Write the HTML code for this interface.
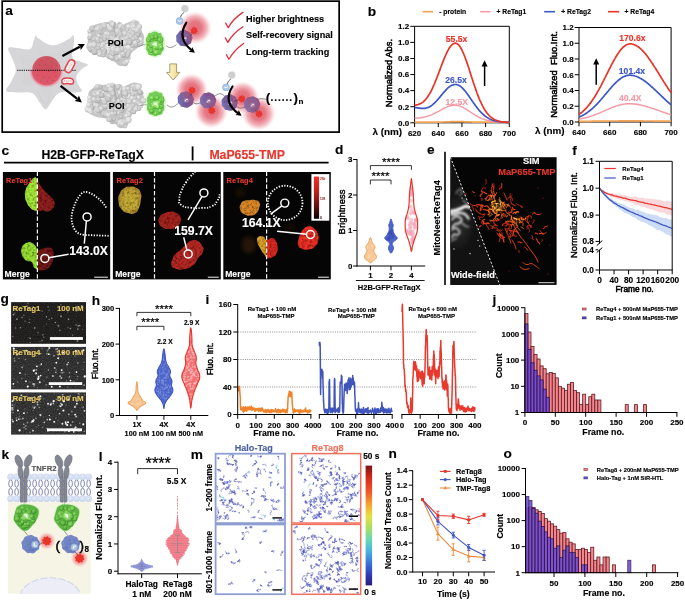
<!DOCTYPE html>
<html lang="en">
<head>
<meta charset="utf-8">
<title>Figure</title>
<style>
html,body{margin:0;padding:0;background:#fff;}
body{width:685px;height:600px;overflow:hidden;}
svg{display:block;font-family:"Liberation Sans", Arial, sans-serif;filter:blur(0.35px);}
text{font-family:"Liberation Sans", Arial, sans-serif;}
</style>
</head>
<body>
<svg width="685" height="600" viewBox="0 0 685 600">
<defs>
<radialGradient id="rglow"><stop offset="0" stop-color="#e0606e" stop-opacity="0.92"/><stop offset="0.4" stop-color="#e26876" stop-opacity="0.85"/><stop offset="0.7" stop-color="#e98490" stop-opacity="0.55"/><stop offset="0.88" stop-color="#f0a0a8" stop-opacity="0.22"/><stop offset="1" stop-color="#f4a8b0" stop-opacity="0"/></radialGradient>
<filter id="soft" x="-10%" y="-10%" width="120%" height="120%"><feGaussianBlur stdDeviation="0.35"/></filter>
<radialGradient id="gp0" cx="0.4" cy="0.35"><stop offset="0" stop-color="#e6e6e6"/><stop offset="0.7" stop-color="#d6d6d6"/><stop offset="1" stop-color="#c0c0c0"/></radialGradient>
<radialGradient id="gp1" cx="0.4" cy="0.35"><stop offset="0" stop-color="#dcdcdc"/><stop offset="0.7" stop-color="#cecece"/><stop offset="1" stop-color="#b8b8b8"/></radialGradient>
<radialGradient id="gp2" cx="0.4" cy="0.35"><stop offset="0" stop-color="#ededed"/><stop offset="0.7" stop-color="#dedede"/><stop offset="1" stop-color="#c8c8c8"/></radialGradient>
<radialGradient id="gp3" cx="0.4" cy="0.35"><stop offset="0" stop-color="#d4d4d4"/><stop offset="0.7" stop-color="#c6c6c6"/><stop offset="1" stop-color="#aeaeae"/></radialGradient>
<radialGradient id="gg0" cx="0.4" cy="0.35"><stop offset="0" stop-color="#9be872"/><stop offset="0.7" stop-color="#78d054"/><stop offset="1" stop-color="#58b23c"/></radialGradient>
<radialGradient id="gg1" cx="0.4" cy="0.35"><stop offset="0" stop-color="#8cdc62"/><stop offset="0.7" stop-color="#6ec64a"/><stop offset="1" stop-color="#52a838"/></radialGradient>
<radialGradient id="gg2" cx="0.4" cy="0.35"><stop offset="0" stop-color="#a8f082"/><stop offset="0.7" stop-color="#84d860"/><stop offset="1" stop-color="#60b844"/></radialGradient>
<radialGradient id="ggc"><stop offset="0" stop-color="#d8ffc0" stop-opacity="0.95"/><stop offset="1" stop-color="#a0ee78" stop-opacity="0"/></radialGradient>
<linearGradient id="gtbase" x1="0" y1="0.7" x2="1" y2="0.3"><stop offset="0" stop-color="#6a78bc"/><stop offset="0.4" stop-color="#785a98"/><stop offset="1" stop-color="#88487c"/></linearGradient>
<radialGradient id="gt0" cx="0.4" cy="0.35"><stop offset="0" stop-color="#8c7cb6"/><stop offset="1" stop-color="#66508c" stop-opacity="0.5"/></radialGradient>
<radialGradient id="gt1" cx="0.4" cy="0.35"><stop offset="0" stop-color="#7c6aa6"/><stop offset="1" stop-color="#58427c" stop-opacity="0.5"/></radialGradient>
<radialGradient id="gball"><stop offset="0" stop-color="#d2d2d2"/><stop offset="0.75" stop-color="#cccccc"/><stop offset="1" stop-color="#d8d8d8" stop-opacity="0.4"/></radialGradient>
<radialGradient id="nuc" cx="0.5" cy="0.45"><stop offset="0" stop-color="#c9505e"/><stop offset="0.8" stop-color="#cf5563"/><stop offset="1" stop-color="#d6606c"/></radialGradient>
<radialGradient id="nucglow"><stop offset="0" stop-color="#ea4c62" stop-opacity="1"/><stop offset="0.8" stop-color="#ee5a70" stop-opacity="0.95"/><stop offset="1" stop-color="#f08090" stop-opacity="0"/></radialGradient>
<linearGradient id="yarrow" x1="0" y1="0" x2="1" y2="0"><stop offset="0" stop-color="#fdf7d6"/><stop offset="0.5" stop-color="#f7e9ae"/><stop offset="1" stop-color="#ead27e"/></linearGradient>
<clipPath id="nlow"><rect x="25" y="70.3" width="45" height="25"/></clipPath>

<filter id="nblur" x="-20%" y="-20%" width="140%" height="140%"><feTurbulence type="fractalNoise" baseFrequency="0.4" numOctaves="2" seed="4" result="n"/><feColorMatrix in="n" type="matrix" values="0 0 0 0 0 0 0 0 0 0 0 0 0 0 0 1.5 0 0 0 -0.6" result="a"/><feGaussianBlur in="SourceGraphic" stdDeviation="0.75" result="b"/><feComposite in="a" in2="b" operator="in" result="d"/><feMerge><feMergeNode in="b"/><feMergeNode in="d"/></feMerge></filter>
<filter id="nblur2" x="-30%" y="-30%" width="160%" height="160%"><feGaussianBlur stdDeviation="2.2"/></filter>
<clipPath id="c1l"><rect x="2.8" y="171.8" width="34.6" height="107.3"/></clipPath>
<clipPath id="c1r"><rect x="37.4" y="171.8" width="72.8" height="107.3"/></clipPath>
<clipPath id="c3l"><rect x="223.3" y="171.8" width="43.3" height="107.3"/></clipPath>
<clipPath id="c3r"><rect x="266.6" y="171.8" width="64.2" height="107.3"/></clipPath>
<clipPath id="c2"><rect x="112.9" y="171.8" width="107.9" height="107.3"/></clipPath>
<linearGradient id="cbar" x1="0" y1="0" x2="0" y2="1"><stop offset="0" stop-color="#f03028"/><stop offset="0.35" stop-color="#c0201c"/><stop offset="0.7" stop-color="#601010"/><stop offset="1" stop-color="#080202"/></linearGradient>
<radialGradient id="ngy" cx="0.5" cy="0.5"><stop offset="0" stop-color="#c8b23a"/><stop offset="0.7" stop-color="#c4a838"/><stop offset="1" stop-color="#b08a30"/></radialGradient>

<clipPath id="eclipL"><path d="M450.4 157.2 L450.4 284.9 L499.8 284.9 Z"/></clipPath>
<clipPath id="eclipR"><path d="M450.4 157.2 L556.6 157.2 L556.6 284.9 L499.8 284.9 Z"/></clipPath>
<filter id="eblur" x="-20%" y="-20%" width="140%" height="140%"><feGaussianBlur stdDeviation="0.85"/></filter>
<filter id="eblur2" x="-20%" y="-20%" width="140%" height="140%"><feGaussianBlur stdDeviation="0.35"/></filter>
<radialGradient id="ecore"><stop offset="0" stop-color="#ffb040" stop-opacity="0.55"/><stop offset="1" stop-color="#ff6020" stop-opacity="0"/></radialGradient>
<radialGradient id="ewf"><stop offset="0" stop-color="#3a3a3a"/><stop offset="1" stop-color="#121212"/></radialGradient>
<filter id="gblur" x="-5%" y="-5%" width="110%" height="110%"><feGaussianBlur stdDeviation="0.6"/></filter><filter id="gnoise" x="0" y="0" width="100%" height="100%"><feTurbulence type="fractalNoise" baseFrequency="0.9" numOctaves="2" seed="7"/><feColorMatrix type="matrix" values="0 0 0 0 1 0 0 0 0 1 0 0 0 0 1 0.9 0 0 0 -0.3"/></filter>
<radialGradient id="kglow"><stop offset="0" stop-color="#f06068" stop-opacity="0.9"/><stop offset="0.6" stop-color="#f4868c" stop-opacity="0.7"/><stop offset="1" stop-color="#f8b0b4" stop-opacity="0"/></radialGradient>
<radialGradient id="kt0" cx="0.4" cy="0.35"><stop offset="0" stop-color="#8ea0dc"/><stop offset="1" stop-color="#5f74b8" stop-opacity="0.6"/></radialGradient>
<radialGradient id="kt1" cx="0.4" cy="0.35"><stop offset="0" stop-color="#8092d0"/><stop offset="1" stop-color="#566aae" stop-opacity="0.6"/></radialGradient>
<radialGradient id="kg0" cx="0.4" cy="0.35"><stop offset="0" stop-color="#84d65c"/><stop offset="0.7" stop-color="#66bc46"/><stop offset="1" stop-color="#4a9c32"/></radialGradient>
<radialGradient id="kg1" cx="0.4" cy="0.35"><stop offset="0" stop-color="#78cc52"/><stop offset="0.7" stop-color="#5cb040"/><stop offset="1" stop-color="#44942e"/></radialGradient>
<radialGradient id="kg2" cx="0.4" cy="0.35"><stop offset="0" stop-color="#90de68"/><stop offset="0.7" stop-color="#70c44e"/><stop offset="1" stop-color="#52a438"/></radialGradient>
<radialGradient id="khead" cx="0.45" cy="0.4"><stop offset="0" stop-color="#e4eaf7"/><stop offset="1" stop-color="#ccd7ee"/></radialGradient>
<clipPath id="kclip"><rect x="7.8" y="454" width="83" height="139.7"/></clipPath>

<linearGradient id="jet" x1="0" y1="0" x2="0" y2="1"><stop offset="0" stop-color="#7a1414"/><stop offset="0.1" stop-color="#d42a1c"/><stop offset="0.22" stop-color="#f0582a"/><stop offset="0.33" stop-color="#f4a830"/><stop offset="0.42" stop-color="#e8e040"/><stop offset="0.52" stop-color="#a8e060"/><stop offset="0.62" stop-color="#68d8b8"/><stop offset="0.72" stop-color="#48b0e0"/><stop offset="0.82" stop-color="#3a70d8"/><stop offset="0.92" stop-color="#3038b0"/><stop offset="1" stop-color="#28207a"/></linearGradient>
</defs>
<rect width="685" height="600" fill="#fff"/>
<g id="panel-a">
<rect x="2.2" y="1.15" width="336.95" height="130.95" fill="none" stroke="#000" stroke-width="1.7"/><text x="5.2" y="14.7" font-size="13.7" font-weight="bold" stroke="#000" stroke-width="0.14">a</text><path d="M36 35.2 C36.92 34.74 35.48 36.65 38.5 38.5 C41.52 40.35 47.09 45.12 52.5 45.3 C57.91 45.48 64.22 41.35 68 39.5 C71.78 37.65 72 34.74 73.1 35.2 C74.2 35.66 74.11 37.95 74 42 C73.89 46.05 71.4 53.72 72.5 57.3 C73.6 60.88 77.19 60.12 80 61.5 C82.81 62.88 87.43 63.42 87.8 64.8 C88.17 66.17 84.07 66.95 82 69 C79.93 71.05 77.23 73.25 76.5 76 C75.77 78.75 77.03 81.25 78 84 C78.97 86.75 82.53 89.44 81.8 91 C81.07 92.56 78 92.22 74 92.5 C70 92.78 64.03 90.94 60 92.5 C55.97 94.06 54.6 97.92 52 101 C49.4 104.08 48 108.93 45.8 109.3 C43.6 109.67 42.48 105.93 40 103 C37.52 100.07 36.33 95.22 32.3 93.3 C28.27 91.38 22.77 92.92 18 92.5 C13.23 92.08 7.58 92.92 6.3 91 C5.02 89.08 9.26 85.85 11 82 C12.74 78.15 15.62 74.4 15.8 70 C15.98 65.6 13.38 61.98 12 58 C10.62 54.02 7.38 50.13 8.3 48.3 C9.22 46.47 13.02 47.87 17 48 C20.98 48.13 26.98 50.28 30 49 C33.02 47.72 32.4 43.53 33.5 41 C34.6 38.47 35.08 35.66 36 35.2Z" fill="#d6d6d8"/><path d="M39.99 49.18 C40.82 48.77 38.81 49.56 41.54 51.23 C44.27 52.9 45.34 55.28 50.22 55.45 C55.1 55.61 56.42 53.52 59.83 51.85 C63.24 50.18 62 48.77 62.99 49.18 C63.98 49.6 63.65 49.75 63.55 53.4 C63.45 57.05 61.63 59.66 62.62 62.89 C63.61 66.11 64.74 64.25 67.27 65.49 C69.8 66.73 71.78 66.3 72.11 67.54 C72.44 68.78 70.38 68.29 68.51 70.14 C66.64 71.99 65.76 72 65.1 74.48 C64.44 76.96 65.15 76.96 66.03 79.44 C66.91 81.92 69.05 82.37 68.39 83.78 C67.72 85.19 67.15 84.46 63.55 84.71 C59.95 84.96 58.51 83.3 54.87 84.71 C51.23 86.12 52.26 87.2 49.91 89.98 C47.56 92.76 48.05 94.8 46.07 95.13 C44.08 95.46 44.7 93.87 42.47 91.22 C40.24 88.57 41.33 86.94 37.7 85.21 C34.06 83.47 33.13 85.09 28.83 84.71 C24.53 84.33 22.73 85.52 21.58 83.78 C20.42 82.04 22.92 81.67 24.49 78.2 C26.06 74.73 27.3 74.73 27.47 70.76 C27.63 66.79 26.35 66.91 25.11 63.32 C23.87 59.73 21.99 58.96 22.82 57.31 C23.64 55.65 24.62 57 28.21 57.12 C31.8 57.24 33.54 58.9 36.27 57.74 C39 56.58 37.45 55.06 38.44 52.78 C39.43 50.5 39.16 49.6 39.99 49.18Z" fill="#d0d0d3" opacity="0.3"/><path d="M20 55 Q26 66 24 84" fill="none" stroke="#cacace" stroke-width="0.4"/><path d="M60 48 Q66 52 74 60" fill="none" stroke="#cacace" stroke-width="0.4"/><path d="M38 92 Q40 98 44 104" fill="none" stroke="#c8c8cc" stroke-width="0.4"/><path d="M50 92 Q50 98 47 104" fill="none" stroke="#c8c8cc" stroke-width="0.4"/><g clip-path="url(#nlow)"><circle cx="46.3" cy="70.6" r="17.2" fill="url(#nucglow)"/></g><circle cx="46.5" cy="70.2" r="14.3" fill="url(#nuc)"/><g clip-path="url(#nlow)"><circle cx="46.5" cy="70.2" r="14.6" fill="#e0566a" opacity="0.75"/></g><circle cx="41.5" cy="60.5" r="0.55" fill="#a83c4c" opacity="0.85"/><circle cx="48" cy="59" r="0.55" fill="#a83c4c" opacity="0.85"/><circle cx="52" cy="61.5" r="0.55" fill="#a83c4c" opacity="0.85"/><circle cx="39.5" cy="65" r="0.55" fill="#a83c4c" opacity="0.85"/><circle cx="45.5" cy="64.5" r="0.55" fill="#a83c4c" opacity="0.85"/><circle cx="51.5" cy="67" r="0.55" fill="#a83c4c" opacity="0.85"/><circle cx="56.5" cy="65.5" r="0.55" fill="#a83c4c" opacity="0.85"/><circle cx="37.5" cy="70" r="0.55" fill="#a83c4c" opacity="0.85"/><circle cx="49" cy="71.5" r="0.55" fill="#a83c4c" opacity="0.85"/><circle cx="54.5" cy="72" r="0.55" fill="#a83c4c" opacity="0.85"/><circle cx="37.5" cy="75.5" r="0.55" fill="#a83c4c" opacity="0.85"/><circle cx="43.5" cy="77" r="0.55" fill="#a83c4c" opacity="0.85"/><circle cx="49.5" cy="77.5" r="0.55" fill="#a83c4c" opacity="0.85"/><circle cx="56" cy="76" r="0.55" fill="#a83c4c" opacity="0.85"/><circle cx="41" cy="81" r="0.55" fill="#a83c4c" opacity="0.85"/><circle cx="47.5" cy="81.5" r="0.55" fill="#a83c4c" opacity="0.85"/><circle cx="53" cy="80.5" r="0.55" fill="#a83c4c" opacity="0.85"/><line x1="17.2" y1="70.3" x2="76.6" y2="70.3" stroke="#000" stroke-width="0.9" stroke-dasharray="1.3 0.9"/><g transform="rotate(-62 69.9 66.2)"><rect x="63.2" y="62.9" width="13.4" height="6.6" rx="3.3" fill="#fdf2f2" stroke="#e0444f" stroke-width="1.5"/><path d="M65.5 66.2 h9" stroke="#f0b8b8" stroke-width="1.6" stroke-dasharray="1.1 1"/></g><g transform="rotate(2 67.6 80.9)"><path d="M61.8 81.6 Q61.6 77.8 67.6 77.9 Q73.6 77.8 73.6 81.4 Q73.6 84.2 70.6 83.9 Q67.6 83 64.6 84 Q61.9 84.4 61.8 81.6Z" fill="#fdf2f2" stroke="#e0444f" stroke-width="1.5"/><path d="M64 81 h7.6" stroke="#f0b8b8" stroke-width="1.6" stroke-dasharray="1.1 1"/></g><line x1="62.4" y1="56.1" x2="79.8" y2="46.66" stroke="#000" stroke-width="2.3"/><path d="M84.9 43.9 L80.77 50.12 L80.15 46.47 L77.43 43.97Z" fill="#000"/><line x1="60.6" y1="85.8" x2="77.33" y2="98.83" stroke="#000" stroke-width="2.3"/><path d="M81.9 102.4 L74.54 101.1 L77.64 99.08 L78.85 95.58Z" fill="#000"/><g filter="url(#soft)"><path d="M86.27 47.29 C86.24 46.08 87.22 43.93 87.53 42.44 C87.84 40.96 88.06 39.91 88.11 38.37 C88.16 36.83 87.71 34.72 87.82 33.23 C87.93 31.74 88.05 30.61 88.79 29.45 C89.53 28.28 91 27.1 92.28 26.25 C93.56 25.39 94.92 24.86 96.45 24.31 C97.99 23.76 99.8 23.25 101.5 22.95 C103.19 22.64 105.15 22.66 106.64 22.46 C108.13 22.27 109.37 21.67 110.42 21.78 C111.47 21.9 112.2 22.51 112.94 23.14 C113.69 23.77 114.2 25.57 114.88 25.57 C115.56 25.57 116.27 23.77 117.02 23.14 C117.76 22.51 118.6 21.82 119.34 21.78 C120.09 21.75 120.83 22.41 121.48 22.95 C122.13 23.48 122.51 24.92 123.22 24.98 C123.94 25.05 124.91 23.76 125.75 23.34 C126.59 22.92 127.2 22.9 128.27 22.46 C129.34 22.03 130.95 21.02 132.15 20.72 C133.35 20.41 134.4 20.49 135.45 20.62 C136.5 20.75 137.71 20.93 138.45 21.49 C139.2 22.06 139.59 23.11 139.91 24.01 C140.23 24.92 140.14 26.04 140.39 26.92 C140.65 27.81 141.19 28.51 141.46 29.35 C141.74 30.19 141.69 31.08 142.04 31.97 C142.4 32.86 143.24 33.73 143.59 34.68 C143.95 35.64 144.27 36.64 144.18 37.69 C144.08 38.74 143.53 39.92 143.01 40.99 C142.5 42.06 141.78 43.12 141.07 44.09 C140.36 45.06 139.6 45.97 138.74 46.81 C137.89 47.65 136.8 48.46 135.93 49.14 C135.06 49.82 134.25 50.24 133.51 50.88 C132.76 51.53 132.02 52.08 131.47 53.02 C130.92 53.96 130.63 55.35 130.21 56.51 C129.79 57.67 129.43 58.9 128.95 60 C128.46 61.1 127.95 62.25 127.3 63.11 C126.65 63.96 125.91 64.66 125.07 65.14 C124.23 65.63 123.21 65.92 122.25 66.02 C121.3 66.11 120.19 65.98 119.34 65.72 C118.5 65.47 117.84 65 117.21 64.46 C116.58 63.93 116.24 63.11 115.56 62.52 C114.88 61.94 113.99 61.39 113.14 60.97 C112.28 60.55 111.39 60.49 110.42 60 C109.45 59.52 108.37 58.69 107.32 58.06 C106.27 57.43 105.31 56.61 104.12 56.22 C102.92 55.83 101.42 55.94 100.14 55.73 C98.86 55.52 97.65 55.31 96.45 54.96 C95.26 54.6 94.03 54.13 92.96 53.6 C91.89 53.07 90.92 52.4 90.05 51.76 C89.18 51.11 88.35 50.46 87.72 49.72 C87.09 48.98 86.3 48.51 86.27 47.29Z" fill="#c6c6c6"/><circle cx="112.6" cy="45.9" r="3.1" fill="url(#gp3)"/><circle cx="112.5" cy="58.9" r="1.9" fill="url(#gp3)"/><circle cx="122.6" cy="56.1" r="1.8" fill="url(#gp2)"/><circle cx="95.0" cy="44.9" r="3.0" fill="url(#gp0)"/><circle cx="120.7" cy="38.7" r="2.3" fill="url(#gp1)"/><circle cx="122.3" cy="57.8" r="1.7" fill="url(#gp0)"/><circle cx="97.7" cy="31.9" r="1.6" fill="url(#gp3)"/><circle cx="105.4" cy="47.2" r="1.9" fill="url(#gp1)"/><circle cx="123.2" cy="43.2" r="2.7" fill="url(#gp3)"/><circle cx="124.1" cy="39.1" r="2.5" fill="url(#gp0)"/><circle cx="127.1" cy="35.1" r="2.0" fill="url(#gp2)"/><circle cx="88.6" cy="46.0" r="1.8" fill="url(#gp0)"/><circle cx="134.9" cy="38.2" r="3.1" fill="url(#gp0)"/><circle cx="89.9" cy="37.8" r="2.7" fill="url(#gp3)"/><circle cx="91.1" cy="48.9" r="2.8" fill="url(#gp2)"/><circle cx="106.0" cy="34.9" r="1.6" fill="url(#gp3)"/><circle cx="129.9" cy="26.4" r="2.0" fill="url(#gp0)"/><circle cx="114.5" cy="51.2" r="1.9" fill="url(#gp1)"/><circle cx="110.7" cy="38.1" r="2.2" fill="url(#gp1)"/><circle cx="121.1" cy="46.6" r="1.7" fill="url(#gp1)"/><circle cx="99.0" cy="32.6" r="2.8" fill="url(#gp2)"/><circle cx="134.0" cy="38.2" r="1.7" fill="url(#gp1)"/><circle cx="120.0" cy="31.9" r="2.6" fill="url(#gp2)"/><circle cx="122.2" cy="26.8" r="2.5" fill="url(#gp1)"/><circle cx="136.1" cy="29.3" r="1.8" fill="url(#gp1)"/><circle cx="133.3" cy="32.2" r="1.9" fill="url(#gp1)"/><circle cx="125.9" cy="38.3" r="2.4" fill="url(#gp0)"/><circle cx="110.8" cy="25.8" r="1.7" fill="url(#gp2)"/><circle cx="100.4" cy="52.2" r="2.0" fill="url(#gp3)"/><circle cx="103.6" cy="29.0" r="2.8" fill="url(#gp0)"/><circle cx="94.1" cy="42.3" r="2.6" fill="url(#gp0)"/><circle cx="102.2" cy="40.8" r="1.7" fill="url(#gp1)"/><circle cx="102.9" cy="44.6" r="3.2" fill="url(#gp0)"/><circle cx="126.1" cy="47.0" r="1.8" fill="url(#gp0)"/><circle cx="139.3" cy="42.1" r="2.2" fill="url(#gp2)"/><circle cx="123.0" cy="42.5" r="2.8" fill="url(#gp2)"/><circle cx="112.6" cy="37.4" r="1.7" fill="url(#gp1)"/><circle cx="106.9" cy="51.4" r="3.0" fill="url(#gp3)"/><circle cx="124.5" cy="37.9" r="1.6" fill="url(#gp0)"/><circle cx="91.5" cy="49.4" r="3.2" fill="url(#gp3)"/><circle cx="128.2" cy="38.3" r="2.8" fill="url(#gp3)"/><circle cx="111.9" cy="58.1" r="1.7" fill="url(#gp0)"/><circle cx="104.5" cy="25.1" r="1.6" fill="url(#gp0)"/><circle cx="115.1" cy="48.3" r="3.1" fill="url(#gp2)"/><circle cx="137.8" cy="37.4" r="1.8" fill="url(#gp1)"/><circle cx="116.3" cy="54.4" r="2.1" fill="url(#gp3)"/><circle cx="115.2" cy="31.9" r="2.2" fill="url(#gp2)"/><circle cx="98.2" cy="40.2" r="2.9" fill="url(#gp1)"/><circle cx="136.8" cy="38.2" r="2.5" fill="url(#gp2)"/><circle cx="98.8" cy="27.2" r="2.2" fill="url(#gp0)"/><circle cx="102.6" cy="28.7" r="2.3" fill="url(#gp2)"/><circle cx="108.6" cy="44.1" r="2.7" fill="url(#gp3)"/><circle cx="102.7" cy="48.0" r="2.7" fill="url(#gp2)"/><circle cx="119.3" cy="34.8" r="2.9" fill="url(#gp0)"/><circle cx="123.3" cy="39.1" r="1.9" fill="url(#gp2)"/><circle cx="100.4" cy="27.4" r="1.7" fill="url(#gp0)"/><circle cx="112.2" cy="49.0" r="2.6" fill="url(#gp2)"/><circle cx="98.2" cy="42.1" r="1.9" fill="url(#gp0)"/><circle cx="129.7" cy="44.8" r="1.7" fill="url(#gp1)"/><circle cx="102.4" cy="36.4" r="2.7" fill="url(#gp1)"/><circle cx="109.2" cy="56.1" r="3.0" fill="url(#gp0)"/><circle cx="108.9" cy="41.1" r="1.9" fill="url(#gp0)"/><circle cx="108.3" cy="46.3" r="3.0" fill="url(#gp2)"/><circle cx="113.2" cy="49.9" r="1.9" fill="url(#gp0)"/><circle cx="117.4" cy="56.0" r="2.1" fill="url(#gp0)"/><circle cx="106.7" cy="24.9" r="2.3" fill="url(#gp3)"/><circle cx="130.5" cy="42.7" r="1.6" fill="url(#gp0)"/><circle cx="111.2" cy="22.8" r="2.5" fill="url(#gp1)"/><circle cx="138.0" cy="44.0" r="2.7" fill="url(#gp3)"/><circle cx="140.6" cy="42.9" r="3.1" fill="url(#gp0)"/><circle cx="129.9" cy="40.6" r="2.5" fill="url(#gp1)"/><circle cx="116.6" cy="58.4" r="2.5" fill="url(#gp2)"/><circle cx="125.0" cy="63.2" r="3.0" fill="url(#gp1)"/><circle cx="104.2" cy="27.4" r="2.5" fill="url(#gp2)"/><circle cx="119.4" cy="30.1" r="2.5" fill="url(#gp0)"/><circle cx="109.6" cy="56.5" r="2.5" fill="url(#gp3)"/><circle cx="92.2" cy="28.6" r="3.1" fill="url(#gp3)"/><circle cx="139.3" cy="33.1" r="2.4" fill="url(#gp1)"/><circle cx="116.7" cy="26.0" r="2.3" fill="url(#gp0)"/><circle cx="139.4" cy="26.9" r="2.8" fill="url(#gp0)"/><circle cx="128.0" cy="32.0" r="2.4" fill="url(#gp3)"/><circle cx="128.4" cy="26.6" r="2.4" fill="url(#gp2)"/><circle cx="127.6" cy="52.1" r="3.0" fill="url(#gp0)"/><circle cx="108.2" cy="39.4" r="2.4" fill="url(#gp1)"/><circle cx="117.4" cy="59.2" r="2.5" fill="url(#gp1)"/><circle cx="117.0" cy="58.7" r="2.6" fill="url(#gp1)"/><circle cx="100.1" cy="53.8" r="2.9" fill="url(#gp1)"/><circle cx="104.8" cy="35.1" r="3.1" fill="url(#gp1)"/><circle cx="131.1" cy="29.8" r="1.8" fill="url(#gp1)"/><circle cx="108.9" cy="40.4" r="3.1" fill="url(#gp1)"/><circle cx="98.3" cy="48.9" r="2.9" fill="url(#gp0)"/><circle cx="98.3" cy="51.3" r="3.1" fill="url(#gp2)"/><circle cx="93.5" cy="43.5" r="2.8" fill="url(#gp1)"/><circle cx="132.4" cy="42.4" r="1.6" fill="url(#gp3)"/><circle cx="95.2" cy="29.4" r="1.9" fill="url(#gp1)"/><circle cx="140.9" cy="41.6" r="2.8" fill="url(#gp2)"/><circle cx="109.1" cy="40.0" r="2.2" fill="url(#gp1)"/><circle cx="126.7" cy="58.4" r="1.9" fill="url(#gp3)"/><circle cx="107.3" cy="37.5" r="3.1" fill="url(#gp1)"/><circle cx="105.3" cy="25.0" r="2.9" fill="url(#gp3)"/><circle cx="119.2" cy="29.6" r="2.5" fill="url(#gp2)"/><circle cx="132.6" cy="32.6" r="3.1" fill="url(#gp1)"/><circle cx="133.1" cy="39.1" r="3.0" fill="url(#gp2)"/><circle cx="109.9" cy="53.0" r="1.7" fill="url(#gp2)"/><circle cx="104.0" cy="25.7" r="3.0" fill="url(#gp0)"/><circle cx="124.7" cy="36.1" r="2.7" fill="url(#gp1)"/><circle cx="117.1" cy="38.4" r="3.2" fill="url(#gp1)"/><circle cx="126.7" cy="54.7" r="3.2" fill="url(#gp0)"/><circle cx="100.4" cy="40.8" r="2.4" fill="url(#gp1)"/><circle cx="101.6" cy="33.4" r="2.1" fill="url(#gp3)"/><circle cx="132.8" cy="24.6" r="2.6" fill="url(#gp0)"/><circle cx="135.4" cy="45.1" r="2.6" fill="url(#gp3)"/><circle cx="140.5" cy="39.7" r="2.4" fill="url(#gp2)"/><circle cx="107.6" cy="33.8" r="2.6" fill="url(#gp2)"/><circle cx="124.5" cy="54.1" r="1.6" fill="url(#gp1)"/><circle cx="120.1" cy="49.1" r="2.3" fill="url(#gp3)"/><circle cx="89.9" cy="35.1" r="2.2" fill="url(#gp2)"/><circle cx="111.3" cy="42.3" r="3.2" fill="url(#gp1)"/><circle cx="100.8" cy="52.3" r="1.7" fill="url(#gp3)"/><circle cx="112.8" cy="30.2" r="1.7" fill="url(#gp1)"/><circle cx="94.0" cy="40.7" r="2.7" fill="url(#gp3)"/><circle cx="121.0" cy="49.4" r="2.7" fill="url(#gp2)"/><circle cx="131.0" cy="44.6" r="3.2" fill="url(#gp2)"/><circle cx="128.6" cy="31.7" r="1.8" fill="url(#gp2)"/><circle cx="131.4" cy="48.7" r="2.2" fill="url(#gp2)"/><circle cx="121.5" cy="53.1" r="2.7" fill="url(#gp1)"/><circle cx="122.8" cy="54.4" r="1.9" fill="url(#gp1)"/><circle cx="115.4" cy="50.0" r="1.9" fill="url(#gp0)"/><circle cx="89.1" cy="31.0" r="2.0" fill="url(#gp0)"/><circle cx="138.7" cy="28.3" r="2.0" fill="url(#gp2)"/><circle cx="114.4" cy="36.8" r="2.1" fill="url(#gp3)"/><circle cx="129.2" cy="58.1" r="1.7" fill="url(#gp0)"/><circle cx="112.3" cy="57.4" r="2.9" fill="url(#gp1)"/><circle cx="112.1" cy="54.1" r="2.2" fill="url(#gp1)"/><circle cx="107.8" cy="50.0" r="3.2" fill="url(#gp2)"/><circle cx="103.4" cy="54.6" r="2.9" fill="url(#gp1)"/><circle cx="111.2" cy="37.5" r="1.8" fill="url(#gp2)"/><circle cx="118.9" cy="42.6" r="2.7" fill="url(#gp2)"/><circle cx="133.6" cy="21.6" r="2.1" fill="url(#gp0)"/><circle cx="126.3" cy="43.0" r="2.8" fill="url(#gp2)"/><circle cx="103.0" cy="27.5" r="2.2" fill="url(#gp2)"/><circle cx="107.7" cy="26.4" r="2.7" fill="url(#gp2)"/><circle cx="111.8" cy="56.6" r="2.1" fill="url(#gp2)"/><circle cx="128.3" cy="43.9" r="1.7" fill="url(#gp2)"/><circle cx="120.1" cy="56.3" r="2.8" fill="url(#gp2)"/><circle cx="132.1" cy="45.0" r="2.9" fill="url(#gp1)"/><circle cx="136.9" cy="33.6" r="1.6" fill="url(#gp0)"/><circle cx="117.8" cy="46.2" r="3.1" fill="url(#gp3)"/><circle cx="90.5" cy="45.3" r="2.9" fill="url(#gp0)"/><circle cx="105.9" cy="33.3" r="1.8" fill="url(#gp2)"/><circle cx="91.7" cy="49.1" r="1.8" fill="url(#gp3)"/><circle cx="100.8" cy="30.9" r="2.8" fill="url(#gp2)"/><circle cx="130.3" cy="38.6" r="2.1" fill="url(#gp2)"/><circle cx="125.0" cy="43.0" r="2.5" fill="url(#gp0)"/><circle cx="127.1" cy="61.5" r="2.3" fill="url(#gp2)"/><circle cx="116.6" cy="52.5" r="2.9" fill="url(#gp3)"/><circle cx="100.8" cy="28.4" r="2.6" fill="url(#gp1)"/><circle cx="105.1" cy="38.4" r="2.4" fill="url(#gp2)"/><circle cx="104.4" cy="26.3" r="2.6" fill="url(#gp1)"/><circle cx="132.3" cy="35.0" r="1.9" fill="url(#gp2)"/><circle cx="99.2" cy="31.6" r="2.7" fill="url(#gp1)"/><circle cx="135.3" cy="42.6" r="2.2" fill="url(#gp2)"/><circle cx="124.4" cy="55.2" r="1.7" fill="url(#gp1)"/><circle cx="109.6" cy="30.8" r="1.8" fill="url(#gp3)"/><circle cx="138.3" cy="41.0" r="2.0" fill="url(#gp3)"/><circle cx="121.3" cy="28.2" r="1.9" fill="url(#gp2)"/><circle cx="132.9" cy="27.0" r="2.8" fill="url(#gp2)"/><circle cx="119.3" cy="29.1" r="1.9" fill="url(#gp1)"/><circle cx="133.5" cy="24.9" r="2.0" fill="url(#gp0)"/><circle cx="117.7" cy="43.5" r="1.6" fill="url(#gp1)"/><circle cx="98.7" cy="45.1" r="2.4" fill="url(#gp1)"/><circle cx="104.8" cy="39.1" r="2.5" fill="url(#gp3)"/><circle cx="124.8" cy="51.0" r="2.8" fill="url(#gp0)"/><circle cx="108.3" cy="52.5" r="2.0" fill="url(#gp0)"/><circle cx="98.6" cy="48.3" r="2.1" fill="url(#gp3)"/><circle cx="118.4" cy="25.1" r="1.9" fill="url(#gp3)"/><circle cx="128.4" cy="35.7" r="3.1" fill="url(#gp3)"/><circle cx="128.0" cy="35.8" r="2.9" fill="url(#gp0)"/><circle cx="92.7" cy="48.6" r="1.8" fill="url(#gp1)"/><circle cx="97.1" cy="38.9" r="2.9" fill="url(#gp0)"/><circle cx="130.7" cy="36.3" r="2.9" fill="url(#gp1)"/><circle cx="123.6" cy="55.0" r="2.9" fill="url(#gp3)"/><circle cx="122.2" cy="53.2" r="2.6" fill="url(#gp2)"/><circle cx="124.4" cy="48.0" r="1.6" fill="url(#gp2)"/><circle cx="97.6" cy="34.7" r="2.3" fill="url(#gp3)"/><circle cx="98.5" cy="35.9" r="2.1" fill="url(#gp0)"/><circle cx="121.6" cy="28.2" r="2.8" fill="url(#gp2)"/><circle cx="118.0" cy="36.7" r="2.4" fill="url(#gp1)"/><circle cx="119.5" cy="30.0" r="3.1" fill="url(#gp1)"/><circle cx="124.3" cy="55.4" r="1.8" fill="url(#gp3)"/><circle cx="119.6" cy="51.9" r="2.1" fill="url(#gp2)"/><circle cx="112.6" cy="53.3" r="2.0" fill="url(#gp0)"/><circle cx="118.7" cy="32.9" r="3.1" fill="url(#gp2)"/><circle cx="121.0" cy="26.6" r="2.9" fill="url(#gp2)"/><circle cx="125.8" cy="37.2" r="2.8" fill="url(#gp2)"/><circle cx="134.0" cy="29.4" r="2.5" fill="url(#gp0)"/><circle cx="112.7" cy="39.0" r="2.9" fill="url(#gp1)"/><circle cx="104.4" cy="50.8" r="2.8" fill="url(#gp3)"/><circle cx="121.8" cy="49.4" r="2.8" fill="url(#gp1)"/><circle cx="98.2" cy="41.8" r="1.8" fill="url(#gp3)"/><circle cx="93.6" cy="39.1" r="2.1" fill="url(#gp1)"/><circle cx="101.9" cy="46.2" r="2.1" fill="url(#gp0)"/><circle cx="127.8" cy="55.9" r="2.2" fill="url(#gp3)"/><circle cx="120.9" cy="41.9" r="2.3" fill="url(#gp3)"/><circle cx="129.5" cy="42.6" r="3.2" fill="url(#gp3)"/><circle cx="133.7" cy="26.4" r="1.8" fill="url(#gp2)"/><circle cx="116.7" cy="40.3" r="3.0" fill="url(#gp2)"/><circle cx="138.4" cy="34.3" r="2.6" fill="url(#gp3)"/><circle cx="128.4" cy="47.5" r="2.8" fill="url(#gp2)"/><circle cx="117.8" cy="50.1" r="3.1" fill="url(#gp0)"/><circle cx="136.3" cy="37.5" r="2.5" fill="url(#gp1)"/><circle cx="99.5" cy="54.1" r="2.5" fill="url(#gp0)"/><circle cx="93.9" cy="44.9" r="3.1" fill="url(#gp0)"/><circle cx="103.7" cy="53.3" r="1.6" fill="url(#gp1)"/><circle cx="133.2" cy="38.7" r="2.2" fill="url(#gp1)"/><circle cx="137.9" cy="34.8" r="2.4" fill="url(#gp3)"/><circle cx="136.8" cy="30.2" r="3.0" fill="url(#gp0)"/><circle cx="107.0" cy="42.0" r="1.9" fill="url(#gp1)"/><circle cx="117.1" cy="31.6" r="3.1" fill="url(#gp0)"/><circle cx="123.8" cy="34.7" r="2.9" fill="url(#gp2)"/><circle cx="94.6" cy="51.9" r="3.1" fill="url(#gp3)"/><circle cx="110.5" cy="28.7" r="3.0" fill="url(#gp0)"/><circle cx="127.2" cy="29.9" r="1.9" fill="url(#gp1)"/><circle cx="115.4" cy="34.2" r="2.0" fill="url(#gp0)"/><circle cx="120.4" cy="31.3" r="2.1" fill="url(#gp1)"/><circle cx="124.7" cy="33.4" r="2.6" fill="url(#gp0)"/><circle cx="113.2" cy="24.6" r="3.1" fill="url(#gp0)"/><circle cx="120.9" cy="33.8" r="2.0" fill="url(#gp0)"/><circle cx="97.7" cy="29.1" r="2.8" fill="url(#gp0)"/><circle cx="113.1" cy="54.3" r="2.2" fill="url(#gp3)"/><path d="M114.6 22.9 Q113.2 30.5 116.2 36.5" fill="none" stroke="#9c9c9c" stroke-width="1.6" opacity="0.55" stroke-linecap="round"/><path d="M121.6 25.5 Q119.6 31.5 122.2 35.5" fill="none" stroke="#a4a4a4" stroke-width="1.2" opacity="0.5" stroke-linecap="round"/></g><g filter="url(#soft)"><path d="M86.67 109.39 C86.64 108.18 87.62 106.03 87.93 104.54 C88.24 103.06 88.46 102.01 88.51 100.47 C88.56 98.93 88.11 96.82 88.22 95.33 C88.33 93.84 88.45 92.71 89.19 91.55 C89.93 90.38 91.4 89.2 92.68 88.35 C93.96 87.49 95.32 86.96 96.85 86.41 C98.39 85.86 100.2 85.35 101.9 85.05 C103.59 84.74 105.55 84.76 107.04 84.56 C108.53 84.37 109.77 83.77 110.82 83.88 C111.87 84 112.6 84.61 113.34 85.24 C114.09 85.87 114.6 87.67 115.28 87.67 C115.96 87.67 116.67 85.87 117.42 85.24 C118.16 84.61 119 83.92 119.74 83.88 C120.49 83.85 121.23 84.51 121.88 85.05 C122.53 85.58 122.91 87.02 123.62 87.08 C124.34 87.15 125.31 85.86 126.15 85.44 C126.99 85.02 127.6 85 128.67 84.56 C129.74 84.13 131.35 83.12 132.55 82.82 C133.75 82.51 134.8 82.59 135.85 82.72 C136.9 82.85 138.11 83.03 138.85 83.59 C139.6 84.16 139.99 85.21 140.31 86.11 C140.63 87.02 140.54 88.14 140.79 89.02 C141.05 89.91 141.59 90.61 141.86 91.45 C142.14 92.29 142.09 93.18 142.44 94.07 C142.8 94.96 143.64 95.83 143.99 96.78 C144.35 97.74 144.67 98.74 144.58 99.79 C144.48 100.84 143.93 102.02 143.41 103.09 C142.9 104.16 142.18 105.22 141.47 106.19 C140.76 107.16 140 108.07 139.14 108.91 C138.29 109.75 137.2 110.56 136.33 111.24 C135.46 111.92 134.65 112.34 133.91 112.98 C133.16 113.63 132.42 114.18 131.87 115.12 C131.32 116.06 131.03 117.45 130.61 118.61 C130.19 119.77 129.83 121 129.35 122.1 C128.86 123.2 128.35 124.35 127.7 125.21 C127.05 126.06 126.31 126.76 125.47 127.24 C124.63 127.73 123.61 128.02 122.65 128.12 C121.7 128.21 120.59 128.08 119.74 127.82 C118.9 127.57 118.24 127.1 117.61 126.56 C116.98 126.03 116.64 125.21 115.96 124.62 C115.28 124.04 114.39 123.49 113.54 123.07 C112.68 122.65 111.79 122.59 110.82 122.1 C109.85 121.62 108.77 120.79 107.72 120.16 C106.67 119.53 105.71 118.71 104.52 118.32 C103.32 117.93 101.82 118.04 100.54 117.83 C99.26 117.62 98.05 117.41 96.85 117.06 C95.66 116.7 94.43 116.23 93.36 115.7 C92.29 115.17 91.32 114.5 90.45 113.86 C89.58 113.21 88.75 112.56 88.12 111.82 C87.49 111.08 86.7 110.61 86.67 109.39Z" fill="#c6c6c6"/><circle cx="105.5" cy="104.6" r="1.7" fill="url(#gp2)"/><circle cx="116.0" cy="120.5" r="2.7" fill="url(#gp1)"/><circle cx="121.0" cy="117.3" r="1.8" fill="url(#gp3)"/><circle cx="100.7" cy="102.7" r="2.8" fill="url(#gp1)"/><circle cx="102.0" cy="107.3" r="3.0" fill="url(#gp3)"/><circle cx="102.1" cy="92.2" r="3.2" fill="url(#gp0)"/><circle cx="119.8" cy="121.7" r="1.9" fill="url(#gp1)"/><circle cx="121.8" cy="110.1" r="2.9" fill="url(#gp3)"/><circle cx="128.3" cy="121.0" r="1.6" fill="url(#gp0)"/><circle cx="138.8" cy="108.4" r="2.5" fill="url(#gp1)"/><circle cx="111.4" cy="113.9" r="2.9" fill="url(#gp2)"/><circle cx="130.7" cy="105.3" r="2.6" fill="url(#gp1)"/><circle cx="108.8" cy="94.3" r="2.4" fill="url(#gp3)"/><circle cx="90.8" cy="101.4" r="2.2" fill="url(#gp1)"/><circle cx="121.4" cy="89.3" r="2.8" fill="url(#gp0)"/><circle cx="117.1" cy="87.4" r="2.5" fill="url(#gp3)"/><circle cx="111.4" cy="86.7" r="1.7" fill="url(#gp1)"/><circle cx="104.1" cy="88.6" r="3.0" fill="url(#gp3)"/><circle cx="108.0" cy="98.2" r="3.2" fill="url(#gp1)"/><circle cx="89.6" cy="101.1" r="2.6" fill="url(#gp0)"/><circle cx="129.1" cy="108.3" r="3.1" fill="url(#gp1)"/><circle cx="113.5" cy="100.6" r="2.9" fill="url(#gp3)"/><circle cx="108.8" cy="85.5" r="2.3" fill="url(#gp1)"/><circle cx="97.7" cy="107.5" r="1.9" fill="url(#gp1)"/><circle cx="110.0" cy="109.5" r="2.8" fill="url(#gp3)"/><circle cx="125.8" cy="121.3" r="1.9" fill="url(#gp3)"/><circle cx="111.1" cy="85.4" r="2.0" fill="url(#gp2)"/><circle cx="122.5" cy="106.2" r="2.8" fill="url(#gp3)"/><circle cx="119.5" cy="111.9" r="1.9" fill="url(#gp0)"/><circle cx="107.8" cy="90.1" r="3.1" fill="url(#gp2)"/><circle cx="95.1" cy="93.9" r="2.9" fill="url(#gp0)"/><circle cx="109.1" cy="87.0" r="3.0" fill="url(#gp2)"/><circle cx="125.3" cy="96.6" r="2.6" fill="url(#gp3)"/><circle cx="105.0" cy="102.0" r="2.5" fill="url(#gp1)"/><circle cx="116.6" cy="107.5" r="2.1" fill="url(#gp3)"/><circle cx="125.1" cy="89.8" r="1.9" fill="url(#gp2)"/><circle cx="117.7" cy="103.1" r="1.8" fill="url(#gp2)"/><circle cx="100.1" cy="96.2" r="2.2" fill="url(#gp1)"/><circle cx="129.7" cy="104.6" r="1.6" fill="url(#gp2)"/><circle cx="135.7" cy="107.9" r="2.2" fill="url(#gp0)"/><circle cx="100.6" cy="111.2" r="1.7" fill="url(#gp3)"/><circle cx="94.1" cy="105.0" r="2.4" fill="url(#gp2)"/><circle cx="103.5" cy="114.3" r="2.0" fill="url(#gp3)"/><circle cx="107.2" cy="114.7" r="2.4" fill="url(#gp2)"/><circle cx="114.4" cy="94.6" r="3.0" fill="url(#gp2)"/><circle cx="109.5" cy="99.4" r="1.7" fill="url(#gp3)"/><circle cx="102.7" cy="99.9" r="3.0" fill="url(#gp2)"/><circle cx="113.9" cy="97.7" r="2.0" fill="url(#gp0)"/><circle cx="89.3" cy="97.6" r="2.2" fill="url(#gp2)"/><circle cx="102.2" cy="112.7" r="1.9" fill="url(#gp3)"/><circle cx="109.1" cy="98.4" r="3.0" fill="url(#gp0)"/><circle cx="120.0" cy="124.8" r="2.8" fill="url(#gp0)"/><circle cx="122.5" cy="101.4" r="2.3" fill="url(#gp2)"/><circle cx="91.2" cy="103.8" r="2.3" fill="url(#gp3)"/><circle cx="116.1" cy="96.9" r="2.2" fill="url(#gp0)"/><circle cx="95.8" cy="91.8" r="2.0" fill="url(#gp1)"/><circle cx="118.2" cy="100.7" r="2.0" fill="url(#gp3)"/><circle cx="132.5" cy="95.0" r="1.8" fill="url(#gp0)"/><circle cx="105.1" cy="114.8" r="2.7" fill="url(#gp1)"/><circle cx="96.4" cy="110.7" r="2.4" fill="url(#gp2)"/><circle cx="108.3" cy="95.9" r="2.8" fill="url(#gp3)"/><circle cx="100.8" cy="94.3" r="2.1" fill="url(#gp1)"/><circle cx="116.4" cy="113.2" r="1.7" fill="url(#gp3)"/><circle cx="136.6" cy="85.7" r="2.0" fill="url(#gp3)"/><circle cx="101.7" cy="111.3" r="2.2" fill="url(#gp2)"/><circle cx="98.9" cy="108.1" r="1.8" fill="url(#gp3)"/><circle cx="123.7" cy="88.9" r="2.8" fill="url(#gp2)"/><circle cx="132.8" cy="88.8" r="2.2" fill="url(#gp2)"/><circle cx="100.4" cy="91.5" r="1.6" fill="url(#gp1)"/><circle cx="102.5" cy="95.3" r="2.0" fill="url(#gp3)"/><circle cx="109.2" cy="113.2" r="1.8" fill="url(#gp1)"/><circle cx="127.8" cy="88.5" r="1.7" fill="url(#gp2)"/><circle cx="107.5" cy="107.0" r="2.9" fill="url(#gp3)"/><circle cx="118.1" cy="104.6" r="2.2" fill="url(#gp2)"/><circle cx="112.2" cy="121.6" r="2.6" fill="url(#gp1)"/><circle cx="109.5" cy="110.5" r="2.8" fill="url(#gp3)"/><circle cx="125.6" cy="92.9" r="2.1" fill="url(#gp1)"/><circle cx="112.4" cy="120.0" r="2.5" fill="url(#gp2)"/><circle cx="137.3" cy="102.4" r="1.8" fill="url(#gp0)"/><circle cx="102.6" cy="108.4" r="2.0" fill="url(#gp3)"/><circle cx="102.9" cy="93.4" r="2.4" fill="url(#gp2)"/><circle cx="118.6" cy="107.9" r="1.8" fill="url(#gp0)"/><circle cx="137.9" cy="96.9" r="1.7" fill="url(#gp1)"/><circle cx="106.4" cy="89.5" r="2.9" fill="url(#gp3)"/><circle cx="114.8" cy="101.6" r="2.9" fill="url(#gp3)"/><circle cx="118.9" cy="92.8" r="2.6" fill="url(#gp2)"/><circle cx="112.4" cy="120.0" r="2.8" fill="url(#gp1)"/><circle cx="117.9" cy="113.0" r="2.0" fill="url(#gp0)"/><circle cx="130.1" cy="97.0" r="2.4" fill="url(#gp0)"/><circle cx="137.6" cy="86.1" r="2.2" fill="url(#gp2)"/><circle cx="129.0" cy="100.9" r="2.9" fill="url(#gp0)"/><circle cx="140.4" cy="104.5" r="2.9" fill="url(#gp3)"/><circle cx="88.6" cy="108.7" r="2.0" fill="url(#gp3)"/><circle cx="128.4" cy="105.6" r="2.0" fill="url(#gp2)"/><circle cx="122.9" cy="103.1" r="2.1" fill="url(#gp0)"/><circle cx="138.6" cy="97.5" r="1.8" fill="url(#gp2)"/><circle cx="99.4" cy="91.3" r="1.7" fill="url(#gp1)"/><circle cx="118.3" cy="113.3" r="1.9" fill="url(#gp0)"/><circle cx="96.1" cy="99.7" r="1.9" fill="url(#gp0)"/><circle cx="110.2" cy="97.5" r="2.5" fill="url(#gp1)"/><circle cx="91.1" cy="109.3" r="2.5" fill="url(#gp2)"/><circle cx="99.8" cy="101.3" r="2.7" fill="url(#gp1)"/><circle cx="133.4" cy="86.4" r="2.2" fill="url(#gp2)"/><circle cx="128.7" cy="112.5" r="3.1" fill="url(#gp0)"/><circle cx="99.4" cy="110.5" r="3.0" fill="url(#gp3)"/><circle cx="115.9" cy="108.3" r="1.8" fill="url(#gp3)"/><circle cx="112.1" cy="103.9" r="2.9" fill="url(#gp1)"/><circle cx="108.6" cy="107.1" r="1.7" fill="url(#gp0)"/><circle cx="117.3" cy="103.2" r="2.1" fill="url(#gp0)"/><circle cx="121.0" cy="124.3" r="1.8" fill="url(#gp3)"/><circle cx="105.9" cy="94.6" r="2.6" fill="url(#gp1)"/><circle cx="115.2" cy="93.6" r="2.9" fill="url(#gp1)"/><circle cx="127.7" cy="94.4" r="2.9" fill="url(#gp3)"/><circle cx="111.5" cy="104.9" r="3.1" fill="url(#gp1)"/><circle cx="91.5" cy="107.8" r="2.9" fill="url(#gp3)"/><circle cx="137.0" cy="86.5" r="2.4" fill="url(#gp0)"/><circle cx="131.0" cy="107.5" r="3.0" fill="url(#gp1)"/><circle cx="133.3" cy="91.2" r="2.1" fill="url(#gp2)"/><circle cx="141.5" cy="93.0" r="2.1" fill="url(#gp3)"/><circle cx="97.6" cy="100.4" r="3.0" fill="url(#gp3)"/><circle cx="138.5" cy="86.5" r="3.2" fill="url(#gp1)"/><circle cx="117.5" cy="97.3" r="3.1" fill="url(#gp1)"/><circle cx="108.8" cy="119.3" r="2.7" fill="url(#gp2)"/><circle cx="124.6" cy="92.5" r="1.9" fill="url(#gp1)"/><circle cx="97.0" cy="108.9" r="1.7" fill="url(#gp2)"/><circle cx="121.9" cy="99.1" r="1.9" fill="url(#gp0)"/><circle cx="126.5" cy="115.7" r="2.2" fill="url(#gp2)"/><circle cx="131.0" cy="92.1" r="1.7" fill="url(#gp2)"/><circle cx="111.4" cy="119.4" r="2.3" fill="url(#gp3)"/><circle cx="94.9" cy="88.8" r="1.8" fill="url(#gp3)"/><circle cx="100.6" cy="108.8" r="2.1" fill="url(#gp2)"/><circle cx="124.1" cy="93.3" r="2.4" fill="url(#gp1)"/><circle cx="129.5" cy="109.8" r="2.3" fill="url(#gp0)"/><circle cx="108.1" cy="98.0" r="2.5" fill="url(#gp2)"/><circle cx="103.9" cy="113.9" r="2.7" fill="url(#gp1)"/><circle cx="121.0" cy="121.4" r="2.2" fill="url(#gp2)"/><circle cx="135.5" cy="109.3" r="2.5" fill="url(#gp0)"/><circle cx="113.0" cy="92.5" r="2.9" fill="url(#gp0)"/><circle cx="108.6" cy="115.1" r="2.7" fill="url(#gp2)"/><circle cx="97.0" cy="105.6" r="2.4" fill="url(#gp0)"/><circle cx="143.6" cy="100.7" r="2.9" fill="url(#gp0)"/><circle cx="113.5" cy="101.0" r="2.6" fill="url(#gp1)"/><circle cx="116.7" cy="109.0" r="2.4" fill="url(#gp1)"/><circle cx="116.6" cy="87.6" r="2.9" fill="url(#gp0)"/><circle cx="96.8" cy="111.9" r="2.6" fill="url(#gp2)"/><circle cx="124.9" cy="126.0" r="2.4" fill="url(#gp0)"/><circle cx="111.9" cy="90.2" r="2.2" fill="url(#gp2)"/><circle cx="117.7" cy="106.8" r="1.8" fill="url(#gp0)"/><circle cx="104.4" cy="105.7" r="1.8" fill="url(#gp1)"/><circle cx="116.4" cy="96.3" r="2.8" fill="url(#gp1)"/><circle cx="120.8" cy="103.9" r="3.2" fill="url(#gp3)"/><circle cx="97.0" cy="87.9" r="1.8" fill="url(#gp0)"/><circle cx="133.2" cy="105.5" r="1.8" fill="url(#gp1)"/><circle cx="110.4" cy="110.3" r="3.0" fill="url(#gp0)"/><circle cx="129.0" cy="114.7" r="1.9" fill="url(#gp0)"/><circle cx="110.3" cy="105.0" r="3.1" fill="url(#gp0)"/><circle cx="109.4" cy="96.5" r="1.9" fill="url(#gp0)"/><circle cx="124.6" cy="101.8" r="3.0" fill="url(#gp1)"/><circle cx="124.4" cy="122.3" r="3.1" fill="url(#gp0)"/><circle cx="109.7" cy="96.5" r="2.8" fill="url(#gp2)"/><circle cx="99.8" cy="87.1" r="2.9" fill="url(#gp3)"/><circle cx="107.6" cy="102.3" r="2.3" fill="url(#gp0)"/><circle cx="105.0" cy="106.7" r="1.9" fill="url(#gp3)"/><circle cx="118.4" cy="100.9" r="2.0" fill="url(#gp0)"/><circle cx="116.8" cy="106.5" r="2.8" fill="url(#gp2)"/><circle cx="87.7" cy="109.4" r="3.1" fill="url(#gp2)"/><circle cx="135.0" cy="92.6" r="2.8" fill="url(#gp0)"/><circle cx="105.2" cy="105.2" r="2.4" fill="url(#gp2)"/><circle cx="101.6" cy="95.2" r="2.9" fill="url(#gp3)"/><circle cx="124.0" cy="99.8" r="1.7" fill="url(#gp0)"/><circle cx="134.5" cy="97.8" r="2.1" fill="url(#gp1)"/><circle cx="132.0" cy="111.6" r="1.7" fill="url(#gp3)"/><circle cx="90.0" cy="110.8" r="2.5" fill="url(#gp2)"/><circle cx="129.1" cy="101.7" r="2.7" fill="url(#gp0)"/><circle cx="97.1" cy="87.0" r="2.7" fill="url(#gp1)"/><circle cx="108.7" cy="103.0" r="2.3" fill="url(#gp0)"/><circle cx="128.6" cy="120.1" r="3.1" fill="url(#gp2)"/><circle cx="125.1" cy="107.5" r="1.8" fill="url(#gp0)"/><circle cx="109.8" cy="113.7" r="2.6" fill="url(#gp0)"/><circle cx="139.6" cy="92.6" r="2.3" fill="url(#gp1)"/><circle cx="134.9" cy="88.8" r="3.0" fill="url(#gp3)"/><circle cx="140.1" cy="92.2" r="2.7" fill="url(#gp3)"/><circle cx="115.3" cy="113.7" r="2.2" fill="url(#gp3)"/><circle cx="96.8" cy="109.1" r="1.9" fill="url(#gp2)"/><circle cx="134.0" cy="112.0" r="2.2" fill="url(#gp3)"/><circle cx="113.0" cy="109.2" r="2.3" fill="url(#gp1)"/><circle cx="105.9" cy="114.0" r="2.0" fill="url(#gp2)"/><circle cx="107.2" cy="101.4" r="1.7" fill="url(#gp0)"/><circle cx="132.8" cy="94.5" r="2.0" fill="url(#gp1)"/><circle cx="111.9" cy="110.5" r="2.5" fill="url(#gp3)"/><circle cx="138.9" cy="103.4" r="2.4" fill="url(#gp1)"/><circle cx="97.9" cy="110.6" r="2.7" fill="url(#gp1)"/><circle cx="119.5" cy="107.6" r="2.1" fill="url(#gp1)"/><circle cx="107.5" cy="96.6" r="2.0" fill="url(#gp1)"/><circle cx="99.7" cy="92.1" r="2.5" fill="url(#gp2)"/><circle cx="120.3" cy="122.9" r="3.1" fill="url(#gp2)"/><circle cx="128.1" cy="96.1" r="3.0" fill="url(#gp2)"/><circle cx="93.6" cy="99.1" r="1.9" fill="url(#gp2)"/><circle cx="125.2" cy="95.9" r="2.5" fill="url(#gp2)"/><circle cx="114.8" cy="95.3" r="2.1" fill="url(#gp2)"/><circle cx="109.4" cy="119.5" r="2.5" fill="url(#gp1)"/><circle cx="121.9" cy="107.3" r="2.8" fill="url(#gp2)"/><circle cx="104.7" cy="102.1" r="2.8" fill="url(#gp1)"/><circle cx="114.6" cy="113.5" r="2.2" fill="url(#gp1)"/><circle cx="140.8" cy="105.6" r="2.5" fill="url(#gp2)"/><circle cx="137.5" cy="86.7" r="2.5" fill="url(#gp0)"/><circle cx="98.4" cy="99.5" r="2.2" fill="url(#gp1)"/><circle cx="90.8" cy="112.7" r="1.7" fill="url(#gp0)"/><circle cx="110.8" cy="89.6" r="3.0" fill="url(#gp0)"/><circle cx="112.1" cy="113.2" r="1.7" fill="url(#gp2)"/><circle cx="122.1" cy="124.0" r="3.0" fill="url(#gp0)"/><circle cx="111.0" cy="104.7" r="1.7" fill="url(#gp3)"/><circle cx="138.3" cy="87.3" r="3.0" fill="url(#gp2)"/><circle cx="106.3" cy="114.2" r="3.1" fill="url(#gp1)"/><circle cx="88.5" cy="104.9" r="2.5" fill="url(#gp2)"/><circle cx="116.8" cy="108.9" r="2.8" fill="url(#gp0)"/><circle cx="134.6" cy="101.3" r="2.1" fill="url(#gp2)"/><circle cx="108.3" cy="115.1" r="2.4" fill="url(#gp2)"/><circle cx="113.1" cy="93.7" r="3.0" fill="url(#gp1)"/><circle cx="98.7" cy="92.6" r="2.3" fill="url(#gp1)"/><circle cx="131.8" cy="98.0" r="2.0" fill="url(#gp2)"/><circle cx="121.1" cy="108.6" r="2.5" fill="url(#gp0)"/><circle cx="97.8" cy="93.6" r="2.1" fill="url(#gp2)"/><circle cx="129.2" cy="92.3" r="1.7" fill="url(#gp1)"/><circle cx="117.9" cy="86.8" r="2.8" fill="url(#gp1)"/><circle cx="112.4" cy="85.3" r="2.5" fill="url(#gp1)"/><circle cx="108.3" cy="99.0" r="3.1" fill="url(#gp3)"/><circle cx="125.3" cy="93.6" r="3.2" fill="url(#gp1)"/><circle cx="108.8" cy="96.0" r="2.5" fill="url(#gp0)"/><circle cx="114.3" cy="119.3" r="1.6" fill="url(#gp3)"/><path d="M115 85 Q113.6 92.6 116.6 98.6" fill="none" stroke="#9c9c9c" stroke-width="1.6" opacity="0.55" stroke-linecap="round"/><path d="M122 87.6 Q120 93.6 122.6 97.6" fill="none" stroke="#a4a4a4" stroke-width="1.2" opacity="0.5" stroke-linecap="round"/></g><text x="115.6" y="46.2" font-size="9.1" text-anchor="middle" font-weight="bold" stroke="#000" stroke-width="0.14">POI</text><text x="116.7" y="108.8" font-size="9.1" text-anchor="middle" font-weight="bold" stroke="#000" stroke-width="0.14">POI</text><path d="M138.5 47 Q142 44.5 146.5 44.2" fill="none" stroke="#666" stroke-width="0.6"/><path d="M139.5 105.8 Q143 104.6 147.5 104.6" fill="none" stroke="#666" stroke-width="0.6"/><path d="M166.2 45.6 Q170 50 176.5 44.6" fill="none" stroke="#555" stroke-width="0.6"/><path d="M167 104.8 Q171 110 178 103.5" fill="none" stroke="#555" stroke-width="0.6"/><g filter="url(#soft)"><ellipse cx="154.8" cy="43.9" rx="10.6" ry="13.6" fill="#b6ef9a" opacity="0.45"/><path d="M163.06 43.9 C163.06 45.71 163.64 48.02 163.45 49.33 C163.26 50.64 162.34 50.89 161.93 51.76 C161.51 52.63 161.56 54.03 160.98 54.56 C160.4 55.08 159.46 54.62 158.43 54.91 C157.4 55.19 156.01 56.26 154.8 56.26 C153.59 56.26 152.2 55.19 151.17 54.91 C150.14 54.62 149.2 55.08 148.62 54.56 C148.04 54.03 148.09 52.63 147.67 51.76 C147.26 50.89 146.34 50.64 146.15 49.33 C145.96 48.02 146.54 45.71 146.54 43.9 C146.54 42.09 145.96 39.78 146.15 38.47 C146.34 37.16 147.26 36.91 147.67 36.04 C148.09 35.17 148.04 33.77 148.62 33.24 C149.2 32.72 150.14 33.18 151.17 32.89 C152.2 32.61 153.59 31.54 154.8 31.54 C156.01 31.54 157.4 32.61 158.43 32.89 C159.46 33.18 160.4 32.72 160.98 33.24 C161.56 33.77 161.51 35.17 161.93 36.04 C162.34 36.91 163.26 37.16 163.45 38.47 C163.64 39.78 163.06 42.09 163.06 43.9Z" fill="#74cc56"/><circle cx="153.8" cy="36.8" r="1.6" fill="url(#gg0)"/><circle cx="160.8" cy="40.6" r="2.5" fill="url(#gg0)"/><circle cx="159.0" cy="40.2" r="1.5" fill="url(#gg0)"/><circle cx="149.8" cy="47.6" r="2.5" fill="url(#gg2)"/><circle cx="160.1" cy="47.4" r="1.9" fill="url(#gg2)"/><circle cx="149.5" cy="39.2" r="2.5" fill="url(#gg0)"/><circle cx="161.5" cy="48.6" r="2.2" fill="url(#gg0)"/><circle cx="152.1" cy="37.3" r="1.6" fill="url(#gg2)"/><circle cx="155.1" cy="50.5" r="2.0" fill="url(#gg2)"/><circle cx="151.5" cy="35.4" r="2.2" fill="url(#gg0)"/><circle cx="148.9" cy="39.9" r="2.3" fill="url(#gg2)"/><circle cx="154.9" cy="36.8" r="1.9" fill="url(#gg2)"/><circle cx="149.3" cy="43.6" r="2.5" fill="url(#gg2)"/><circle cx="154.2" cy="46.0" r="2.4" fill="url(#gg1)"/><circle cx="154.4" cy="47.6" r="2.0" fill="url(#gg2)"/><circle cx="153.4" cy="34.6" r="1.7" fill="url(#gg0)"/><circle cx="153.4" cy="50.6" r="2.6" fill="url(#gg0)"/><circle cx="150.9" cy="50.1" r="2.0" fill="url(#gg2)"/><circle cx="152.6" cy="37.0" r="2.6" fill="url(#gg1)"/><circle cx="151.5" cy="46.4" r="1.9" fill="url(#gg1)"/><circle cx="151.3" cy="48.9" r="1.7" fill="url(#gg0)"/><circle cx="160.1" cy="45.6" r="2.0" fill="url(#gg2)"/><circle cx="156.0" cy="38.8" r="2.5" fill="url(#gg1)"/><circle cx="151.1" cy="53.0" r="2.4" fill="url(#gg2)"/><circle cx="150.1" cy="44.1" r="2.6" fill="url(#gg1)"/><circle cx="158.5" cy="52.9" r="1.8" fill="url(#gg2)"/><circle cx="156.0" cy="36.8" r="2.5" fill="url(#gg1)"/><circle cx="156.7" cy="46.7" r="1.5" fill="url(#gg1)"/><circle cx="155.6" cy="43.8" r="2.5" fill="url(#gg2)"/><circle cx="156.9" cy="47.8" r="2.2" fill="url(#gg1)"/><circle cx="151.6" cy="45.4" r="2.2" fill="url(#gg1)"/><circle cx="148.7" cy="40.2" r="2.2" fill="url(#gg0)"/><circle cx="151.8" cy="42.7" r="1.6" fill="url(#gg0)"/><circle cx="151.1" cy="50.7" r="2.4" fill="url(#gg1)"/><circle cx="150.6" cy="46.7" r="1.6" fill="url(#gg1)"/><circle cx="155.6" cy="53.2" r="2.0" fill="url(#gg1)"/><circle cx="150.0" cy="40.1" r="2.2" fill="url(#gg2)"/><circle cx="152.6" cy="37.6" r="1.7" fill="url(#gg1)"/><circle cx="160.6" cy="47.7" r="2.4" fill="url(#gg2)"/><circle cx="151.7" cy="39.7" r="2.5" fill="url(#gg0)"/><circle cx="159.2" cy="39.8" r="1.8" fill="url(#gg0)"/><circle cx="161.1" cy="47.2" r="2.0" fill="url(#gg2)"/><circle cx="156.3" cy="52.4" r="2.5" fill="url(#gg2)"/><circle cx="150.1" cy="38.9" r="1.8" fill="url(#gg1)"/><circle cx="152.2" cy="37.4" r="2.3" fill="url(#gg1)"/><ellipse cx="154.6" cy="44.1" rx="5.2" ry="4.4" fill="url(#ggc)"/><path d="M151.8 44.3 L156.4 41.9 L157.1 46.3Z" fill="#e9ffd9" opacity="0.9"/></g><g filter="url(#soft)"><ellipse cx="155.6" cy="103.7" rx="10.6" ry="13.6" fill="#b6ef9a" opacity="0.45"/><path d="M163.86 103.7 C163.86 105.51 164.44 107.82 164.25 109.13 C164.06 110.44 163.14 110.69 162.73 111.56 C162.31 112.43 162.36 113.83 161.78 114.36 C161.2 114.88 160.26 114.42 159.23 114.71 C158.2 114.99 156.81 116.06 155.6 116.06 C154.39 116.06 153 114.99 151.97 114.71 C150.94 114.42 150 114.88 149.42 114.36 C148.84 113.83 148.89 112.43 148.47 111.56 C148.06 110.69 147.14 110.44 146.95 109.13 C146.76 107.82 147.34 105.51 147.34 103.7 C147.34 101.89 146.76 99.58 146.95 98.27 C147.14 96.96 148.06 96.71 148.47 95.84 C148.89 94.97 148.84 93.57 149.42 93.04 C150 92.52 150.94 92.98 151.97 92.69 C153 92.41 154.39 91.34 155.6 91.34 C156.81 91.34 158.2 92.41 159.23 92.69 C160.26 92.98 161.2 92.52 161.78 93.04 C162.36 93.57 162.31 94.97 162.73 95.84 C163.14 96.71 164.06 96.96 164.25 98.27 C164.44 99.58 163.86 101.89 163.86 103.7Z" fill="#74cc56"/><circle cx="162.3" cy="106.3" r="1.6" fill="url(#gg2)"/><circle cx="157.9" cy="102.4" r="1.9" fill="url(#gg1)"/><circle cx="159.6" cy="111.5" r="2.1" fill="url(#gg1)"/><circle cx="157.5" cy="103.5" r="1.9" fill="url(#gg1)"/><circle cx="155.6" cy="113.7" r="1.8" fill="url(#gg2)"/><circle cx="159.4" cy="107.7" r="2.1" fill="url(#gg1)"/><circle cx="155.1" cy="107.7" r="1.5" fill="url(#gg1)"/><circle cx="158.2" cy="112.9" r="1.9" fill="url(#gg0)"/><circle cx="161.3" cy="99.4" r="2.5" fill="url(#gg2)"/><circle cx="152.9" cy="103.0" r="1.6" fill="url(#gg0)"/><circle cx="152.5" cy="104.2" r="2.0" fill="url(#gg0)"/><circle cx="150.0" cy="108.0" r="1.6" fill="url(#gg2)"/><circle cx="156.0" cy="99.3" r="2.5" fill="url(#gg1)"/><circle cx="152.0" cy="100.1" r="1.6" fill="url(#gg0)"/><circle cx="161.9" cy="99.5" r="2.4" fill="url(#gg2)"/><circle cx="156.0" cy="97.8" r="2.5" fill="url(#gg1)"/><circle cx="154.6" cy="103.2" r="2.0" fill="url(#gg2)"/><circle cx="156.4" cy="106.6" r="2.5" fill="url(#gg1)"/><circle cx="156.8" cy="102.0" r="1.5" fill="url(#gg0)"/><circle cx="151.3" cy="109.2" r="1.6" fill="url(#gg0)"/><circle cx="159.6" cy="105.5" r="2.5" fill="url(#gg1)"/><circle cx="159.3" cy="106.8" r="2.3" fill="url(#gg1)"/><circle cx="152.2" cy="112.1" r="2.1" fill="url(#gg0)"/><circle cx="152.4" cy="107.7" r="2.0" fill="url(#gg0)"/><circle cx="159.5" cy="98.4" r="2.4" fill="url(#gg0)"/><circle cx="158.1" cy="106.1" r="1.6" fill="url(#gg2)"/><circle cx="156.5" cy="98.4" r="2.1" fill="url(#gg1)"/><circle cx="154.1" cy="103.0" r="1.6" fill="url(#gg0)"/><circle cx="160.5" cy="103.4" r="2.1" fill="url(#gg1)"/><circle cx="161.5" cy="106.6" r="1.9" fill="url(#gg0)"/><circle cx="151.7" cy="111.3" r="2.1" fill="url(#gg1)"/><circle cx="158.9" cy="111.4" r="1.7" fill="url(#gg0)"/><circle cx="159.6" cy="108.0" r="2.0" fill="url(#gg1)"/><circle cx="157.9" cy="97.6" r="2.0" fill="url(#gg0)"/><circle cx="157.3" cy="101.9" r="1.8" fill="url(#gg0)"/><circle cx="155.0" cy="103.2" r="2.5" fill="url(#gg1)"/><circle cx="157.8" cy="107.4" r="2.1" fill="url(#gg1)"/><circle cx="151.8" cy="98.1" r="2.2" fill="url(#gg2)"/><circle cx="157.8" cy="107.2" r="2.0" fill="url(#gg2)"/><circle cx="152.8" cy="105.8" r="1.6" fill="url(#gg2)"/><circle cx="162.2" cy="100.4" r="2.3" fill="url(#gg0)"/><circle cx="160.3" cy="100.5" r="2.0" fill="url(#gg0)"/><circle cx="157.2" cy="97.9" r="1.9" fill="url(#gg0)"/><circle cx="159.0" cy="102.3" r="2.0" fill="url(#gg0)"/><circle cx="160.0" cy="110.7" r="1.9" fill="url(#gg2)"/><ellipse cx="155.4" cy="103.9" rx="5.2" ry="4.4" fill="url(#ggc)"/><path d="M152.6 104.1 L157.2 101.7 L157.9 106.1Z" fill="#e9ffd9" opacity="0.9"/></g><path d="M169.8 63.9 H176.6 V72.4 H179.8 L173.2 80 L166.6 72.4 H169.8Z" fill="url(#yarrow)" stroke="#6e6436" stroke-width="0.6"/><circle cx="195.2" cy="27.8" r="16.4" fill="url(#rglow)"/><path d="M184.3 12.2 Q180.8 14.5 180.3 17.6" fill="none" stroke="#222" stroke-width="0.7"/><circle cx="184.9" cy="8.6" r="4" fill="url(#gball)"/><circle cx="179.6" cy="21" r="3.7" fill="#8fb4dc"/><circle cx="179.6" cy="21" r="3" fill="#a9c8e8"/><path d="M177.9 20.7 Q179.6 22.8 181.4 20.5" fill="none" stroke="#fff" stroke-width="0.9" stroke-linecap="round"/><g filter="url(#soft)"><path d="M191.72 40.53 C191.44 41.44 191.41 42.54 190.86 43.26 C190.32 43.97 189.27 44.3 188.47 44.82 C187.66 45.33 186.93 46.16 186.05 46.36 C185.18 46.55 184.16 46.13 183.21 46.01 C182.27 45.89 181.18 46.05 180.38 45.64 C179.58 45.23 179.07 44.25 178.43 43.55 C177.78 42.85 176.84 42.27 176.49 41.44 C176.14 40.62 176.38 39.54 176.34 38.59 C176.29 37.63 175.94 36.59 176.21 35.73 C176.47 34.87 177.35 34.2 177.93 33.44 C178.51 32.68 178.91 31.66 179.67 31.17 C180.42 30.68 181.52 30.74 182.45 30.52 C183.38 30.31 184.36 29.79 185.25 29.9 C186.14 30.01 186.95 30.76 187.8 31.2 C188.65 31.63 189.73 31.86 190.34 32.52 C190.95 33.17 191.09 34.27 191.46 35.15 C191.83 36.03 192.51 36.89 192.55 37.79 C192.6 38.69 192 39.62 191.72 40.53Z" fill="url(#gtbase)"/><g opacity="0.45"><circle cx="182.4" cy="36.5" r="1.9" fill="url(#gt1)"/><circle cx="186.7" cy="38.9" r="2.0" fill="url(#gt0)"/><circle cx="180.1" cy="41.5" r="1.8" fill="url(#gt0)"/><circle cx="181.7" cy="38.9" r="2.0" fill="url(#gt1)"/><circle cx="182.3" cy="43.2" r="2.2" fill="url(#gt1)"/><circle cx="186.3" cy="35.7" r="2.2" fill="url(#gt1)"/><circle cx="186.4" cy="33.4" r="1.5" fill="url(#gt1)"/><circle cx="184.7" cy="44.0" r="2.0" fill="url(#gt1)"/><circle cx="182.6" cy="41.2" r="1.6" fill="url(#gt1)"/><circle cx="184.9" cy="34.2" r="1.8" fill="url(#gt0)"/><circle cx="182.9" cy="35.5" r="1.8" fill="url(#gt0)"/><circle cx="184.8" cy="36.9" r="1.9" fill="url(#gt1)"/><circle cx="185.8" cy="42.1" r="2.1" fill="url(#gt0)"/><circle cx="187.1" cy="35.4" r="1.9" fill="url(#gt0)"/><circle cx="186.3" cy="35.7" r="1.8" fill="url(#gt1)"/><circle cx="186.7" cy="36.2" r="2.3" fill="url(#gt0)"/><circle cx="188.4" cy="40.5" r="1.5" fill="url(#gt1)"/><circle cx="185.6" cy="43.9" r="1.7" fill="url(#gt0)"/></g><circle cx="184.8" cy="38.8" r="2.4" fill="#b8aecb" opacity="0.45"/><path d="M183.6 39.6 Q183.9 37.6 185.9 37.9" fill="none" stroke="#fff" stroke-width="1" stroke-linecap="round"/></g><circle cx="195.2" cy="27.8" r="15.6" fill="url(#rglow)" opacity="0.28"/><line x1="190.3" y1="36.3" x2="192.3" y2="33.2" stroke="#333" stroke-width="0.6"/><path d="M198.02 31.49 L196.49 32.31 L196.31 34.03 L194.65 33.53 L193.31 34.62 L192.49 33.09 L190.77 32.91 L191.27 31.25 L190.18 29.91 L191.71 29.09 L191.89 27.37 L193.55 27.87 L194.89 26.78 L195.71 28.31 L197.43 28.49 L196.93 30.15Z" fill="#e8362c"/><path d="M186.4 22.6 Q176.2 38.5 192.2 50.6" fill="none" stroke="#000" stroke-width="2.1" stroke-linecap="round"/><path d="M194.91 52.65 L188.64 51.67 L191.4 50 L192.25 46.88Z" fill="#000"/><path d="M225.7 23.1 L228.2 27.7 Q233.2 18.7 243 12.4" fill="none" stroke="#e0283c" stroke-width="1.25" stroke-linecap="round" stroke-linejoin="round"/><path d="M225.3 37.8 L227.8 42.4 Q232.8 33.4 243 26.8" fill="none" stroke="#e0283c" stroke-width="1.25" stroke-linecap="round" stroke-linejoin="round"/><path d="M226.4 54.7 L228.9 59.3 Q233.9 50.3 243.6 43.4" fill="none" stroke="#e0283c" stroke-width="1.25" stroke-linecap="round" stroke-linejoin="round"/><text x="246.1" y="22" font-size="9.13" font-weight="bold" stroke="#000" stroke-width="0.14">Higher brightness</text><text x="246.1" y="38.4" font-size="9.13" font-weight="bold" stroke="#000" stroke-width="0.14">Self-recovery signal</text><text x="246.1" y="55" font-size="9.13" font-weight="bold" stroke="#000" stroke-width="0.14">Long-term tracking</text><circle cx="191.6" cy="89.6" r="16.2" fill="url(#rglow)"/><circle cx="211.2" cy="111.6" r="16.6" fill="url(#rglow)"/><circle cx="243" cy="97.5" r="16.2" fill="url(#rglow)"/><circle cx="258.6" cy="113.6" r="17" fill="url(#rglow)"/><path d="M193 102.5 Q197 105.5 201 102" fill="none" stroke="#444" stroke-width="0.6"/><path d="M214.5 96.5 Q220 91 224.5 96" fill="none" stroke="#444" stroke-width="0.6"/><path d="M236 106 Q240 110 246 106.5" fill="none" stroke="#444" stroke-width="0.6"/><path d="M257.5 99.2 Q261 98 266.5 99.3" fill="none" stroke="#444" stroke-width="0.6"/><path d="M231.2 78.6 Q227.8 81 227.2 84" fill="none" stroke="#222" stroke-width="0.7"/><circle cx="231.8" cy="75.1" r="4" fill="url(#gball)"/><circle cx="226" cy="87.4" r="3.7" fill="#8fb4dc"/><circle cx="226" cy="87.4" r="3" fill="#a9c8e8"/><path d="M224.3 87.1 Q226 89.2 227.8 86.9" fill="none" stroke="#fff" stroke-width="0.9" stroke-linecap="round"/><g filter="url(#soft)"><path d="M193.22 101.93 C192.94 102.84 192.91 103.94 192.36 104.66 C191.82 105.37 190.77 105.7 189.97 106.22 C189.16 106.73 188.43 107.56 187.55 107.76 C186.68 107.95 185.66 107.53 184.71 107.41 C183.77 107.29 182.68 107.45 181.88 107.04 C181.08 106.63 180.57 105.65 179.93 104.95 C179.28 104.25 178.34 103.67 177.99 102.84 C177.64 102.02 177.88 100.94 177.84 99.99 C177.79 99.03 177.44 97.99 177.71 97.13 C177.97 96.27 178.85 95.6 179.43 94.84 C180.01 94.08 180.41 93.06 181.17 92.57 C181.92 92.08 183.02 92.14 183.95 91.92 C184.88 91.71 185.86 91.19 186.75 91.3 C187.64 91.41 188.45 92.16 189.3 92.6 C190.15 93.03 191.23 93.26 191.84 93.92 C192.45 94.57 192.59 95.67 192.96 96.55 C193.33 97.43 194.01 98.29 194.05 99.19 C194.1 100.09 193.5 101.02 193.22 101.93Z" fill="url(#gtbase)"/><g opacity="0.45"><circle cx="187.0" cy="97.4" r="2.1" fill="url(#gt1)"/><circle cx="182.0" cy="95.8" r="2.0" fill="url(#gt0)"/><circle cx="185.5" cy="100.8" r="1.8" fill="url(#gt1)"/><circle cx="190.2" cy="96.3" r="1.8" fill="url(#gt0)"/><circle cx="185.7" cy="101.5" r="2.3" fill="url(#gt0)"/><circle cx="189.0" cy="101.7" r="2.3" fill="url(#gt0)"/><circle cx="187.0" cy="103.8" r="1.6" fill="url(#gt0)"/><circle cx="184.9" cy="104.4" r="2.1" fill="url(#gt1)"/><circle cx="189.1" cy="96.2" r="1.5" fill="url(#gt0)"/><circle cx="184.2" cy="96.6" r="1.8" fill="url(#gt1)"/><circle cx="180.1" cy="97.9" r="1.9" fill="url(#gt0)"/><circle cx="183.1" cy="95.0" r="2.3" fill="url(#gt1)"/><circle cx="187.9" cy="95.9" r="2.0" fill="url(#gt1)"/><circle cx="188.1" cy="99.6" r="1.9" fill="url(#gt1)"/><circle cx="184.2" cy="96.8" r="1.9" fill="url(#gt0)"/><circle cx="183.3" cy="97.1" r="1.9" fill="url(#gt0)"/><circle cx="187.2" cy="97.0" r="1.7" fill="url(#gt1)"/><circle cx="188.1" cy="102.4" r="1.9" fill="url(#gt1)"/></g><circle cx="186.3" cy="100.2" r="2.4" fill="#b8aecb" opacity="0.45"/><path d="M185.1 101 Q185.4 99 187.4 99.3" fill="none" stroke="#fff" stroke-width="1" stroke-linecap="round"/></g><g filter="url(#soft)"><path d="M215.52 102.93 C215.24 103.84 215.21 104.94 214.66 105.66 C214.12 106.37 213.07 106.7 212.27 107.22 C211.46 107.73 210.73 108.56 209.85 108.76 C208.98 108.95 207.96 108.53 207.01 108.41 C206.07 108.29 204.98 108.45 204.18 108.04 C203.38 107.63 202.87 106.65 202.23 105.95 C201.58 105.25 200.64 104.67 200.29 103.84 C199.94 103.02 200.18 101.94 200.14 100.99 C200.09 100.03 199.74 98.99 200.01 98.13 C200.27 97.27 201.15 96.6 201.73 95.84 C202.31 95.08 202.71 94.06 203.47 93.57 C204.22 93.08 205.32 93.14 206.25 92.92 C207.18 92.71 208.16 92.19 209.05 92.3 C209.94 92.41 210.75 93.16 211.6 93.6 C212.45 94.03 213.53 94.26 214.14 94.92 C214.75 95.57 214.89 96.67 215.26 97.55 C215.63 98.43 216.31 99.29 216.35 100.19 C216.4 101.09 215.8 102.02 215.52 102.93Z" fill="url(#gtbase)"/><g opacity="0.45"><circle cx="208.1" cy="97.3" r="2.0" fill="url(#gt0)"/><circle cx="213.7" cy="101.1" r="2.0" fill="url(#gt1)"/><circle cx="206.4" cy="105.9" r="2.0" fill="url(#gt0)"/><circle cx="206.8" cy="102.2" r="1.6" fill="url(#gt1)"/><circle cx="209.2" cy="101.1" r="1.6" fill="url(#gt0)"/><circle cx="203.1" cy="103.4" r="1.7" fill="url(#gt1)"/><circle cx="204.8" cy="99.9" r="2.0" fill="url(#gt1)"/><circle cx="209.4" cy="97.5" r="1.8" fill="url(#gt0)"/><circle cx="213.5" cy="101.2" r="1.6" fill="url(#gt0)"/><circle cx="205.3" cy="104.3" r="2.2" fill="url(#gt0)"/><circle cx="211.6" cy="96.3" r="1.7" fill="url(#gt0)"/><circle cx="211.0" cy="105.1" r="2.1" fill="url(#gt1)"/><circle cx="211.0" cy="98.4" r="1.6" fill="url(#gt0)"/><circle cx="208.9" cy="99.2" r="2.2" fill="url(#gt1)"/><circle cx="206.8" cy="102.3" r="1.9" fill="url(#gt0)"/><circle cx="205.1" cy="97.9" r="2.3" fill="url(#gt0)"/><circle cx="205.0" cy="98.1" r="2.3" fill="url(#gt0)"/><circle cx="209.6" cy="99.2" r="2.1" fill="url(#gt1)"/></g><circle cx="208.6" cy="101.2" r="2.4" fill="#b8aecb" opacity="0.45"/><path d="M207.4 102 Q207.7 100 209.7 100.3" fill="none" stroke="#fff" stroke-width="1" stroke-linecap="round"/></g><g filter="url(#soft)"><path d="M237.12 104.93 C236.84 105.84 236.81 106.94 236.26 107.66 C235.72 108.37 234.67 108.7 233.87 109.22 C233.06 109.73 232.33 110.56 231.45 110.76 C230.58 110.95 229.56 110.53 228.61 110.41 C227.67 110.29 226.58 110.45 225.78 110.04 C224.98 109.63 224.47 108.65 223.83 107.95 C223.18 107.25 222.24 106.67 221.89 105.84 C221.54 105.02 221.78 103.94 221.74 102.99 C221.69 102.03 221.34 100.99 221.61 100.13 C221.87 99.27 222.75 98.6 223.33 97.84 C223.91 97.08 224.31 96.06 225.07 95.57 C225.82 95.08 226.92 95.14 227.85 94.92 C228.78 94.71 229.76 94.19 230.65 94.3 C231.54 94.41 232.35 95.16 233.2 95.6 C234.05 96.03 235.13 96.26 235.74 96.92 C236.35 97.57 236.49 98.67 236.86 99.55 C237.23 100.43 237.91 101.29 237.95 102.19 C238 103.09 237.4 104.02 237.12 104.93Z" fill="url(#gtbase)"/><g opacity="0.45"><circle cx="223.9" cy="101.5" r="2.0" fill="url(#gt0)"/><circle cx="230.1" cy="97.2" r="1.5" fill="url(#gt1)"/><circle cx="230.4" cy="101.2" r="2.3" fill="url(#gt0)"/><circle cx="231.6" cy="104.3" r="2.1" fill="url(#gt1)"/><circle cx="226.1" cy="105.2" r="1.6" fill="url(#gt0)"/><circle cx="225.4" cy="101.2" r="1.7" fill="url(#gt1)"/><circle cx="231.1" cy="105.5" r="2.2" fill="url(#gt0)"/><circle cx="228.0" cy="97.4" r="1.7" fill="url(#gt0)"/><circle cx="234.4" cy="99.5" r="2.1" fill="url(#gt0)"/><circle cx="233.8" cy="103.8" r="2.3" fill="url(#gt0)"/><circle cx="230.8" cy="99.3" r="1.7" fill="url(#gt1)"/><circle cx="231.4" cy="98.6" r="1.7" fill="url(#gt1)"/><circle cx="228.7" cy="101.1" r="2.2" fill="url(#gt0)"/><circle cx="228.4" cy="102.2" r="1.5" fill="url(#gt0)"/><circle cx="226.1" cy="100.6" r="1.5" fill="url(#gt1)"/><circle cx="227.3" cy="100.0" r="2.1" fill="url(#gt0)"/><circle cx="228.4" cy="105.0" r="1.8" fill="url(#gt0)"/><circle cx="227.2" cy="100.1" r="2.2" fill="url(#gt0)"/></g><circle cx="230.2" cy="103.2" r="2.4" fill="#b8aecb" opacity="0.45"/><path d="M229 104 Q229.3 102 231.3 102.3" fill="none" stroke="#fff" stroke-width="1" stroke-linecap="round"/></g><g filter="url(#soft)"><path d="M259.52 106.93 C259.24 107.84 259.21 108.94 258.66 109.66 C258.12 110.37 257.07 110.7 256.27 111.22 C255.46 111.73 254.73 112.56 253.85 112.76 C252.98 112.95 251.96 112.53 251.01 112.41 C250.07 112.29 248.98 112.45 248.18 112.04 C247.38 111.63 246.87 110.65 246.23 109.95 C245.58 109.25 244.64 108.67 244.29 107.84 C243.94 107.02 244.18 105.94 244.14 104.99 C244.09 104.03 243.74 102.99 244.01 102.13 C244.27 101.27 245.15 100.6 245.73 99.84 C246.31 99.08 246.71 98.06 247.47 97.57 C248.22 97.08 249.32 97.14 250.25 96.92 C251.18 96.71 252.16 96.19 253.05 96.3 C253.94 96.41 254.75 97.16 255.6 97.6 C256.45 98.03 257.53 98.26 258.14 98.92 C258.75 99.57 258.89 100.67 259.26 101.55 C259.63 102.43 260.31 103.29 260.35 104.19 C260.4 105.09 259.8 106.02 259.52 106.93Z" fill="url(#gtbase)"/><g opacity="0.45"><circle cx="254.5" cy="109.6" r="1.7" fill="url(#gt1)"/><circle cx="256.4" cy="102.7" r="1.7" fill="url(#gt0)"/><circle cx="255.0" cy="108.9" r="1.8" fill="url(#gt1)"/><circle cx="254.0" cy="110.0" r="1.6" fill="url(#gt1)"/><circle cx="252.1" cy="99.7" r="2.2" fill="url(#gt0)"/><circle cx="251.4" cy="105.5" r="1.7" fill="url(#gt1)"/><circle cx="248.5" cy="103.9" r="2.3" fill="url(#gt0)"/><circle cx="249.3" cy="103.0" r="2.1" fill="url(#gt0)"/><circle cx="252.6" cy="101.7" r="1.8" fill="url(#gt1)"/><circle cx="254.9" cy="100.0" r="2.1" fill="url(#gt1)"/><circle cx="253.8" cy="104.2" r="2.0" fill="url(#gt0)"/><circle cx="247.0" cy="107.1" r="1.7" fill="url(#gt1)"/><circle cx="248.3" cy="104.1" r="1.9" fill="url(#gt1)"/><circle cx="249.4" cy="105.3" r="1.7" fill="url(#gt1)"/><circle cx="252.6" cy="106.0" r="2.3" fill="url(#gt0)"/><circle cx="247.7" cy="105.7" r="2.1" fill="url(#gt1)"/><circle cx="251.1" cy="100.8" r="2.2" fill="url(#gt1)"/><circle cx="251.7" cy="108.4" r="2.1" fill="url(#gt1)"/></g><circle cx="252.6" cy="105.2" r="2.4" fill="#b8aecb" opacity="0.45"/><path d="M251.4 106 Q251.7 104 253.7 104.3" fill="none" stroke="#fff" stroke-width="1" stroke-linecap="round"/></g><circle cx="191.6" cy="89.6" r="15.4" fill="url(#rglow)" opacity="0.28"/><circle cx="211.2" cy="111.6" r="15.8" fill="url(#rglow)" opacity="0.28"/><circle cx="243" cy="97.5" r="15.4" fill="url(#rglow)" opacity="0.28"/><circle cx="258.6" cy="113.6" r="16.2" fill="url(#rglow)" opacity="0.28"/><line x1="190.6" y1="95.8" x2="191.4" y2="93.4" stroke="#333" stroke-width="0.6"/><line x1="209.8" y1="106.6" x2="211" y2="108.2" stroke="#333" stroke-width="0.6"/><line x1="234.6" y1="101.2" x2="238.8" y2="99.6" stroke="#333" stroke-width="0.6"/><line x1="255.4" y1="110.2" x2="257.4" y2="111.6" stroke="#333" stroke-width="0.6"/><path d="M195.92 91.19 L194.39 92.01 L194.21 93.73 L192.55 93.23 L191.21 94.32 L190.39 92.79 L188.67 92.61 L189.17 90.95 L188.08 89.61 L189.61 88.79 L189.79 87.07 L191.45 87.57 L192.79 86.48 L193.61 88.01 L195.33 88.19 L194.83 89.85Z" fill="#e8362c"/><path d="M215.72 111.49 L214.19 112.31 L214.01 114.03 L212.35 113.53 L211.01 114.62 L210.19 113.09 L208.47 112.91 L208.97 111.25 L207.88 109.91 L209.41 109.09 L209.59 107.37 L211.25 107.87 L212.59 106.78 L213.41 108.31 L215.13 108.49 L214.63 110.15Z" fill="#e8362c"/><path d="M245.72 99.69 L244.19 100.51 L244.01 102.23 L242.35 101.73 L241.01 102.82 L240.19 101.29 L238.47 101.11 L238.97 99.45 L237.88 98.11 L239.41 97.29 L239.59 95.57 L241.25 96.07 L242.59 94.98 L243.41 96.51 L245.13 96.69 L244.63 98.35Z" fill="#e8362c"/><path d="M262.92 114.69 L261.39 115.51 L261.21 117.23 L259.55 116.73 L258.21 117.82 L257.39 116.29 L255.67 116.11 L256.17 114.45 L255.08 113.11 L256.61 112.29 L256.79 110.57 L258.45 111.07 L259.79 109.98 L260.61 111.51 L262.33 111.69 L261.83 113.35Z" fill="#e8362c"/><path d="M232.6 86.3 Q222.2 102.5 238.8 113.8" fill="none" stroke="#000" stroke-width="2.1" stroke-linecap="round"/><path d="M241.61 115.71 L235.29 115.04 L237.97 113.24 L238.67 110.08Z" fill="#000"/><text x="265.8" y="101.6" font-size="13.4" font-weight="bold" stroke="#000" stroke-width="0.14">(</text><text x="293.6" y="101.6" font-size="13.4" font-weight="bold" stroke="#000" stroke-width="0.14">)</text><text x="270.6" y="100.5" font-size="10.2" font-weight="bold" stroke="#000" stroke-width="0.14" letter-spacing="0.9">......</text><text x="298.4" y="103.7" font-size="8.1" font-weight="bold" stroke="#000" stroke-width="0.14">n</text>
</g>
<g id="panel-b">
<text x="367.8" y="16" font-size="13.7" font-weight="bold" stroke="#000" stroke-width="0.14">b</text><line x1="422.6" y1="11.7" x2="433.2" y2="11.7" stroke="#f2a354" stroke-width="1.6"/><text x="439.2" y="14.1" font-size="6.75" font-weight="bold" stroke="#000" stroke-width="0.14">- protein</text><line x1="480.2" y1="11.7" x2="490.6" y2="11.7" stroke="#f59aa6" stroke-width="1.6"/><text x="496.5" y="14.1" font-size="6.75" font-weight="bold" stroke="#000" stroke-width="0.14">+ ReTag1</text><line x1="544.2" y1="11.7" x2="555" y2="11.7" stroke="#3d56c6" stroke-width="1.6"/><text x="561.3" y="14.1" font-size="6.75" font-weight="bold" stroke="#000" stroke-width="0.14">+ ReTag2</text><line x1="608" y1="11.7" x2="619.2" y2="11.7" stroke="#e9342a" stroke-width="1.6"/><text x="624.5" y="14.1" font-size="6.75" font-weight="bold" stroke="#000" stroke-width="0.14">+ ReTag4</text><path d="M414.6 26.3 H509.3 V122.8 H414.6 Z" fill="none" stroke="#000" stroke-width="1"/><line x1="410.3" y1="122.8" x2="414.6" y2="122.8" stroke="#000" stroke-width="1"/><text x="409.2" y="125.65" font-size="8" text-anchor="end" font-weight="bold" stroke="#000" stroke-width="0.14">0.0</text><line x1="410.3" y1="106.72" x2="414.6" y2="106.72" stroke="#000" stroke-width="1"/><text x="409.2" y="109.57" font-size="8" text-anchor="end" font-weight="bold" stroke="#000" stroke-width="0.14">0.2</text><line x1="410.3" y1="90.63" x2="414.6" y2="90.63" stroke="#000" stroke-width="1"/><text x="409.2" y="93.48" font-size="8" text-anchor="end" font-weight="bold" stroke="#000" stroke-width="0.14">0.4</text><line x1="410.3" y1="74.55" x2="414.6" y2="74.55" stroke="#000" stroke-width="1"/><text x="409.2" y="77.4" font-size="8" text-anchor="end" font-weight="bold" stroke="#000" stroke-width="0.14">0.6</text><line x1="410.3" y1="58.47" x2="414.6" y2="58.47" stroke="#000" stroke-width="1"/><text x="409.2" y="61.32" font-size="8" text-anchor="end" font-weight="bold" stroke="#000" stroke-width="0.14">0.8</text><line x1="410.3" y1="42.38" x2="414.6" y2="42.38" stroke="#000" stroke-width="1"/><text x="409.2" y="45.23" font-size="8" text-anchor="end" font-weight="bold" stroke="#000" stroke-width="0.14">1.0</text><line x1="410.3" y1="26.3" x2="414.6" y2="26.3" stroke="#000" stroke-width="1"/><text x="409.2" y="29.15" font-size="8" text-anchor="end" font-weight="bold" stroke="#000" stroke-width="0.14">1.2</text><line x1="414.6" y1="122.8" x2="414.6" y2="127.1" stroke="#000" stroke-width="1"/><text x="414.6" y="135.9" font-size="8" text-anchor="middle" font-weight="bold" stroke="#000" stroke-width="0.14">620</text><line x1="438.28" y1="122.8" x2="438.28" y2="127.1" stroke="#000" stroke-width="1"/><text x="438.28" y="135.9" font-size="8" text-anchor="middle" font-weight="bold" stroke="#000" stroke-width="0.14">640</text><line x1="461.95" y1="122.8" x2="461.95" y2="127.1" stroke="#000" stroke-width="1"/><text x="461.95" y="135.9" font-size="8" text-anchor="middle" font-weight="bold" stroke="#000" stroke-width="0.14">660</text><line x1="485.62" y1="122.8" x2="485.62" y2="127.1" stroke="#000" stroke-width="1"/><text x="485.62" y="135.9" font-size="8" text-anchor="middle" font-weight="bold" stroke="#000" stroke-width="0.14">680</text><line x1="509.3" y1="122.8" x2="509.3" y2="127.1" stroke="#000" stroke-width="1"/><text x="509.3" y="135.9" font-size="8" text-anchor="middle" font-weight="bold" stroke="#000" stroke-width="0.14">700</text><path d="M414.6 122.2 415.2 122.2 415.8 122.2 416.4 122.2 417.0 122.2 417.6 122.2 418.2 122.2 418.7 122.2 419.3 122.2 419.9 122.2 420.5 122.2 421.1 122.2 421.7 122.2 422.3 122.2 422.9 122.2 423.5 122.2 424.1 122.2 424.7 122.2 425.3 122.2 425.8 122.2 426.4 122.2 427.0 122.2 427.6 122.2 428.2 122.2 428.8 122.2 429.4 122.2 430.0 122.2 430.6 122.2 431.2 122.2 431.8 122.2 432.4 122.2 432.9 122.2 433.5 122.2 434.1 122.2 434.7 122.2 435.3 122.2 435.9 122.2 436.5 122.2 437.1 122.2 437.7 122.2 438.3 122.2 438.9 122.1 439.5 122.1 440.1 122.1 440.6 122.1 441.2 122.1 441.8 122.1 442.4 122.0 443.0 122.0 443.6 122.0 444.2 122.0 444.8 122.0 445.4 121.9 446.0 121.9 446.6 121.9 447.2 121.9 447.7 121.8 448.3 121.8 448.9 121.8 449.5 121.8 450.1 121.8 450.7 121.7 451.3 121.7 451.9 121.7 452.5 121.7 453.1 121.7 453.7 121.6 454.3 121.6 454.8 121.6 455.4 121.6 456.0 121.6 456.6 121.6 457.2 121.6 457.8 121.6 458.4 121.6 459.0 121.6 459.6 121.6 460.2 121.6 460.8 121.6 461.4 121.7 462.0 121.7 462.5 121.7 463.1 121.7 463.7 121.7 464.3 121.8 464.9 121.8 465.5 121.8 466.1 121.8 466.7 121.8 467.3 121.9 467.9 121.9 468.5 121.9 469.1 121.9 469.6 122.0 470.2 122.0 470.8 122.0 471.4 122.0 472.0 122.0 472.6 122.1 473.2 122.1 473.8 122.1 474.4 122.1 475.0 122.1 475.6 122.1 476.2 122.2 476.7 122.2 477.3 122.2 477.9 122.2 478.5 122.2 479.1 122.2 479.7 122.2 480.3 122.2 480.9 122.2 481.5 122.2 482.1 122.2 482.7 122.2 483.3 122.2 483.8 122.2 484.4 122.2 485.0 122.2 485.6 122.2 486.2 122.2 486.8 122.2 487.4 122.2 488.0 122.2 488.6 122.2 489.2 122.2 489.8 122.2 490.4 122.2 491.0 122.2 491.5 122.2 492.1 122.2 492.7 122.2 493.3 122.2 493.9 122.2 494.5 122.2 495.1 122.2 495.7 122.2 496.3 122.2 496.9 122.2 497.5 122.2 498.1 122.2 498.6 122.2 499.2 122.2 499.8 122.2 500.4 122.2 501.0 122.2 501.6 122.2 502.2 122.2 502.8 122.2 503.4 122.2 504.0 122.2 504.6 122.2 505.2 122.2 505.7 122.2 506.3 122.2 506.9 122.2 507.5 122.2 508.1 122.2 508.7 122.2 509.3 122.2" fill="none" stroke="#f2a354" stroke-width="1.7" stroke-linejoin="round"/><path d="M414.6 118.2 415.2 118.2 415.8 118.1 416.4 118.1 417.0 118.1 417.6 118.1 418.2 118.0 418.7 118.0 419.3 117.9 419.9 117.9 420.5 117.8 421.1 117.7 421.7 117.6 422.3 117.5 422.9 117.4 423.5 117.3 424.1 117.2 424.7 117.1 425.3 116.9 425.8 116.8 426.4 116.6 427.0 116.4 427.6 116.2 428.2 116.1 428.8 115.9 429.4 115.6 430.0 115.4 430.6 115.2 431.2 114.9 431.8 114.7 432.4 114.4 432.9 114.2 433.5 113.9 434.1 113.6 434.7 113.3 435.3 113.0 435.9 112.7 436.5 112.4 437.1 112.1 437.7 111.7 438.3 111.4 438.9 111.1 439.5 110.8 440.1 110.4 440.6 110.1 441.2 109.8 441.8 109.5 442.4 109.1 443.0 108.8 443.6 108.5 444.2 108.2 444.8 107.9 445.4 107.6 446.0 107.4 446.6 107.1 447.2 106.9 447.7 106.6 448.3 106.4 448.9 106.2 449.5 106.0 450.1 105.8 450.7 105.7 451.3 105.6 451.9 105.4 452.5 105.3 453.1 105.3 453.7 105.2 454.3 105.2 454.8 105.2 455.4 105.2 456.0 105.2 456.6 105.3 457.2 105.4 457.8 105.5 458.4 105.6 459.0 105.8 459.6 105.9 460.2 106.1 460.8 106.4 461.4 106.6 462.0 106.9 462.5 107.1 463.1 107.4 463.7 107.8 464.3 108.1 464.9 108.4 465.5 108.8 466.1 109.2 466.7 109.5 467.3 109.9 467.9 110.3 468.5 110.7 469.1 111.1 469.6 111.5 470.2 111.9 470.8 112.3 471.4 112.7 472.0 113.1 472.6 113.5 473.2 113.9 473.8 114.3 474.4 114.6 475.0 115.0 475.6 115.4 476.2 115.7 476.7 116.1 477.3 116.4 477.9 116.7 478.5 117.0 479.1 117.3 479.7 117.6 480.3 117.9 480.9 118.2 481.5 118.4 482.1 118.7 482.7 118.9 483.3 119.1 483.8 119.3 484.4 119.5 485.0 119.7 485.6 119.9 486.2 120.1 486.8 120.2 487.4 120.4 488.0 120.5 488.6 120.7 489.2 120.8 489.8 120.9 490.4 121.0 491.0 121.1 491.5 121.2 492.1 121.3 492.7 121.4 493.3 121.4 493.9 121.5 494.5 121.6 495.1 121.6 495.7 121.7 496.3 121.7 496.9 121.8 497.5 121.8 498.1 121.9 498.6 121.9 499.2 121.9 499.8 122.0 500.4 122.0 501.0 122.0 501.6 122.0 502.2 122.1 502.8 122.1 503.4 122.1 504.0 122.1 504.6 122.1 505.2 122.1 505.7 122.2 506.3 122.2 506.9 122.2 507.5 122.2 508.1 122.2 508.7 122.2 509.3 122.2" fill="none" stroke="#f59aa6" stroke-width="1.5" stroke-linejoin="round"/><path d="M414.6 107.5 415.2 107.5 415.8 107.6 416.4 107.7 417.0 107.8 417.6 107.9 418.2 108.0 418.7 108.1 419.3 108.1 419.9 108.2 420.5 108.3 421.1 108.3 421.7 108.4 422.3 108.4 422.9 108.4 423.5 108.4 424.1 108.4 424.7 108.3 425.3 108.3 425.8 108.1 426.4 108.0 427.0 107.8 427.6 107.6 428.2 107.4 428.8 107.2 429.4 106.9 430.0 106.5 430.6 106.2 431.2 105.8 431.8 105.4 432.4 104.9 432.9 104.4 433.5 103.9 434.1 103.4 434.7 102.8 435.3 102.2 435.9 101.6 436.5 101.0 437.1 100.3 437.7 99.7 438.3 99.0 438.9 98.3 439.5 97.6 440.1 96.9 440.6 96.1 441.2 95.4 441.8 94.7 442.4 94.0 443.0 93.3 443.6 92.6 444.2 91.9 444.8 91.2 445.4 90.6 446.0 89.9 446.6 89.3 447.2 88.7 447.7 88.2 448.3 87.7 448.9 87.2 449.5 86.7 450.1 86.3 450.7 85.9 451.3 85.6 451.9 85.3 452.5 85.1 453.1 84.8 453.7 84.7 454.3 84.6 454.8 84.5 455.4 84.5 456.0 84.5 456.6 84.6 457.2 84.7 457.8 84.9 458.4 85.2 459.0 85.5 459.6 85.8 460.2 86.2 460.8 86.6 461.4 87.1 462.0 87.6 462.5 88.2 463.1 88.8 463.7 89.4 464.3 90.1 464.9 90.8 465.5 91.5 466.1 92.3 466.7 93.1 467.3 93.9 467.9 94.7 468.5 95.5 469.1 96.4 469.6 97.2 470.2 98.1 470.8 98.9 471.4 99.8 472.0 100.7 472.6 101.5 473.2 102.4 473.8 103.2 474.4 104.1 475.0 104.9 475.6 105.7 476.2 106.5 476.7 107.3 477.3 108.1 477.9 108.8 478.5 109.5 479.1 110.2 479.7 110.9 480.3 111.6 480.9 112.2 481.5 112.8 482.1 113.4 482.7 114.0 483.3 114.5 483.8 115.0 484.4 115.5 485.0 116.0 485.6 116.4 486.2 116.9 486.8 117.3 487.4 117.6 488.0 118.0 488.6 118.3 489.2 118.7 489.8 119.0 490.4 119.2 491.0 119.5 491.5 119.7 492.1 120.0 492.7 120.2 493.3 120.4 493.9 120.6 494.5 120.7 495.1 120.9 495.7 121.0 496.3 121.2 496.9 121.3 497.5 121.4 498.1 121.5 498.6 121.6 499.2 121.7 499.8 121.8 500.4 121.8 501.0 121.9 501.6 122.0 502.2 122.0 502.8 122.1 503.4 122.1 504.0 122.2 504.6 122.2 505.2 122.2 505.7 122.2 506.3 122.3 506.9 122.3 507.5 122.3 508.1 122.3 508.7 122.4 509.3 122.4" fill="none" stroke="#3d56c6" stroke-width="1.7" stroke-linejoin="round"/><path d="M414.6 105.2 415.2 105.1 415.8 105.0 416.4 104.9 417.0 104.8 417.6 104.7 418.2 104.5 418.7 104.3 419.3 104.1 419.9 103.9 420.5 103.6 421.1 103.3 421.7 102.9 422.3 102.5 422.9 102.1 423.5 101.6 424.1 101.0 424.7 100.5 425.3 99.9 425.8 99.2 426.4 98.5 427.0 97.7 427.6 96.9 428.2 96.0 428.8 95.0 429.4 94.1 430.0 93.0 430.6 92.0 431.2 90.8 431.8 89.6 432.4 88.4 432.9 87.1 433.5 85.8 434.1 84.5 434.7 83.1 435.3 81.6 435.9 80.2 436.5 78.7 437.1 77.2 437.7 75.6 438.3 74.1 438.9 72.5 439.5 70.9 440.1 69.4 440.6 67.8 441.2 66.2 441.8 64.7 442.4 63.1 443.0 61.6 443.6 60.1 444.2 58.7 444.8 57.2 445.4 55.9 446.0 54.5 446.6 53.2 447.2 52.0 447.7 50.9 448.3 49.8 448.9 48.7 449.5 47.8 450.1 46.9 450.7 46.2 451.3 45.5 451.9 44.8 452.5 44.3 453.1 43.9 453.7 43.6 454.3 43.4 454.8 43.2 455.4 43.2 456.0 43.3 456.6 43.5 457.2 43.8 457.8 44.2 458.4 44.7 459.0 45.3 459.6 46.1 460.2 46.9 460.8 47.9 461.4 49.0 462.0 50.1 462.5 51.3 463.1 52.6 463.7 54.0 464.3 55.5 464.9 57.0 465.5 58.6 466.1 60.2 466.7 61.9 467.3 63.6 467.9 65.4 468.5 67.2 469.1 69.0 469.6 70.8 470.2 72.7 470.8 74.5 471.4 76.4 472.0 78.2 472.6 80.1 473.2 81.9 473.8 83.7 474.4 85.5 475.0 87.2 475.6 88.9 476.2 90.6 476.7 92.2 477.3 93.8 477.9 95.4 478.5 96.9 479.1 98.4 479.7 99.8 480.3 101.1 480.9 102.4 481.5 103.7 482.1 104.9 482.7 106.1 483.3 107.2 483.8 108.2 484.4 109.2 485.0 110.2 485.6 111.1 486.2 111.9 486.8 112.7 487.4 113.5 488.0 114.2 488.6 114.8 489.2 115.5 489.8 116.1 490.4 116.6 491.0 117.1 491.5 117.6 492.1 118.0 492.7 118.4 493.3 118.8 493.9 119.2 494.5 119.5 495.1 119.8 495.7 120.0 496.3 120.3 496.9 120.5 497.5 120.7 498.1 120.9 498.6 121.1 499.2 121.3 499.8 121.4 500.4 121.5 501.0 121.7 501.6 121.8 502.2 121.9 502.8 121.9 503.4 122.0 504.0 122.1 504.6 122.2 505.2 122.2 505.7 122.3 506.3 122.3 506.9 122.3 507.5 122.4 508.1 122.4 508.7 122.4 509.3 122.5" fill="none" stroke="#e9342a" stroke-width="1.7" stroke-linejoin="round"/><text x="456.6" y="41.9" font-size="8.6" text-anchor="middle" font-weight="bold" fill="#e9342a" stroke="#e9342a" stroke-width="0.14">55.5x</text><text x="456" y="82.6" font-size="8.6" text-anchor="middle" font-weight="bold" fill="#3d56c6" stroke="#3d56c6" stroke-width="0.14">26.5x</text><text x="456.8" y="104.9" font-size="8.6" text-anchor="middle" font-weight="bold" fill="#f59aa6" stroke="#f59aa6" stroke-width="0.14">12.5X</text><line x1="484.6" y1="86" x2="484.6" y2="65" stroke="#000" stroke-width="1.5"/><path d="M484.6 60.2 L487.6 66.6 L481.6 66.6Z" fill="#000"/><text x="392" y="73" font-size="9.4" text-anchor="middle" transform="rotate(-90 392 73)" stroke="#000" stroke-width="0.5">Normalized Abs.</text><text x="372.4" y="135" font-size="9.9" font-weight="bold" stroke="#000" stroke-width="0.14">λ (nm)</text><path d="M579 27.5 H671.1 V122 H579 Z" fill="none" stroke="#000" stroke-width="1"/><line x1="574.7" y1="122" x2="579" y2="122" stroke="#000" stroke-width="1"/><text x="573.6" y="124.85" font-size="8" text-anchor="end" font-weight="bold" stroke="#000" stroke-width="0.14">0.0</text><line x1="574.7" y1="106.25" x2="579" y2="106.25" stroke="#000" stroke-width="1"/><text x="573.6" y="109.1" font-size="8" text-anchor="end" font-weight="bold" stroke="#000" stroke-width="0.14">0.2</text><line x1="574.7" y1="90.5" x2="579" y2="90.5" stroke="#000" stroke-width="1"/><text x="573.6" y="93.35" font-size="8" text-anchor="end" font-weight="bold" stroke="#000" stroke-width="0.14">0.4</text><line x1="574.7" y1="74.75" x2="579" y2="74.75" stroke="#000" stroke-width="1"/><text x="573.6" y="77.6" font-size="8" text-anchor="end" font-weight="bold" stroke="#000" stroke-width="0.14">0.6</text><line x1="574.7" y1="59" x2="579" y2="59" stroke="#000" stroke-width="1"/><text x="573.6" y="61.85" font-size="8" text-anchor="end" font-weight="bold" stroke="#000" stroke-width="0.14">0.8</text><line x1="574.7" y1="43.25" x2="579" y2="43.25" stroke="#000" stroke-width="1"/><text x="573.6" y="46.1" font-size="8" text-anchor="end" font-weight="bold" stroke="#000" stroke-width="0.14">1.0</text><line x1="574.7" y1="27.5" x2="579" y2="27.5" stroke="#000" stroke-width="1"/><text x="573.6" y="30.35" font-size="8" text-anchor="end" font-weight="bold" stroke="#000" stroke-width="0.14">1.2</text><line x1="579" y1="122" x2="579" y2="126.3" stroke="#000" stroke-width="1"/><text x="579" y="135.1" font-size="8" text-anchor="middle" font-weight="bold" stroke="#000" stroke-width="0.14">640</text><line x1="609.7" y1="122" x2="609.7" y2="126.3" stroke="#000" stroke-width="1"/><text x="609.7" y="135.1" font-size="8" text-anchor="middle" font-weight="bold" stroke="#000" stroke-width="0.14">660</text><line x1="640.4" y1="122" x2="640.4" y2="126.3" stroke="#000" stroke-width="1"/><text x="640.4" y="135.1" font-size="8" text-anchor="middle" font-weight="bold" stroke="#000" stroke-width="0.14">680</text><line x1="671.1" y1="122" x2="671.1" y2="126.3" stroke="#000" stroke-width="1"/><text x="671.1" y="135.1" font-size="8" text-anchor="middle" font-weight="bold" stroke="#000" stroke-width="0.14">700</text><path d="M579.0 121.3 579.8 121.3 580.5 121.3 581.3 121.3 582.1 121.3 582.8 121.3 583.6 121.3 584.4 121.3 585.1 121.3 585.9 121.3 586.7 121.3 587.4 121.3 588.2 121.3 589.0 121.3 589.7 121.3 590.5 121.3 591.3 121.3 592.0 121.2 592.8 121.2 593.6 121.2 594.4 121.2 595.1 121.2 595.9 121.2 596.7 121.2 597.4 121.2 598.2 121.2 599.0 121.2 599.7 121.2 600.5 121.2 601.3 121.1 602.0 121.1 602.8 121.1 603.6 121.1 604.3 121.1 605.1 121.1 605.9 121.1 606.6 121.1 607.4 121.1 608.2 121.1 608.9 121.1 609.7 121.0 610.5 121.0 611.2 121.0 612.0 121.0 612.8 121.0 613.5 121.0 614.3 121.0 615.1 121.0 615.8 121.0 616.6 121.0 617.4 121.0 618.1 121.0 618.9 120.9 619.7 120.9 620.4 120.9 621.2 120.9 622.0 120.9 622.7 120.9 623.5 120.9 624.3 120.9 625.1 120.9 625.8 120.9 626.6 120.9 627.4 120.9 628.1 120.9 628.9 120.9 629.7 120.9 630.4 120.9 631.2 120.9 632.0 120.9 632.7 120.9 633.5 120.9 634.3 120.9 635.0 120.9 635.8 120.9 636.6 120.9 637.3 120.9 638.1 120.9 638.9 120.9 639.6 120.9 640.4 120.9 641.2 120.9 641.9 120.9 642.7 120.9 643.5 121.0 644.2 121.0 645.0 121.0 645.8 121.0 646.5 121.0 647.3 121.0 648.1 121.0 648.8 121.0 649.6 121.0 650.4 121.0 651.1 121.0 651.9 121.0 652.7 121.0 653.4 121.0 654.2 121.1 655.0 121.1 655.8 121.1 656.5 121.1 657.3 121.1 658.1 121.1 658.8 121.1 659.6 121.1 660.4 121.1 661.1 121.1 661.9 121.1 662.7 121.1 663.4 121.1 664.2 121.2 665.0 121.2 665.7 121.2 666.5 121.2 667.3 121.2 668.0 121.2 668.8 121.2 669.6 121.2 670.3 121.2 671.1 121.2" fill="none" stroke="#f2a354" stroke-width="1.7" stroke-linejoin="round"/><path d="M579.0 119.2 579.8 119.1 580.5 118.9 581.3 118.8 582.1 118.6 582.8 118.5 583.6 118.3 584.4 118.1 585.1 117.9 585.9 117.7 586.7 117.5 587.4 117.3 588.2 117.1 589.0 116.9 589.7 116.6 590.5 116.4 591.3 116.1 592.0 115.9 592.8 115.6 593.6 115.3 594.4 115.0 595.1 114.7 595.9 114.4 596.7 114.1 597.4 113.8 598.2 113.5 599.0 113.2 599.7 112.9 600.5 112.6 601.3 112.2 602.0 111.9 602.8 111.6 603.6 111.2 604.3 110.9 605.1 110.5 605.9 110.2 606.6 109.9 607.4 109.5 608.2 109.2 608.9 108.9 609.7 108.5 610.5 108.2 611.2 107.9 612.0 107.6 612.8 107.3 613.5 107.0 614.3 106.7 615.1 106.4 615.8 106.1 616.6 105.9 617.4 105.6 618.1 105.4 618.9 105.2 619.7 105.0 620.4 104.8 621.2 104.6 622.0 104.4 622.7 104.3 623.5 104.2 624.3 104.1 625.1 104.0 625.8 103.9 626.6 103.8 627.4 103.8 628.1 103.7 628.9 103.7 629.7 103.7 630.4 103.8 631.2 103.8 632.0 103.8 632.7 103.9 633.5 103.9 634.3 104.0 635.0 104.1 635.8 104.2 636.6 104.3 637.3 104.4 638.1 104.5 638.9 104.7 639.6 104.8 640.4 105.0 641.2 105.1 641.9 105.3 642.7 105.5 643.5 105.7 644.2 105.9 645.0 106.1 645.8 106.3 646.5 106.5 647.3 106.7 648.1 107.0 648.8 107.2 649.6 107.5 650.4 107.7 651.1 108.0 651.9 108.2 652.7 108.5 653.4 108.7 654.2 109.0 655.0 109.3 655.8 109.5 656.5 109.8 657.3 110.1 658.1 110.3 658.8 110.6 659.6 110.9 660.4 111.2 661.1 111.4 661.9 111.7 662.7 112.0 663.4 112.2 664.2 112.5 665.0 112.8 665.7 113.0 666.5 113.3 667.3 113.5 668.0 113.8 668.8 114.0 669.6 114.3 670.3 114.5 671.1 114.7" fill="none" stroke="#f59aa6" stroke-width="1.5" stroke-linejoin="round"/><path d="M579.0 117.1 579.8 116.8 580.5 116.5 581.3 116.1 582.1 115.7 582.8 115.3 583.6 114.9 584.4 114.4 585.1 114.0 585.9 113.5 586.7 113.0 587.4 112.4 588.2 111.9 589.0 111.3 589.7 110.7 590.5 110.1 591.3 109.5 592.0 108.8 592.8 108.1 593.6 107.4 594.4 106.7 595.1 105.9 595.9 105.2 596.7 104.4 597.4 103.6 598.2 102.7 599.0 101.9 599.7 101.1 600.5 100.2 601.3 99.3 602.0 98.4 602.8 97.5 603.6 96.6 604.3 95.7 605.1 94.8 605.9 93.9 606.6 93.0 607.4 92.0 608.2 91.1 608.9 90.2 609.7 89.3 610.5 88.4 611.2 87.5 612.0 86.7 612.8 85.8 613.5 85.0 614.3 84.2 615.1 83.4 615.8 82.6 616.6 81.9 617.4 81.2 618.1 80.5 618.9 79.8 619.7 79.2 620.4 78.7 621.2 78.1 622.0 77.6 622.7 77.2 623.5 76.8 624.3 76.4 625.1 76.1 625.8 75.8 626.6 75.6 627.4 75.4 628.1 75.3 628.9 75.2 629.7 75.2 630.4 75.2 631.2 75.3 632.0 75.4 632.7 75.5 633.5 75.6 634.3 75.8 635.0 76.0 635.8 76.2 636.6 76.5 637.3 76.8 638.1 77.1 638.9 77.5 639.6 77.9 640.4 78.3 641.2 78.7 641.9 79.2 642.7 79.6 643.5 80.2 644.2 80.7 645.0 81.2 645.8 81.8 646.5 82.4 647.3 83.0 648.1 83.6 648.8 84.3 649.6 84.9 650.4 85.6 651.1 86.3 651.9 87.0 652.7 87.7 653.4 88.4 654.2 89.1 655.0 89.8 655.8 90.5 656.5 91.3 657.3 92.0 658.1 92.8 658.8 93.5 659.6 94.2 660.4 95.0 661.1 95.7 661.9 96.5 662.7 97.2 663.4 97.9 664.2 98.6 665.0 99.4 665.7 100.1 666.5 100.8 667.3 101.5 668.0 102.1 668.8 102.8 669.6 103.5 670.3 104.1 671.1 104.8" fill="none" stroke="#3d56c6" stroke-width="1.7" stroke-linejoin="round"/><path d="M579.0 114.4 579.8 113.9 580.5 113.3 581.3 112.7 582.1 112.1 582.8 111.4 583.6 110.7 584.4 110.0 585.1 109.2 585.9 108.5 586.7 107.6 587.4 106.8 588.2 105.8 589.0 104.9 589.7 103.9 590.5 102.9 591.3 101.9 592.0 100.8 592.8 99.6 593.6 98.5 594.4 97.3 595.1 96.1 595.9 94.8 596.7 93.5 597.4 92.2 598.2 90.8 599.0 89.4 599.7 88.0 600.5 86.6 601.3 85.1 602.0 83.6 602.8 82.1 603.6 80.6 604.3 79.1 605.1 77.6 605.9 76.0 606.6 74.5 607.4 73.0 608.2 71.4 608.9 69.9 609.7 68.4 610.5 66.9 611.2 65.4 612.0 63.9 612.8 62.5 613.5 61.0 614.3 59.7 615.1 58.3 615.8 57.0 616.6 55.7 617.4 54.5 618.1 53.4 618.9 52.3 619.7 51.2 620.4 50.2 621.2 49.3 622.0 48.4 622.7 47.6 623.5 46.9 624.3 46.2 625.1 45.7 625.8 45.2 626.6 44.8 627.4 44.4 628.1 44.2 628.9 44.0 629.7 43.9 630.4 43.9 631.2 43.9 632.0 44.0 632.7 44.2 633.5 44.4 634.3 44.7 635.0 45.0 635.8 45.3 636.6 45.8 637.3 46.2 638.1 46.7 638.9 47.3 639.6 47.9 640.4 48.6 641.2 49.3 641.9 50.0 642.7 50.8 643.5 51.6 644.2 52.5 645.0 53.4 645.8 54.3 646.5 55.3 647.3 56.3 648.1 57.3 648.8 58.4 649.6 59.5 650.4 60.6 651.1 61.7 651.9 62.8 652.7 64.0 653.4 65.2 654.2 66.4 655.0 67.6 655.8 68.8 656.5 70.0 657.3 71.3 658.1 72.5 658.8 73.7 659.6 75.0 660.4 76.2 661.1 77.5 661.9 78.7 662.7 79.9 663.4 81.2 664.2 82.4 665.0 83.6 665.7 84.8 666.5 85.9 667.3 87.1 668.0 88.3 668.8 89.4 669.6 90.5 670.3 91.6 671.1 92.7" fill="none" stroke="#e9342a" stroke-width="1.7" stroke-linejoin="round"/><text x="632.4" y="41.4" font-size="8.6" text-anchor="middle" font-weight="bold" fill="#e9342a" stroke="#e9342a" stroke-width="0.14">170.6x</text><text x="632" y="73.7" font-size="8.6" text-anchor="middle" font-weight="bold" fill="#3d56c6" stroke="#3d56c6" stroke-width="0.14">101.4x</text><text x="630.2" y="101.2" font-size="8.6" text-anchor="middle" font-weight="bold" fill="#f59aa6" stroke="#f59aa6" stroke-width="0.14">40.4X</text><line x1="596.2" y1="84.7" x2="596.2" y2="63" stroke="#000" stroke-width="1.5"/><path d="M596.2 58.2 L599.2 64.6 L593.2 64.6Z" fill="#000"/><text x="557.4" y="74.4" font-size="9.4" text-anchor="middle" transform="rotate(-90 557.4 74.4)" stroke="#000" stroke-width="0.5">Normalized  Fluo.Int.</text><text x="535" y="133.8" font-size="9.9" font-weight="bold" stroke="#000" stroke-width="0.14">λ (nm)</text>
</g>
<g id="panel-c">
<text x="1.4" y="155.4" font-size="13.7" font-weight="bold" stroke="#000" stroke-width="0.14">c</text><text x="41.4" y="158.7" font-size="12.25" font-weight="bold" stroke="#000" stroke-width="0.14">H2B-GFP-ReTagX</text><line x1="192.6" y1="146.4" x2="192.6" y2="160.4" stroke="#000" stroke-width="1.8"/><text x="209.4" y="158.7" font-size="12.25" font-weight="bold" fill="#e8362c" stroke="#e8362c" stroke-width="0.14">MaP655-TMP</text><line x1="4" y1="162.6" x2="328.6" y2="162.6" stroke="#000" stroke-width="1.7"/><rect x="2.9" y="172" width="107.3" height="107.4" fill="#050505"/><rect x="112.9" y="172" width="107.9" height="107.4" fill="#050505"/><rect x="223.3" y="172" width="107.5" height="107.4" fill="#050505"/><g clip-path="url(#c1l)"><g filter="url(#nblur)"><path d="M34.6 177.6 C33.1 178.2 33.26 178.16 31.4 180.2 C29.54 182.24 30.08 181.58 28.4 184.4 C26.72 187.22 26.82 186.12 25.8 189.6 C24.78 193.08 24.76 192.28 25 196 C25.24 199.72 25.22 198.7 26.6 202 C27.98 205.3 27.5 204.6 29.6 207 C31.7 209.4 31.2 208.86 33.6 210 C36 211.14 35.53 210.53 37.6 210.8 C39.67 211.07 38.88 211.08 40.5 210.9 C42.12 210.72 41.35 210.05 43 210.2 C44.65 210.35 44.08 211.16 46 211.4 C47.92 211.64 47.42 211.84 49.4 211 C51.38 210.16 51.1 210.4 52.6 208.6 C54.1 206.8 53.92 207.19 54.4 205 C54.88 202.81 55.04 203.58 54.2 201.3 C53.36 199.02 53.46 199.5 51.6 197.4 C49.74 195.3 50.34 196.58 48 194.3 C45.66 192.02 46.14 192.5 43.8 189.8 C41.46 187.1 41.94 187.94 40.2 185.3 C38.46 182.66 39.14 183.13 38 181 C36.86 178.87 37.42 179.22 36.4 178.2 C35.38 177.18 36.1 177 34.6 177.6Z" fill="#a4e838"/><circle cx="43.31" cy="202.67" r="0.63" fill="#5a7a10" opacity="0.4"/><circle cx="44.08" cy="208.05" r="0.39" fill="#5a7a10" opacity="0.4"/><circle cx="38.79" cy="185.93" r="0.54" fill="#5a7a10" opacity="0.4"/><circle cx="31.37" cy="187.05" r="0.67" fill="#5a7a10" opacity="0.4"/><circle cx="40.85" cy="200.51" r="0.42" fill="#5a7a10" opacity="0.4"/><circle cx="33.78" cy="189.81" r="0.41" fill="#5a7a10" opacity="0.4"/><circle cx="33.86" cy="197.99" r="0.35" fill="#5a7a10" opacity="0.4"/><circle cx="34.11" cy="205.27" r="0.52" fill="#5a7a10" opacity="0.4"/></g></g><g clip-path="url(#c1r)"><g filter="url(#nblur)"><path d="M34.6 177.6 C33.1 178.2 33.26 178.16 31.4 180.2 C29.54 182.24 30.08 181.58 28.4 184.4 C26.72 187.22 26.82 186.12 25.8 189.6 C24.78 193.08 24.76 192.28 25 196 C25.24 199.72 25.22 198.7 26.6 202 C27.98 205.3 27.5 204.6 29.6 207 C31.7 209.4 31.2 208.86 33.6 210 C36 211.14 35.53 210.53 37.6 210.8 C39.67 211.07 38.88 211.08 40.5 210.9 C42.12 210.72 41.35 210.05 43 210.2 C44.65 210.35 44.08 211.16 46 211.4 C47.92 211.64 47.42 211.84 49.4 211 C51.38 210.16 51.1 210.4 52.6 208.6 C54.1 206.8 53.92 207.19 54.4 205 C54.88 202.81 55.04 203.58 54.2 201.3 C53.36 199.02 53.46 199.5 51.6 197.4 C49.74 195.3 50.34 196.58 48 194.3 C45.66 192.02 46.14 192.5 43.8 189.8 C41.46 187.1 41.94 187.94 40.2 185.3 C38.46 182.66 39.14 183.13 38 181 C36.86 178.87 37.42 179.22 36.4 178.2 C35.38 177.18 36.1 177 34.6 177.6Z" fill="#8e2420"/><circle cx="34.28" cy="193.87" r="0.6" fill="#3a0808" opacity="0.5"/><circle cx="35.43" cy="195.33" r="0.62" fill="#3a0808" opacity="0.5"/><circle cx="48.44" cy="206.66" r="0.36" fill="#3a0808" opacity="0.5"/><circle cx="35.02" cy="198.25" r="0.67" fill="#3a0808" opacity="0.5"/><circle cx="34.31" cy="183.6" r="0.38" fill="#3a0808" opacity="0.5"/><circle cx="29.38" cy="200.89" r="0.7" fill="#3a0808" opacity="0.5"/><circle cx="36.93" cy="185.62" r="0.56" fill="#3a0808" opacity="0.5"/><circle cx="39.51" cy="205.94" r="0.4" fill="#3a0808" opacity="0.5"/><circle cx="43.53" cy="204.23" r="0.39" fill="#3a0808" opacity="0.5"/><circle cx="38.33" cy="194.1" r="0.61" fill="#3a0808" opacity="0.5"/></g></g><g clip-path="url(#c1l)"><g filter="url(#nblur)"><path d="M28 242.4 C25.6 242.88 25.92 242.74 24 244.6 C22.08 246.46 22.32 245.9 21.6 248.6 C20.88 251.3 21 250.78 21.6 253.6 C22.2 256.42 21.98 255.84 23.6 258 C25.22 260.16 24.78 259.72 27 260.8 C29.22 261.88 29.32 260.76 31 261.6 C32.68 262.44 31.88 262.16 32.6 263.6 C33.32 265.04 32.5 264.9 33.4 266.4 C34.3 267.9 34.04 267.46 35.6 268.6 C37.16 269.74 36.38 269.69 38.6 270.2 C40.82 270.71 40.3 270.72 43 270.3 C45.7 269.88 45.14 270.51 47.6 268.8 C50.06 267.09 49.52 267.66 51.2 264.6 C52.88 261.54 52.48 262.2 53.2 258.6 C53.92 255 54.08 255.6 53.6 252.6 C53.12 249.6 53.4 250.1 51.6 248.6 C49.8 247.1 50.3 247.6 47.6 247.6 C44.9 247.6 45.48 247.88 42.6 248.6 C39.72 249.32 40.16 250.78 38 250 C35.84 249.22 37.2 248.1 35.4 246 C33.6 243.9 34.22 244.08 32 243 C29.78 241.92 30.4 241.92 28 242.4Z" fill="#98e036"/><circle cx="36.93" cy="250.52" r="0.49" fill="#4a7010" opacity="0.4"/><circle cx="26.29" cy="252.92" r="0.7" fill="#4a7010" opacity="0.4"/><circle cx="37.58" cy="251.84" r="0.38" fill="#4a7010" opacity="0.4"/><circle cx="49.36" cy="252.48" r="0.63" fill="#4a7010" opacity="0.4"/><circle cx="46.4" cy="261.78" r="0.58" fill="#4a7010" opacity="0.4"/><circle cx="45.91" cy="252.54" r="0.6" fill="#4a7010" opacity="0.4"/><circle cx="30.59" cy="255.95" r="0.62" fill="#4a7010" opacity="0.4"/><circle cx="43.71" cy="250.6" r="0.68" fill="#4a7010" opacity="0.4"/></g></g><g clip-path="url(#c1r)"><g filter="url(#nblur)"><path d="M28 242.4 C25.6 242.88 25.92 242.74 24 244.6 C22.08 246.46 22.32 245.9 21.6 248.6 C20.88 251.3 21 250.78 21.6 253.6 C22.2 256.42 21.98 255.84 23.6 258 C25.22 260.16 24.78 259.72 27 260.8 C29.22 261.88 29.32 260.76 31 261.6 C32.68 262.44 31.88 262.16 32.6 263.6 C33.32 265.04 32.5 264.9 33.4 266.4 C34.3 267.9 34.04 267.46 35.6 268.6 C37.16 269.74 36.38 269.69 38.6 270.2 C40.82 270.71 40.3 270.72 43 270.3 C45.7 269.88 45.14 270.51 47.6 268.8 C50.06 267.09 49.52 267.66 51.2 264.6 C52.88 261.54 52.48 262.2 53.2 258.6 C53.92 255 54.08 255.6 53.6 252.6 C53.12 249.6 53.4 250.1 51.6 248.6 C49.8 247.1 50.3 247.6 47.6 247.6 C44.9 247.6 45.48 247.88 42.6 248.6 C39.72 249.32 40.16 250.78 38 250 C35.84 249.22 37.2 248.1 35.4 246 C33.6 243.9 34.22 244.08 32 243 C29.78 241.92 30.4 241.92 28 242.4Z" fill="#701c1a"/><circle cx="42.39" cy="258.6" r="0.35" fill="#2a0606" opacity="0.5"/><circle cx="43.09" cy="255.32" r="0.64" fill="#2a0606" opacity="0.5"/><circle cx="42.32" cy="264.65" r="0.47" fill="#2a0606" opacity="0.5"/><circle cx="42.21" cy="262.99" r="0.64" fill="#2a0606" opacity="0.5"/><circle cx="38.18" cy="257.17" r="0.41" fill="#2a0606" opacity="0.5"/><circle cx="36.87" cy="261.69" r="0.6" fill="#2a0606" opacity="0.5"/><circle cx="46.57" cy="258.61" r="0.58" fill="#2a0606" opacity="0.5"/><circle cx="35.07" cy="259.8" r="0.62" fill="#2a0606" opacity="0.5"/></g></g><line x1="37.4" y1="171.8" x2="37.4" y2="279.1" stroke="#fff" stroke-width="1.2" stroke-dasharray="4.2 2.2" stroke-opacity="1"/><path d="M106.2 207.6 Q100 197.5 88.6 192.4 Q83.6 190.6 80.4 194.6 Q74.2 202.6 71.8 214.5 Q70.6 222 74.6 229.6 Q77.8 234.6 85 235 L108.6 235.8" fill="none" stroke="#fff" stroke-width="1.8" stroke-dasharray="1.3 1.45"/><circle cx="87.1" cy="216.9" r="4" fill="none" stroke="#fff" stroke-width="1.45"/><line x1="86.4" y1="220.9" x2="84.3" y2="243.6" stroke="#fff" stroke-width="1.45"/><circle cx="44.9" cy="258.4" r="4" fill="none" stroke="#fff" stroke-width="1.45"/><line x1="48.8" y1="257.7" x2="68.6" y2="254.2" stroke="#fff" stroke-width="1.45"/><text x="69.3" y="255" font-size="12.2" font-weight="bold" fill="#fff" stroke="#fff" stroke-width="0.14">143.0X</text><text x="6.1" y="182.8" font-size="7.4" font-weight="bold" fill="#e23a2e" stroke="#e23a2e" stroke-width="0.14">ReTag1</text><text x="4.5" y="276.6" font-size="8.6" font-weight="bold" fill="#fff" stroke="#fff" stroke-width="0.14">Merge</text><line x1="94.2" y1="277.2" x2="107.9" y2="277.2" stroke="#ddd" stroke-width="1.1"/><g filter="url(#nblur)"><path d="M124.4 188.1 C121.52 190.23 121.34 189.88 119.6 193.9 C117.86 197.92 118.03 196.91 118.6 201.5 C119.17 206.09 118.62 205.75 121.5 209.2 C124.38 212.65 124.18 211.86 128.2 213 C132.22 214.14 131.72 214.41 134.9 213 C138.08 211.59 137.06 212.02 138.8 208.3 C140.54 204.58 140.13 205.22 140.7 200.6 C141.27 195.98 142.14 196.77 140.7 192.9 C139.26 189.03 139.35 189.53 135.9 187.7 C132.45 185.87 132.65 186.68 129.2 186.8 C125.75 186.92 127.28 185.97 124.4 188.1Z" fill="url(#ngy)"/><circle cx="132.67" cy="205.67" r="0.36" fill="#5a4a10" opacity="0.5"/><circle cx="122.14" cy="198.36" r="0.58" fill="#5a4a10" opacity="0.5"/><circle cx="123.44" cy="204.77" r="0.57" fill="#5a4a10" opacity="0.5"/><circle cx="127" cy="202.83" r="0.56" fill="#5a4a10" opacity="0.5"/><circle cx="124.76" cy="197.54" r="0.39" fill="#5a4a10" opacity="0.5"/><circle cx="136.97" cy="196.6" r="0.36" fill="#5a4a10" opacity="0.5"/><circle cx="130.65" cy="195.69" r="0.55" fill="#5a4a10" opacity="0.5"/><circle cx="127.86" cy="208.1" r="0.57" fill="#5a4a10" opacity="0.5"/><circle cx="126.76" cy="190.52" r="0.56" fill="#5a4a10" opacity="0.5"/><circle cx="131.1" cy="202.92" r="0.4" fill="#5a4a10" opacity="0.5"/><circle cx="132.51" cy="210.15" r="0.48" fill="#5a4a10" opacity="0.5"/><circle cx="128.14" cy="192.73" r="0.45" fill="#5a4a10" opacity="0.5"/><circle cx="131.77" cy="193.61" r="0.69" fill="#5a4a10" opacity="0.5"/><circle cx="129.57" cy="197.69" r="0.46" fill="#5a4a10" opacity="0.5"/><circle cx="124.93" cy="199.3" r="0.39" fill="#5a4a10" opacity="0.5"/><circle cx="132.34" cy="198.42" r="0.45" fill="#5a4a10" opacity="0.5"/></g><g filter="url(#nblur)"><path d="M159.8 216.9 C158.36 219.6 158.03 219.45 158.9 222.6 C159.77 225.75 159.55 225.48 162.7 227.4 C165.85 229.32 165.38 229 169.4 229 C173.42 229 172.92 229.32 176.1 227.4 C179.28 225.48 178.68 225.75 180 222.6 C181.32 219.45 181.67 219.78 180.5 216.9 C179.33 214.02 179.13 214.56 176.1 213 C173.07 211.44 174.12 211.52 170.4 211.7 C166.68 211.88 166.88 212.04 163.7 213.6 C160.52 215.16 161.24 214.2 159.8 216.9Z" fill="#a62824"/><circle cx="175.79" cy="215.95" r="0.44" fill="#400a0a" opacity="0.5"/><circle cx="165.23" cy="222.22" r="0.52" fill="#400a0a" opacity="0.5"/><circle cx="172.83" cy="222.15" r="0.61" fill="#400a0a" opacity="0.5"/><circle cx="165.39" cy="220.93" r="0.47" fill="#400a0a" opacity="0.5"/><circle cx="165.31" cy="220.87" r="0.51" fill="#400a0a" opacity="0.5"/><circle cx="166.7" cy="224.59" r="0.56" fill="#400a0a" opacity="0.5"/><circle cx="168.14" cy="221.66" r="0.6" fill="#400a0a" opacity="0.5"/><circle cx="172.56" cy="220.04" r="0.67" fill="#400a0a" opacity="0.5"/><circle cx="167.23" cy="218.48" r="0.65" fill="#400a0a" opacity="0.5"/><circle cx="163.14" cy="216.83" r="0.64" fill="#400a0a" opacity="0.5"/><circle cx="173.9" cy="219.19" r="0.45" fill="#400a0a" opacity="0.5"/><circle cx="161.98" cy="219.98" r="0.54" fill="#400a0a" opacity="0.5"/></g><g filter="url(#nblur)"><path d="M172.3 260 C171.13 263.15 170.43 262.22 171.3 264.8 C172.17 267.38 171.75 267.28 175.2 268.6 C178.65 269.92 177.64 270.04 182.8 269.2 C187.96 268.36 187.78 269.13 192.4 265.8 C197.02 262.47 195.02 262.42 198.2 258.1 C201.38 253.78 201.86 255.15 203 251.4 C204.14 247.65 203.74 248.78 202 245.6 C200.26 242.42 200.35 242.33 197.2 240.8 C194.05 239.27 194.65 239.63 191.5 240.5 C188.35 241.37 189.88 241 186.7 243.7 C183.52 246.4 184.35 246.32 180.9 249.5 C177.45 252.68 177.78 251.15 175.2 254.3 C172.62 257.45 173.47 256.85 172.3 260Z" fill="#b42c26"/><circle cx="187.08" cy="249.99" r="0.4" fill="#400a0a" opacity="0.55"/><circle cx="189.87" cy="263.8" r="0.37" fill="#400a0a" opacity="0.55"/><circle cx="178.59" cy="264.02" r="0.63" fill="#400a0a" opacity="0.55"/><circle cx="178.25" cy="259.03" r="0.68" fill="#400a0a" opacity="0.55"/><circle cx="193.88" cy="244.36" r="0.45" fill="#400a0a" opacity="0.55"/><circle cx="190.66" cy="252.38" r="0.41" fill="#400a0a" opacity="0.55"/><circle cx="189.54" cy="261.81" r="0.66" fill="#400a0a" opacity="0.55"/><circle cx="181.27" cy="257.73" r="0.52" fill="#400a0a" opacity="0.55"/><circle cx="176.09" cy="258.62" r="0.53" fill="#400a0a" opacity="0.55"/><circle cx="190.98" cy="248.06" r="0.54" fill="#400a0a" opacity="0.55"/><circle cx="179.36" cy="262.04" r="0.53" fill="#400a0a" opacity="0.55"/><circle cx="183.07" cy="261.64" r="0.41" fill="#400a0a" opacity="0.55"/><circle cx="193.91" cy="259.3" r="0.38" fill="#400a0a" opacity="0.55"/><circle cx="178.86" cy="265.67" r="0.52" fill="#400a0a" opacity="0.55"/><circle cx="181.55" cy="263.36" r="0.36" fill="#400a0a" opacity="0.55"/><circle cx="192.89" cy="246.9" r="0.39" fill="#400a0a" opacity="0.55"/><circle cx="191.11" cy="250.67" r="0.43" fill="#400a0a" opacity="0.55"/><circle cx="181.86" cy="258.11" r="0.47" fill="#400a0a" opacity="0.55"/></g><line x1="154.5" y1="171.8" x2="154.5" y2="279.1" stroke="#fff" stroke-width="1.2" stroke-dasharray="4.2 2.2" stroke-opacity="1"/><g clip-path="url(#c2)"><path d="M195.4 171.4 C193.77 173.13 193.63 172.93 190.5 176.6 C187.37 180.27 188.97 177.73 186 182.4 C183.03 187.07 183.8 185 181.6 190.6 C179.4 196.2 179.4 194.33 179.4 199.2 C179.4 204.07 177.9 202.37 181.6 205.2 C185.3 208.03 183.7 206.8 190.5 207.7 C197.3 208.6 194.97 208.37 202 207.9 C209.03 207.43 206.5 208.67 211.6 206.3 C216.7 203.93 214.57 204.77 217.3 200.8 C220.03 196.83 218.97 196.53 219.8 194.4" fill="none" stroke="#fff" stroke-width="1.8" stroke-dasharray="1.3 1.45"/></g><circle cx="203.9" cy="192.9" r="4" fill="none" stroke="#fff" stroke-width="1.45"/><line x1="201.9" y1="196.6" x2="188" y2="219.9" stroke="#fff" stroke-width="1.45"/><line x1="183.7" y1="237.2" x2="186.9" y2="250" stroke="#fff" stroke-width="1.45"/><circle cx="188.2" cy="253.9" r="4" fill="none" stroke="#fff" stroke-width="1.45"/><text x="174.3" y="234.7" font-size="12.2" font-weight="bold" fill="#fff" stroke="#fff" stroke-width="0.14">159.7X</text><text x="116.6" y="182.9" font-size="7.4" font-weight="bold" fill="#e23a2e" stroke="#e23a2e" stroke-width="0.14">ReTag2</text><text x="115.2" y="276.6" font-size="8.6" font-weight="bold" fill="#fff" stroke="#fff" stroke-width="0.14">Merge</text><line x1="207.8" y1="277.2" x2="218.7" y2="277.2" stroke="#ddd" stroke-width="1.1"/><ellipse cx="248.8" cy="245" rx="7" ry="8.5" fill="#3a2408" filter="url(#nblur2)" opacity="0.6"/><ellipse cx="240.5" cy="192.5" rx="5" ry="5" fill="#2a1806" filter="url(#nblur2)" opacity="0.5"/><ellipse cx="290" cy="228" rx="6" ry="5" fill="#200a06" filter="url(#nblur2)" opacity="0.5"/><g filter="url(#nblur)"><path d="M241.1 203.5 C239.93 205.96 239.23 206.05 240.1 209.2 C240.97 212.35 240.82 212.11 244 214 C247.18 215.89 246.98 215.8 250.7 215.5 C254.42 215.2 253.82 215.46 256.4 213 C258.98 210.54 258.43 210.45 259.3 207.3 C260.17 204.15 260.44 204.63 259.3 202.5 C258.16 200.37 258.65 200.89 255.5 200.2 C252.35 199.51 252.25 199.96 248.8 200.2 C245.35 200.44 246.31 200.01 244 201 C241.69 201.99 242.27 201.04 241.1 203.5Z" fill="#dc8a2c"/><circle cx="247.51" cy="202.29" r="0.64" fill="#5a2a08" opacity="0.55"/><circle cx="252.54" cy="212.51" r="0.5" fill="#5a2a08" opacity="0.55"/><circle cx="256.45" cy="208.12" r="0.56" fill="#5a2a08" opacity="0.55"/><circle cx="251.11" cy="211.52" r="0.49" fill="#5a2a08" opacity="0.55"/><circle cx="257.17" cy="207.56" r="0.62" fill="#5a2a08" opacity="0.55"/><circle cx="248.33" cy="207.32" r="0.38" fill="#5a2a08" opacity="0.55"/><circle cx="247.29" cy="206.1" r="0.66" fill="#5a2a08" opacity="0.55"/><circle cx="243.02" cy="204.09" r="0.45" fill="#5a2a08" opacity="0.55"/><circle cx="243.2" cy="204.59" r="0.43" fill="#5a2a08" opacity="0.55"/><circle cx="253.04" cy="207.42" r="0.68" fill="#5a2a08" opacity="0.55"/><circle cx="245.69" cy="210.52" r="0.61" fill="#5a2a08" opacity="0.55"/><circle cx="246.09" cy="207.36" r="0.45" fill="#5a2a08" opacity="0.55"/><circle cx="254.16" cy="211.18" r="0.41" fill="#5a2a08" opacity="0.55"/><circle cx="244.72" cy="210.48" r="0.68" fill="#5a2a08" opacity="0.55"/><circle cx="252.5" cy="206.79" r="0.69" fill="#5a2a08" opacity="0.55"/><circle cx="255.06" cy="206.48" r="0.37" fill="#5a2a08" opacity="0.55"/></g><g clip-path="url(#c3l)"><g filter="url(#nblur)"><path d="M258.3 237 C256.59 238.56 256.8 238.35 257.4 241.8 C258 245.25 258.29 244.75 260.3 248.5 C262.31 252.25 261.82 251.42 264.1 254.3 C266.38 257.18 265.32 257.26 267.9 258.1 C270.48 258.94 270.12 258.54 272.7 257.1 C275.28 255.66 275.06 256.45 276.5 253.3 C277.94 250.15 277.77 250.35 277.5 246.6 C277.23 242.85 277.31 243.38 275.6 240.8 C273.89 238.22 274.5 238.27 271.8 238 C269.1 237.73 269.21 240.32 266.6 239.9 C263.99 239.48 265.59 237.47 263.1 236.6 C260.61 235.73 260.01 235.44 258.3 237Z" fill="#d8a02c"/><circle cx="267.83" cy="244.13" r="0.38" fill="#5a3008" opacity="0.5"/><circle cx="265.59" cy="243.18" r="0.37" fill="#5a3008" opacity="0.5"/><circle cx="265.49" cy="248.02" r="0.38" fill="#5a3008" opacity="0.5"/><circle cx="263.71" cy="238.92" r="0.54" fill="#5a3008" opacity="0.5"/><circle cx="267.18" cy="248.89" r="0.48" fill="#5a3008" opacity="0.5"/><circle cx="269.96" cy="252.2" r="0.67" fill="#5a3008" opacity="0.5"/></g></g><g clip-path="url(#c3r)"><g filter="url(#nblur)"><path d="M258.3 237 C256.59 238.56 256.8 238.35 257.4 241.8 C258 245.25 258.29 244.75 260.3 248.5 C262.31 252.25 261.82 251.42 264.1 254.3 C266.38 257.18 265.32 257.26 267.9 258.1 C270.48 258.94 270.12 258.54 272.7 257.1 C275.28 255.66 275.06 256.45 276.5 253.3 C277.94 250.15 277.77 250.35 277.5 246.6 C277.23 242.85 277.31 243.38 275.6 240.8 C273.89 238.22 274.5 238.27 271.8 238 C269.1 237.73 269.21 240.32 266.6 239.9 C263.99 239.48 265.59 237.47 263.1 236.6 C260.61 235.73 260.01 235.44 258.3 237Z" fill="#dc2c22"/><circle cx="263.58" cy="246.25" r="0.64" fill="#500808" opacity="0.55"/><circle cx="261.9" cy="239.09" r="0.46" fill="#500808" opacity="0.55"/><circle cx="273.87" cy="243.33" r="0.4" fill="#500808" opacity="0.55"/><circle cx="269" cy="241.88" r="0.37" fill="#500808" opacity="0.55"/><circle cx="261.42" cy="242.75" r="0.48" fill="#500808" opacity="0.55"/><circle cx="270.55" cy="252.93" r="0.55" fill="#500808" opacity="0.55"/><circle cx="272.03" cy="251.68" r="0.44" fill="#500808" opacity="0.55"/><circle cx="273.72" cy="244.82" r="0.4" fill="#500808" opacity="0.55"/><circle cx="272.75" cy="248.58" r="0.36" fill="#500808" opacity="0.55"/><circle cx="262.05" cy="245.82" r="0.48" fill="#500808" opacity="0.55"/></g></g><g filter="url(#nblur)"><path d="M298.6 238.9 C297.91 242.08 297.33 241.82 298.2 244.7 C299.07 247.58 298.5 247.06 301.5 248.5 C304.5 249.94 304.18 250.07 308.2 249.5 C312.22 248.93 311.93 249.21 314.9 246.6 C317.87 243.99 317.23 244.55 318.1 240.8 C318.97 237.05 319.06 237.82 317.8 234.1 C316.54 230.38 316.78 230.68 313.9 228.4 C311.02 226.12 311.35 226.23 308.2 226.5 C305.05 226.77 305.71 227.02 303.4 229.3 C301.09 231.58 301.94 231.22 300.5 234.1 C299.06 236.98 299.29 235.72 298.6 238.9Z" fill="#ea3026"/><circle cx="309.83" cy="245.52" r="0.6" fill="#500808" opacity="0.6"/><circle cx="301.61" cy="242.82" r="0.51" fill="#500808" opacity="0.6"/><circle cx="306.84" cy="236.65" r="0.62" fill="#500808" opacity="0.6"/><circle cx="309.68" cy="237.59" r="0.66" fill="#500808" opacity="0.6"/><circle cx="306.02" cy="231.46" r="0.45" fill="#500808" opacity="0.6"/><circle cx="302.2" cy="239.44" r="0.47" fill="#500808" opacity="0.6"/><circle cx="313.15" cy="232.06" r="0.47" fill="#500808" opacity="0.6"/><circle cx="310.5" cy="235.72" r="0.4" fill="#500808" opacity="0.6"/><circle cx="314.75" cy="237.77" r="0.36" fill="#500808" opacity="0.6"/><circle cx="302.17" cy="244.83" r="0.46" fill="#500808" opacity="0.6"/><circle cx="310.6" cy="244.91" r="0.48" fill="#500808" opacity="0.6"/><circle cx="309.87" cy="230.75" r="0.49" fill="#500808" opacity="0.6"/><circle cx="304.41" cy="235.31" r="0.52" fill="#500808" opacity="0.6"/><circle cx="312.2" cy="235.68" r="0.69" fill="#500808" opacity="0.6"/><circle cx="311.99" cy="241.91" r="0.54" fill="#500808" opacity="0.6"/><circle cx="314.09" cy="234.84" r="0.56" fill="#500808" opacity="0.6"/></g><line x1="266.6" y1="171.8" x2="266.6" y2="279.1" stroke="#fff" stroke-width="1.2" stroke-dasharray="4.2 2.2" stroke-opacity="1"/><ellipse cx="285.2" cy="202.9" rx="17.3" ry="17.2" fill="none" stroke="#fff" stroke-width="1.8" stroke-dasharray="1.3 1.45"/><circle cx="284.8" cy="203.1" r="4" fill="none" stroke="#fff" stroke-width="1.45"/><line x1="281.8" y1="205.9" x2="270.6" y2="214.2" stroke="#fff" stroke-width="1.45"/><line x1="277.1" y1="231.3" x2="306.6" y2="234.3" stroke="#fff" stroke-width="1.45"/><circle cx="310.5" cy="234.5" r="4" fill="none" stroke="#fff" stroke-width="1.45"/><text x="242" y="227" font-size="12.2" font-weight="bold" fill="#fff" stroke="#fff" stroke-width="0.14">164.1X</text><rect x="311.4" y="174.1" width="17.9" height="46.6" fill="#fff"/><rect x="313.9" y="176.6" width="5.2" height="42.2" fill="url(#cbar)"/><text x="320" y="179.9" font-size="3.2" fill="#b02020" stroke="#b02020" stroke-width="0.14">255</text><text x="320" y="199.6" font-size="3.2" fill="#802020" stroke="#802020" stroke-width="0.14">128</text><text x="320" y="219.4" font-size="3.2" fill="#301010" stroke="#301010" stroke-width="0.14">0</text><text x="226.6" y="182.9" font-size="7.4" font-weight="bold" fill="#e23a2e" stroke="#e23a2e" stroke-width="0.14">ReTag4</text><text x="225.2" y="276.6" font-size="8.6" font-weight="bold" fill="#fff" stroke="#fff" stroke-width="0.14">Merge</text><line x1="318.1" y1="277.2" x2="328.9" y2="277.2" stroke="#ddd" stroke-width="1.1"/>
</g>
<g id="panel-d">
<text x="335" y="154.2" font-size="13.7" font-weight="bold" stroke="#000" stroke-width="0.14">d</text><path d="M370.4 262.98 C371.42 262.98 370.84 262.44 372.2 261.38 C373.56 260.33 374.01 260.56 375.2 259.25 C376.39 257.95 376.34 258.18 376.4 256.77 C376.46 255.36 376.05 255.69 375.4 254.28 C374.75 252.88 374.5 253.11 374.1 251.8 C373.7 250.49 373.75 250.98 374 249.67 C374.25 248.36 375.06 248.59 375 247.19 C374.94 245.78 374.68 246.21 373.8 244.7 C372.92 243.19 372.86 243.87 371.9 241.86 C370.94 239.85 371.25 237.6 370.4 237.6 C369.55 237.6 369.86 239.85 368.9 241.86 C367.94 243.87 367.88 243.19 367 244.7 C366.12 246.21 365.86 245.78 365.8 247.19 C365.74 248.59 366.54 248.36 366.8 249.67 C367.05 250.98 367.1 250.49 366.7 251.8 C366.3 253.11 366.05 252.88 365.4 254.28 C364.75 255.69 364.34 255.36 364.4 256.77 C364.46 258.18 364.41 257.95 365.6 259.25 C366.79 260.56 367.24 260.33 368.6 261.38 C369.96 262.44 369.38 262.98 370.4 262.98Z" fill="#f7c896"/><circle cx="369.04" cy="256.94" r="1.4" fill="#fbdcb8" opacity="0.6"/><circle cx="367.17" cy="247.65" r="1.4" fill="#fbdcb8" opacity="0.6"/><circle cx="375.51" cy="256.4" r="1.4" fill="#fbdcb8" opacity="0.6"/><circle cx="373.45" cy="259.16" r="1.4" fill="#fbdcb8" opacity="0.6"/><circle cx="372.1" cy="245.94" r="1.4" fill="#fbdcb8" opacity="0.6"/><circle cx="367.04" cy="247.98" r="1.4" fill="#fbdcb8" opacity="0.6"/><circle cx="370.12" cy="240.67" r="1.4" fill="#fbdcb8" opacity="0.6"/><circle cx="369.32" cy="255.34" r="1.4" fill="#fbdcb8" opacity="0.6"/><path d="M370.4 262.98 C371.42 262.98 370.84 262.44 372.2 261.38 C373.56 260.33 374.01 260.56 375.2 259.25 C376.39 257.95 376.34 258.18 376.4 256.77 C376.46 255.36 376.05 255.69 375.4 254.28 C374.75 252.88 374.5 253.11 374.1 251.8 C373.7 250.49 373.75 250.98 374 249.67 C374.25 248.36 375.06 248.59 375 247.19 C374.94 245.78 374.68 246.21 373.8 244.7 C372.92 243.19 372.86 243.87 371.9 241.86 C370.94 239.85 371.25 237.6 370.4 237.6 C369.55 237.6 369.86 239.85 368.9 241.86 C367.94 243.87 367.88 243.19 367 244.7 C366.12 246.21 365.86 245.78 365.8 247.19 C365.74 248.59 366.54 248.36 366.8 249.67 C367.05 250.98 367.1 250.49 366.7 251.8 C366.3 253.11 366.05 252.88 365.4 254.28 C364.75 255.69 364.34 255.36 364.4 256.77 C364.46 258.18 364.41 257.95 365.6 259.25 C366.79 260.56 367.24 260.33 368.6 261.38 C369.96 262.44 369.38 262.98 370.4 262.98Z" fill="none" stroke="#f0a35a" stroke-width="1" stroke-linejoin="round"/><path d="M391 253.04 C391.85 253.04 391.79 252.45 392.5 251.09 C393.21 249.73 393.39 249.76 393.5 248.25 C393.61 246.74 393.27 246.97 392.9 245.76 C392.53 244.56 392.06 245.1 392.2 243.99 C392.34 242.88 392.32 243.07 393.4 241.86 C394.48 240.65 394.92 240.84 396 239.73 C397.08 238.62 397.31 239.06 397.2 237.95 C397.09 236.85 396.51 237.13 395.6 235.82 C394.69 234.52 394.74 234.85 394 233.34 C393.26 231.83 393.34 232.11 393 230.5 C392.66 228.89 392.74 229.17 392.8 227.66 C392.86 226.15 393.34 226.58 393.2 225.18 C393.06 223.77 392.92 224.4 392.3 222.69 C391.68 220.98 391.74 219.14 391 219.14 C390.26 219.14 390.32 220.98 389.7 222.69 C389.08 224.4 388.94 223.77 388.8 225.18 C388.66 226.58 389.14 226.15 389.2 227.66 C389.26 229.17 389.34 228.89 389 230.5 C388.66 232.11 388.74 231.83 388 233.34 C387.26 234.85 387.31 234.52 386.4 235.82 C385.49 237.13 384.91 236.85 384.8 237.95 C384.69 239.06 384.92 238.62 386 239.73 C387.08 240.84 387.52 240.65 388.6 241.86 C389.68 243.07 389.66 242.88 389.8 243.99 C389.94 245.1 389.47 244.56 389.1 245.76 C388.73 246.97 388.39 246.74 388.5 248.25 C388.61 249.76 388.79 249.73 389.5 251.09 C390.21 252.45 390.15 253.04 391 253.04Z" fill="#4e66ca"/><circle cx="391.85" cy="230.28" r="1.6" fill="#3a50b8" opacity="0.7"/><circle cx="388.93" cy="233.6" r="1.6" fill="#3a50b8" opacity="0.7"/><circle cx="389.1" cy="239.13" r="1.6" fill="#3a50b8" opacity="0.7"/><circle cx="387.87" cy="239.21" r="1.6" fill="#3a50b8" opacity="0.7"/><circle cx="392.44" cy="237.43" r="1.6" fill="#3a50b8" opacity="0.7"/><circle cx="392.68" cy="235.85" r="1.6" fill="#3a50b8" opacity="0.7"/><circle cx="390.51" cy="234.45" r="1.6" fill="#3a50b8" opacity="0.7"/><circle cx="391.52" cy="233.38" r="1.6" fill="#3a50b8" opacity="0.7"/><circle cx="391.41" cy="231.61" r="1.6" fill="#3a50b8" opacity="0.7"/><circle cx="389.57" cy="237.24" r="1.6" fill="#3a50b8" opacity="0.7"/><circle cx="390.44" cy="232.95" r="1.6" fill="#3a50b8" opacity="0.7"/><circle cx="390.5" cy="232.85" r="1.6" fill="#3a50b8" opacity="0.7"/><path d="M391 253.04 C391.85 253.04 391.79 252.45 392.5 251.09 C393.21 249.73 393.39 249.76 393.5 248.25 C393.61 246.74 393.27 246.97 392.9 245.76 C392.53 244.56 392.06 245.1 392.2 243.99 C392.34 242.88 392.32 243.07 393.4 241.86 C394.48 240.65 394.92 240.84 396 239.73 C397.08 238.62 397.31 239.06 397.2 237.95 C397.09 236.85 396.51 237.13 395.6 235.82 C394.69 234.52 394.74 234.85 394 233.34 C393.26 231.83 393.34 232.11 393 230.5 C392.66 228.89 392.74 229.17 392.8 227.66 C392.86 226.15 393.34 226.58 393.2 225.18 C393.06 223.77 392.92 224.4 392.3 222.69 C391.68 220.98 391.74 219.14 391 219.14 C390.26 219.14 390.32 220.98 389.7 222.69 C389.08 224.4 388.94 223.77 388.8 225.18 C388.66 226.58 389.14 226.15 389.2 227.66 C389.26 229.17 389.34 228.89 389 230.5 C388.66 232.11 388.74 231.83 388 233.34 C387.26 234.85 387.31 234.52 386.4 235.82 C385.49 237.13 384.91 236.85 384.8 237.95 C384.69 239.06 384.92 238.62 386 239.73 C387.08 240.84 387.52 240.65 388.6 241.86 C389.68 243.07 389.66 242.88 389.8 243.99 C389.94 245.1 389.47 244.56 389.1 245.76 C388.73 246.97 388.39 246.74 388.5 248.25 C388.61 249.76 388.79 249.73 389.5 251.09 C390.21 252.45 390.15 253.04 391 253.04Z" fill="none" stroke="#3f57c4" stroke-width="1" stroke-linejoin="round"/><path d="M411.4 251.44 C411.97 251.44 411.69 249.39 412.4 246.47 C413.11 243.56 412.94 244.17 413.9 241.15 C414.86 238.13 414.84 238.84 415.8 235.82 C416.76 232.81 416.79 233.52 417.3 230.5 C417.81 227.48 417.57 228.19 417.6 225.18 C417.63 222.16 417.77 222.57 417.4 219.85 C417.03 217.13 417.01 218.1 416.3 215.59 C415.59 213.08 415.58 213.79 414.9 210.97 C414.22 208.16 414.3 209.17 413.9 205.65 C413.5 202.13 413.7 202.07 413.5 198.55 C413.3 195.03 413.45 196.24 413.2 193.23 C412.94 190.21 412.94 190.72 412.6 187.9 C412.26 185.08 412.34 186 412 183.28 C411.66 180.57 411.74 178.31 411.4 178.31 C411.06 178.31 411.14 180.57 410.8 183.28 C410.46 186 410.54 185.08 410.2 187.9 C409.86 190.72 409.85 190.21 409.6 193.23 C409.34 196.24 409.5 195.03 409.3 198.55 C409.1 202.07 409.3 202.13 408.9 205.65 C408.5 209.17 408.58 208.16 407.9 210.97 C407.22 213.79 407.21 213.08 406.5 215.59 C405.79 218.1 405.77 217.13 405.4 219.85 C405.03 222.57 405.17 222.16 405.2 225.18 C405.23 228.19 404.99 227.48 405.5 230.5 C406.01 233.52 406.04 232.81 407 235.82 C407.96 238.84 407.94 238.13 408.9 241.15 C409.86 244.17 409.69 243.56 410.4 246.47 C411.11 249.39 410.83 251.44 411.4 251.44Z" fill="#fff"/><circle cx="411.53" cy="194.97" r="1.9" fill="#f4a0b4" opacity="0.6"/><circle cx="410.89" cy="233.99" r="1.9" fill="#f4a0b4" opacity="0.6"/><circle cx="410.95" cy="200.4" r="1.9" fill="#f4a0b4" opacity="0.6"/><circle cx="410.77" cy="227.04" r="1.9" fill="#f4a0b4" opacity="0.6"/><circle cx="415.37" cy="226.82" r="1.9" fill="#f4a0b4" opacity="0.6"/><circle cx="407.84" cy="218.46" r="1.9" fill="#f4a0b4" opacity="0.6"/><circle cx="413.29" cy="212.71" r="1.9" fill="#f4a0b4" opacity="0.6"/><circle cx="412.76" cy="231.07" r="1.9" fill="#f4a0b4" opacity="0.6"/><circle cx="412.18" cy="241.96" r="1.9" fill="#f4a0b4" opacity="0.6"/><circle cx="410.63" cy="231.61" r="1.9" fill="#f4a0b4" opacity="0.6"/><circle cx="415.68" cy="220.75" r="1.9" fill="#f4a0b4" opacity="0.6"/><circle cx="413.13" cy="240.04" r="1.9" fill="#f4a0b4" opacity="0.6"/><circle cx="415.68" cy="219.68" r="1.9" fill="#f4a0b4" opacity="0.6"/><circle cx="410.35" cy="213.49" r="1.9" fill="#f4a0b4" opacity="0.6"/><circle cx="412.06" cy="234.81" r="1.9" fill="#f4a0b4" opacity="0.6"/><circle cx="406.89" cy="230.46" r="1.9" fill="#f4a0b4" opacity="0.6"/><circle cx="412.17" cy="238.88" r="1.9" fill="#f4a0b4" opacity="0.6"/><circle cx="414.19" cy="213.05" r="1.9" fill="#f4a0b4" opacity="0.6"/><circle cx="410.54" cy="206.68" r="1.9" fill="#f4a0b4" opacity="0.6"/><circle cx="413.32" cy="237.01" r="1.9" fill="#f4a0b4" opacity="0.6"/><circle cx="411.56" cy="191.22" r="1.9" fill="#f4a0b4" opacity="0.6"/><circle cx="411.26" cy="188.37" r="1.9" fill="#f4a0b4" opacity="0.6"/><circle cx="410.69" cy="231.8" r="1.9" fill="#f4a0b4" opacity="0.6"/><circle cx="407.14" cy="216.86" r="1.9" fill="#f4a0b4" opacity="0.6"/><circle cx="412.56" cy="242.33" r="1.9" fill="#f4a0b4" opacity="0.6"/><circle cx="411.4" cy="188.96" r="1.9" fill="#f4a0b4" opacity="0.6"/><circle cx="409.89" cy="228.34" r="1.9" fill="#f4a0b4" opacity="0.6"/><circle cx="409.6" cy="225.06" r="1.9" fill="#f4a0b4" opacity="0.6"/><circle cx="414.35" cy="224.15" r="1.9" fill="#f4a0b4" opacity="0.6"/><circle cx="412.68" cy="223.64" r="1.9" fill="#f4a0b4" opacity="0.6"/><circle cx="411.36" cy="219.88" r="1.9" fill="#f4a0b4" opacity="0.6"/><circle cx="413" cy="233.52" r="1.9" fill="#f4a0b4" opacity="0.6"/><circle cx="415.82" cy="220.3" r="1.9" fill="#f4a0b4" opacity="0.6"/><circle cx="414.43" cy="224.08" r="1.9" fill="#f4a0b4" opacity="0.6"/><circle cx="408.05" cy="232.27" r="1.9" fill="#f4a0b4" opacity="0.6"/><circle cx="411.82" cy="210.21" r="1.9" fill="#f4a0b4" opacity="0.6"/><circle cx="410.63" cy="194.82" r="1.9" fill="#f4a0b4" opacity="0.6"/><circle cx="413.14" cy="238.34" r="1.9" fill="#f4a0b4" opacity="0.6"/><circle cx="411.84" cy="193.03" r="1.9" fill="#f4a0b4" opacity="0.6"/><circle cx="414.75" cy="227.73" r="1.9" fill="#f4a0b4" opacity="0.6"/><circle cx="409.38" cy="233.74" r="1.9" fill="#f4a0b4" opacity="0.6"/><circle cx="410.33" cy="222.65" r="1.9" fill="#f4a0b4" opacity="0.6"/><path d="M411.4 251.44 C411.97 251.44 411.69 249.39 412.4 246.47 C413.11 243.56 412.94 244.17 413.9 241.15 C414.86 238.13 414.84 238.84 415.8 235.82 C416.76 232.81 416.79 233.52 417.3 230.5 C417.81 227.48 417.57 228.19 417.6 225.18 C417.63 222.16 417.77 222.57 417.4 219.85 C417.03 217.13 417.01 218.1 416.3 215.59 C415.59 213.08 415.58 213.79 414.9 210.97 C414.22 208.16 414.3 209.17 413.9 205.65 C413.5 202.13 413.7 202.07 413.5 198.55 C413.3 195.03 413.45 196.24 413.2 193.23 C412.94 190.21 412.94 190.72 412.6 187.9 C412.26 185.08 412.34 186 412 183.28 C411.66 180.57 411.74 178.31 411.4 178.31 C411.06 178.31 411.14 180.57 410.8 183.28 C410.46 186 410.54 185.08 410.2 187.9 C409.86 190.72 409.85 190.21 409.6 193.23 C409.34 196.24 409.5 195.03 409.3 198.55 C409.1 202.07 409.3 202.13 408.9 205.65 C408.5 209.17 408.58 208.16 407.9 210.97 C407.22 213.79 407.21 213.08 406.5 215.59 C405.79 218.1 405.77 217.13 405.4 219.85 C405.03 222.57 405.17 222.16 405.2 225.18 C405.23 228.19 404.99 227.48 405.5 230.5 C406.01 233.52 406.04 232.81 407 235.82 C407.96 238.84 407.94 238.13 408.9 241.15 C409.86 244.17 409.69 243.56 410.4 246.47 C411.11 249.39 410.83 251.44 411.4 251.44Z" fill="none" stroke="#e9342a" stroke-width="1.2" stroke-linejoin="round"/><line x1="357" y1="159" x2="357" y2="266.5" stroke="#000" stroke-width="1"/><line x1="356.5" y1="266" x2="425.2" y2="266" stroke="#000" stroke-width="1"/><line x1="353.1" y1="266" x2="357" y2="266" stroke="#000" stroke-width="1"/><text x="352.3" y="268.8" font-size="7.9" text-anchor="end" font-weight="bold" stroke="#000" stroke-width="0.14">0</text><line x1="353.1" y1="230.5" x2="357" y2="230.5" stroke="#000" stroke-width="1"/><text x="352.3" y="233.3" font-size="7.9" text-anchor="end" font-weight="bold" stroke="#000" stroke-width="0.14">1</text><line x1="353.1" y1="195" x2="357" y2="195" stroke="#000" stroke-width="1"/><text x="352.3" y="197.8" font-size="7.9" text-anchor="end" font-weight="bold" stroke="#000" stroke-width="0.14">2</text><line x1="353.1" y1="159.5" x2="357" y2="159.5" stroke="#000" stroke-width="1"/><text x="352.3" y="162.3" font-size="7.9" text-anchor="end" font-weight="bold" stroke="#000" stroke-width="0.14">3</text><line x1="370.4" y1="266" x2="370.4" y2="270.3" stroke="#000" stroke-width="1"/><text x="370.4" y="277.5" font-size="7.9" text-anchor="middle" font-weight="bold" stroke="#000" stroke-width="0.14">1</text><line x1="391" y1="266" x2="391" y2="270.3" stroke="#000" stroke-width="1"/><text x="391" y="277.5" font-size="7.9" text-anchor="middle" font-weight="bold" stroke="#000" stroke-width="0.14">2</text><line x1="411.4" y1="266" x2="411.4" y2="270.3" stroke="#000" stroke-width="1"/><text x="411.4" y="277.5" font-size="7.9" text-anchor="middle" font-weight="bold" stroke="#000" stroke-width="0.14">4</text><line x1="355.8" y1="280.5" x2="424.6" y2="280.5" stroke="#000" stroke-width="0.9"/><text x="389.2" y="289.9" font-size="7.5" text-anchor="middle" font-weight="bold" stroke="#000" stroke-width="0.14">H2B-GFP-ReTagX</text><text x="344.6" y="212" font-size="9.5" text-anchor="middle" transform="rotate(-90 344.6 212)" stroke="#000" stroke-width="0.4">Brightness</text><path d="M370.4 169.8 V165.6 H411.4 V169.8" fill="none" stroke="#000" stroke-width="0.8"/><path d="M370.4 184.4 V180 H391 V184.4" fill="none" stroke="#000" stroke-width="0.8"/><text x="391" y="165.7" font-size="11.5" text-anchor="middle" stroke="#000" stroke-width="0.2">****</text><text x="380.5" y="180.2" font-size="11.5" text-anchor="middle" stroke="#000" stroke-width="0.2">****</text>
</g>
<g id="panel-e">
<text x="427" y="154.4" font-size="13.7" font-weight="bold" stroke="#000" stroke-width="0.14">e</text><line x1="445" y1="151.8" x2="445" y2="284.9" stroke="#000" stroke-width="1.6"/><text x="439.8" y="217.8" font-size="9.3" text-anchor="middle" font-weight="bold" transform="rotate(-90 439.8 217.8)" stroke="#000" stroke-width="0.14">MitoNeet-ReTag4</text><rect x="450.4" y="157.2" width="106.2" height="127.7" fill="#050505"/><g clip-path="url(#eclipL)"><rect x="450.4" y="157.2" width="50" height="127.7" fill="#121212"/><ellipse cx="458" cy="222" rx="17" ry="30" fill="url(#ewf)" opacity="0.8"/><g filter="url(#eblur)" fill="none" stroke-linecap="round"><path d="M450.5 211.5 C451.67 211.27 451.5 211.43 454 210.8 C456.5 210.17 455.33 210.53 458 209.6 C460.67 208.67 459.5 209.07 462 208 C464.5 206.93 463 206.6 465.5 206.4 C468 206.2 468.17 207.07 469.5 207.4" fill="none" stroke="#ffffff" stroke-width="3"/><path d="M451 214.6 C452.33 214.4 452.33 214.53 455 214 C457.67 213.47 456.33 213.2 459 213 C461.67 212.8 460.67 212.67 463 213.4 C465.33 214.13 464.13 213.47 466 215.2 C467.87 216.93 467.73 217.47 468.6 218.6" fill="none" stroke="#e8e8e8" stroke-width="2.3"/><path d="M452 219.6 C453.17 218.6 452.97 217.4 455.5 216.6 C458.03 215.8 457.6 216 459.6 217.2 C461.6 218.4 461.7 218.2 461.5 220.2 C461.3 222.2 461.17 221.87 459 223.2 C456.83 224.53 457.13 222.87 455 224.2 C452.87 225.53 453.4 226.2 452.6 227.2" fill="none" stroke="#dcdcdc" stroke-width="1.9"/><path d="M452 230 C453 229.33 453 228.13 455 228 C457 227.87 456.47 228.07 458 229.6 C459.53 231.13 459.93 230.8 459.6 232.6 C459.27 234.4 458.87 234.4 457 235 C455.13 235.6 455.67 233.53 454 234.4 C452.33 235.27 452.67 236.53 452 237.6" fill="none" stroke="#c8c8c8" stroke-width="1.8"/><path d="M451 241 C452 240.53 452.13 240.6 454 239.6 C455.87 238.6 455.73 238.53 456.6 238" fill="none" stroke="#9c9c9c" stroke-width="1.2"/><path d="M456 193.6 C456.67 192.6 456.47 192.07 458 190.6 C459.53 189.13 459.27 188.67 460.6 189.2 C461.93 189.73 462.2 190.2 462 192.2 C461.8 194.2 460.67 194.2 460 195.2" fill="none" stroke="#909090" stroke-width="1.3"/><path d="M462 223 C463 223.87 462.8 224.27 465 225.6 C467.2 226.93 467.4 226.53 468.6 227" fill="none" stroke="#b0b0b0" stroke-width="1.3"/><path d="M463 200 C463.87 200.87 463.93 201.07 465.6 202.6 C467.27 204.13 467.2 203.93 468 204.6" fill="none" stroke="#a0a0a0" stroke-width="1.2"/></g><circle cx="478" cy="240.5" r="0.8" fill="#aaa" filter="url(#eblur2)"/><circle cx="479.6" cy="246" r="0.8" fill="#aaa" filter="url(#eblur2)"/><circle cx="470" cy="253.6" r="0.8" fill="#aaa" filter="url(#eblur2)"/><circle cx="454" cy="249" r="0.8" fill="#aaa" filter="url(#eblur2)"/><circle cx="462" cy="198" r="0.8" fill="#aaa" filter="url(#eblur2)"/><circle cx="481" cy="235" r="0.8" fill="#aaa" filter="url(#eblur2)"/></g><g clip-path="url(#eclipR)"><ellipse cx="497" cy="207" rx="10" ry="8" fill="url(#ecore)" opacity="0.7"/><ellipse cx="517" cy="220" rx="8" ry="7" fill="url(#ecore)" opacity="0.4"/><g filter="url(#eblur2)" fill="none" stroke-linecap="round" stroke-linejoin="round"><path d="M507.26 232.19 C507.33 231.76 507.35 231.76 507.46 230.9 C507.58 230.03 507.21 230.29 507.61 229.6 C508.01 228.91 508.16 229.5 508.67 228.84 C509.19 228.18 508.81 228.42 509.15 227.62 C509.49 226.82 509.51 226.83 509.69 226.43" fill="none" stroke="#e43c18" stroke-width="0.8"/><path d="M519.2 219.01 C519.34 219.44 519.29 219.46 519.61 220.3 C519.94 221.14 520.19 220.72 520.17 221.53 C520.15 222.35 519.77 222.34 519.56 222.74" fill="none" stroke="#ff7a24" stroke-width="1.02"/><path d="M514.58 223.47 C514.29 223.19 514.4 222.88 513.73 222.64 C513.05 222.4 512.94 222.71 512.54 222.74" fill="none" stroke="#ff8026" stroke-width="0.84"/><path d="M519.79 218.82 C519.46 218.93 519.47 219.03 518.8 219.13 C518.12 219.24 518.45 219.12 517.76 219.14 C517.06 219.16 517.36 219.35 516.72 219.2 C516.07 219.05 516.11 218.85 515.81 218.68" fill="none" stroke="#ff8026" stroke-width="1.07"/><path d="M499.29 241.68 C499.35 241.22 499.3 241.21 499.47 240.3 C499.64 239.39 499.54 239.84 499.8 238.95 C500.07 238.06 500.05 238.53 500.28 237.64 C500.5 236.74 500.48 237.18 500.48 236.26 C500.48 235.34 500.67 235.67 500.28 234.88 C499.89 234.09 499.63 234.22 499.31 233.89" fill="none" stroke="#e8441a" stroke-width="0.9"/><path d="M521.08 221.38 C521.22 221.69 521.05 221.86 521.51 222.32 C521.96 222.77 521.9 222.35 522.45 222.73 C523.01 223.12 522.97 222.89 523.17 223.48 C523.36 224.07 523.12 223.82 523.04 224.5 C522.96 225.18 522.96 225.18 522.92 225.53" fill="none" stroke="#ff7a24" stroke-width="0.82"/><path d="M492.55 199.09 C492.25 198.86 492.33 198.66 491.66 198.39 C490.99 198.12 491.24 198.14 490.53 198.28 C489.82 198.42 490.14 198.38 489.54 198.82 C488.93 199.27 488.99 199.35 488.72 199.61" fill="none" stroke="#ec4a1a" stroke-width="0.92"/><path d="M495.5 203.52 C495.95 203.55 495.95 203.61 496.85 203.61 C497.75 203.6 497.75 203.55 498.2 203.52" fill="none" stroke="#ffb840" stroke-width="1.04"/><path d="M499.28 189.13 C499.57 188.79 499.46 188.63 500.16 188.1 C500.85 187.57 500.86 188.16 501.38 187.53 C501.91 186.91 501.62 187.11 501.73 186.23 C501.84 185.34 501.72 185.78 501.72 184.88 C501.71 183.98 501.71 183.98 501.71 183.53" fill="none" stroke="#d83016" stroke-width="1.13"/><path d="M496.68 225.19 C496.29 225.36 496.32 225.61 495.52 225.7 C494.72 225.78 495.03 225.29 494.28 225.45 C493.52 225.61 493.8 225.57 493.24 226.18 C492.69 226.79 492.88 226.49 492.61 227.27 C492.34 228.06 492.49 228.11 492.43 228.52" fill="none" stroke="#e8441a" stroke-width="0.89"/><path d="M473.43 210.19 C473.34 209.74 473.35 209.73 473.14 208.83 C472.92 207.93 473.21 208.29 472.79 207.49 C472.38 206.68 472.2 206.78 471.9 206.42" fill="none" stroke="#e8441a" stroke-width="0.81"/><path d="M499.66 233.79 C499.72 233.41 499.67 233.39 499.84 232.64 C500.01 231.89 499.76 232.13 500.18 231.53 C500.6 230.93 500.58 231.39 501.11 230.83 C501.63 230.28 501.53 230.19 501.74 229.86" fill="none" stroke="#cc2812" stroke-width="0.85"/><path d="M505.53 204.2 C505.81 204.35 505.78 204.48 506.38 204.64 C506.98 204.8 507.02 204.66 507.34 204.67" fill="none" stroke="#ff7a24" stroke-width="0.89"/><path d="M465.34 207.11 C465.55 206.9 465.69 206.98 465.97 206.49 C466.25 205.99 465.97 206.17 466.17 205.62 C466.37 205.07 466.44 205.1 466.58 204.84" fill="none" stroke="#d83016" stroke-width="0.83"/><path d="M508.66 224.06 C508.36 224.23 508.39 224.3 507.77 224.58 C507.14 224.87 507.33 224.53 506.78 224.91 C506.23 225.28 506.68 225.36 506.12 225.71 C505.57 226.06 505.45 225.88 505.12 225.96" fill="none" stroke="#d83016" stroke-width="1.05"/><path d="M499.29 210.56 C498.9 210.38 498.91 210.35 498.13 210.02 C497.35 209.68 497.34 209.71 496.95 209.55" fill="none" stroke="#ffd060" stroke-width="0.94"/><path d="M481.41 191.06 C481.68 191.25 481.64 191.31 482.2 191.65 C482.76 191.99 482.47 191.9 483.1 192.07 C483.72 192.24 483.53 191.89 484.08 192.17 C484.63 192.44 484.23 192.51 484.75 192.89 C485.28 193.27 485.05 193.03 485.64 193.32 C486.24 193.61 486.24 193.61 486.53 193.76" fill="none" stroke="#e8441a" stroke-width="1.13"/><path d="M514.75 230.62 C514.31 230.75 514.32 230.92 513.42 231.02 C512.52 231.12 512.96 231.01 512.05 230.92 C511.13 230.84 511.58 230.92 510.68 230.76 C509.77 230.61 509.78 230.56 509.33 230.45" fill="none" stroke="#e43c18" stroke-width="1.02"/><path d="M495.41 216.29 C495.68 216.19 495.83 216.35 496.22 215.99 C496.62 215.63 496.23 215.62 496.6 215.21 C496.97 214.8 496.8 214.93 497.34 214.75 C497.87 214.58 497.63 214.76 498.2 214.68 C498.77 214.6 498.76 214.58 499.05 214.52" fill="none" stroke="#ff8026" stroke-width="1.04"/><path d="M504.27 202 C504.07 202.2 504.12 202.27 503.67 202.59 C503.22 202.92 503.25 202.58 502.93 202.98 C502.6 203.39 502.74 203.25 502.71 203.8 C502.67 204.35 502.79 204.07 502.82 204.63 C502.86 205.19 502.81 205.19 502.81 205.47" fill="none" stroke="#ff7a24" stroke-width="1.05"/><path d="M491.75 209.33 C491.44 209.33 491.42 209.41 490.81 209.31 C490.2 209.21 490.49 208.97 489.92 209.03 C489.35 209.09 489.52 209.06 489.11 209.5 C488.7 209.94 488.91 209.76 488.7 210.34 C488.49 210.93 488.56 210.95 488.49 211.26" fill="none" stroke="#ffb840" stroke-width="1.07"/><path d="M492.4 193.16 C492.32 192.76 492.49 192.69 492.17 191.96 C491.85 191.24 491.64 191.72 491.44 190.99 C491.24 190.26 491.57 190.58 491.57 189.77 C491.57 188.97 491.45 189.37 491.45 188.56 C491.45 187.75 491.28 188.07 491.58 187.35 C491.88 186.63 492.1 186.72 492.36 186.41" fill="none" stroke="#e43c18" stroke-width="0.86"/><path d="M501.41 236 C501.09 235.78 501.15 235.66 500.47 235.35 C499.8 235.05 499.74 235.17 499.38 235.08" fill="none" stroke="#e8441a" stroke-width="1.06"/><path d="M495.7 210.76 C495.96 210.59 495.92 210.52 496.47 210.26 C497.02 210 496.75 210.06 497.35 209.97 C497.95 209.88 497.69 210.1 498.27 209.98 C498.86 209.86 498.55 209.61 499.12 209.6 C499.68 209.59 499.69 209.84 499.97 209.95" fill="none" stroke="#ff9a30" stroke-width="0.98"/><path d="M543.15 228.64 C543.43 228.51 543.5 228.6 543.98 228.24 C544.46 227.87 544.24 228.04 544.58 227.54 C544.93 227.04 544.58 227.09 545.02 226.74 C545.47 226.38 545.33 226.67 545.91 226.48 C546.49 226.3 546.21 226.41 546.78 226.18 C547.34 225.94 547.33 225.91 547.6 225.78" fill="none" stroke="#cc2812" stroke-width="1.03"/><path d="M499.48 197.51 C499.58 197.76 499.79 197.76 499.79 198.27 C499.79 198.78 499.77 198.58 499.48 199.03 C499.19 199.48 499.1 199.42 498.91 199.62" fill="none" stroke="#ff8026" stroke-width="0.83"/><path d="M492.84 201.93 C492.75 202.23 492.77 202.24 492.55 202.82 C492.33 203.41 492.2 203.11 492.19 203.7 C492.17 204.28 492.2 204.05 492.5 204.59 C492.8 205.13 492.67 204.85 493.09 205.32 C493.5 205.8 493.52 205.78 493.74 206.01" fill="none" stroke="#ffd060" stroke-width="0.93"/><path d="M512.85 235.82 C512.9 235.39 512.97 235.39 513 234.52 C513.03 233.66 512.7 234 512.95 233.22 C513.19 232.44 513.39 232.96 513.74 232.18 C514.08 231.41 513.76 231.74 513.98 230.9 C514.2 230.06 513.92 230.35 514.4 229.66 C514.88 228.98 515.08 229.13 515.42 228.86" fill="none" stroke="#e8441a" stroke-width="1.11"/><path d="M521.15 227.06 C521.42 227.21 521.42 227.19 521.94 227.49 C522.45 227.79 522.2 227.63 522.7 227.96 C523.19 228.28 523.18 228.3 523.43 228.47" fill="none" stroke="#ff7a24" stroke-width="0.96"/><path d="M511.63 209.21 C511.51 209.51 511.24 209.53 511.27 210.11 C511.31 210.7 511.6 210.36 511.75 210.97 C511.89 211.57 511.83 211.31 511.7 211.94 C511.58 212.57 511.48 212.55 511.37 212.85" fill="none" stroke="#d83016" stroke-width="0.98"/><path d="M502 206.5 C501.92 206.78 501.8 206.78 501.76 207.36 C501.71 207.94 501.83 207.95 501.87 208.25" fill="none" stroke="#ff7a24" stroke-width="0.86"/><path d="M521.99 242.45 C521.7 242.55 521.68 242.79 521.12 242.73 C520.56 242.68 520.87 242.55 520.31 242.29 C519.76 242.03 520.05 242.08 519.46 241.95 C518.86 241.83 519.12 241.79 518.54 241.9 C517.96 242.02 517.99 242.17 517.71 242.3" fill="none" stroke="#e43c18" stroke-width="1.05"/><path d="M491.66 196.55 C491.41 196.23 491.54 196.02 490.89 195.6 C490.24 195.17 490.1 195.37 489.71 195.26" fill="none" stroke="#ff7a24" stroke-width="1.08"/><path d="M525.53 218.21 C525.34 218.53 525.52 218.78 524.96 219.17 C524.41 219.57 524.57 219.17 523.86 219.39 C523.15 219.6 523.52 219.82 522.83 219.82 C522.14 219.81 522.28 219.87 521.8 219.38 C521.32 218.88 521.47 219.05 521.38 218.34 C521.3 217.62 521.49 217.6 521.55 217.23" fill="none" stroke="#ff8026" stroke-width="1.12"/><path d="M504.56 223.18 C504.91 223 504.89 222.7 505.62 222.66 C506.36 222.61 506.01 222.76 506.75 223.03 C507.49 223.31 507.3 222.99 507.85 223.48 C508.41 223.98 507.89 223.97 508.42 224.53 C508.94 225.08 509.09 224.94 509.43 225.15" fill="none" stroke="#cc2812" stroke-width="1.07"/><path d="M512.07 195.3 C511.83 195.5 511.76 195.44 511.34 195.9 C510.91 196.35 510.97 196.41 510.79 196.67" fill="none" stroke="#cc2812" stroke-width="1"/><path d="M535.17 233.15 C535.63 233.22 535.7 233.03 536.54 233.35 C537.39 233.67 537.32 233.86 537.71 234.12" fill="none" stroke="#d83016" stroke-width="1.12"/><path d="M474.33 192.47 C474.05 192.36 474.02 192.42 473.5 192.14 C472.97 191.87 473 191.81 472.75 191.65" fill="none" stroke="#e8441a" stroke-width="1.07"/><path d="M510.87 201.81 C511.07 202.2 511.05 202.2 511.47 202.96 C511.88 203.72 511.48 203.62 512.11 204.08 C512.75 204.55 512.68 203.94 513.38 204.37 C514.08 204.79 513.53 204.88 514.22 205.36 C514.91 205.83 515.03 205.64 515.44 205.79" fill="none" stroke="#cc2812" stroke-width="1.01"/><path d="M518.85 205.69 C518.74 205.37 518.96 205.16 518.53 204.71 C518.11 204.27 518.16 204.68 517.57 204.35 C516.98 204.01 517.03 203.93 516.76 203.72" fill="none" stroke="#cc2812" stroke-width="1"/><path d="M512.6 219.88 C512.67 220.31 512.39 220.49 512.82 221.15 C513.25 221.81 513.13 221.48 513.89 221.87 C514.64 222.27 514.44 221.83 515.09 222.33 C515.74 222.83 515.34 222.68 515.84 223.38 C516.34 224.08 516.07 223.74 516.59 224.42 C517.11 225.1 517.13 225.09 517.41 225.42" fill="none" stroke="#ff7a24" stroke-width="1"/><path d="M478.55 204.75 C478.95 204.84 478.96 205.03 479.77 205.03 C480.58 205.02 480.18 204.72 480.99 204.74 C481.79 204.76 481.5 204.67 482.19 205.08 C482.88 205.5 482.77 205.68 483.06 205.98" fill="none" stroke="#d83016" stroke-width="1.01"/><path d="M480.09 219.54 C479.85 219.23 479.63 219.31 479.36 218.61 C479.09 217.91 479.5 218.17 479.28 217.43 C479.07 216.69 478.92 216.74 478.73 216.39" fill="none" stroke="#cc2812" stroke-width="1.03"/><path d="M495.55 208.79 C495.69 208.51 495.78 208.54 495.97 207.96 C496.16 207.38 495.94 207.63 496.13 207.04 C496.31 206.46 496.33 206.78 496.52 206.2 C496.72 205.62 496.76 205.88 496.71 205.29 C496.67 204.69 496.5 204.71 496.39 204.41" fill="none" stroke="#ffb840" stroke-width="0.9"/><path d="M491.04 228.47 C491.39 228.28 491.34 228.13 492.09 227.92 C492.84 227.7 492.49 227.82 493.28 227.82 C494.07 227.83 493.68 227.9 494.47 227.93 C495.26 227.97 494.87 227.93 495.66 227.92 C496.46 227.92 496.19 227.63 496.85 227.91 C497.52 228.2 497.39 228.5 497.66 228.79" fill="none" stroke="#cc2812" stroke-width="0.95"/><path d="M536.36 238.71 C536.54 239.09 536.51 239.11 536.89 239.85 C537.26 240.6 537.1 240.21 537.5 240.95 C537.89 241.68 537.54 241.45 538.08 242.06 C538.62 242.66 538.59 242.15 539.12 242.75 C539.65 243.36 539.49 243.5 539.68 243.88" fill="none" stroke="#e43c18" stroke-width="1.1"/><path d="M531.34 218.09 C531.29 217.68 531.52 217.57 531.19 216.85 C530.85 216.13 531.04 216.22 530.34 215.93 C529.64 215.65 529.88 215.79 529.09 216 C528.3 216.21 528.76 216.32 527.98 216.56 C527.19 216.79 527.52 216.46 526.73 216.7 C525.95 216.94 525.99 217.09 525.62 217.28" fill="none" stroke="#e43c18" stroke-width="0.96"/><path d="M502.89 215.55 C503.19 215.64 503.19 215.63 503.78 215.82 C504.37 216.02 504.07 216.14 504.66 216.15 C505.24 216.16 505.24 215.95 505.54 215.84" fill="none" stroke="#ff7a24" stroke-width="0.84"/><path d="M513.15 233.21 C513.34 233.42 513.38 233.39 513.72 233.84 C514.05 234.3 514.01 234.33 514.16 234.57" fill="none" stroke="#e43c18" stroke-width="0.89"/><path d="M476 205.76 C476.32 205.89 476.44 205.74 476.97 206.14 C477.5 206.55 477.38 206.7 477.59 206.98" fill="none" stroke="#cc2812" stroke-width="1.11"/><path d="M483.12 209.22 C483.5 209.4 483.47 209.64 484.27 209.76 C485.07 209.88 484.76 209.39 485.52 209.58 C486.28 209.77 485.78 210.13 486.54 210.33 C487.3 210.52 487.05 209.95 487.79 210.17 C488.53 210.39 488.43 210.72 488.75 210.99" fill="none" stroke="#e8441a" stroke-width="1.05"/><path d="M495.14 207.74 C494.99 208.11 495.16 208.24 494.7 208.85 C494.24 209.46 494.12 208.94 493.76 209.58 C493.4 210.22 493.56 209.99 493.63 210.76 C493.69 211.54 493.51 211.32 493.95 211.91 C494.39 212.51 494.62 212.34 494.96 212.55" fill="none" stroke="#ff9a30" stroke-width="1.09"/><path d="M511.45 233.65 C511.27 233.88 511.25 233.86 510.91 234.32 C510.57 234.79 510.62 234.52 510.43 235.05 C510.25 235.58 510.34 235.34 510.35 235.92 C510.37 236.49 510.58 236.24 510.47 236.78 C510.36 237.31 510.18 237.28 510.04 237.53" fill="none" stroke="#e8441a" stroke-width="0.98"/><path d="M524.52 247 C524.87 247.21 524.92 247.14 525.57 247.65 C526.21 248.15 525.92 247.89 526.44 248.52 C526.97 249.15 526.64 248.89 527.14 249.54 C527.64 250.19 527.67 250.16 527.94 250.47" fill="none" stroke="#e43c18" stroke-width="0.95"/><path d="M502.85 216.75 C502.77 217.01 502.91 217.1 502.63 217.53 C502.35 217.96 502.48 217.91 502 218.04 C501.52 218.16 501.73 217.87 501.2 217.9 C500.68 217.94 500.69 218.06 500.43 218.14" fill="none" stroke="#ec4a1a" stroke-width="0.98"/><path d="M491.68 213.67 C491.34 213.46 491.39 213.34 490.65 213.03 C489.92 212.72 490.1 213.16 489.48 212.73 C488.85 212.3 489.01 212.07 488.77 211.74" fill="none" stroke="#f4601e" stroke-width="0.9"/><path d="M511.19 200.91 C510.96 200.53 510.58 200.57 510.49 199.78 C510.41 198.98 510.79 198.94 510.94 198.53" fill="none" stroke="#cc2812" stroke-width="1"/><path d="M522.24 207.44 C522.02 207.11 522.13 207 521.58 206.46 C521.04 205.92 520.92 206.04 520.59 205.83" fill="none" stroke="#d83016" stroke-width="1.08"/><path d="M532.26 214.32 C532.53 214.07 532.52 214.06 533.07 213.57 C533.61 213.08 533.25 213.04 533.89 212.84 C534.53 212.65 534.62 212.93 534.98 212.98" fill="none" stroke="#e8441a" stroke-width="0.93"/><path d="M529.21 221.61 C529 221.81 528.81 221.73 528.58 222.22 C528.35 222.72 528.54 222.81 528.52 223.1" fill="none" stroke="#e8441a" stroke-width="0.84"/><path d="M497.06 211.06 C497.01 211.43 496.98 211.42 496.93 212.16 C496.87 212.89 497.05 212.56 496.9 213.26 C496.75 213.97 496.61 213.94 496.46 214.28" fill="none" stroke="#ff8026" stroke-width="1.07"/><path d="M522.5 221.64 C522.21 221.93 522.33 222.25 521.64 222.5 C520.94 222.76 520.83 222.44 520.42 222.41" fill="none" stroke="#ec4a1a" stroke-width="0.96"/><path d="M533.89 219.94 C533.94 220.23 534.16 220.27 534.05 220.8 C533.94 221.34 533.82 221.01 533.55 221.53 C533.29 222.05 533.52 221.84 533.26 222.36 C533.01 222.89 532.94 222.86 532.79 223.1" fill="none" stroke="#e43c18" stroke-width="0.9"/><path d="M503.7 213.45 C503.36 213.71 503.36 213.71 502.69 214.23 C502.01 214.74 502.05 214.32 501.67 214.99 C501.29 215.67 501.59 215.84 501.54 216.26" fill="none" stroke="#ff8026" stroke-width="0.86"/><path d="M489.57 198.95 C489.58 198.56 489.4 198.52 489.6 197.78 C489.8 197.05 490.06 197.48 490.16 196.75 C490.26 196.03 489.79 196.32 489.9 195.61 C490.02 194.89 490.31 194.94 490.51 194.61" fill="none" stroke="#ec4a1a" stroke-width="0.94"/><path d="M484.7 219.43 C484.31 219.56 484.21 219.39 483.52 219.81 C482.83 220.24 483.11 220.03 482.63 220.69 C482.14 221.35 482.3 221.02 482.06 221.8 C481.82 222.58 481.96 222.63 481.91 223.04" fill="none" stroke="#e8441a" stroke-width="1.07"/><path d="M504.1 242.06 C503.94 241.74 503.76 241.78 503.6 241.11 C503.45 240.43 503.81 240.7 503.64 240.03 C503.46 239.36 503.39 239.75 503.09 239.1 C502.79 238.46 502.67 238.73 502.74 238.08 C502.81 237.44 503.11 237.47 503.3 237.16" fill="none" stroke="#e8441a" stroke-width="1.12"/><path d="M518.41 233.11 C518.07 232.85 518.01 232.91 517.39 232.33 C516.76 231.74 517.26 231.66 516.55 231.35 C515.84 231.03 515.69 231.37 515.26 231.38" fill="none" stroke="#e43c18" stroke-width="1.15"/><path d="M481.26 197.93 C481.54 198.27 481.88 198.18 482.09 198.96 C482.31 199.73 481.97 199.83 481.9 200.26" fill="none" stroke="#e43c18" stroke-width="1"/><path d="M484.66 214.72 C484.48 215.03 484.51 215.06 484.12 215.67 C483.73 216.28 483.97 216.03 483.48 216.55 C482.98 217.08 483.28 217.08 482.64 217.25 C482 217.43 482.28 217.06 481.56 217.08 C480.84 217.09 480.84 217.22 480.49 217.29" fill="none" stroke="#d83016" stroke-width="0.86"/><path d="M489.96 211.28 C489.79 211.58 489.72 211.54 489.45 212.18 C489.19 212.81 489.36 212.51 489.17 213.17 C488.97 213.84 489.27 213.66 488.87 214.16 C488.47 214.67 488.27 214.52 487.98 214.69" fill="none" stroke="#f4601e" stroke-width="1.11"/><path d="M485.71 206.51 C485.32 206.49 485.26 206.67 484.52 206.45 C483.78 206.22 484.09 206.35 483.49 205.84 C482.9 205.33 482.98 205.23 482.73 204.92" fill="none" stroke="#ec4a1a" stroke-width="0.91"/><path d="M492.24 200.04 C491.86 199.94 491.87 199.77 491.11 199.73 C490.34 199.68 490.72 199.91 489.94 199.91 C489.16 199.91 489.16 199.79 488.78 199.73" fill="none" stroke="#f4601e" stroke-width="0.83"/><path d="M505.23 206.26 C505.08 205.91 505.07 205.91 504.77 205.2 C504.46 204.49 504.81 204.65 504.31 204.14 C503.8 203.62 503.92 204.04 503.25 203.66 C502.58 203.29 502.77 203.58 502.3 203 C501.83 202.43 502 202.29 501.84 201.94" fill="none" stroke="#ff8026" stroke-width="1.1"/><path d="M498.96 209.84 C499.36 209.83 499.36 209.79 500.17 209.81 C500.99 209.83 500.74 209.55 501.39 209.9 C502.04 210.26 501.88 210.55 502.12 210.87" fill="none" stroke="#ffb840" stroke-width="1.02"/><path d="M515.69 212.22 C515.34 212.27 515.3 212.15 514.64 212.37 C513.98 212.58 514.28 212.47 513.71 212.88 C513.14 213.29 513.19 213.35 512.92 213.59" fill="none" stroke="#f4601e" stroke-width="1.11"/><path d="M500.24 204.64 C500.24 204.27 500 204.19 500.22 203.54 C500.44 202.89 500.72 203.34 500.91 202.69 C501.1 202.05 500.95 202.31 500.79 201.6 C500.62 200.9 500.73 201.23 500.4 200.58 C500.07 199.93 500 199.97 499.8 199.67" fill="none" stroke="#ff9a30" stroke-width="0.99"/><path d="M492.11 206.41 C492.54 206.54 492.59 206.43 493.38 206.79 C494.17 207.16 494 206.85 494.48 207.51 C494.97 208.17 494.71 208.36 494.83 208.78" fill="none" stroke="#ffb840" stroke-width="1.07"/><path d="M505.75 229.74 C505.92 229.51 505.82 229.37 506.26 229.06 C506.7 228.74 506.53 228.98 507.07 228.8 C507.61 228.62 507.33 228.53 507.87 228.52 C508.41 228.51 508.16 228.56 508.68 228.78 C509.2 229 508.9 229.08 509.43 229.18 C509.96 229.28 509.99 229.12 510.28 229.09" fill="none" stroke="#e8441a" stroke-width="0.93"/><path d="M485.99 222.94 C486.29 222.96 486.31 222.88 486.9 222.98 C487.49 223.08 487.18 223.1 487.77 223.25 C488.36 223.4 488.37 223.37 488.66 223.43" fill="none" stroke="#e8441a" stroke-width="1.08"/><path d="M495.85 213.49 C495.44 213.35 495.19 213.6 494.63 213.05 C494.07 212.5 494.73 212.4 494.17 211.84 C493.62 211.27 493.52 211.92 492.97 211.36 C492.42 210.79 492.59 210.97 492.52 210.14 C492.45 209.31 492.73 209.72 492.77 208.86 C492.8 208.01 492.68 208 492.63 207.57" fill="none" stroke="#ff7a24" stroke-width="1.08"/><path d="M496.7 210.77 C496.79 210.51 496.64 210.37 496.98 209.98 C497.31 209.59 497.21 209.82 497.71 209.59 C498.22 209.37 498.08 209.63 498.49 209.3 C498.91 208.98 498.64 209.07 498.95 208.61 C499.26 208.15 499.27 208.16 499.43 207.93" fill="none" stroke="#ffd060" stroke-width="0.91"/><path d="M511.5 226.39 C511.55 225.97 511.34 225.89 511.63 225.14 C511.92 224.38 511.94 224.84 512.39 224.13 C512.83 223.43 512.49 223.7 512.97 223.02 C513.45 222.34 513.56 222.82 513.82 222.09 C514.08 221.37 513.77 221.26 513.75 220.84" fill="none" stroke="#ec4a1a" stroke-width="0.88"/><path d="M494.49 224.03 C494.31 223.65 494.1 223.69 493.95 222.88 C493.8 222.08 494.07 222.46 494.04 221.62 C494 220.78 493.91 220.78 493.85 220.36" fill="none" stroke="#cc2812" stroke-width="1.11"/><path d="M528.49 215.06 C528.48 215.48 528.44 215.48 528.48 216.32 C528.51 217.15 528.84 216.84 528.59 217.56 C528.35 218.29 528.03 217.76 527.75 218.49 C527.46 219.22 527.75 219.33 527.74 219.74" fill="none" stroke="#cc2812" stroke-width="0.82"/><path d="M511.34 228.52 C511.44 228.11 511.57 228.12 511.65 227.29 C511.73 226.45 511.82 226.8 511.57 226.01 C511.32 225.23 511.48 225.53 510.9 224.93 C510.32 224.33 510.19 224.46 509.84 224.23" fill="none" stroke="#d83016" stroke-width="0.86"/><path d="M505.12 210.6 C504.75 210.59 504.75 210.6 504 210.56 C503.26 210.53 503.63 210.53 502.89 210.5 C502.14 210.46 502.41 210.72 501.77 210.45 C501.13 210.18 501.36 210.28 500.97 209.67 C500.57 209.06 500.71 208.97 500.58 208.62" fill="none" stroke="#f4601e" stroke-width="0.83"/><path d="M485.87 184.02 C485.97 183.73 486.12 183.74 486.16 183.15 C486.2 182.56 485.94 182.83 486 182.25 C486.07 181.67 486.38 181.96 486.36 181.41 C486.34 180.85 486.15 181.16 485.95 180.59 C485.75 180.02 485.83 179.99 485.77 179.69" fill="none" stroke="#d83016" stroke-width="0.82"/><path d="M491.33 197.45 C491.25 197.17 491.08 197.17 491.1 196.62 C491.12 196.07 491.06 196.24 491.39 195.8 C491.72 195.36 491.57 195.42 492.09 195.28 C492.6 195.14 492.46 195.14 492.95 195.38 C493.44 195.61 493.27 195.51 493.56 195.99 C493.85 196.47 493.74 196.54 493.82 196.81" fill="none" stroke="#ff8026" stroke-width="1.04"/><path d="M511.85 211.89 C511.62 212.16 511.75 212.43 511.18 212.71 C510.6 212.98 510.8 212.86 510.13 212.72 C509.45 212.58 509.84 212.44 509.16 212.29 C508.49 212.14 508.69 212.02 508.11 212.28 C507.53 212.54 507.65 212.81 507.42 213.07" fill="none" stroke="#d83016" stroke-width="0.81"/><path d="M466.44 193.94 C466.03 193.93 466.03 193.99 465.22 193.9 C464.41 193.82 464.81 193.66 464.01 193.69 C463.21 193.71 463.62 193.88 462.82 193.98 C462.01 194.08 462.28 193.69 461.59 193.99 C460.9 194.29 461.03 194.58 460.75 194.88" fill="none" stroke="#cc2812" stroke-width="0.91"/><path d="M504.3 208.66 C504.16 208.3 504.16 208.3 503.89 207.59 C503.62 206.88 503.94 207.09 503.5 206.52 C503.06 205.94 502.88 206.08 502.57 205.86" fill="none" stroke="#f4601e" stroke-width="1.08"/><path d="M514.62 220.02 C514.37 219.68 514.39 219.67 513.87 218.99 C513.36 218.31 513.34 218.32 513.07 217.99" fill="none" stroke="#ec4a1a" stroke-width="0.82"/><path d="M527.85 225.81 C527.83 226.21 527.59 226.27 527.78 227.01 C527.97 227.75 527.98 227.36 528.42 228.03 C528.86 228.7 528.74 228.31 529.1 229.02 C529.46 229.72 529.33 229.37 529.49 230.15 C529.66 230.92 529.83 230.65 529.59 231.34 C529.36 232.04 529.07 231.94 528.8 232.24" fill="none" stroke="#d83016" stroke-width="0.8"/><path d="M541.67 241.27 C541.88 241.06 542.1 241.14 542.28 240.63 C542.47 240.13 542.25 240.04 542.23 239.75" fill="none" stroke="#d83016" stroke-width="0.97"/><path d="M493.13 190.84 C493.39 191.19 493.66 191.11 493.91 191.9 C494.16 192.69 493.63 192.42 493.88 193.21 C494.14 194 494.06 193.64 494.67 194.26 C495.28 194.87 495.37 194.79 495.71 195.06" fill="none" stroke="#e8441a" stroke-width="1.03"/><path d="M495.54 220.28 C495.24 220.33 495.21 220.25 494.65 220.45 C494.08 220.64 494.39 220.61 493.84 220.86 C493.28 221.11 493.56 221.18 492.99 221.2 C492.42 221.23 492.71 220.99 492.12 220.94 C491.53 220.89 491.82 220.99 491.22 221.05 C490.61 221.11 490.61 221.1 490.31 221.12" fill="none" stroke="#e8441a" stroke-width="0.88"/><path d="M495.1 202.85 C494.86 202.98 494.85 202.97 494.38 203.25 C493.91 203.54 494.15 203.4 493.69 203.71 C493.23 204.02 493.43 203.84 493 204.18 C492.57 204.52 492.86 204.52 492.38 204.73 C491.9 204.95 492.04 204.61 491.56 204.82 C491.08 205.04 491.15 205.19 490.94 205.37" fill="none" stroke="#ff8026" stroke-width="0.95"/><path d="M500.4 207.09 C500.58 206.76 500.83 206.79 500.93 206.09 C501.03 205.39 500.82 205.73 500.71 204.99 C500.6 204.25 500.67 204.62 500.6 203.87 C500.53 203.12 500.68 203.47 500.5 202.75 C500.32 202.03 500.39 202.38 500.05 201.72 C499.7 201.05 499.66 201.07 499.47 200.75" fill="none" stroke="#ffd060" stroke-width="0.9"/><path d="M513.34 221.46 C513.1 221.59 513.13 221.7 512.6 221.85 C512.07 222 512.3 221.8 511.76 221.91 C511.22 222.03 511.24 222.11 510.97 222.2" fill="none" stroke="#f4601e" stroke-width="1.14"/><path d="M515.49 213.27 C515.69 212.88 515.46 212.61 516.07 212.12 C516.68 211.63 516.49 211.77 517.32 211.8 C518.14 211.82 518.14 212.06 518.54 212.19" fill="none" stroke="#ff7a24" stroke-width="1.1"/><path d="M509.21 221.34 C508.82 221.52 508.85 221.79 508.05 221.89 C507.24 221.98 507.62 221.84 506.79 221.63 C505.96 221.41 505.97 221.38 505.56 221.25" fill="none" stroke="#ff7a24" stroke-width="0.93"/><path d="M495.94 216.77 C495.77 217.17 495.94 217.31 495.42 217.95 C494.9 218.6 495.01 218.14 494.38 218.72 C493.75 219.3 494.18 219.15 493.53 219.69 C492.88 220.24 493.23 220.13 492.43 220.36 C491.63 220.58 491.99 220.44 491.14 220.37 C490.28 220.29 490.29 220.22 489.86 220.14" fill="none" stroke="#ff8026" stroke-width="0.86"/><path d="M508.91 206.01 C508.51 205.99 508.39 205.68 507.7 205.93 C507.01 206.19 507.25 206.12 506.84 206.78 C506.42 207.45 506.58 207.55 506.45 207.93" fill="none" stroke="#ff7a24" stroke-width="0.83"/><path d="M495.59 201.56 C495.36 201.28 495.2 201.35 494.92 200.73 C494.63 200.1 494.8 200.03 494.73 199.68" fill="none" stroke="#ff8026" stroke-width="0.94"/><path d="M517.82 226.22 C517.52 226.2 517.45 226.38 516.91 226.16 C516.37 225.94 516.43 226.07 516.2 225.57 C515.97 225.07 516.17 225.26 516.21 224.65 C516.25 224.04 516.17 224.33 516.33 223.74 C516.49 223.16 516.53 223.48 516.68 222.89 C516.83 222.3 516.75 222.28 516.78 221.98" fill="none" stroke="#f4601e" stroke-width="0.91"/><path d="M493.78 196.64 C494 196.46 494.05 196.52 494.46 196.12 C494.86 195.72 494.68 195.92 494.99 195.44 C495.3 194.96 495.03 195.12 495.38 194.68 C495.73 194.24 495.7 194.57 496.04 194.13 C496.38 193.68 496.13 193.86 496.4 193.35 C496.67 192.85 496.7 192.86 496.84 192.62" fill="none" stroke="#ff7a24" stroke-width="0.95"/><path d="M507.44 215.53 C507.29 215.78 507.34 215.83 506.98 216.29 C506.63 216.74 506.57 216.7 506.36 216.9" fill="none" stroke="#e8441a" stroke-width="1.1"/><path d="M489.08 223.48 C488.69 223.37 488.66 223.07 487.9 223.14 C487.14 223.2 487.57 223.58 486.8 223.68 C486.03 223.78 486.4 223.46 485.6 223.44 C484.79 223.43 485.19 223.49 484.38 223.62 C483.57 223.76 483.58 223.77 483.17 223.85" fill="none" stroke="#e8441a" stroke-width="1.11"/><path d="M515.41 212.79 C515.74 212.75 515.89 212.99 516.41 212.67 C516.92 212.35 516.45 212.2 516.96 211.83 C517.46 211.45 517.6 211.64 517.92 211.55" fill="none" stroke="#f4601e" stroke-width="1.08"/><path d="M489.31 215.89 C489.59 215.89 489.63 216.04 490.15 215.9 C490.66 215.75 490.39 215.76 490.85 215.45 C491.31 215.13 491.04 215.22 491.52 214.95 C492.01 214.68 492.04 214.74 492.3 214.63" fill="none" stroke="#ff7a24" stroke-width="0.98"/><path d="M495.08 224.24 C495.42 224.55 495.39 224.59 496.09 225.18 C496.8 225.78 496.84 225.73 497.21 226.01" fill="none" stroke="#cc2812" stroke-width="1.08"/><path d="M493.09 187.91 C493.24 187.61 493.25 187.61 493.54 187 C493.83 186.39 493.78 186.72 493.96 186.07 C494.13 185.42 494.03 185.39 494.06 185.06" fill="none" stroke="#e8441a" stroke-width="0.9"/><path d="M510.87 212.76 C511.09 212.49 511.02 212.41 511.53 211.94 C512.04 211.46 511.92 211.83 512.39 211.32 C512.86 210.82 512.76 210.72 512.95 210.42" fill="none" stroke="#cc2812" stroke-width="0.87"/><path d="M494.13 198.6 C494.11 198.32 494.14 198.32 494.07 197.75 C494.01 197.19 493.92 197.47 493.94 196.91 C493.97 196.36 494.08 196.36 494.15 196.09" fill="none" stroke="#ff8026" stroke-width="1.12"/><path d="M530.71 225.29 C530.79 225.6 530.87 225.59 530.93 226.22 C531 226.86 530.91 226.87 530.91 227.19" fill="none" stroke="#e43c18" stroke-width="0.82"/><path d="M499.48 214.73 C499.15 214.92 499.15 214.92 498.5 215.29 C497.84 215.66 497.83 215.66 497.5 215.84" fill="none" stroke="#ff8026" stroke-width="1.09"/><path d="M479.67 226.92 C479.83 226.62 479.67 226.42 480.17 226.04 C480.66 225.65 480.82 225.86 481.15 225.78" fill="none" stroke="#e8441a" stroke-width="1.12"/><path d="M510.97 218.14 C511.22 218.41 511.4 218.32 511.71 218.96 C512.02 219.61 511.59 219.42 511.9 220.06 C512.21 220.7 512.39 220.61 512.64 220.89" fill="none" stroke="#f4601e" stroke-width="0.9"/><path d="M511.27 215.82 C511.39 216.26 511.57 216.26 511.61 217.15 C511.65 218.05 511.59 217.62 511.4 218.52 C511.2 219.41 511.15 219.4 511.02 219.84" fill="none" stroke="#ff7a24" stroke-width="1.12"/><path d="M505.75 209.69 C505.8 210.12 505.7 210.15 505.91 210.98 C506.13 211.81 505.98 211.43 506.39 212.18 C506.81 212.93 506.52 212.69 507.16 213.22 C507.81 213.76 507.55 213.41 508.33 213.78 C509.11 214.16 508.98 213.75 509.5 214.35 C510.01 214.95 509.75 215.17 509.88 215.59" fill="none" stroke="#ff7a24" stroke-width="0.86"/><path d="M484.93 214.06 C484.56 214.06 484.43 213.76 483.81 214.04 C483.2 214.31 483.33 214.6 483.08 214.88" fill="none" stroke="#d83016" stroke-width="0.9"/><path d="M496.69 220.55 C496.41 220.26 496.38 220.28 495.85 219.67 C495.31 219.05 495.68 219.25 495.07 218.72 C494.47 218.19 494.38 218.29 494.04 218.08" fill="none" stroke="#e8441a" stroke-width="1.05"/><path d="M506.39 216.13 C506.17 215.84 506.16 215.86 505.73 215.28 C505.3 214.7 505.66 214.78 505.11 214.39 C504.55 214.01 504.77 214.19 504.06 214.12 C503.36 214.05 503.57 213.88 502.99 214.18 C502.4 214.49 502.54 214.75 502.31 215.03" fill="none" stroke="#e8441a" stroke-width="0.96"/><path d="M497.15 218.49 C497.3 218.71 497.19 218.88 497.6 219.16 C498.01 219.43 498.13 219.27 498.39 219.32" fill="none" stroke="#ff7a24" stroke-width="1.05"/><path d="M482.61 205.55 C482.54 205.97 482.49 205.96 482.39 206.81 C482.3 207.66 482.66 207.37 482.33 208.1 C482 208.82 481.79 208.27 481.41 208.99 C481.02 209.71 481.58 209.55 481.17 210.25 C480.77 210.95 480.53 210.81 480.2 211.09" fill="none" stroke="#e43c18" stroke-width="1"/><path d="M485.6 199.88 C485.96 199.92 486 199.79 486.69 200 C487.37 200.21 486.99 200.47 487.65 200.52 C488.32 200.57 488.34 200.28 488.69 200.15" fill="none" stroke="#ff8026" stroke-width="0.95"/><path d="M507.48 205.05 C507.81 205.04 507.85 204.87 508.47 205.01 C509.1 205.16 508.88 205.04 509.35 205.48 C509.81 205.92 509.69 206.05 509.87 206.33" fill="none" stroke="#f4601e" stroke-width="0.99"/><path d="M481.54 205.33 C481.36 205.56 481.17 205.5 481 206.03 C480.83 206.56 481.01 206.33 481.03 206.92 C481.06 207.52 481.26 207.3 481.08 207.81 C480.89 208.33 480.68 207.96 480.48 208.47 C480.28 208.99 480.54 208.78 480.49 209.37 C480.44 209.95 480.38 209.95 480.33 210.24" fill="none" stroke="#e43c18" stroke-width="1.14"/><path d="M527.04 229.15 C527.23 228.9 527.11 228.71 527.6 228.4 C528.09 228.09 528.21 228.29 528.52 228.23" fill="none" stroke="#cc2812" stroke-width="0.91"/><path d="M508.47 204.13 C508.35 204.37 508.25 204.34 508.1 204.85 C507.96 205.35 508.06 205.38 508.04 205.65" fill="none" stroke="#ff7a24" stroke-width="0.96"/><path d="M498.81 234.09 C499.19 234.04 499.25 233.78 499.96 233.94 C500.66 234.1 500.35 234.07 500.92 234.58 C501.49 235.08 501.09 234.96 501.65 235.47 C502.22 235.98 502.02 235.63 502.61 236.11 C503.21 236.59 502.82 236.47 503.43 236.92 C504.05 237.37 504.11 237.29 504.45 237.47" fill="none" stroke="#e8441a" stroke-width="1.1"/><path d="M527.38 216.82 C527.27 217.18 527.14 217.16 527.06 217.9 C526.97 218.63 527.01 218.28 527.12 219.02 C527.22 219.75 527.21 219.38 527.37 220.11 C527.52 220.84 527.51 220.85 527.58 221.21" fill="none" stroke="#e43c18" stroke-width="0.83"/><path d="M491.59 202.61 C491.82 202.32 491.7 202.16 492.27 201.74 C492.84 201.33 492.6 201.56 493.3 201.37 C494 201.17 493.75 201.48 494.38 201.16 C495 200.84 494.9 200.65 495.17 200.4" fill="none" stroke="#ffb840" stroke-width="1.09"/><path d="M531.64 235.41 C531.81 235.7 531.85 235.68 532.15 236.28 C532.45 236.88 532.49 236.57 532.54 237.21 C532.58 237.84 532.26 237.54 532.28 238.18 C532.31 238.82 532.2 238.67 532.61 239.13 C533.02 239.6 533.21 239.42 533.52 239.57" fill="none" stroke="#e43c18" stroke-width="0.89"/><path d="M483.08 224.03 C483.26 223.74 483.49 223.78 483.61 223.17 C483.73 222.55 483.36 222.81 483.44 222.17 C483.53 221.54 483.72 221.56 483.86 221.26" fill="none" stroke="#e43c18" stroke-width="1.09"/><path d="M510.72 221.38 C510.45 221.3 510.46 221.18 509.91 221.14 C509.36 221.1 509.63 221.28 509.08 221.25 C508.52 221.22 508.81 221.11 508.26 221.06 C507.7 221 507.7 221.07 507.41 221.08" fill="none" stroke="#f4601e" stroke-width="0.96"/><path d="M542.96 234.51 C542.81 234.19 542.99 234 542.52 233.56 C542.04 233.13 542.19 233.22 541.53 233.21 C540.87 233.2 541.22 233.41 540.54 233.53 C539.86 233.65 539.84 233.56 539.49 233.58" fill="none" stroke="#e8441a" stroke-width="1.12"/><path d="M518.75 250.18 C518.85 250.53 518.98 250.52 519.04 251.24 C519.11 251.96 518.98 251.97 518.95 252.33" fill="none" stroke="#d83016" stroke-width="0.87"/><path d="M477.26 211.28 C477.07 211.01 477.13 210.96 476.69 210.46 C476.25 209.97 476.24 210.34 475.96 209.79 C475.67 209.24 475.87 209.13 475.82 208.8" fill="none" stroke="#cc2812" stroke-width="0.81"/><path d="M516.67 227.53 C516.99 227.59 517.09 227.4 517.63 227.7 C518.16 227.99 517.81 227.97 518.27 228.43 C518.74 228.88 518.65 228.55 519.01 229.07 C519.38 229.58 518.98 229.49 519.37 229.97 C519.77 230.45 519.92 230.32 520.19 230.5" fill="none" stroke="#ff7a24" stroke-width="0.86"/><path d="M480.31 196.52 C480.3 196.15 480.05 196.07 480.27 195.41 C480.49 194.76 480.44 195.07 480.97 194.56 C481.5 194.06 481.45 194.48 481.85 193.91 C482.25 193.33 482.07 193.2 482.17 192.85" fill="none" stroke="#e8441a" stroke-width="1.02"/><path d="M460.59 204.53 C460.77 204.28 460.73 204.24 461.14 203.77 C461.54 203.31 461.59 203.35 461.82 203.14" fill="none" stroke="#d83016" stroke-width="1.06"/><path d="M493.21 189.64 C493.43 189.24 493.76 189.28 493.87 188.43 C493.98 187.59 494.01 187.83 493.53 187.1 C493.06 186.37 492.85 186.99 492.45 186.26 C492.04 185.52 492.05 185.68 492.32 184.88 C492.59 184.09 492.95 184.21 493.26 183.88" fill="none" stroke="#d83016" stroke-width="1.14"/><path d="M516.48 219.73 C516.29 219.38 516.48 219.14 515.91 218.69 C515.34 218.24 515.51 218.66 514.77 218.38 C514.04 218.11 514.06 218.04 513.71 217.86" fill="none" stroke="#ffd060" stroke-width="1.11"/><path d="M511.24 208.04 C510.85 207.81 510.62 208.01 510.06 207.36 C509.49 206.71 509.71 206.52 509.54 206.09" fill="none" stroke="#cc2812" stroke-width="0.81"/><path d="M501.29 215.87 C501.51 215.47 501.82 215.52 501.95 214.69 C502.08 213.85 502.1 214.12 501.69 213.36 C501.28 212.6 501.05 212.73 500.73 212.41" fill="none" stroke="#ec4a1a" stroke-width="0.94"/><path d="M512.29 207.39 C512.52 207.75 512.45 207.81 512.97 208.47 C513.5 209.14 513.15 209.02 513.87 209.38 C514.58 209.75 514.71 209.5 515.13 209.56" fill="none" stroke="#e8441a" stroke-width="1.02"/><path d="M510.47 230.62 C510.63 230.94 510.89 230.92 510.96 231.59 C511.03 232.26 511.05 232.06 510.67 232.64 C510.29 233.21 510.35 232.83 509.83 233.32 C509.3 233.81 509.33 233.85 509.09 234.11" fill="none" stroke="#e8441a" stroke-width="0.92"/><path d="M498.83 229.9 C498.51 229.96 498.5 229.93 497.86 230.07 C497.21 230.21 497.22 230.24 496.9 230.32" fill="none" stroke="#e8441a" stroke-width="1.03"/><path d="M498.27 231.38 C498.61 231.27 498.78 231.47 499.28 231.04 C499.78 230.61 499.4 230.7 499.77 230.09 C500.13 229.49 500.17 229.51 500.37 229.22" fill="none" stroke="#e43c18" stroke-width="0.81"/><path d="M501.43 232.78 C501.67 233.04 501.89 232.94 502.15 233.55 C502.42 234.16 502.12 233.91 502.23 234.6 C502.35 235.29 502.42 235.28 502.51 235.62" fill="none" stroke="#d83016" stroke-width="0.99"/><path d="M510.59 225.07 C510.91 225.05 510.94 225.16 511.55 224.99 C512.16 224.82 511.81 224.64 512.41 224.56 C513.01 224.49 512.79 224.5 513.36 224.76 C513.92 225.02 513.86 225.16 514.11 225.35" fill="none" stroke="#f4601e" stroke-width="1.01"/><path d="M516.73 236.02 C516.28 236.07 516.25 236.27 515.38 236.16 C514.52 236.05 514.98 235.93 514.12 235.68 C513.26 235.43 513.62 235.26 512.8 235.41 C511.98 235.57 512.49 235.96 511.66 236.14 C510.84 236.32 511.11 235.72 510.33 235.95 C509.54 236.17 509.64 236.53 509.29 236.82" fill="none" stroke="#d83016" stroke-width="0.99"/><path d="M494.33 227.6 C494.07 227.41 494.06 227.42 493.55 227.03 C493.04 226.64 493.35 226.75 492.8 226.43 C492.26 226.11 492.52 226.27 491.91 226.08 C491.3 225.88 491.59 226.01 490.98 225.84 C490.36 225.67 490.6 225.87 490.06 225.56 C489.52 225.25 489.59 225.12 489.35 224.91" fill="none" stroke="#e43c18" stroke-width="0.88"/><path d="M512.67 200.41 C512.53 199.98 512.55 199.97 512.27 199.11 C511.98 198.24 512.37 198.44 511.81 197.82 C511.24 197.2 511.43 197.36 510.57 197.24 C509.71 197.13 509.67 197.39 509.22 197.47" fill="none" stroke="#e43c18" stroke-width="0.83"/><path d="M507.6 198.91 C507.92 198.64 507.96 198.67 508.57 198.1 C509.19 197.52 508.96 197.86 509.45 197.18 C509.93 196.5 509.81 196.85 510.03 196.05 C510.25 195.26 509.9 195.59 510.1 194.79 C510.31 193.98 510.46 194.02 510.64 193.64" fill="none" stroke="#d83016" stroke-width="0.85"/><path d="M526.64 227.81 C526.75 227.47 526.63 227.4 526.96 226.79 C527.29 226.17 527.07 226.36 527.64 225.97 C528.2 225.57 527.96 225.66 528.65 225.61 C529.33 225.57 529 225.68 529.69 225.83 C530.39 225.97 530.1 226.17 530.74 226.04 C531.38 225.9 531.32 225.62 531.61 225.42" fill="none" stroke="#d83016" stroke-width="0.8"/><path d="M499.92 219.8 C499.61 219.91 499.57 219.84 498.97 220.13 C498.37 220.41 498.73 220.41 498.12 220.66 C497.51 220.9 497.8 220.78 497.14 220.87 C496.48 220.96 496.47 220.9 496.14 220.92" fill="none" stroke="#cc2812" stroke-width="1.08"/><path d="M484.91 198.76 C485.27 198.67 485.39 198.87 485.99 198.51 C486.6 198.15 486.34 198.3 486.73 197.68 C487.12 197.06 486.71 197.2 487.16 196.65 C487.6 196.1 487.55 196.53 488.07 196.02 C488.59 195.51 488.51 195.42 488.72 195.12" fill="none" stroke="#e43c18" stroke-width="1.09"/><path d="M489.71 209.12 C489.46 208.74 489.47 208.73 488.95 207.97 C488.43 207.22 488.76 207.53 488.15 206.85 C487.55 206.16 487.93 206.27 487.13 205.92 C486.33 205.58 486.22 205.84 485.76 205.8" fill="none" stroke="#ec4a1a" stroke-width="1.07"/><path d="M507.57 221.86 C507.28 221.96 507.13 221.78 506.7 222.15 C506.27 222.52 506.65 222.49 506.29 222.98 C505.92 223.46 505.83 223.39 505.6 223.59" fill="none" stroke="#cc2812" stroke-width="1.02"/><path d="M508.4 214.18 C508.75 213.88 508.73 213.86 509.45 213.29 C510.16 212.71 509.99 213.15 510.54 212.45 C511.09 211.76 510.55 211.9 511.09 211.2 C511.63 210.49 511.63 211.04 512.16 210.33 C512.69 209.62 512.5 209.48 512.67 209.06" fill="none" stroke="#e43c18" stroke-width="0.98"/><path d="M504.12 223.82 C503.81 223.89 503.7 223.71 503.2 224.03 C502.69 224.35 502.86 224.22 502.61 224.78 C502.36 225.34 502.51 225.4 502.45 225.71" fill="none" stroke="#d83016" stroke-width="1.06"/><path d="M481.73 190.18 C481.82 189.9 481.78 189.89 482 189.35 C482.22 188.81 482.04 189.02 482.39 188.57 C482.73 188.12 482.54 188.26 483.04 187.99 C483.54 187.73 483.33 187.74 483.88 187.78 C484.44 187.81 484.13 188 484.69 188.1 C485.25 188.2 485.27 188.08 485.56 188.07" fill="none" stroke="#cc2812" stroke-width="0.94"/><path d="M514 226 C515 227.67 515 227.67 517 231 C519 234.33 517.67 232.67 520 236 C522.33 239.33 521.33 237.5 524 241 C526.67 244.5 525.33 242.83 528 246.5 C530.67 250.17 529.5 248.5 532 252 C534.5 255.5 533.5 253.67 535.5 257 C537.5 260.33 537.17 260.33 538 262" fill="none" stroke="#e8441a" stroke-width="1"/><path d="M505 228 C505.67 229.67 505.67 229.67 507 233 C508.33 236.33 507.67 234.67 509 238 C510.33 241.33 510.33 241.33 511 243" fill="none" stroke="#e43c18" stroke-width="1"/><path d="M520 217 C521.5 217.83 521.83 217.5 524.5 219.5 C527.17 221.5 525.83 220.3 528 223 C530.17 225.7 530 226.07 531 227.6" fill="none" stroke="#dc3416" stroke-width="1"/><path d="M523 262.6 C524.33 263.27 524.33 264.27 527 264.6 C529.67 264.93 528.33 263.27 531 263.6 C533.67 263.93 532.33 263.93 535 265.6 C537.67 267.27 537.67 267.6 539 268.6" fill="none" stroke="#e43c18" stroke-width="1"/><path d="M520 266.6 C521.33 267.47 521 268.53 524 269.2 C527 269.87 527.33 268.8 529 268.6" fill="none" stroke="#e8441a" stroke-width="1"/><path d="M497 233 C498 234.33 497.67 235 500 237 C502.33 239 502.67 238.33 504 239" fill="none" stroke="#dc3416" stroke-width="1"/><path d="M491 190.5 C491.47 191.83 491.4 192 492.4 194.5 C493.4 197 493.47 196.83 494 198" fill="none" stroke="#e43c18" stroke-width="1"/><path d="M504 193 C504.53 194.2 504.6 194.27 505.6 196.6 C506.6 198.93 506.53 198.87 507 200" fill="none" stroke="#e8441a" stroke-width="1"/><path d="M540 230.6 C541 231.6 541 232.93 543 233.6 C545 234.27 545 232.93 546 232.6" fill="none" stroke="#dc3416" stroke-width="1"/><path d="M534 212.6 C535.33 213.27 535.67 214.27 538 214.6 C540.33 214.93 540 213.93 541 213.6" fill="none" stroke="#e8441a" stroke-width="1"/><path d="M470 203.6 C471.33 204.27 471.33 205.27 474 205.6 C476.67 205.93 475.33 204.27 478 204.6 C480.67 204.93 480.67 205.93 482 206.6" fill="none" stroke="#e43c18" stroke-width="1"/><path d="M476 210.6 C477.33 211.6 477.33 212.27 480 213.6 C482.67 214.93 482.67 214.27 484 214.6" fill="none" stroke="#e43c18" stroke-width="1"/><path d="M482 220.6 C483.33 221.93 483.67 221.6 486 224.6 C488.33 227.6 488 227.93 489 229.6" fill="none" stroke="#dc3416" stroke-width="1"/><path d="M512 240 C512.87 241.53 513.27 241.6 514.6 244.6 C515.93 247.6 515.53 247.53 516 249" fill="none" stroke="#e8441a" stroke-width="1"/></g><circle cx="538" cy="188" r="0.5" fill="#b02810"/><circle cx="543" cy="198" r="0.5" fill="#b02810"/><circle cx="548" cy="274" r="0.5" fill="#b02810"/><circle cx="475" cy="196" r="0.5" fill="#b02810"/><circle cx="509" cy="271" r="0.5" fill="#b02810"/><circle cx="550" cy="245" r="0.5" fill="#b02810"/></g><line x1="450.4" y1="157.2" x2="499.8" y2="284.9" stroke="#fff" stroke-width="0.9" stroke-dasharray="2.2 1.8"/><text x="523" y="164" font-size="9.3" font-weight="bold" fill="#fff" stroke="#fff" stroke-width="0.14">SIM</text><text x="498.2" y="175.4" font-size="9.3" font-weight="bold" fill="#e23a2e" stroke="#e23a2e" stroke-width="0.14">MaP655-TMP</text><text x="450.9" y="277.8" font-size="9.25" font-weight="bold" fill="#fff" stroke="#fff" stroke-width="0.14">Wide-field</text><line x1="538.4" y1="282.7" x2="554.4" y2="282.7" stroke="#ddd" stroke-width="1"/>
</g>
<g id="panel-f">
<text x="572.2" y="155.3" font-size="13.7" font-weight="bold" stroke="#000" stroke-width="0.14">f</text><path d="M599.5 187.39 L601.32 189.48 L603.13 189.72 L604.95 191.73 L606.77 191.63 L608.59 193 L610.4 193.22 L612.22 192.58 L614.04 193.98 L615.86 193.7 L617.67 194.24 L619.49 194.53 L621.31 194.74 L623.13 195.41 L624.95 194.82 L626.76 196.07 L628.58 196.14 L630.4 196.68 L632.22 196.61 L634.03 196.68 L635.85 196.27 L637.67 197.23 L639.49 197.84 L641.3 197.9 L643.12 197.17 L644.94 198.67 L646.75 198.18 L648.57 198.76 L650.39 198.64 L652.21 199.33 L654.03 199.11 L655.84 199.62 L657.66 199.67 L659.48 199.59 L661.3 200.28 L663.11 201.12 L664.93 201.48 L666.75 200.55 L668.57 201.42 L670.38 202.08 L672.2 201.92 L672.2 215.91 L670.38 214.93 L668.57 214.76 L666.75 214.81 L664.93 213.06 L663.11 212.6 L661.3 212.63 L659.48 212.49 L657.66 211.59 L655.84 210.82 L654.03 210.52 L652.21 209.48 L650.39 209.34 L648.57 208.4 L646.75 208.16 L644.94 206.85 L643.12 207.53 L641.3 205.98 L639.49 205.22 L637.67 205.01 L635.85 205.15 L634.03 203.92 L632.22 203.16 L630.4 202.27 L628.58 201.99 L626.76 201.22 L624.95 201.65 L623.13 200.22 L621.31 200.05 L619.49 199.42 L617.67 198.84 L615.86 198.48 L614.04 197.29 L612.22 197.7 L610.4 196.01 L608.59 195.04 L606.77 195.03 L604.95 193.27 L603.13 193.19 L601.32 190.67 L599.5 189.01Z" fill="#f8d4d8" opacity="0.9"/><path d="M599.5 187.39 L601.32 189.17 L603.13 191.75 L604.95 193.4 L606.77 194.84 L608.59 197.11 L610.4 198.34 L612.22 198.84 L614.04 200.94 L615.86 201.1 L617.67 202.93 L619.49 203 L621.31 203.8 L623.13 204.24 L624.95 205.11 L626.76 206.27 L628.58 207.35 L630.4 208.06 L632.22 208.18 L634.03 208.81 L635.85 210 L637.67 209.46 L639.49 210.57 L641.3 210.88 L643.12 212.08 L644.94 212.6 L646.75 213.46 L648.57 213.56 L650.39 214.2 L652.21 214.52 L654.03 215.12 L655.84 215.03 L657.66 215.48 L659.48 216.97 L661.3 217.2 L663.11 218.04 L664.93 217.89 L666.75 217.99 L668.57 219.55 L670.38 219.32 L672.2 220.2 L672.2 236.87 L670.38 236.33 L668.57 234.68 L666.75 234.82 L664.93 233.5 L663.11 231.93 L661.3 231.34 L659.48 230.14 L657.66 230.2 L655.84 229.22 L654.03 227.7 L652.21 226.85 L650.39 225.73 L648.57 224.92 L646.75 223.55 L644.94 222.94 L643.12 221.98 L641.3 221.69 L639.49 220.49 L637.67 220.07 L635.85 217.99 L634.03 217.61 L632.22 216.65 L630.4 215.13 L628.58 214.18 L626.76 213.54 L624.95 212.92 L623.13 211.96 L621.31 210.48 L619.49 209.27 L617.67 207.23 L615.86 206.82 L614.04 204.59 L612.22 204.11 L610.4 201.83 L608.59 200.04 L606.77 198.99 L604.95 196.76 L603.13 194.33 L601.32 192.36 L599.5 189.01Z" fill="#c8d8f4" opacity="0.9"/><path d="M599.5 188.2 L601.32 190.19 L603.13 191.28 L604.95 192.67 L606.77 193.28 L608.59 194.22 L610.4 194.75 L612.22 194.99 L614.04 195.8 L615.86 196.1 L617.67 196.62 L619.49 197.07 L621.31 197.48 L623.13 198.03 L624.95 198.2 L626.76 198.92 L628.58 199.28 L630.4 199.78 L632.22 200.1 L634.03 200.46 L635.85 200.68 L637.67 201.31 L639.49 201.83 L641.3 202.19 L643.12 202.31 L644.94 203.1 L646.75 203.3 L648.57 203.81 L650.39 204.11 L652.21 204.66 L654.03 204.94 L655.84 205.43 L657.66 205.79 L659.48 206.1 L661.3 206.65 L663.11 207.24 L664.93 207.69 L666.75 207.75 L668.57 208.35 L670.38 208.89 L672.2 209.18" fill="none" stroke="#e9342a" stroke-width="1.3" stroke-linejoin="round"/><path d="M599.5 188.2 L601.32 190.58 L603.13 193.01 L604.95 194.99 L606.77 196.76 L608.59 198.66 L610.4 200.15 L612.22 201.33 L614.04 202.91 L615.86 203.85 L617.67 205.24 L619.49 206.06 L621.31 207.06 L623.13 207.92 L624.95 208.88 L626.76 209.9 L628.58 210.88 L630.4 211.74 L632.22 212.4 L634.03 213.21 L635.85 214.17 L637.67 214.61 L639.49 215.53 L641.3 216.2 L643.12 217.14 L644.94 217.87 L646.75 218.7 L648.57 219.3 L650.39 220.06 L652.21 220.72 L654.03 221.46 L655.84 221.99 L657.66 222.68 L659.48 223.69 L661.3 224.31 L663.11 225.12 L664.93 225.63 L666.75 226.21 L668.57 227.24 L670.38 227.72 L672.2 228.53" fill="none" stroke="#3f57c4" stroke-width="1.3" stroke-linejoin="round"/><path d="M599.5 270 V161.3 H672.2 V270" fill="none" stroke="#000" stroke-width="1"/><line x1="599" y1="270" x2="672.7" y2="270" stroke="#000" stroke-width="1"/><line x1="595.5" y1="161.3" x2="599.5" y2="161.3" stroke="#000" stroke-width="1"/><text x="593.8" y="164.2" font-size="8.2" text-anchor="end" font-weight="bold" stroke="#000" stroke-width="0.14">1.1</text><line x1="595.5" y1="188.2" x2="599.5" y2="188.2" stroke="#000" stroke-width="1"/><text x="593.8" y="191.1" font-size="8.2" text-anchor="end" font-weight="bold" stroke="#000" stroke-width="0.14">1.0</text><line x1="595.5" y1="215.1" x2="599.5" y2="215.1" stroke="#000" stroke-width="1"/><text x="593.8" y="218" font-size="8.2" text-anchor="end" font-weight="bold" stroke="#000" stroke-width="0.14">0.9</text><line x1="595.5" y1="241.4" x2="599.5" y2="241.4" stroke="#000" stroke-width="1"/><text x="593.8" y="244.3" font-size="8.2" text-anchor="end" font-weight="bold" stroke="#000" stroke-width="0.14">0.8</text><line x1="595.5" y1="249.8" x2="599.5" y2="249.8" stroke="#000" stroke-width="1"/><text x="593.8" y="252.7" font-size="8.2" text-anchor="end" font-weight="bold" stroke="#000" stroke-width="0.14">0.4</text><line x1="595.5" y1="270" x2="599.5" y2="270" stroke="#000" stroke-width="1"/><text x="593.8" y="272.9" font-size="8.2" text-anchor="end" font-weight="bold" stroke="#000" stroke-width="0.14">0.0</text><rect x="598" y="243.6" width="3" height="6.2" fill="#fff"/><line x1="596.7" y1="245.6" x2="602.3" y2="240.6" stroke="#000" stroke-width="1"/><line x1="596.7" y1="252.6" x2="602.3" y2="247.6" stroke="#000" stroke-width="1"/><line x1="599.5" y1="270" x2="599.5" y2="274.3" stroke="#000" stroke-width="1"/><text x="599.5" y="283.3" font-size="8.3" text-anchor="middle" font-weight="bold" stroke="#000" stroke-width="0.14">0</text><line x1="614.04" y1="270" x2="614.04" y2="274.3" stroke="#000" stroke-width="1"/><text x="614.04" y="283.3" font-size="8.3" text-anchor="middle" font-weight="bold" stroke="#000" stroke-width="0.14">40</text><line x1="628.58" y1="270" x2="628.58" y2="274.3" stroke="#000" stroke-width="1"/><text x="628.58" y="283.3" font-size="8.3" text-anchor="middle" font-weight="bold" stroke="#000" stroke-width="0.14">80</text><line x1="643.12" y1="270" x2="643.12" y2="274.3" stroke="#000" stroke-width="1"/><text x="643.12" y="283.3" font-size="8.3" text-anchor="middle" font-weight="bold" stroke="#000" stroke-width="0.14">120</text><line x1="657.66" y1="270" x2="657.66" y2="274.3" stroke="#000" stroke-width="1"/><text x="657.66" y="283.3" font-size="8.3" text-anchor="middle" font-weight="bold" stroke="#000" stroke-width="0.14">160</text><line x1="672.2" y1="270" x2="672.2" y2="274.3" stroke="#000" stroke-width="1"/><text x="672.2" y="283.3" font-size="8.3" text-anchor="middle" font-weight="bold" stroke="#000" stroke-width="0.14">200</text><text x="634.6" y="291.6" font-size="8.4" text-anchor="middle" stroke="#000" stroke-width="0.55">Frame no.</text><text x="576.8" y="215" font-size="9.3" text-anchor="middle" transform="rotate(-90 576.8 215)" stroke="#000" stroke-width="0.4">Normalized Fluo. Int.</text><line x1="604.3" y1="168.5" x2="615.8" y2="168.5" stroke="#e9342a" stroke-width="1.2"/><text x="622.3" y="170.7" font-size="6" font-weight="bold" stroke="#000" stroke-width="0.14">ReTag4</text><line x1="604.3" y1="178" x2="615.8" y2="178" stroke="#3f57c4" stroke-width="1.2"/><text x="622.3" y="180.3" font-size="6" font-weight="bold" stroke="#000" stroke-width="0.14">ReTag1</text>
</g>
<g id="panel-g">
<text x="0.6" y="302.8" font-size="13.7" font-weight="bold" stroke="#000" stroke-width="0.14">g</text><rect x="11.1" y="302.1" width="74.9" height="41.7" fill="#1b1a18"/><rect x="11.1" y="302.1" width="74.9" height="41.7" fill="#fff" filter="url(#gnoise)" opacity="0.2"/><g filter="url(#gblur)"><circle cx="29.31" cy="307.2" r="0.62" fill="#6d6d6d"/><circle cx="16.95" cy="319.04" r="0.91" fill="#8f8f8f"/><circle cx="67.88" cy="311.91" r="0.68" fill="#747474"/><circle cx="24.69" cy="307.32" r="0.88" fill="#656565"/><circle cx="72.53" cy="335.12" r="0.68" fill="#868686"/><circle cx="34.69" cy="327.99" r="0.9" fill="#818181"/><circle cx="76.26" cy="306.54" r="0.83" fill="#797979"/><circle cx="48.98" cy="310.16" r="0.61" fill="#717171"/><circle cx="80.23" cy="337.46" r="0.69" fill="#757575"/><circle cx="78.36" cy="325.82" r="0.92" fill="#8c8c8c"/><circle cx="49.16" cy="319.53" r="0.74" fill="#787878"/><circle cx="23.86" cy="315.21" r="0.63" fill="#878787"/><circle cx="15.48" cy="327.97" r="0.75" fill="#686868"/><circle cx="46.45" cy="316.71" r="0.71" fill="#959595"/><circle cx="42.19" cy="311.15" r="0.69" fill="#7a7a7a"/><circle cx="38.04" cy="332.75" r="0.76" fill="#6a6a6a"/><circle cx="78.02" cy="307.11" r="0.63" fill="#626262"/><circle cx="67.88" cy="327.53" r="0.67" fill="#666666"/><circle cx="25.04" cy="321.32" r="0.79" fill="#616161"/><circle cx="77.41" cy="341" r="0.94" fill="#818181"/><circle cx="13.43" cy="314.57" r="0.91" fill="#939393"/><circle cx="42.02" cy="340.55" r="0.88" fill="#797979"/><circle cx="33.49" cy="310.7" r="0.62" fill="#6f6f6f"/><circle cx="39.92" cy="341.28" r="0.57" fill="#6a6a6a"/><circle cx="15.37" cy="309.83" r="0.74" fill="#858585"/><circle cx="33.27" cy="306.95" r="0.79" fill="#949494"/><circle cx="27.26" cy="305.46" r="0.61" fill="#626262"/><circle cx="61.44" cy="309.04" r="0.72" fill="#616161"/><circle cx="30.26" cy="342.71" r="0.74" fill="#636363"/><circle cx="68.51" cy="319.35" r="0.81" fill="#949494"/><circle cx="29.73" cy="319.4" r="0.7" fill="#616161"/><circle cx="30.22" cy="338.41" r="0.79" fill="#888888"/><circle cx="14.41" cy="313.2" r="0.63" fill="#666666"/><circle cx="28.97" cy="337.63" r="0.57" fill="#636363"/><circle cx="79.75" cy="325.54" r="0.78" fill="#959595"/><circle cx="77.78" cy="329.06" r="0.87" fill="#858585"/><circle cx="48.13" cy="306.79" r="0.86" fill="#656565"/><circle cx="77.69" cy="339.81" r="0.8" fill="#6a6a6a"/><circle cx="70.38" cy="328.61" r="0.8" fill="#878787"/><circle cx="59.83" cy="330.33" r="0.88" fill="#676767"/><circle cx="81.81" cy="306.05" r="0.97" fill="#939393"/><circle cx="60.82" cy="304.87" r="0.67" fill="#8d8d8d"/><circle cx="82.71" cy="329.59" r="0.61" fill="#626262"/><circle cx="58.41" cy="325.7" r="0.93" fill="#828282"/><circle cx="28.03" cy="303.23" r="0.63" fill="#8f8f8f"/><circle cx="75.99" cy="307.7" r="0.89" fill="#868686"/><circle cx="76.1" cy="324.96" r="0.69" fill="#8c8c8c"/><circle cx="61.05" cy="316.23" r="0.9" fill="#8d8d8d"/><circle cx="46.47" cy="324" r="0.56" fill="#616161"/><circle cx="55.44" cy="322.51" r="0.83" fill="#8b8b8b"/><circle cx="22.22" cy="317.49" r="0.79" fill="#838383"/><circle cx="12.87" cy="336.36" r="0.65" fill="#888888"/><circle cx="51.71" cy="318.23" r="0.72" fill="#858585"/><circle cx="29.14" cy="322.42" r="0.67" fill="#939393"/><circle cx="20.44" cy="327.75" r="0.8" fill="#8c8c8c"/><circle cx="43.74" cy="337.16" r="0.63" fill="#848484"/><circle cx="76.35" cy="310.88" r="0.86" fill="#696969"/><circle cx="42.9" cy="334.79" r="0.86" fill="#646464"/><circle cx="24.96" cy="309.03" r="0.7" fill="#727272"/><circle cx="51.6" cy="338.99" r="0.6" fill="#7f7f7f"/></g><text x="12.5" y="310.8" font-size="7.9" font-weight="bold" fill="#e6c862" stroke="#e6c862" stroke-width="0.14">ReTag1</text><text x="83.7" y="310.8" font-size="7.9" text-anchor="end" font-weight="bold" fill="#e6c862" stroke="#e6c862" stroke-width="0.14">100 nM</text><rect x="49.9" y="337.1" width="33" height="2.8" fill="#fff"/><rect x="11.1" y="346.9" width="74.9" height="42.5" fill="#282828"/><rect x="11.1" y="346.9" width="74.9" height="42.5" fill="#fff" filter="url(#gnoise)" opacity="0.3"/><g filter="url(#gblur)"><circle cx="34.83" cy="369.97" r="0.9" fill="#989898"/><circle cx="47.4" cy="350.97" r="0.88" fill="#737373"/><circle cx="38.11" cy="378.95" r="1.06" fill="#ffffff"/><circle cx="61.43" cy="372.59" r="0.92" fill="#7c7c7c"/><circle cx="46.15" cy="384.81" r="0.9" fill="#7b7b7b"/><circle cx="69.46" cy="372.73" r="0.68" fill="#909090"/><circle cx="68.31" cy="362.57" r="0.75" fill="#bbbbbb"/><circle cx="18.12" cy="353.73" r="0.83" fill="#dedede"/><circle cx="77.85" cy="362.97" r="0.8" fill="#a9a9a9"/><circle cx="57.36" cy="351.69" r="0.95" fill="#8a8a8a"/><circle cx="25.2" cy="374.4" r="0.71" fill="#7e7e7e"/><circle cx="13.79" cy="348.71" r="1.12" fill="#ffffff"/><circle cx="70.5" cy="380.59" r="0.88" fill="#ffffff"/><circle cx="54.69" cy="367.96" r="1" fill="#a9a9a9"/><circle cx="67.52" cy="387.12" r="0.79" fill="#676767"/><circle cx="61.34" cy="378.08" r="0.98" fill="#b2b2b2"/><circle cx="34.18" cy="385.48" r="0.83" fill="#8a8a8a"/><circle cx="77.48" cy="376.4" r="0.68" fill="#7c7c7c"/><circle cx="35.91" cy="373.29" r="1.16" fill="#ffffff"/><circle cx="41.28" cy="364.13" r="0.87" fill="#e0e0e0"/><circle cx="42.1" cy="348.43" r="0.76" fill="#6d6d6d"/><circle cx="62.64" cy="372.8" r="0.94" fill="#848484"/><circle cx="57.53" cy="354.22" r="0.89" fill="#636363"/><circle cx="84.11" cy="385.16" r="0.79" fill="#afafaf"/><circle cx="18.76" cy="358.35" r="0.9" fill="#717171"/><circle cx="77.17" cy="379.41" r="0.65" fill="#696969"/><circle cx="33.91" cy="386.29" r="0.84" fill="#6b6b6b"/><circle cx="61.72" cy="370.06" r="0.92" fill="#ffffff"/><circle cx="50.33" cy="354.28" r="0.57" fill="#656565"/><circle cx="35.17" cy="352.83" r="0.9" fill="#636363"/><circle cx="33.17" cy="383.95" r="0.98" fill="#c4c4c4"/><circle cx="59.86" cy="386.48" r="1.05" fill="#efefef"/><circle cx="52.92" cy="376" r="0.92" fill="#c9c9c9"/><circle cx="48.74" cy="354.15" r="0.95" fill="#e6e6e6"/><circle cx="17.04" cy="354.71" r="0.88" fill="#eeeeee"/><circle cx="40.63" cy="375.53" r="0.9" fill="#ebebeb"/><circle cx="40.3" cy="365.03" r="0.86" fill="#626262"/><circle cx="13.49" cy="386.78" r="0.62" fill="#6a6a6a"/><circle cx="73.96" cy="381.25" r="0.77" fill="#727272"/><circle cx="46.85" cy="377" r="0.86" fill="#6d6d6d"/><circle cx="84.74" cy="376.51" r="1.14" fill="#fafafa"/><circle cx="39.76" cy="382.22" r="0.98" fill="#e4e4e4"/><circle cx="19.91" cy="372.98" r="0.92" fill="#f8f8f8"/><circle cx="59.26" cy="384.24" r="0.7" fill="#aeaeae"/><circle cx="58.17" cy="358.25" r="1.02" fill="#eaeaea"/><circle cx="34.51" cy="384.17" r="0.81" fill="#b4b4b4"/><circle cx="72.91" cy="384.01" r="1.11" fill="#f3f3f3"/><circle cx="60.09" cy="376.2" r="0.87" fill="#afafaf"/><circle cx="84.08" cy="362.2" r="0.81" fill="#646464"/><circle cx="48.41" cy="370" r="0.77" fill="#aeaeae"/><circle cx="26.74" cy="350.79" r="1.07" fill="#d7d7d7"/><circle cx="62.89" cy="352.63" r="1.13" fill="#ffffff"/><circle cx="49.23" cy="347.94" r="1" fill="#e6e6e6"/><circle cx="57.46" cy="348.64" r="0.74" fill="#cbcbcb"/><circle cx="46.95" cy="353.77" r="0.92" fill="#838383"/><circle cx="66.66" cy="380.94" r="0.73" fill="#7a7a7a"/><circle cx="56.19" cy="349.28" r="0.96" fill="#8b8b8b"/><circle cx="67.07" cy="382.84" r="0.84" fill="#7a7a7a"/><circle cx="69.61" cy="376.43" r="0.69" fill="#909090"/><circle cx="13.41" cy="383.82" r="0.91" fill="#fdfdfd"/><circle cx="67.2" cy="364.39" r="0.99" fill="#b4b4b4"/><circle cx="35.52" cy="373.01" r="0.76" fill="#757575"/><circle cx="14.29" cy="358.57" r="0.91" fill="#797979"/><circle cx="21.75" cy="378.61" r="0.9" fill="#656565"/><circle cx="24.2" cy="351.63" r="0.9" fill="#707070"/><circle cx="60.85" cy="383.97" r="0.69" fill="#9b9b9b"/><circle cx="36.92" cy="366.35" r="0.9" fill="#ffffff"/><circle cx="29.9" cy="382.05" r="0.9" fill="#666666"/><circle cx="33.72" cy="370.87" r="1.02" fill="#bbbbbb"/><circle cx="17.62" cy="382.19" r="0.82" fill="#6c6c6c"/><circle cx="14.08" cy="378.95" r="0.64" fill="#6c6c6c"/><circle cx="14.64" cy="361.04" r="0.94" fill="#7e7e7e"/><circle cx="56.34" cy="362.65" r="0.91" fill="#ffffff"/><circle cx="27.77" cy="386.62" r="1.07" fill="#ffffff"/><circle cx="83.44" cy="350.23" r="1.05" fill="#f6f6f6"/><circle cx="60.8" cy="382.05" r="0.63" fill="#666666"/><circle cx="22.15" cy="367.29" r="0.85" fill="#a3a3a3"/><circle cx="38.5" cy="378.02" r="1.04" fill="#e5e5e5"/><circle cx="14.86" cy="354.09" r="0.66" fill="#707070"/><circle cx="53.93" cy="355.78" r="0.81" fill="#b3b3b3"/><circle cx="38.61" cy="376.58" r="0.89" fill="#ffffff"/><circle cx="37.49" cy="387.65" r="0.58" fill="#707070"/><circle cx="26.03" cy="381.33" r="1.06" fill="#cbcbcb"/><circle cx="48.36" cy="349.57" r="0.85" fill="#7b7b7b"/><circle cx="40.74" cy="353.55" r="0.77" fill="#868686"/><circle cx="38.05" cy="365.98" r="0.57" fill="#686868"/><circle cx="69.23" cy="377.56" r="0.66" fill="#8c8c8c"/><circle cx="33.64" cy="370.51" r="0.97" fill="#f3f3f3"/><circle cx="83.09" cy="369.24" r="0.78" fill="#6c6c6c"/><circle cx="55.85" cy="372.17" r="0.74" fill="#cacaca"/><circle cx="43.95" cy="380.31" r="0.58" fill="#686868"/><circle cx="25.44" cy="359.47" r="0.74" fill="#8f8f8f"/><circle cx="58.35" cy="354.79" r="0.84" fill="#818181"/><circle cx="51.78" cy="386.73" r="0.91" fill="#fefefe"/><circle cx="36.53" cy="369.67" r="0.79" fill="#a3a3a3"/><circle cx="74.99" cy="355.88" r="0.68" fill="#959595"/><circle cx="76.48" cy="372.02" r="0.89" fill="#ffffff"/><circle cx="63.94" cy="372.07" r="0.84" fill="#636363"/><circle cx="75.83" cy="351.16" r="1.1" fill="#ffffff"/><circle cx="56.17" cy="369.92" r="0.61" fill="#767676"/></g><text x="12.5" y="355.4" font-size="7.9" font-weight="bold" fill="#e6c862" stroke="#e6c862" stroke-width="0.14">ReTag4</text><text x="83.7" y="355.4" font-size="7.9" text-anchor="end" font-weight="bold" fill="#e6c862" stroke="#e6c862" stroke-width="0.14">100 nM</text><rect x="48.8" y="382.2" width="33.4" height="2.8" fill="#fff"/><rect x="11.1" y="392.4" width="74.9" height="42.2" fill="#2a2a2a"/><rect x="11.1" y="392.4" width="74.9" height="42.2" fill="#fff" filter="url(#gnoise)" opacity="0.3"/><g filter="url(#gblur)"><circle cx="46.76" cy="428.21" r="0.74" fill="#717171"/><circle cx="32.69" cy="421.18" r="1.17" fill="#ffffff"/><circle cx="33.08" cy="410.16" r="0.74" fill="#616161"/><circle cx="74.32" cy="427.36" r="0.71" fill="#646464"/><circle cx="17.93" cy="410.46" r="0.93" fill="#ffffff"/><circle cx="73.75" cy="431.8" r="0.86" fill="#ededed"/><circle cx="79.04" cy="430.5" r="0.88" fill="#ffffff"/><circle cx="12.36" cy="405.12" r="0.81" fill="#a4a4a4"/><circle cx="18.84" cy="419.15" r="0.94" fill="#c6c6c6"/><circle cx="49.32" cy="415.48" r="0.75" fill="#cbcbcb"/><circle cx="43.9" cy="398.85" r="0.83" fill="#666666"/><circle cx="35.74" cy="407.04" r="0.8" fill="#7a7a7a"/><circle cx="20.72" cy="419.17" r="0.89" fill="#646464"/><circle cx="23.55" cy="424.26" r="0.82" fill="#aaaaaa"/><circle cx="34.28" cy="407.84" r="0.95" fill="#dddddd"/><circle cx="51.2" cy="403.35" r="0.77" fill="#bcbcbc"/><circle cx="47.27" cy="419.59" r="0.88" fill="#aaaaaa"/><circle cx="53.66" cy="401.19" r="1.1" fill="#ffffff"/><circle cx="65" cy="431.79" r="0.76" fill="#979797"/><circle cx="34.26" cy="406.11" r="0.71" fill="#7d7d7d"/><circle cx="27.34" cy="412.86" r="0.73" fill="#7c7c7c"/><circle cx="60.48" cy="406.07" r="1.09" fill="#f9f9f9"/><circle cx="36.05" cy="426.94" r="0.6" fill="#6d6d6d"/><circle cx="84.62" cy="394.72" r="0.85" fill="#616161"/><circle cx="12.29" cy="419.74" r="0.76" fill="#acacac"/><circle cx="30" cy="432.28" r="0.71" fill="#8c8c8c"/><circle cx="44.28" cy="422.83" r="0.63" fill="#7c7c7c"/><circle cx="69.74" cy="397.26" r="0.55" fill="#636363"/><circle cx="84.52" cy="410.85" r="0.95" fill="#d7d7d7"/><circle cx="83.17" cy="407.2" r="0.85" fill="#858585"/><circle cx="12.14" cy="408.02" r="0.96" fill="#dddddd"/><circle cx="47.82" cy="431.06" r="0.89" fill="#939393"/><circle cx="40.71" cy="396.87" r="0.7" fill="#8b8b8b"/><circle cx="14.09" cy="404.9" r="0.72" fill="#686868"/><circle cx="65.88" cy="423.87" r="0.93" fill="#ffffff"/><circle cx="60.91" cy="429.14" r="0.94" fill="#8d8d8d"/><circle cx="19.6" cy="430.42" r="1.16" fill="#fefefe"/><circle cx="72.66" cy="421.97" r="0.89" fill="#949494"/><circle cx="76.15" cy="416.55" r="1.03" fill="#bbbbbb"/><circle cx="32.85" cy="406.88" r="0.86" fill="#626262"/><circle cx="57.99" cy="420.45" r="0.65" fill="#747474"/><circle cx="47" cy="428.66" r="0.76" fill="#868686"/><circle cx="42.56" cy="427.35" r="0.86" fill="#686868"/><circle cx="12.96" cy="421.5" r="0.93" fill="#dedede"/><circle cx="66.18" cy="404.68" r="0.69" fill="#696969"/><circle cx="31.43" cy="422.22" r="0.91" fill="#aeaeae"/><circle cx="83.23" cy="424.48" r="1.12" fill="#e5e5e5"/><circle cx="79.81" cy="423.21" r="0.79" fill="#858585"/><circle cx="67.19" cy="425.03" r="1.09" fill="#ffffff"/><circle cx="60.86" cy="403.62" r="0.77" fill="#bbbbbb"/><circle cx="59.26" cy="400.48" r="0.88" fill="#616161"/><circle cx="75.51" cy="405.65" r="0.84" fill="#626262"/><circle cx="68.33" cy="399.62" r="1.08" fill="#ececec"/><circle cx="53.97" cy="404.41" r="0.58" fill="#636363"/><circle cx="44.25" cy="422.4" r="0.79" fill="#bfbfbf"/><circle cx="70.28" cy="395.94" r="0.76" fill="#b9b9b9"/><circle cx="12.5" cy="401.18" r="0.86" fill="#e7e7e7"/><circle cx="13.12" cy="412.8" r="0.81" fill="#858585"/><circle cx="54.18" cy="421.85" r="0.95" fill="#ffffff"/><circle cx="58.39" cy="398.17" r="0.62" fill="#767676"/><circle cx="74.95" cy="406.97" r="1.05" fill="#d0d0d0"/><circle cx="40.14" cy="401.72" r="0.76" fill="#767676"/><circle cx="40.34" cy="396.22" r="1.03" fill="#f6f6f6"/><circle cx="75.67" cy="427.38" r="1.04" fill="#d4d4d4"/><circle cx="63.41" cy="410.61" r="1.11" fill="#ededed"/><circle cx="19.94" cy="399.2" r="0.73" fill="#6c6c6c"/><circle cx="75.11" cy="414.57" r="0.94" fill="#f7f7f7"/><circle cx="53.33" cy="403.33" r="0.81" fill="#bfbfbf"/><circle cx="12.64" cy="409.41" r="0.99" fill="#aeaeae"/><circle cx="32.98" cy="430.65" r="0.84" fill="#ebebeb"/><circle cx="68.86" cy="431" r="1.1" fill="#ffffff"/><circle cx="40.56" cy="415.26" r="0.93" fill="#c2c2c2"/><circle cx="25.89" cy="428.96" r="0.7" fill="#a9a9a9"/><circle cx="34.42" cy="396.64" r="0.68" fill="#999999"/><circle cx="50.72" cy="404.6" r="1.06" fill="#efefef"/><circle cx="25.78" cy="426.02" r="0.78" fill="#b2b2b2"/><circle cx="78.52" cy="393.65" r="0.84" fill="#8d8d8d"/><circle cx="23.96" cy="413.16" r="0.94" fill="#ffffff"/><circle cx="63.76" cy="401.05" r="1.2" fill="#ffffff"/><circle cx="24.12" cy="424.14" r="0.62" fill="#828282"/><circle cx="27.48" cy="422.7" r="0.83" fill="#9a9a9a"/><circle cx="21.42" cy="400.3" r="0.8" fill="#878787"/><circle cx="71.91" cy="411.46" r="0.93" fill="#818181"/><circle cx="62.43" cy="423.79" r="0.95" fill="#e9e9e9"/><circle cx="31.06" cy="397.9" r="0.98" fill="#c3c3c3"/><circle cx="77.87" cy="430.36" r="0.83" fill="#a1a1a1"/><circle cx="82.44" cy="396.85" r="0.81" fill="#898989"/><circle cx="55.96" cy="417.96" r="0.75" fill="#6b6b6b"/><circle cx="24.92" cy="408.83" r="0.68" fill="#6d6d6d"/><circle cx="57.8" cy="409.43" r="0.73" fill="#6c6c6c"/><circle cx="60.94" cy="405.51" r="0.74" fill="#797979"/><circle cx="62.81" cy="394.86" r="0.74" fill="#c7c7c7"/><circle cx="76.97" cy="401.09" r="0.8" fill="#eeeeee"/><circle cx="48.06" cy="403.73" r="1.04" fill="#e1e1e1"/><circle cx="21.34" cy="395.47" r="0.9" fill="#d5d5d5"/><circle cx="39.27" cy="407.41" r="0.82" fill="#888888"/><circle cx="40.4" cy="398.58" r="1" fill="#9b9b9b"/><circle cx="67.99" cy="422.28" r="1" fill="#ffffff"/><circle cx="38.51" cy="425.27" r="0.83" fill="#666666"/><circle cx="22.9" cy="418.46" r="0.93" fill="#a3a3a3"/><circle cx="16.68" cy="420.4" r="0.81" fill="#efefef"/><circle cx="61.94" cy="404.66" r="1.1" fill="#d9d9d9"/><circle cx="12.3" cy="409.75" r="1" fill="#a0a0a0"/><circle cx="79.47" cy="394.56" r="0.71" fill="#696969"/><circle cx="70.72" cy="425.15" r="1" fill="#acacac"/><circle cx="71.9" cy="428.69" r="0.8" fill="#bebebe"/><circle cx="65.64" cy="422.2" r="0.9" fill="#ffffff"/><circle cx="13.71" cy="407.11" r="0.72" fill="#777777"/><circle cx="16.45" cy="417.94" r="0.73" fill="#929292"/><circle cx="19.5" cy="416.48" r="0.86" fill="#666666"/><circle cx="32.29" cy="429.5" r="0.7" fill="#686868"/><circle cx="68.84" cy="414.37" r="0.95" fill="#969696"/><circle cx="24.06" cy="427.62" r="0.76" fill="#a4a4a4"/><circle cx="37.61" cy="404.59" r="0.86" fill="#bebebe"/><circle cx="49.87" cy="419.5" r="1.05" fill="#f8f8f8"/><circle cx="33.66" cy="420.16" r="1.05" fill="#cccccc"/><circle cx="40.25" cy="414.79" r="0.88" fill="#dcdcdc"/><circle cx="35.88" cy="418.36" r="0.91" fill="#898989"/><circle cx="37.41" cy="402.25" r="0.91" fill="#b8b8b8"/><circle cx="84.3" cy="431.28" r="0.79" fill="#919191"/><circle cx="59.61" cy="413.69" r="0.83" fill="#b3b3b3"/><circle cx="74.79" cy="429.27" r="1.04" fill="#e5e5e5"/><circle cx="76.82" cy="403.68" r="0.92" fill="#ffffff"/><circle cx="19.48" cy="413.3" r="0.66" fill="#6b6b6b"/><circle cx="56.26" cy="399.37" r="0.75" fill="#8d8d8d"/></g><text x="12.5" y="400.6" font-size="7.9" font-weight="bold" fill="#e6c862" stroke="#e6c862" stroke-width="0.14">ReTag4</text><text x="83.7" y="400.6" font-size="7.9" text-anchor="end" font-weight="bold" fill="#e6c862" stroke="#e6c862" stroke-width="0.14">500 nM</text><rect x="47" y="428.4" width="35" height="2.8" fill="#fff"/>
</g>
<g id="panel-h">
<text x="91.8" y="304.8" font-size="13.7" font-weight="bold" stroke="#000" stroke-width="0.14">h</text><path d="M136.9 410.5 C137.58 410.5 136.66 410.13 138.1 408.72 C139.54 407.3 139.85 407.12 142 405.5 C144.15 403.89 145.5 404.42 145.7 403 C145.9 401.59 144.17 402.23 142.7 400.51 C141.23 398.79 141.78 399.16 140.5 396.94 C139.22 394.71 139.02 395.59 138.2 392.65 C137.38 389.72 137.97 389.72 137.6 386.58 C137.23 383.45 137.3 381.58 136.9 381.58 C136.5 381.58 136.57 383.45 136.2 386.58 C135.83 389.72 136.42 389.72 135.6 392.65 C134.78 395.59 134.58 394.71 133.3 396.94 C132.03 399.16 132.57 398.79 131.1 400.51 C129.63 402.23 127.9 401.59 128.1 403 C128.3 404.42 129.65 403.89 131.8 405.5 C133.95 407.12 134.26 407.3 135.7 408.72 C137.15 410.13 136.22 410.5 136.9 410.5Z" fill="#f7c390"/><circle cx="136.99" cy="403.62" r="0.8" fill="#fbdcb8" opacity="0.6"/><circle cx="140.19" cy="402.08" r="0.8" fill="#fbdcb8" opacity="0.6"/><circle cx="135.01" cy="398.31" r="0.8" fill="#fbdcb8" opacity="0.6"/><circle cx="140.79" cy="404.43" r="0.8" fill="#fbdcb8" opacity="0.6"/><circle cx="132.32" cy="399.55" r="0.8" fill="#fbdcb8" opacity="0.6"/><circle cx="135.15" cy="394.89" r="0.8" fill="#fbdcb8" opacity="0.6"/><circle cx="138.03" cy="398.35" r="0.8" fill="#fbdcb8" opacity="0.6"/><circle cx="140.73" cy="406.18" r="0.8" fill="#fbdcb8" opacity="0.6"/><circle cx="130.1" cy="403.65" r="0.8" fill="#fbdcb8" opacity="0.6"/><circle cx="133.47" cy="401" r="0.8" fill="#fbdcb8" opacity="0.6"/><circle cx="133.9" cy="397.66" r="0.8" fill="#fbdcb8" opacity="0.6"/><circle cx="137.14" cy="387.83" r="0.8" fill="#fbdcb8" opacity="0.6"/><circle cx="140.08" cy="398.91" r="0.8" fill="#fbdcb8" opacity="0.6"/><circle cx="144.87" cy="403.02" r="0.8" fill="#fbdcb8" opacity="0.6"/><circle cx="138.29" cy="404.47" r="0.8" fill="#fbdcb8" opacity="0.6"/><circle cx="137.29" cy="406.53" r="0.8" fill="#fbdcb8" opacity="0.6"/><circle cx="136.83" cy="390.38" r="0.8" fill="#fbdcb8" opacity="0.6"/><circle cx="134.36" cy="396.2" r="0.8" fill="#fbdcb8" opacity="0.6"/><circle cx="137.49" cy="395.21" r="0.8" fill="#fbdcb8" opacity="0.6"/><circle cx="132.48" cy="404.07" r="0.8" fill="#fbdcb8" opacity="0.6"/><circle cx="136.73" cy="399.27" r="0.8" fill="#fbdcb8" opacity="0.6"/><circle cx="137.07" cy="392.09" r="0.8" fill="#fbdcb8" opacity="0.6"/><circle cx="140.2" cy="403.82" r="0.8" fill="#fbdcb8" opacity="0.6"/><circle cx="134.22" cy="398.74" r="0.8" fill="#fbdcb8" opacity="0.6"/><circle cx="132.46" cy="403.81" r="0.8" fill="#fbdcb8" opacity="0.6"/><circle cx="131.76" cy="404.11" r="0.8" fill="#fbdcb8" opacity="0.6"/><circle cx="137.16" cy="403.67" r="0.8" fill="#fbdcb8" opacity="0.6"/><circle cx="142" cy="404.8" r="0.8" fill="#fbdcb8" opacity="0.6"/><circle cx="138.6" cy="403.24" r="0.8" fill="#fbdcb8" opacity="0.6"/><circle cx="133.87" cy="404.12" r="0.8" fill="#fbdcb8" opacity="0.6"/><path d="M136.9 410.5 C137.58 410.5 136.66 410.13 138.1 408.72 C139.54 407.3 139.85 407.12 142 405.5 C144.15 403.89 145.5 404.42 145.7 403 C145.9 401.59 144.17 402.23 142.7 400.51 C141.23 398.79 141.78 399.16 140.5 396.94 C139.22 394.71 139.02 395.59 138.2 392.65 C137.38 389.72 137.97 389.72 137.6 386.58 C137.23 383.45 137.3 381.58 136.9 381.58 C136.5 381.58 136.57 383.45 136.2 386.58 C135.83 389.72 136.42 389.72 135.6 392.65 C134.78 395.59 134.58 394.71 133.3 396.94 C132.03 399.16 132.57 398.79 131.1 400.51 C129.63 402.23 127.9 401.59 128.1 403 C128.3 404.42 129.65 403.89 131.8 405.5 C133.95 407.12 134.26 407.3 135.7 408.72 C137.15 410.13 136.22 410.5 136.9 410.5Z" fill="none" stroke="#f0a35a" stroke-width="1.1" stroke-linejoin="round"/><path d="M163.9 408.36 C164.41 408.36 163.89 406.5 164.8 404.08 C165.71 401.65 165.48 402.22 167.1 399.79 C168.72 397.36 168.86 398.14 170.5 395.51 C172.14 392.88 172.62 393.34 172.9 390.51 C173.18 387.68 171.78 388.24 171.5 385.51 C171.22 382.78 172.38 383.6 171.9 380.87 C171.42 378.14 170.2 378.5 169.8 375.87 C169.4 373.24 170.73 373.92 170.5 371.59 C170.27 369.26 170.25 370.39 169 367.66 C167.75 364.93 167.2 365.59 166.1 361.95 C165 358.31 165.72 358.55 165.1 354.81 C164.48 351.07 164.58 348.74 163.9 348.74 C163.22 348.74 163.32 351.07 162.7 354.81 C162.08 358.55 162.81 358.31 161.7 361.95 C160.6 365.59 160.05 364.93 158.8 367.66 C157.55 370.39 157.53 369.26 157.3 371.59 C157.07 373.92 158.4 373.24 158 375.87 C157.6 378.5 156.38 378.14 155.9 380.87 C155.42 383.6 156.58 382.78 156.3 385.51 C156.02 388.24 154.62 387.68 154.9 390.51 C155.18 393.34 155.66 392.88 157.3 395.51 C158.94 398.14 159.09 397.36 160.7 399.79 C162.32 402.22 162.09 401.65 163 404.08 C163.91 406.5 163.39 408.36 163.9 408.36Z" fill="#4e66ca"/><circle cx="172.07" cy="390.47" r="0.8" fill="#8fa2e4" opacity="0.55"/><circle cx="163.78" cy="393.62" r="0.8" fill="#8fa2e4" opacity="0.55"/><circle cx="162.32" cy="387.68" r="0.8" fill="#8fa2e4" opacity="0.55"/><circle cx="163.45" cy="395.9" r="0.8" fill="#8fa2e4" opacity="0.55"/><circle cx="163.16" cy="371.96" r="0.8" fill="#8fa2e4" opacity="0.55"/><circle cx="162.21" cy="397.25" r="0.8" fill="#8fa2e4" opacity="0.55"/><circle cx="165.21" cy="369.09" r="0.8" fill="#8fa2e4" opacity="0.55"/><circle cx="165.6" cy="388.22" r="0.8" fill="#8fa2e4" opacity="0.55"/><circle cx="164.16" cy="364.63" r="0.8" fill="#8fa2e4" opacity="0.55"/><circle cx="164.74" cy="388.37" r="0.8" fill="#8fa2e4" opacity="0.55"/><circle cx="164.13" cy="389.06" r="0.8" fill="#8fa2e4" opacity="0.55"/><circle cx="156.89" cy="391.39" r="0.8" fill="#8fa2e4" opacity="0.55"/><circle cx="166.32" cy="398.62" r="0.8" fill="#8fa2e4" opacity="0.55"/><circle cx="166.36" cy="378.18" r="0.8" fill="#8fa2e4" opacity="0.55"/><circle cx="161.17" cy="386.96" r="0.8" fill="#8fa2e4" opacity="0.55"/><circle cx="165.52" cy="385.4" r="0.8" fill="#8fa2e4" opacity="0.55"/><circle cx="163.14" cy="392.1" r="0.8" fill="#8fa2e4" opacity="0.55"/><circle cx="162.29" cy="367.83" r="0.8" fill="#8fa2e4" opacity="0.55"/><circle cx="169.09" cy="372.54" r="0.8" fill="#8fa2e4" opacity="0.55"/><circle cx="168.71" cy="395.79" r="0.8" fill="#8fa2e4" opacity="0.55"/><circle cx="166.21" cy="395.45" r="0.8" fill="#8fa2e4" opacity="0.55"/><circle cx="165.82" cy="384.6" r="0.8" fill="#8fa2e4" opacity="0.55"/><circle cx="167.79" cy="373.72" r="0.8" fill="#8fa2e4" opacity="0.55"/><circle cx="160.6" cy="391.46" r="0.8" fill="#8fa2e4" opacity="0.55"/><circle cx="164.52" cy="398.04" r="0.8" fill="#8fa2e4" opacity="0.55"/><circle cx="168.07" cy="377.17" r="0.8" fill="#8fa2e4" opacity="0.55"/><circle cx="158.66" cy="391.34" r="0.8" fill="#8fa2e4" opacity="0.55"/><circle cx="165.28" cy="377.33" r="0.8" fill="#8fa2e4" opacity="0.55"/><circle cx="158.97" cy="389.79" r="0.8" fill="#8fa2e4" opacity="0.55"/><circle cx="165.67" cy="394.92" r="0.8" fill="#8fa2e4" opacity="0.55"/><circle cx="168.63" cy="370.29" r="0.8" fill="#8fa2e4" opacity="0.55"/><circle cx="166.6" cy="375.4" r="0.8" fill="#8fa2e4" opacity="0.55"/><circle cx="158.2" cy="395.85" r="0.8" fill="#8fa2e4" opacity="0.55"/><circle cx="167.03" cy="387.01" r="0.8" fill="#8fa2e4" opacity="0.55"/><circle cx="169.87" cy="386.65" r="0.8" fill="#8fa2e4" opacity="0.55"/><circle cx="170.02" cy="387.57" r="0.8" fill="#8fa2e4" opacity="0.55"/><circle cx="160.34" cy="389.7" r="0.8" fill="#8fa2e4" opacity="0.55"/><circle cx="165.98" cy="363.78" r="0.8" fill="#8fa2e4" opacity="0.55"/><circle cx="163.29" cy="395.08" r="0.8" fill="#8fa2e4" opacity="0.55"/><circle cx="162.94" cy="383.13" r="0.8" fill="#8fa2e4" opacity="0.55"/><circle cx="165.19" cy="373.95" r="0.8" fill="#8fa2e4" opacity="0.55"/><circle cx="170.7" cy="385.67" r="0.8" fill="#8fa2e4" opacity="0.55"/><circle cx="163.53" cy="380.17" r="0.8" fill="#8fa2e4" opacity="0.55"/><circle cx="168.46" cy="389.64" r="0.8" fill="#8fa2e4" opacity="0.55"/><circle cx="165.93" cy="380.73" r="0.8" fill="#8fa2e4" opacity="0.55"/><circle cx="162.57" cy="379.93" r="0.8" fill="#8fa2e4" opacity="0.55"/><circle cx="159.76" cy="373.32" r="0.8" fill="#8fa2e4" opacity="0.55"/><circle cx="161.4" cy="373.92" r="0.8" fill="#8fa2e4" opacity="0.55"/><circle cx="167.72" cy="366.5" r="0.8" fill="#8fa2e4" opacity="0.55"/><circle cx="166.91" cy="398.23" r="0.8" fill="#8fa2e4" opacity="0.55"/><circle cx="164.13" cy="377.9" r="0.8" fill="#8fa2e4" opacity="0.55"/><circle cx="165.79" cy="362.29" r="0.8" fill="#8fa2e4" opacity="0.55"/><circle cx="163.7" cy="366.87" r="0.8" fill="#8fa2e4" opacity="0.55"/><circle cx="163.63" cy="360.15" r="0.8" fill="#8fa2e4" opacity="0.55"/><circle cx="163.18" cy="381.44" r="0.8" fill="#8fa2e4" opacity="0.55"/><circle cx="167.06" cy="374.15" r="0.8" fill="#8fa2e4" opacity="0.55"/><circle cx="157.58" cy="379.63" r="0.8" fill="#8fa2e4" opacity="0.55"/><circle cx="161.3" cy="364.61" r="0.8" fill="#8fa2e4" opacity="0.55"/><circle cx="159.91" cy="393.41" r="0.8" fill="#8fa2e4" opacity="0.55"/><circle cx="166.34" cy="376.32" r="0.8" fill="#8fa2e4" opacity="0.55"/><circle cx="166.94" cy="392.3" r="0.8" fill="#8fa2e4" opacity="0.55"/><circle cx="160.69" cy="365.01" r="0.8" fill="#8fa2e4" opacity="0.55"/><circle cx="163.9" cy="372.7" r="0.8" fill="#8fa2e4" opacity="0.55"/><circle cx="168.44" cy="385.22" r="0.8" fill="#8fa2e4" opacity="0.55"/><circle cx="159.69" cy="380.69" r="0.8" fill="#8fa2e4" opacity="0.55"/><circle cx="158.85" cy="393.06" r="0.8" fill="#8fa2e4" opacity="0.55"/><circle cx="168.81" cy="392.44" r="0.8" fill="#8fa2e4" opacity="0.55"/><circle cx="159.86" cy="367.72" r="0.8" fill="#8fa2e4" opacity="0.55"/><circle cx="162.9" cy="373.3" r="0.8" fill="#8fa2e4" opacity="0.55"/><circle cx="158.26" cy="391.6" r="0.8" fill="#8fa2e4" opacity="0.55"/><circle cx="161.99" cy="379.93" r="0.8" fill="#8fa2e4" opacity="0.55"/><circle cx="160.27" cy="398.58" r="0.8" fill="#8fa2e4" opacity="0.55"/><circle cx="157.26" cy="394.34" r="0.8" fill="#8fa2e4" opacity="0.55"/><circle cx="163.62" cy="384.52" r="0.8" fill="#8fa2e4" opacity="0.55"/><circle cx="163.19" cy="369.98" r="0.8" fill="#8fa2e4" opacity="0.55"/><circle cx="168.41" cy="392" r="0.8" fill="#8fa2e4" opacity="0.55"/><circle cx="166.62" cy="375.61" r="0.8" fill="#8fa2e4" opacity="0.55"/><circle cx="164.99" cy="399.8" r="0.8" fill="#8fa2e4" opacity="0.55"/><circle cx="161.66" cy="382.9" r="0.8" fill="#8fa2e4" opacity="0.55"/><circle cx="163.03" cy="389.41" r="0.8" fill="#8fa2e4" opacity="0.55"/><circle cx="170.63" cy="378.89" r="0.8" fill="#8fa2e4" opacity="0.55"/><circle cx="159.51" cy="381.98" r="0.8" fill="#8fa2e4" opacity="0.55"/><circle cx="162.77" cy="381.65" r="0.8" fill="#8fa2e4" opacity="0.55"/><circle cx="159.48" cy="371.22" r="0.8" fill="#8fa2e4" opacity="0.55"/><circle cx="163.21" cy="359.3" r="0.8" fill="#8fa2e4" opacity="0.55"/><circle cx="163.29" cy="358.81" r="0.8" fill="#8fa2e4" opacity="0.55"/><circle cx="159.54" cy="377.72" r="0.8" fill="#8fa2e4" opacity="0.55"/><circle cx="163.47" cy="404.2" r="0.8" fill="#8fa2e4" opacity="0.55"/><circle cx="157.12" cy="381.98" r="0.8" fill="#8fa2e4" opacity="0.55"/><circle cx="160.38" cy="392.6" r="0.8" fill="#8fa2e4" opacity="0.55"/><circle cx="158.71" cy="395.96" r="0.8" fill="#8fa2e4" opacity="0.55"/><circle cx="157.74" cy="384.17" r="0.8" fill="#8fa2e4" opacity="0.55"/><circle cx="157.93" cy="377.56" r="0.8" fill="#8fa2e4" opacity="0.55"/><circle cx="159.25" cy="380.11" r="0.8" fill="#8fa2e4" opacity="0.55"/><circle cx="167.47" cy="387.08" r="0.8" fill="#8fa2e4" opacity="0.55"/><circle cx="167.26" cy="365.7" r="0.8" fill="#8fa2e4" opacity="0.55"/><circle cx="165.94" cy="387.27" r="0.8" fill="#8fa2e4" opacity="0.55"/><circle cx="166.66" cy="387.62" r="0.8" fill="#8fa2e4" opacity="0.55"/><circle cx="171.22" cy="386.39" r="0.8" fill="#8fa2e4" opacity="0.55"/><circle cx="163.36" cy="383.05" r="0.8" fill="#8fa2e4" opacity="0.55"/><circle cx="165.05" cy="378.2" r="0.8" fill="#8fa2e4" opacity="0.55"/><circle cx="159.05" cy="375.85" r="0.8" fill="#8fa2e4" opacity="0.55"/><circle cx="157.56" cy="388.19" r="0.8" fill="#8fa2e4" opacity="0.55"/><circle cx="169.17" cy="371.21" r="0.8" fill="#8fa2e4" opacity="0.55"/><circle cx="161.84" cy="401.07" r="0.8" fill="#8fa2e4" opacity="0.55"/><circle cx="156.33" cy="390.03" r="0.8" fill="#8fa2e4" opacity="0.55"/><circle cx="161.04" cy="394.87" r="0.8" fill="#8fa2e4" opacity="0.55"/><circle cx="163.48" cy="356.81" r="0.8" fill="#8fa2e4" opacity="0.55"/><circle cx="163.99" cy="398.3" r="0.8" fill="#8fa2e4" opacity="0.55"/><circle cx="161.83" cy="380.6" r="0.8" fill="#8fa2e4" opacity="0.55"/><path d="M163.9 408.36 C164.41 408.36 163.89 406.5 164.8 404.08 C165.71 401.65 165.48 402.22 167.1 399.79 C168.72 397.36 168.86 398.14 170.5 395.51 C172.14 392.88 172.62 393.34 172.9 390.51 C173.18 387.68 171.78 388.24 171.5 385.51 C171.22 382.78 172.38 383.6 171.9 380.87 C171.42 378.14 170.2 378.5 169.8 375.87 C169.4 373.24 170.73 373.92 170.5 371.59 C170.27 369.26 170.25 370.39 169 367.66 C167.75 364.93 167.2 365.59 166.1 361.95 C165 358.31 165.72 358.55 165.1 354.81 C164.48 351.07 164.58 348.74 163.9 348.74 C163.22 348.74 163.32 351.07 162.7 354.81 C162.08 358.55 162.81 358.31 161.7 361.95 C160.6 365.59 160.05 364.93 158.8 367.66 C157.55 370.39 157.53 369.26 157.3 371.59 C157.07 373.92 158.4 373.24 158 375.87 C157.6 378.5 156.38 378.14 155.9 380.87 C155.42 383.6 156.58 382.78 156.3 385.51 C156.02 388.24 154.62 387.68 154.9 390.51 C155.18 393.34 155.66 392.88 157.3 395.51 C158.94 398.14 159.09 397.36 160.7 399.79 C162.32 402.22 162.09 401.65 163 404.08 C163.91 406.5 163.39 408.36 163.9 408.36Z" fill="none" stroke="#3f57c4" stroke-width="1.1" stroke-linejoin="round"/><path d="M190.8 408.36 C191.14 408.36 190.97 406.91 191.4 404.08 C191.83 401.24 191.45 402.01 192.3 398.36 C193.15 394.72 192.96 395.37 194.4 391.22 C195.84 387.08 195.87 387.87 197.4 383.73 C198.93 379.58 199.8 380.73 199.8 376.59 C199.8 372.44 198.5 372.83 197.4 369.09 C196.3 365.35 196.21 366.61 195.9 363.38 C195.59 360.14 196.73 361 196.3 357.67 C195.88 354.33 195.53 354.93 194.4 351.6 C193.27 348.26 192.98 349.12 192.3 345.88 C191.62 342.65 192.2 343.71 192 340.17 C191.8 336.63 191.94 336.93 191.6 333.39 C191.26 329.85 191.25 327.68 190.8 327.68 C190.35 327.68 190.34 329.85 190 333.39 C189.66 336.93 189.8 336.63 189.6 340.17 C189.4 343.71 189.98 342.65 189.3 345.88 C188.62 349.12 188.33 348.26 187.2 351.6 C186.07 354.93 185.73 354.33 185.3 357.67 C184.88 361 186.01 360.14 185.7 363.38 C185.39 366.61 185.31 365.35 184.2 369.09 C183.1 372.83 181.8 372.44 181.8 376.59 C181.8 380.73 182.67 379.58 184.2 383.73 C185.73 387.87 185.76 387.08 187.2 391.22 C188.65 395.37 188.45 394.72 189.3 398.36 C190.15 402.01 189.78 401.24 190.2 404.08 C190.63 406.91 190.46 408.36 190.8 408.36Z" fill="#f26e70"/><circle cx="192.73" cy="366.87" r="0.8" fill="#fbd0d2" opacity="0.6"/><circle cx="186.16" cy="367.97" r="0.8" fill="#fbd0d2" opacity="0.6"/><circle cx="188.01" cy="351.27" r="0.8" fill="#fbd0d2" opacity="0.6"/><circle cx="189.97" cy="346.75" r="0.8" fill="#fbd0d2" opacity="0.6"/><circle cx="186.29" cy="366.04" r="0.8" fill="#fbd0d2" opacity="0.6"/><circle cx="185.47" cy="385.5" r="0.8" fill="#fbd0d2" opacity="0.6"/><circle cx="192.16" cy="350.61" r="0.8" fill="#fbd0d2" opacity="0.6"/><circle cx="190.93" cy="337.12" r="0.8" fill="#fbd0d2" opacity="0.6"/><circle cx="191.33" cy="347.46" r="0.8" fill="#fbd0d2" opacity="0.6"/><circle cx="194.05" cy="358.06" r="0.8" fill="#fbd0d2" opacity="0.6"/><circle cx="190.76" cy="339.22" r="0.8" fill="#fbd0d2" opacity="0.6"/><circle cx="190.97" cy="360.88" r="0.8" fill="#fbd0d2" opacity="0.6"/><circle cx="186.44" cy="381.61" r="0.8" fill="#fbd0d2" opacity="0.6"/><circle cx="190.98" cy="371.38" r="0.8" fill="#fbd0d2" opacity="0.6"/><circle cx="192.92" cy="361.35" r="0.8" fill="#fbd0d2" opacity="0.6"/><circle cx="195.2" cy="387.19" r="0.8" fill="#fbd0d2" opacity="0.6"/><circle cx="187.96" cy="359.2" r="0.8" fill="#fbd0d2" opacity="0.6"/><circle cx="195.49" cy="357.89" r="0.8" fill="#fbd0d2" opacity="0.6"/><circle cx="192.01" cy="351.08" r="0.8" fill="#fbd0d2" opacity="0.6"/><circle cx="187.22" cy="368.07" r="0.8" fill="#fbd0d2" opacity="0.6"/><circle cx="194.16" cy="375.22" r="0.8" fill="#fbd0d2" opacity="0.6"/><circle cx="195.74" cy="365.35" r="0.8" fill="#fbd0d2" opacity="0.6"/><circle cx="192.16" cy="394.29" r="0.8" fill="#fbd0d2" opacity="0.6"/><circle cx="186.73" cy="355.81" r="0.8" fill="#fbd0d2" opacity="0.6"/><circle cx="184.27" cy="381.38" r="0.8" fill="#fbd0d2" opacity="0.6"/><circle cx="194.03" cy="388.65" r="0.8" fill="#fbd0d2" opacity="0.6"/><circle cx="193.76" cy="356.1" r="0.8" fill="#fbd0d2" opacity="0.6"/><circle cx="190.83" cy="380.4" r="0.8" fill="#fbd0d2" opacity="0.6"/><circle cx="194.17" cy="353.87" r="0.8" fill="#fbd0d2" opacity="0.6"/><circle cx="189.4" cy="362.03" r="0.8" fill="#fbd0d2" opacity="0.6"/><circle cx="190.37" cy="386.27" r="0.8" fill="#fbd0d2" opacity="0.6"/><circle cx="194.56" cy="366.21" r="0.8" fill="#fbd0d2" opacity="0.6"/><circle cx="194.62" cy="373.18" r="0.8" fill="#fbd0d2" opacity="0.6"/><circle cx="187.72" cy="367.52" r="0.8" fill="#fbd0d2" opacity="0.6"/><circle cx="193.64" cy="354.17" r="0.8" fill="#fbd0d2" opacity="0.6"/><circle cx="192.4" cy="375.6" r="0.8" fill="#fbd0d2" opacity="0.6"/><circle cx="198.35" cy="376.52" r="0.8" fill="#fbd0d2" opacity="0.6"/><circle cx="190.82" cy="395.02" r="0.8" fill="#fbd0d2" opacity="0.6"/><circle cx="189.11" cy="364.31" r="0.8" fill="#fbd0d2" opacity="0.6"/><circle cx="188.79" cy="383.82" r="0.8" fill="#fbd0d2" opacity="0.6"/><circle cx="196.35" cy="371.11" r="0.8" fill="#fbd0d2" opacity="0.6"/><circle cx="183.56" cy="380.18" r="0.8" fill="#fbd0d2" opacity="0.6"/><circle cx="188.39" cy="365.27" r="0.8" fill="#fbd0d2" opacity="0.6"/><circle cx="186.81" cy="371.06" r="0.8" fill="#fbd0d2" opacity="0.6"/><circle cx="185.07" cy="381.19" r="0.8" fill="#fbd0d2" opacity="0.6"/><circle cx="195.15" cy="383.87" r="0.8" fill="#fbd0d2" opacity="0.6"/><circle cx="184.58" cy="382.46" r="0.8" fill="#fbd0d2" opacity="0.6"/><circle cx="191.93" cy="389.09" r="0.8" fill="#fbd0d2" opacity="0.6"/><circle cx="194.49" cy="367.3" r="0.8" fill="#fbd0d2" opacity="0.6"/><circle cx="188.53" cy="376.61" r="0.8" fill="#fbd0d2" opacity="0.6"/><circle cx="190.29" cy="400.15" r="0.8" fill="#fbd0d2" opacity="0.6"/><circle cx="189.53" cy="384.96" r="0.8" fill="#fbd0d2" opacity="0.6"/><circle cx="191.17" cy="335.29" r="0.8" fill="#fbd0d2" opacity="0.6"/><circle cx="190.53" cy="388.98" r="0.8" fill="#fbd0d2" opacity="0.6"/><circle cx="184" cy="372.45" r="0.8" fill="#fbd0d2" opacity="0.6"/><circle cx="187.49" cy="360.39" r="0.8" fill="#fbd0d2" opacity="0.6"/><circle cx="193.29" cy="385.63" r="0.8" fill="#fbd0d2" opacity="0.6"/><circle cx="194.31" cy="375.1" r="0.8" fill="#fbd0d2" opacity="0.6"/><circle cx="183.25" cy="376.48" r="0.8" fill="#fbd0d2" opacity="0.6"/><circle cx="191.28" cy="356.09" r="0.8" fill="#fbd0d2" opacity="0.6"/><circle cx="190.37" cy="388.19" r="0.8" fill="#fbd0d2" opacity="0.6"/><circle cx="190.19" cy="393.95" r="0.8" fill="#fbd0d2" opacity="0.6"/><circle cx="197.64" cy="372.84" r="0.8" fill="#fbd0d2" opacity="0.6"/><circle cx="184.54" cy="376.24" r="0.8" fill="#fbd0d2" opacity="0.6"/><circle cx="184.65" cy="379.33" r="0.8" fill="#fbd0d2" opacity="0.6"/><circle cx="192.07" cy="377.18" r="0.8" fill="#fbd0d2" opacity="0.6"/><circle cx="185.35" cy="372.53" r="0.8" fill="#fbd0d2" opacity="0.6"/><circle cx="190.49" cy="372.32" r="0.8" fill="#fbd0d2" opacity="0.6"/><circle cx="198.54" cy="375.93" r="0.8" fill="#fbd0d2" opacity="0.6"/><circle cx="194.64" cy="375.86" r="0.8" fill="#fbd0d2" opacity="0.6"/><circle cx="194.22" cy="352.38" r="0.8" fill="#fbd0d2" opacity="0.6"/><circle cx="183.13" cy="378.56" r="0.8" fill="#fbd0d2" opacity="0.6"/><circle cx="187.52" cy="377.16" r="0.8" fill="#fbd0d2" opacity="0.6"/><circle cx="193.31" cy="386.93" r="0.8" fill="#fbd0d2" opacity="0.6"/><circle cx="189.25" cy="370.42" r="0.8" fill="#fbd0d2" opacity="0.6"/><circle cx="192.64" cy="352.59" r="0.8" fill="#fbd0d2" opacity="0.6"/><circle cx="190.34" cy="373.39" r="0.8" fill="#fbd0d2" opacity="0.6"/><circle cx="191.37" cy="349.7" r="0.8" fill="#fbd0d2" opacity="0.6"/><circle cx="186.24" cy="386.61" r="0.8" fill="#fbd0d2" opacity="0.6"/><circle cx="185.31" cy="376.87" r="0.8" fill="#fbd0d2" opacity="0.6"/><circle cx="195.34" cy="366.93" r="0.8" fill="#fbd0d2" opacity="0.6"/><circle cx="191.31" cy="375.95" r="0.8" fill="#fbd0d2" opacity="0.6"/><circle cx="192.91" cy="357.81" r="0.8" fill="#fbd0d2" opacity="0.6"/><circle cx="191.41" cy="372.9" r="0.8" fill="#fbd0d2" opacity="0.6"/><circle cx="188.27" cy="363.5" r="0.8" fill="#fbd0d2" opacity="0.6"/><circle cx="188.09" cy="359.13" r="0.8" fill="#fbd0d2" opacity="0.6"/><circle cx="197.81" cy="378.65" r="0.8" fill="#fbd0d2" opacity="0.6"/><circle cx="189.3" cy="366.49" r="0.8" fill="#fbd0d2" opacity="0.6"/><circle cx="184.24" cy="378.28" r="0.8" fill="#fbd0d2" opacity="0.6"/><circle cx="190.95" cy="336.83" r="0.8" fill="#fbd0d2" opacity="0.6"/><circle cx="186.51" cy="386.31" r="0.8" fill="#fbd0d2" opacity="0.6"/><circle cx="189.83" cy="350.78" r="0.8" fill="#fbd0d2" opacity="0.6"/><circle cx="190.79" cy="333.04" r="0.8" fill="#fbd0d2" opacity="0.6"/><circle cx="191.76" cy="378.92" r="0.8" fill="#fbd0d2" opacity="0.6"/><circle cx="194.99" cy="383.05" r="0.8" fill="#fbd0d2" opacity="0.6"/><circle cx="196.31" cy="370.22" r="0.8" fill="#fbd0d2" opacity="0.6"/><circle cx="191.55" cy="344.4" r="0.8" fill="#fbd0d2" opacity="0.6"/><circle cx="190.91" cy="383.41" r="0.8" fill="#fbd0d2" opacity="0.6"/><circle cx="191.04" cy="357.65" r="0.8" fill="#fbd0d2" opacity="0.6"/><circle cx="193.19" cy="354.58" r="0.8" fill="#fbd0d2" opacity="0.6"/><circle cx="187.29" cy="366.89" r="0.8" fill="#fbd0d2" opacity="0.6"/><circle cx="188.94" cy="352.67" r="0.8" fill="#fbd0d2" opacity="0.6"/><circle cx="191.19" cy="334.25" r="0.8" fill="#fbd0d2" opacity="0.6"/><circle cx="187.94" cy="369.08" r="0.8" fill="#fbd0d2" opacity="0.6"/><circle cx="187.64" cy="380.97" r="0.8" fill="#fbd0d2" opacity="0.6"/><circle cx="191.16" cy="397.41" r="0.8" fill="#fbd0d2" opacity="0.6"/><circle cx="192.35" cy="364.67" r="0.8" fill="#fbd0d2" opacity="0.6"/><circle cx="189.86" cy="354.44" r="0.8" fill="#fbd0d2" opacity="0.6"/><circle cx="196.08" cy="381.11" r="0.8" fill="#fbd0d2" opacity="0.6"/><circle cx="187.37" cy="384.78" r="0.8" fill="#fbd0d2" opacity="0.6"/><circle cx="194.44" cy="383.62" r="0.8" fill="#fbd0d2" opacity="0.6"/><circle cx="190.83" cy="346.02" r="0.8" fill="#fbd0d2" opacity="0.6"/><circle cx="188.16" cy="352.32" r="0.8" fill="#fbd0d2" opacity="0.6"/><circle cx="190.5" cy="378.38" r="0.8" fill="#fbd0d2" opacity="0.6"/><circle cx="190.46" cy="357.65" r="0.8" fill="#fbd0d2" opacity="0.6"/><circle cx="196.18" cy="376.5" r="0.8" fill="#fbd0d2" opacity="0.6"/><circle cx="184.14" cy="374.6" r="0.8" fill="#fbd0d2" opacity="0.6"/><circle cx="196.69" cy="382.63" r="0.8" fill="#fbd0d2" opacity="0.6"/><circle cx="191.92" cy="369.85" r="0.8" fill="#fbd0d2" opacity="0.6"/><circle cx="195.16" cy="383.52" r="0.8" fill="#fbd0d2" opacity="0.6"/><circle cx="185.38" cy="374.35" r="0.8" fill="#fbd0d2" opacity="0.6"/><circle cx="190.35" cy="385.21" r="0.8" fill="#fbd0d2" opacity="0.6"/><circle cx="189.61" cy="347.65" r="0.8" fill="#fbd0d2" opacity="0.6"/><circle cx="196.3" cy="381.98" r="0.8" fill="#fbd0d2" opacity="0.6"/><circle cx="188.83" cy="370.56" r="0.8" fill="#fbd0d2" opacity="0.6"/><circle cx="191.27" cy="376.87" r="0.8" fill="#fbd0d2" opacity="0.6"/><circle cx="186.67" cy="358.45" r="0.8" fill="#fbd0d2" opacity="0.6"/><circle cx="193.91" cy="374.43" r="0.8" fill="#fbd0d2" opacity="0.6"/><circle cx="188.24" cy="390.67" r="0.8" fill="#fbd0d2" opacity="0.6"/><circle cx="190.79" cy="368.14" r="0.8" fill="#fbd0d2" opacity="0.6"/><circle cx="195.38" cy="371.88" r="0.8" fill="#fbd0d2" opacity="0.6"/><circle cx="184.89" cy="382.33" r="0.8" fill="#fbd0d2" opacity="0.6"/><circle cx="191.47" cy="348.63" r="0.8" fill="#fbd0d2" opacity="0.6"/><circle cx="193.78" cy="372.31" r="0.8" fill="#fbd0d2" opacity="0.6"/><circle cx="192.85" cy="373.99" r="0.8" fill="#fbd0d2" opacity="0.6"/><circle cx="191.01" cy="369.33" r="0.8" fill="#fbd0d2" opacity="0.6"/><circle cx="186.4" cy="356.34" r="0.8" fill="#fbd0d2" opacity="0.6"/><circle cx="183.75" cy="374.38" r="0.8" fill="#fbd0d2" opacity="0.6"/><circle cx="190.78" cy="333.75" r="0.8" fill="#fbd0d2" opacity="0.6"/><circle cx="198.51" cy="374.66" r="0.8" fill="#fbd0d2" opacity="0.6"/><circle cx="188.03" cy="379.73" r="0.8" fill="#fbd0d2" opacity="0.6"/><circle cx="193.78" cy="382.98" r="0.8" fill="#fbd0d2" opacity="0.6"/><circle cx="185.92" cy="370.96" r="0.8" fill="#fbd0d2" opacity="0.6"/><circle cx="189.61" cy="383.81" r="0.8" fill="#fbd0d2" opacity="0.6"/><circle cx="189.12" cy="369.63" r="0.8" fill="#fbd0d2" opacity="0.6"/><circle cx="192.2" cy="388.3" r="0.8" fill="#fbd0d2" opacity="0.6"/><circle cx="192.22" cy="371.14" r="0.8" fill="#fbd0d2" opacity="0.6"/><circle cx="189.29" cy="379.69" r="0.8" fill="#fbd0d2" opacity="0.6"/><circle cx="192.31" cy="352.7" r="0.8" fill="#fbd0d2" opacity="0.6"/><circle cx="192.8" cy="373.86" r="0.8" fill="#fbd0d2" opacity="0.6"/><path d="M190.8 408.36 C191.14 408.36 190.97 406.91 191.4 404.08 C191.83 401.24 191.45 402.01 192.3 398.36 C193.15 394.72 192.96 395.37 194.4 391.22 C195.84 387.08 195.87 387.87 197.4 383.73 C198.93 379.58 199.8 380.73 199.8 376.59 C199.8 372.44 198.5 372.83 197.4 369.09 C196.3 365.35 196.21 366.61 195.9 363.38 C195.59 360.14 196.73 361 196.3 357.67 C195.88 354.33 195.53 354.93 194.4 351.6 C193.27 348.26 192.98 349.12 192.3 345.88 C191.62 342.65 192.2 343.71 192 340.17 C191.8 336.63 191.94 336.93 191.6 333.39 C191.26 329.85 191.25 327.68 190.8 327.68 C190.35 327.68 190.34 329.85 190 333.39 C189.66 336.93 189.8 336.63 189.6 340.17 C189.4 343.71 189.98 342.65 189.3 345.88 C188.62 349.12 188.33 348.26 187.2 351.6 C186.07 354.93 185.73 354.33 185.3 357.67 C184.88 361 186.01 360.14 185.7 363.38 C185.39 366.61 185.31 365.35 184.2 369.09 C183.1 372.83 181.8 372.44 181.8 376.59 C181.8 380.73 182.67 379.58 184.2 383.73 C185.73 387.87 185.76 387.08 187.2 391.22 C188.65 395.37 188.45 394.72 189.3 398.36 C190.15 402.01 189.78 401.24 190.2 404.08 C190.63 406.91 190.46 408.36 190.8 408.36Z" fill="none" stroke="#e9342a" stroke-width="1.1" stroke-linejoin="round"/><line x1="119.5" y1="307.9" x2="119.5" y2="416" stroke="#000" stroke-width="1"/><line x1="119" y1="415.5" x2="208.3" y2="415.5" stroke="#000" stroke-width="1"/><line x1="115.6" y1="415.5" x2="119.5" y2="415.5" stroke="#000" stroke-width="1"/><text x="114.3" y="418.2" font-size="7.6" text-anchor="end" font-weight="bold" stroke="#000" stroke-width="0.14">0</text><line x1="115.6" y1="379.8" x2="119.5" y2="379.8" stroke="#000" stroke-width="1"/><text x="114.3" y="382.5" font-size="7.6" text-anchor="end" font-weight="bold" stroke="#000" stroke-width="0.14">100</text><line x1="115.6" y1="344.1" x2="119.5" y2="344.1" stroke="#000" stroke-width="1"/><text x="114.3" y="346.8" font-size="7.6" text-anchor="end" font-weight="bold" stroke="#000" stroke-width="0.14">200</text><line x1="115.6" y1="308.4" x2="119.5" y2="308.4" stroke="#000" stroke-width="1"/><text x="114.3" y="311.1" font-size="7.6" text-anchor="end" font-weight="bold" stroke="#000" stroke-width="0.14">300</text><line x1="136.9" y1="415.5" x2="136.9" y2="419.8" stroke="#000" stroke-width="1"/><text x="136.9" y="426.8" font-size="7.25" text-anchor="middle" font-weight="bold" stroke="#000" stroke-width="0.14">1X</text><text x="136.9" y="435.7" font-size="7.25" text-anchor="middle" font-weight="bold" stroke="#000" stroke-width="0.14">100 nM</text><line x1="163.9" y1="415.5" x2="163.9" y2="419.8" stroke="#000" stroke-width="1"/><text x="163.9" y="426.8" font-size="7.25" text-anchor="middle" font-weight="bold" stroke="#000" stroke-width="0.14">4X</text><text x="163.9" y="435.7" font-size="7.25" text-anchor="middle" font-weight="bold" stroke="#000" stroke-width="0.14">100 nM</text><line x1="190.8" y1="415.5" x2="190.8" y2="419.8" stroke="#000" stroke-width="1"/><text x="190.8" y="426.8" font-size="7.25" text-anchor="middle" font-weight="bold" stroke="#000" stroke-width="0.14">4X</text><text x="190.8" y="435.7" font-size="7.25" text-anchor="middle" font-weight="bold" stroke="#000" stroke-width="0.14">500 nM</text><text x="98.2" y="363.6" font-size="8.6" text-anchor="middle" transform="rotate(-90 98.2 363.6)" stroke="#000" stroke-width="0.4">Fluo.Int.</text><path d="M136.9 316.2 V312.4 H190.8 V316.2" fill="none" stroke="#000" stroke-width="0.8"/><path d="M136.9 330.3 V326.3 H163.9 V330.3" fill="none" stroke="#000" stroke-width="0.8"/><text x="164" y="312.6" font-size="11.5" text-anchor="middle" stroke="#000" stroke-width="0.2">****</text><text x="150.3" y="325.9" font-size="11.5" text-anchor="middle" stroke="#000" stroke-width="0.2">****</text><text x="191.6" y="325" font-size="6.6" text-anchor="middle" font-weight="bold" stroke="#000" stroke-width="0.14">2.9 X</text><text x="164.9" y="343.6" font-size="6.6" text-anchor="middle" font-weight="bold" stroke="#000" stroke-width="0.14">2.2 X</text>
</g>
<g id="panel-i">
<text x="205.4" y="304.3" font-size="13.7" font-weight="bold" stroke="#000" stroke-width="0.14">i</text><line x1="238.2" y1="387" x2="477" y2="387" stroke="#8e8e8e" stroke-width="1" stroke-dasharray="1 1.25"/><line x1="238.2" y1="359.5" x2="477" y2="359.5" stroke="#8e8e8e" stroke-width="1" stroke-dasharray="1 1.25"/><line x1="238.2" y1="332" x2="477" y2="332" stroke="#8e8e8e" stroke-width="1" stroke-dasharray="1 1.25"/><path d="M237.7 391.5 237.9 388.7 238.1 386.9 238.2 388.5 238.4 387.9 238.6 390.7 238.8 388.4 239.0 388.6 239.2 386.2 239.3 387.5 239.5 387.8 239.7 389.0 239.9 393.1 240.1 395.5 240.3 397.0 240.4 405.3 240.6 409.8 240.8 406.1 241.0 407.2 241.2 408.3 241.4 408.6 241.5 409.4 241.7 409.3 241.9 410.2 242.1 408.3 242.3 409.1 242.5 411.0 242.6 409.5 242.8 409.5 243.0 409.6 243.2 406.8 243.4 407.7 243.6 412.3 243.7 408.3 243.9 407.7 244.1 407.4 244.3 407.9 244.5 411.0 244.7 407.8 244.8 408.7 245.0 407.2 245.2 408.3 245.4 410.4 245.6 406.7 245.8 410.0 245.9 407.5 246.1 408.3 246.3 409.3 246.5 411.2 246.7 409.6 246.8 409.7 247.0 408.9 247.2 408.9 247.4 406.9 247.6 408.2 247.8 407.4 247.9 409.9 248.1 409.1 248.3 407.6 248.5 407.6 248.7 407.9 248.9 409.1 249.0 409.8 249.2 406.7 249.4 409.4 249.6 409.1 249.8 407.0 250.0 408.6 250.1 409.4 250.3 407.8 250.5 409.0 250.7 407.3 250.9 408.9 251.1 409.7 251.2 406.1 251.4 407.4 251.6 408.6 251.8 408.9 252.0 410.3 252.2 409.5 252.3 410.2 252.5 407.9 252.7 407.5 252.9 409.2 253.1 409.4 253.3 408.5 253.4 408.9 253.6 408.3 253.8 408.4 254.0 408.5 254.2 408.3 254.4 410.0 254.5 408.2 254.7 411.2 254.9 408.9 255.1 409.3 255.3 408.6 255.5 409.2 255.6 408.8 255.8 411.0 256.0 409.6 256.2 409.9 256.4 408.7 256.5 408.9 256.7 409.6 256.9 409.7 257.1 409.9 257.3 409.3 257.5 408.7 257.6 408.4 257.8 409.3 258.0 410.3 258.2 410.1 258.4 408.4 258.6 410.4 258.7 409.6 258.9 411.7 259.1 408.3 259.3 409.2 259.5 410.0 259.7 409.5 259.8 408.6 260.0 409.4 260.2 409.1 260.4 409.3 260.6 410.6 260.8 411.2 260.9 408.3 261.1 410.0 261.3 408.1 261.5 408.2 261.7 410.0 261.9 410.3 262.0 410.2 262.2 408.0 262.4 409.8 262.6 410.2 262.8 409.0 263.0 411.1 263.1 410.8 263.3 410.9 263.5 410.4 263.7 411.8 263.9 411.2 264.1 410.4 264.2 411.8 264.4 411.9 264.6 410.4 264.8 412.0 265.0 411.2 265.1 410.3 265.3 411.0 265.5 409.4 265.7 411.2 265.9 412.5 266.1 410.8 266.2 410.9 266.4 410.4 266.6 412.4 266.8 411.2 267.0 410.1 267.2 410.9 267.3 410.0 267.5 411.7 267.7 410.7 267.9 411.1 268.1 409.6 268.3 412.0 268.4 410.0 268.6 410.9 268.8 411.0 269.0 411.7 269.2 412.1 269.4 412.5 269.5 410.8 269.7 412.0 269.9 410.0 270.1 410.7 270.3 410.6 270.5 410.0 270.6 411.2 270.8 410.2 271.0 412.7 271.2 411.5 271.4 410.2 271.6 411.2 271.7 409.6 271.9 411.0 272.1 411.9 272.3 409.8 272.5 410.9 272.7 411.3 272.8 411.2 273.0 411.8 273.2 411.4 273.4 410.3 273.6 411.7 273.8 411.2 273.9 411.8 274.1 411.0 274.3 410.6 274.5 410.6 274.7 411.4 274.8 411.8 275.0 410.8 275.2 410.3 275.4 410.5 275.6 408.5 275.8 410.9 275.9 411.6 276.1 411.3 276.3 410.1 276.5 411.9 276.7 411.2 276.9 412.6 277.0 411.3 277.2 410.4 277.4 410.1 277.6 410.5 277.8 410.1 278.0 411.7 278.1 409.6 278.3 409.4 278.5 412.6 278.7 412.1 278.9 410.4 279.1 410.4 279.2 409.8 279.4 410.9 279.6 412.0 279.8 411.7 280.0 409.7 280.2 411.1 280.3 412.7 280.5 411.2 280.7 410.4 280.9 411.1 281.1 410.5 281.3 410.6 281.4 411.0 281.6 412.0 281.8 411.0 282.0 410.4 282.2 411.6 282.4 410.1 282.5 409.3 282.7 410.3 282.9 410.7 283.1 411.0 283.3 411.8 283.4 409.6 283.6 411.4 283.8 411.7 284.0 409.4 284.2 410.1 284.4 411.6 284.5 410.8 284.7 410.7 284.9 410.3 285.1 412.8 285.3 411.9 285.5 412.3 285.6 410.9 285.8 411.7 286.0 410.7 286.2 409.3 286.4 410.6 286.6 411.9 286.7 411.1 286.9 410.7 287.1 412.7 287.3 410.0 287.5 410.8 287.7 406.9 287.8 403.1 288.0 400.5 288.2 396.5 288.4 395.4 288.6 395.3 288.8 393.8 288.9 394.0 289.1 392.7 289.3 391.2 289.5 396.3 289.7 394.1 289.9 395.2 290.0 393.8 290.2 392.8 290.4 391.7 290.6 396.8 290.8 394.1 291.0 392.2 291.1 395.6 291.3 393.3 291.5 393.7 291.7 392.2 291.9 393.8 292.1 401.5 292.2 403.1 292.4 404.7 292.6 407.4 292.8 409.6 293.0 409.4 293.1 412.2 293.3 410.9 293.5 410.1 293.7 412.9 293.9 410.9 294.1 411.3 294.2 411.7 294.4 408.9 294.6 411.7 294.8 410.4 295.0 411.9 295.2 412.0 295.3 410.9 295.5 410.0 295.7 411.2 295.9 410.5 296.1 411.2 296.3 410.0 296.4 410.9 296.6 410.8 296.8 410.4 297.0 410.6 297.2 411.0 297.4 411.4 297.5 410.9 297.7 411.4 297.9 409.8 298.1 411.1 298.3 410.2 298.5 411.6 298.6 410.5 298.8 412.6 299.0 411.7 299.2 409.9 299.4 410.8 299.6 413.2 299.7 411.5 299.9 411.3 300.1 411.8 300.3 412.6 300.5 412.4 300.7 409.5 300.8 411.6 301.0 410.3 301.2 410.5 301.4 411.9 301.6 410.9 301.8 411.0 301.9 412.2 302.1 410.9 302.3 411.1 302.5 410.9 302.7 411.5 302.8 411.6 303.0 411.1 303.2 412.0 303.4 410.2 303.6 410.8 303.8 411.1 303.9 411.4 304.1 410.8 304.3 411.1 304.5 411.6 304.7 410.5 304.9 409.4 305.0 409.1 305.2 410.5 305.4 411.4 305.6 407.9 305.8 410.7 306.0 410.8 306.1 411.9 306.3 410.9 306.5 411.6 306.7 411.7 306.9 411.1 307.1 410.9 307.2 411.0 307.4 411.0 307.6 413.0 307.8 410.6 308.0 411.9 308.2 411.3 308.3 412.6 308.5 410.6 308.7 410.8 308.9 411.4 309.1 411.6 309.3 411.7 309.4 409.7 309.6 411.7 309.8 412.3 310.0 411.8 310.2 411.0 310.4 411.4 310.5 411.2 310.7 410.8 310.9 409.8" fill="none" stroke="#f0842c" stroke-width="1.5" stroke-linejoin="round"/><line x1="237.2" y1="414.5" x2="311.4" y2="414.5" stroke="#000" stroke-width="1"/><line x1="237.7" y1="414.5" x2="237.7" y2="418.8" stroke="#000" stroke-width="1"/><text x="237.7" y="427.9" font-size="8" text-anchor="middle" font-weight="bold" stroke="#000" stroke-width="0.14">0</text><line x1="256" y1="414.5" x2="256" y2="418.8" stroke="#000" stroke-width="1"/><text x="256" y="427.9" font-size="8" text-anchor="middle" font-weight="bold" stroke="#000" stroke-width="0.14">100</text><line x1="274.3" y1="414.5" x2="274.3" y2="418.8" stroke="#000" stroke-width="1"/><text x="274.3" y="427.9" font-size="8" text-anchor="middle" font-weight="bold" stroke="#000" stroke-width="0.14">200</text><line x1="292.6" y1="414.5" x2="292.6" y2="418.8" stroke="#000" stroke-width="1"/><text x="292.6" y="427.9" font-size="8" text-anchor="middle" font-weight="bold" stroke="#000" stroke-width="0.14">300</text><line x1="310.9" y1="414.5" x2="310.9" y2="418.8" stroke="#000" stroke-width="1"/><text x="310.9" y="427.9" font-size="8" text-anchor="middle" font-weight="bold" stroke="#000" stroke-width="0.14">400</text><path d="M319.3 341.9 319.5 345.6 319.7 343.6 319.8 342.2 320.0 343.3 320.2 345.9 320.4 369.6 320.6 394.4 320.8 382.4 320.9 374.0 321.1 372.3 321.3 371.9 321.5 374.4 321.7 372.1 321.9 369.3 322.0 373.8 322.2 371.9 322.4 373.4 322.6 378.5 322.8 371.2 322.9 376.8 323.1 387.2 323.3 390.7 323.5 400.4 323.7 403.3 323.9 406.9 324.0 408.6 324.2 410.7 324.4 409.6 324.6 410.3 324.8 412.8 324.9 410.8 325.1 410.4 325.3 410.6 325.5 411.0 325.7 411.2 325.9 408.9 326.0 410.4 326.2 412.3 326.4 409.4 326.6 410.6 326.8 410.8 327.0 411.1 327.1 414.2 327.3 414.2 327.5 411.9 327.7 409.4 327.9 410.3 328.0 413.0 328.2 409.9 328.4 408.9 328.6 412.8 328.8 412.1 329.0 397.7 329.1 381.6 329.3 383.0 329.5 379.4 329.7 392.8 329.9 408.7 330.1 408.0 330.2 407.9 330.4 409.9 330.6 412.4 330.8 409.3 331.0 409.5 331.1 411.1 331.3 408.4 331.5 410.7 331.7 409.2 331.9 409.3 332.1 408.0 332.2 412.8 332.4 412.4 332.6 411.1 332.8 409.1 333.0 408.5 333.2 411.1 333.3 410.9 333.5 408.6 333.7 411.4 333.9 410.8 334.1 409.8 334.2 394.6 334.4 380.5 334.6 378.6 334.8 380.4 335.0 396.8 335.2 412.7 335.3 409.9 335.5 408.0 335.7 410.3 335.9 410.6 336.1 409.7 336.2 411.5 336.4 410.7 336.6 409.9 336.8 410.5 337.0 409.4 337.2 410.4 337.3 411.1 337.5 409.9 337.7 409.6 337.9 408.4 338.1 412.5 338.3 411.7 338.4 407.8 338.6 410.7 338.8 408.6 339.0 410.5 339.2 411.8 339.3 412.2 339.5 411.9 339.7 409.6 339.9 399.6 340.1 384.9 340.3 382.0 340.4 382.2 340.6 383.7 340.8 383.2 341.0 383.5 341.2 382.0 341.4 375.2 341.5 378.6 341.7 378.3 341.9 376.5 342.1 388.6 342.3 404.1 342.4 403.7 342.6 411.8 342.8 409.2 343.0 407.6 343.2 413.2 343.4 408.9 343.5 412.1 343.7 406.1 343.9 398.9 344.1 393.8 344.3 388.3 344.5 388.2 344.6 384.2 344.8 388.1 345.0 390.4 345.2 386.8 345.4 386.8 345.5 390.6 345.7 384.5 345.9 386.0 346.1 382.9 346.3 383.7 346.5 383.5 346.6 385.8 346.8 384.4 347.0 389.2 347.2 393.5 347.4 390.6 347.5 382.9 347.7 387.3 347.9 385.6 348.1 379.9 348.3 385.2 348.5 384.5 348.6 380.3 348.8 379.9 349.0 377.7 349.2 389.8 349.4 387.4 349.6 386.4 349.7 387.8 349.9 379.5 350.1 379.7 350.3 389.3 350.5 380.9 350.6 378.4 350.8 378.2 351.0 380.2 351.2 386.7 351.4 381.4 351.6 385.2 351.7 382.7 351.9 380.1 352.1 379.7 352.3 381.4 352.5 384.6 352.7 375.5 352.8 383.3 353.0 382.1 353.2 378.0 353.4 381.6 353.6 382.1 353.7 381.2 353.9 385.1 354.1 381.8 354.3 381.9 354.5 382.2 354.7 388.9 354.8 395.3 355.0 396.1 355.2 405.5 355.4 409.1 355.6 411.2 355.8 409.8 355.9 411.4 356.1 410.1 356.3 411.0 356.5 409.5 356.7 411.0 356.8 413.6 357.0 413.7 357.2 409.0 357.4 412.6 357.6 408.9 357.8 410.2 357.9 413.2 358.1 409.5 358.3 408.3 358.5 402.7 358.7 406.8 358.8 410.3 359.0 411.1 359.2 411.5 359.4 411.2 359.6 411.2 359.8 409.1 359.9 412.5 360.1 409.5 360.3 411.2 360.5 412.8 360.7 410.1 360.9 410.0 361.0 410.0 361.2 411.6 361.4 409.1 361.6 409.8 361.8 411.7 361.9 410.4 362.1 414.1 362.3 411.3 362.5 411.9 362.7 411.4 362.9 409.6 363.0 411.0 363.2 411.4 363.4 407.5 363.6 408.2 363.8 413.6 364.0 410.1 364.1 411.6 364.3 412.2 364.5 412.4 364.7 412.7 364.9 411.4 365.0 410.9 365.2 410.3 365.4 409.1 365.6 410.3 365.8 409.7 366.0 408.7 366.1 411.8 366.3 412.0 366.5 410.6 366.7 411.4 366.9 410.3 367.0 408.7 367.2 413.1 367.4 408.9 367.6 411.1 367.8 411.1 368.0 407.4 368.1 412.8 368.3 413.1 368.5 410.4 368.7 411.3 368.9 411.6 369.1 411.0 369.2 412.7 369.4 411.1 369.6 411.2 369.8 411.8 370.0 410.6 370.1 410.8 370.3 411.2 370.5 409.9 370.7 410.9 370.9 410.7 371.1 411.9 371.2 412.1 371.4 413.3 371.6 412.2 371.8 411.8 372.0 411.1 372.2 411.8 372.3 411.4 372.5 408.3 372.7 410.8 372.9 410.0 373.1 409.9 373.2 409.8 373.4 410.4 373.6 411.4 373.8 414.0 374.0 411.3 374.2 409.7 374.3 410.2 374.5 411.6 374.7 409.4 374.9 408.0 375.1 412.2 375.3 411.5 375.4 410.3 375.6 414.2 375.8 411.3 376.0 411.0 376.2 410.0 376.3 413.5 376.5 408.9 376.7 411.3 376.9 410.2 377.1 412.5 377.3 410.1 377.4 410.7 377.6 408.7 377.8 410.5 378.0 409.5 378.2 412.8 378.3 408.8 378.5 409.5 378.7 411.3 378.9 412.2 379.1 410.2 379.3 411.6 379.4 411.6 379.6 410.0 379.8 410.8 380.0 412.2 380.2 411.6 380.4 410.2 380.5 409.6 380.7 407.9 380.9 411.9 381.1 411.0 381.3 410.2 381.4 409.7 381.6 408.5 381.8 402.3 382.0 404.2 382.2 408.7 382.4 405.9 382.5 410.1 382.7 411.4 382.9 410.3 383.1 411.3 383.3 411.1 383.5 407.8 383.6 413.0 383.8 408.2 384.0 412.8 384.2 412.0 384.4 409.1 384.5 412.1 384.7 411.7 384.9 409.8 385.1 411.7 385.3 410.2 385.5 412.0 385.6 409.1 385.8 411.5 386.0 410.9 386.2 410.3 386.4 412.9 386.6 409.5 386.7 412.0 386.9 412.4 387.1 409.0 387.3 411.6 387.5 412.8 387.6 412.1 387.8 411.9 388.0 411.1 388.2 410.7 388.4 412.6 388.6 410.4 388.7 409.6 388.9 408.2 389.1 410.0 389.3 411.7 389.5 410.7 389.6 410.6 389.8 412.6 390.0 412.8 390.2 413.2 390.4 410.0 390.6 411.0 390.7 409.8 390.9 411.0 391.1 410.8 391.3 408.2 391.5 410.9 391.7 410.7 391.8 410.6 392.0 411.8 392.2 412.0" fill="none" stroke="#3f55bc" stroke-width="1.5" stroke-linejoin="round"/><line x1="318.8" y1="414.5" x2="392.7" y2="414.5" stroke="#000" stroke-width="1"/><line x1="319.3" y1="414.5" x2="319.3" y2="418.8" stroke="#000" stroke-width="1"/><text x="319.3" y="427.9" font-size="8" text-anchor="middle" font-weight="bold" stroke="#000" stroke-width="0.14">0</text><line x1="337.52" y1="414.5" x2="337.52" y2="418.8" stroke="#000" stroke-width="1"/><text x="337.52" y="427.9" font-size="8" text-anchor="middle" font-weight="bold" stroke="#000" stroke-width="0.14">100</text><line x1="355.75" y1="414.5" x2="355.75" y2="418.8" stroke="#000" stroke-width="1"/><text x="355.75" y="427.9" font-size="8" text-anchor="middle" font-weight="bold" stroke="#000" stroke-width="0.14">200</text><line x1="373.98" y1="414.5" x2="373.98" y2="418.8" stroke="#000" stroke-width="1"/><text x="373.98" y="427.9" font-size="8" text-anchor="middle" font-weight="bold" stroke="#000" stroke-width="0.14">300</text><line x1="392.2" y1="414.5" x2="392.2" y2="418.8" stroke="#000" stroke-width="1"/><text x="392.2" y="427.9" font-size="8" text-anchor="middle" font-weight="bold" stroke="#000" stroke-width="0.14">400</text><path d="M401.9 311.9 402.1 309.4 402.3 305.1 402.4 304.3 402.6 312.9 402.8 323.4 403.0 329.8 403.2 337.9 403.4 351.2 403.5 364.2 403.7 364.0 403.9 368.8 404.1 368.8 404.3 369.5 404.5 375.3 404.6 373.9 404.8 380.1 405.0 387.1 405.2 384.9 405.4 387.4 405.5 388.3 405.7 391.8 405.9 389.8 406.1 391.4 406.3 392.7 406.5 397.6 406.6 401.4 406.8 403.7 407.0 402.4 407.2 403.6 407.4 405.6 407.6 407.4 407.7 406.1 407.9 406.0 408.1 405.2 408.3 408.1 408.5 410.0 408.7 410.7 408.8 412.8 409.0 409.7 409.2 409.8 409.4 413.3 409.6 410.9 409.7 410.7 409.9 410.7 410.1 411.8 410.3 412.5 410.5 408.4 410.7 402.0 410.8 398.1 411.0 404.1 411.2 406.6 411.4 413.2 411.6 410.7 411.8 412.2 411.9 409.1 412.1 411.3 412.3 409.3 412.5 396.9 412.7 391.7 412.8 378.3 413.0 378.1 413.2 374.5 413.4 367.8 413.6 364.9 413.8 361.2 413.9 365.3 414.1 369.7 414.3 363.4 414.5 365.4 414.7 368.6 414.9 367.4 415.0 364.8 415.2 369.2 415.4 361.8 415.6 362.9 415.8 370.4 416.0 367.8 416.1 365.1 416.3 366.6 416.5 366.4 416.7 371.8 416.9 376.7 417.0 368.6 417.2 378.9 417.4 381.6 417.6 371.6 417.8 379.9 418.0 378.1 418.1 381.0 418.3 379.3 418.5 380.8 418.7 378.4 418.9 369.8 419.1 376.2 419.2 372.7 419.4 376.8 419.6 374.2 419.8 374.8 420.0 376.8 420.1 373.0 420.3 376.9 420.5 377.6 420.7 378.7 420.9 377.2 421.1 371.5 421.2 371.6 421.4 378.0 421.6 374.8 421.8 371.4 422.0 380.3 422.2 384.8 422.3 381.8 422.5 371.3 422.7 386.2 422.9 373.4 423.1 378.6 423.3 376.9 423.4 377.6 423.6 383.6 423.8 374.0 424.0 373.3 424.2 383.7 424.3 374.9 424.5 373.8 424.7 377.4 424.9 371.5 425.1 364.8 425.3 354.3 425.4 346.2 425.6 348.9 425.8 335.2 426.0 336.6 426.2 329.4 426.4 336.1 426.5 339.7 426.7 337.2 426.9 336.0 427.1 335.7 427.3 341.6 427.4 346.1 427.6 358.6 427.8 366.2 428.0 375.1 428.2 371.3 428.4 370.2 428.5 372.4 428.7 369.8 428.9 374.9 429.1 372.0 429.3 376.3 429.5 367.1 429.6 369.0 429.8 378.9 430.0 373.4 430.2 370.5 430.4 375.3 430.6 376.2 430.7 379.0 430.9 370.8 431.1 372.8 431.3 374.9 431.5 378.1 431.6 373.9 431.8 380.0 432.0 370.5 432.2 366.6 432.4 372.1 432.6 370.8 432.7 375.0 432.9 371.7 433.1 372.8 433.3 363.3 433.5 355.8 433.7 356.1 433.8 351.0 434.0 360.8 434.2 354.4 434.4 359.4 434.6 366.6 434.8 375.2 434.9 369.5 435.1 375.9 435.3 369.0 435.5 377.4 435.7 383.8 435.8 373.2 436.0 370.8 436.2 370.4 436.4 377.1 436.6 372.8 436.8 373.1 436.9 375.5 437.1 374.9 437.3 370.5 437.5 372.1 437.7 374.7 437.9 369.9 438.0 378.6 438.2 373.0 438.4 369.2 438.6 366.7 438.8 368.0 438.9 370.3 439.1 376.5 439.3 366.9 439.5 367.7 439.7 362.0 439.9 365.1 440.0 351.1 440.2 352.0 440.4 347.7 440.6 346.8 440.8 340.5 441.0 349.0 441.1 350.5 441.3 354.6 441.5 365.5 441.7 366.9 441.9 378.5 442.0 377.2 442.2 383.3 442.4 379.3 442.6 386.9 442.8 381.8 443.0 385.4 443.1 389.1 443.3 386.4 443.5 383.6 443.7 385.5 443.9 385.1 444.1 382.6 444.2 385.9 444.4 381.0 444.6 384.4 444.8 390.1 445.0 388.1 445.2 385.8 445.3 388.4 445.5 381.4 445.7 381.9 445.9 375.0 446.1 375.1 446.2 380.8 446.4 387.3 446.6 380.6 446.8 390.1 447.0 390.1 447.2 383.8 447.3 395.9 447.5 389.1 447.7 384.0 447.9 387.1 448.1 396.8 448.3 399.6 448.4 406.4 448.6 409.4 448.8 410.7 449.0 411.7 449.2 410.5 449.3 411.5 449.5 409.8 449.7 412.6 449.9 412.3 450.1 408.5 450.3 414.2 450.4 409.7 450.6 412.4 450.8 409.9 451.0 412.8 451.2 410.8 451.4 413.0 451.5 412.2 451.7 405.3 451.9 398.4 452.1 392.3 452.3 382.2 452.5 370.6 452.6 371.5 452.8 352.3 453.0 345.5 453.2 348.9 453.4 346.7 453.5 347.9 453.7 346.3 453.9 341.5 454.1 346.2 454.3 354.9 454.5 361.3 454.6 363.5 454.8 367.2 455.0 370.1 455.2 376.0 455.4 375.3 455.6 381.7 455.7 391.0 455.9 397.9 456.1 403.7 456.3 409.3 456.5 405.5 456.6 408.9 456.8 407.5 457.0 410.8 457.2 405.8 457.4 404.5 457.6 408.9 457.7 408.5 457.9 404.7 458.1 402.1 458.3 398.9 458.5 401.0 458.7 402.8 458.8 405.9 459.0 408.0 459.2 405.1 459.4 407.0 459.6 408.2 459.8 408.5 459.9 406.8 460.1 410.3 460.3 406.1 460.5 409.2 460.7 409.0 460.8 406.3 461.0 406.9 461.2 407.6 461.4 408.3 461.6 409.0 461.8 407.0 461.9 405.8 462.1 409.4 462.3 408.3 462.5 409.5 462.7 407.8 462.9 406.1 463.0 408.4 463.2 410.3 463.4 407.7 463.6 410.4 463.8 411.6 463.9 407.9 464.1 410.3 464.3 410.1 464.5 407.4 464.7 408.7 464.9 408.0 465.0 409.7 465.2 412.1 465.4 408.4 465.6 409.3 465.8 409.3 466.0 411.0 466.1 409.0 466.3 410.3 466.5 411.4 466.7 408.7 466.9 408.2 467.1 408.0 467.2 407.5 467.4 407.9 467.6 409.6 467.8 406.8 468.0 406.2 468.1 408.5 468.3 410.6 468.5 409.1 468.7 408.1 468.9 408.6 469.1 409.7 469.2 410.5 469.4 408.9 469.6 408.6 469.8 409.5 470.0 409.4 470.2 410.7 470.3 409.9 470.5 409.9 470.7 409.6 470.9 408.9 471.1 410.0 471.2 409.8 471.4 411.5 471.6 408.2 471.8 410.9 472.0 410.8 472.2 410.8 472.3 410.0 472.5 408.6 472.7 409.2 472.9 406.8 473.1 411.0 473.3 409.9 473.4 407.3 473.6 410.0 473.8 410.6 474.0 411.4 474.2 409.0 474.4 408.0 474.5 409.0 474.7 407.4 474.9 410.6" fill="none" stroke="#e8392c" stroke-width="1.5" stroke-linejoin="round"/><line x1="401.4" y1="414.5" x2="475.4" y2="414.5" stroke="#000" stroke-width="1"/><line x1="401.9" y1="414.5" x2="401.9" y2="418.8" stroke="#000" stroke-width="1"/><text x="401.9" y="427.9" font-size="8" text-anchor="middle" font-weight="bold" stroke="#000" stroke-width="0.14">0</text><line x1="420.15" y1="414.5" x2="420.15" y2="418.8" stroke="#000" stroke-width="1"/><text x="420.15" y="427.9" font-size="8" text-anchor="middle" font-weight="bold" stroke="#000" stroke-width="0.14">100</text><line x1="438.4" y1="414.5" x2="438.4" y2="418.8" stroke="#000" stroke-width="1"/><text x="438.4" y="427.9" font-size="8" text-anchor="middle" font-weight="bold" stroke="#000" stroke-width="0.14">200</text><line x1="456.65" y1="414.5" x2="456.65" y2="418.8" stroke="#000" stroke-width="1"/><text x="456.65" y="427.9" font-size="8" text-anchor="middle" font-weight="bold" stroke="#000" stroke-width="0.14">300</text><line x1="474.9" y1="414.5" x2="474.9" y2="418.8" stroke="#000" stroke-width="1"/><text x="474.9" y="427.9" font-size="8" text-anchor="middle" font-weight="bold" stroke="#000" stroke-width="0.14">400</text><line x1="237.7" y1="304" x2="237.7" y2="415" stroke="#000" stroke-width="1"/><line x1="233.3" y1="414.5" x2="237.7" y2="414.5" stroke="#000" stroke-width="1"/><text x="231.7" y="417.3" font-size="7.9" text-anchor="end" font-weight="bold" stroke="#000" stroke-width="0.14">0</text><line x1="233.3" y1="387" x2="237.7" y2="387" stroke="#000" stroke-width="1"/><text x="231.7" y="389.8" font-size="7.9" text-anchor="end" font-weight="bold" stroke="#000" stroke-width="0.14">40</text><line x1="233.3" y1="359.5" x2="237.7" y2="359.5" stroke="#000" stroke-width="1"/><text x="231.7" y="362.3" font-size="7.9" text-anchor="end" font-weight="bold" stroke="#000" stroke-width="0.14">80</text><line x1="233.3" y1="332" x2="237.7" y2="332" stroke="#000" stroke-width="1"/><text x="231.7" y="334.8" font-size="7.9" text-anchor="end" font-weight="bold" stroke="#000" stroke-width="0.14">120</text><line x1="233.3" y1="304.5" x2="237.7" y2="304.5" stroke="#000" stroke-width="1"/><text x="231.7" y="307.3" font-size="7.9" text-anchor="end" font-weight="bold" stroke="#000" stroke-width="0.14">160</text><text x="213" y="359" font-size="8.4" text-anchor="middle" transform="rotate(-90 213 359)" stroke="#000" stroke-width="0.45">Fluo. Int.</text><text x="274.2" y="436.3" font-size="8.8" text-anchor="middle" font-weight="bold" stroke="#000" stroke-width="0.14">Frame no.</text><text x="357.5" y="436.3" font-size="8.8" text-anchor="middle" font-weight="bold" stroke="#000" stroke-width="0.14">Frame no.</text><text x="438.5" y="436.3" font-size="8.8" text-anchor="middle" font-weight="bold" stroke="#000" stroke-width="0.14">Frame no.</text><text x="272" y="311.3" font-size="6" text-anchor="middle" font-weight="bold" stroke="#000" stroke-width="0.14">ReTag1 + 100 nM</text><text x="275.9" y="317.9" font-size="6" text-anchor="middle" font-weight="bold" stroke="#000" stroke-width="0.14">MaP655-TMP</text><text x="352.3" y="311.6" font-size="6" text-anchor="middle" font-weight="bold" stroke="#000" stroke-width="0.14">ReTag4 + 100 nM</text><text x="356.3" y="317.9" font-size="6" text-anchor="middle" font-weight="bold" stroke="#000" stroke-width="0.14">MaP655-TMP</text><text x="432.7" y="311" font-size="6" text-anchor="middle" font-weight="bold" stroke="#000" stroke-width="0.14">ReTag4 + 500 nM</text><text x="436.4" y="317.5" font-size="6" text-anchor="middle" font-weight="bold" stroke="#000" stroke-width="0.14">MaP655-TMP</text>
</g>
<g id="panel-j">
<text x="492.4" y="304" font-size="13.7" font-weight="bold" stroke="#000" stroke-width="0.14">j</text><g fill="#f4868e" stroke="#5e1a22" stroke-width="0.8"><rect x="524.90" y="313.51" width="3.04" height="98.99"/><rect x="527.94" y="332.02" width="3.04" height="80.48"/><rect x="530.98" y="346.51" width="3.04" height="65.99"/><rect x="534.02" y="354.40" width="3.04" height="58.10"/><rect x="537.06" y="359.02" width="3.04" height="53.48"/><rect x="540.10" y="365.91" width="3.04" height="46.59"/><rect x="543.14" y="368.69" width="3.04" height="43.81"/><rect x="546.18" y="373.80" width="3.04" height="38.70"/><rect x="549.22" y="372.38" width="3.04" height="40.12"/><rect x="552.26" y="373.43" width="3.04" height="39.07"/><rect x="555.30" y="377.86" width="3.04" height="34.64"/><rect x="558.34" y="386.30" width="3.04" height="26.20"/><rect x="561.38" y="388.15" width="3.04" height="24.35"/><rect x="564.42" y="390.36" width="3.04" height="22.14"/><rect x="567.46" y="384.23" width="3.04" height="28.27"/><rect x="570.50" y="382.47" width="3.04" height="30.03"/><rect x="573.54" y="390.36" width="3.04" height="22.14"/><rect x="576.58" y="392.70" width="3.04" height="19.80"/><rect x="579.62" y="404.61" width="3.04" height="7.89"/><rect x="582.66" y="394.19" width="3.04" height="18.31"/><rect x="585.70" y="404.61" width="3.04" height="7.89"/><rect x="588.74" y="396.73" width="3.04" height="15.77"/><rect x="591.78" y="394.19" width="3.04" height="18.31"/><rect x="594.82" y="400.00" width="3.04" height="12.50"/><rect x="597.86" y="400.00" width="3.04" height="12.50"/><rect x="625.22" y="404.61" width="3.04" height="7.89"/><rect x="634.34" y="404.61" width="3.04" height="7.89"/><rect x="643.46" y="404.61" width="3.04" height="7.89"/></g><g opacity="0.9"><g fill="#7346d6" stroke="#1c1048" stroke-width="0.8"><rect x="524.90" y="323.94" width="3.04" height="88.56"/><rect x="527.94" y="349.36" width="3.04" height="63.14"/><rect x="530.98" y="362.78" width="3.04" height="49.72"/><rect x="534.02" y="370.25" width="3.04" height="42.25"/><rect x="537.06" y="375.87" width="3.04" height="36.63"/><rect x="540.10" y="379.93" width="3.04" height="32.57"/><rect x="543.14" y="389.13" width="3.04" height="23.37"/><rect x="546.18" y="397.31" width="3.04" height="15.19"/></g></g><line x1="524.9" y1="307.2" x2="524.9" y2="413" stroke="#000" stroke-width="1"/><line x1="524.4" y1="412.5" x2="677.4" y2="412.5" stroke="#000" stroke-width="1"/><line x1="521" y1="412.5" x2="524.9" y2="412.5" stroke="#000" stroke-width="1"/><text x="519.3" y="415.3" font-size="8" text-anchor="end" font-weight="bold" stroke="#000" stroke-width="0.14">1</text><line x1="521" y1="386.3" x2="524.9" y2="386.3" stroke="#000" stroke-width="1"/><text x="519.3" y="389.1" font-size="8" text-anchor="end" font-weight="bold" stroke="#000" stroke-width="0.14">10</text><line x1="521" y1="360.1" x2="524.9" y2="360.1" stroke="#000" stroke-width="1"/><text x="519.3" y="362.9" font-size="8" text-anchor="end" font-weight="bold" stroke="#000" stroke-width="0.14">100</text><line x1="521" y1="333.9" x2="524.9" y2="333.9" stroke="#000" stroke-width="1"/><text x="519.3" y="336.7" font-size="8" text-anchor="end" font-weight="bold" stroke="#000" stroke-width="0.14">1000</text><line x1="521" y1="307.7" x2="524.9" y2="307.7" stroke="#000" stroke-width="1"/><text x="519.3" y="310.5" font-size="8" text-anchor="end" font-weight="bold" stroke="#000" stroke-width="0.14">10000</text><line x1="524.9" y1="412.5" x2="524.9" y2="416.8" stroke="#000" stroke-width="1"/><text x="524.9" y="425.3" font-size="8" text-anchor="middle" font-weight="bold" stroke="#000" stroke-width="0.14">0</text><line x1="555.3" y1="412.5" x2="555.3" y2="416.8" stroke="#000" stroke-width="1"/><text x="555.3" y="425.3" font-size="8" text-anchor="middle" font-weight="bold" stroke="#000" stroke-width="0.14">50</text><line x1="585.7" y1="412.5" x2="585.7" y2="416.8" stroke="#000" stroke-width="1"/><text x="585.7" y="425.3" font-size="8" text-anchor="middle" font-weight="bold" stroke="#000" stroke-width="0.14">100</text><line x1="616.1" y1="412.5" x2="616.1" y2="416.8" stroke="#000" stroke-width="1"/><text x="616.1" y="425.3" font-size="8" text-anchor="middle" font-weight="bold" stroke="#000" stroke-width="0.14">150</text><line x1="646.5" y1="412.5" x2="646.5" y2="416.8" stroke="#000" stroke-width="1"/><text x="646.5" y="425.3" font-size="8" text-anchor="middle" font-weight="bold" stroke="#000" stroke-width="0.14">200</text><line x1="676.9" y1="412.5" x2="676.9" y2="416.8" stroke="#000" stroke-width="1"/><text x="676.9" y="425.3" font-size="8" text-anchor="middle" font-weight="bold" stroke="#000" stroke-width="0.14">250</text><text x="603.3" y="435" font-size="8.8" text-anchor="middle" font-weight="bold" stroke="#000" stroke-width="0.14">Frame no.</text><text x="502.4" y="365.8" font-size="8.5" text-anchor="middle" font-weight="bold" transform="rotate(-90 502.4 365.8)" stroke="#000" stroke-width="0.14">Count</text><rect x="582.5" y="308" width="3.6" height="2" fill="#f2858e" stroke="#8e2630" stroke-width="0.6"/><rect x="582.5" y="316.9" width="3.6" height="2" fill="#6844cc" stroke="#2c1c78" stroke-width="0.6"/><text x="596" y="311" font-size="5.75" font-weight="bold" stroke="#000" stroke-width="0.14">ReTag4 + 500nM MaP655-TMP</text><text x="596" y="319.9" font-size="5.75" font-weight="bold" stroke="#000" stroke-width="0.14">ReTag1 + 500nM MaP655-TMP</text>
</g>
<g id="panel-k">
<text x="1.5" y="458.9" font-size="13.7" font-weight="bold" stroke="#000" stroke-width="0.14">k</text><rect x="7.8" y="501.2" width="83" height="92.5" fill="#f6f4e4"/><rect x="7.8" y="474" width="83.4" height="27.5" fill="#fff"/><g filter="url(#soft)"><ellipse cx="10.6" cy="483.6" rx="1.85" ry="3.7" fill="none" stroke="#2f3d78" stroke-width="0.6"/><ellipse cx="10.6" cy="491.9" rx="1.85" ry="3.7" fill="none" stroke="#2f3d78" stroke-width="0.6"/><ellipse cx="16.6" cy="483.6" rx="1.85" ry="3.7" fill="none" stroke="#2f3d78" stroke-width="0.6"/><ellipse cx="16.6" cy="491.9" rx="1.85" ry="3.7" fill="none" stroke="#2f3d78" stroke-width="0.6"/><ellipse cx="22.6" cy="483.6" rx="1.85" ry="3.7" fill="none" stroke="#2f3d78" stroke-width="0.6"/><ellipse cx="22.6" cy="491.9" rx="1.85" ry="3.7" fill="none" stroke="#2f3d78" stroke-width="0.6"/><ellipse cx="28.6" cy="483.6" rx="1.85" ry="3.7" fill="none" stroke="#2f3d78" stroke-width="0.6"/><ellipse cx="28.6" cy="491.9" rx="1.85" ry="3.7" fill="none" stroke="#2f3d78" stroke-width="0.6"/><ellipse cx="34.6" cy="483.6" rx="1.85" ry="3.7" fill="none" stroke="#2f3d78" stroke-width="0.6"/><ellipse cx="34.6" cy="491.9" rx="1.85" ry="3.7" fill="none" stroke="#2f3d78" stroke-width="0.6"/><ellipse cx="40.6" cy="483.6" rx="1.85" ry="3.7" fill="none" stroke="#2f3d78" stroke-width="0.6"/><ellipse cx="40.6" cy="491.9" rx="1.85" ry="3.7" fill="none" stroke="#2f3d78" stroke-width="0.6"/><ellipse cx="46.6" cy="483.6" rx="1.85" ry="3.7" fill="none" stroke="#2f3d78" stroke-width="0.6"/><ellipse cx="46.6" cy="491.9" rx="1.85" ry="3.7" fill="none" stroke="#2f3d78" stroke-width="0.6"/><ellipse cx="52.6" cy="483.6" rx="1.85" ry="3.7" fill="none" stroke="#2f3d78" stroke-width="0.6"/><ellipse cx="52.6" cy="491.9" rx="1.85" ry="3.7" fill="none" stroke="#2f3d78" stroke-width="0.6"/><ellipse cx="58.6" cy="483.6" rx="1.85" ry="3.7" fill="none" stroke="#2f3d78" stroke-width="0.6"/><ellipse cx="58.6" cy="491.9" rx="1.85" ry="3.7" fill="none" stroke="#2f3d78" stroke-width="0.6"/><ellipse cx="64.6" cy="483.6" rx="1.85" ry="3.7" fill="none" stroke="#2f3d78" stroke-width="0.6"/><ellipse cx="64.6" cy="491.9" rx="1.85" ry="3.7" fill="none" stroke="#2f3d78" stroke-width="0.6"/><ellipse cx="70.6" cy="483.6" rx="1.85" ry="3.7" fill="none" stroke="#2f3d78" stroke-width="0.6"/><ellipse cx="70.6" cy="491.9" rx="1.85" ry="3.7" fill="none" stroke="#2f3d78" stroke-width="0.6"/><ellipse cx="76.6" cy="483.6" rx="1.85" ry="3.7" fill="none" stroke="#2f3d78" stroke-width="0.6"/><ellipse cx="76.6" cy="491.9" rx="1.85" ry="3.7" fill="none" stroke="#2f3d78" stroke-width="0.6"/><ellipse cx="82.6" cy="483.6" rx="1.85" ry="3.7" fill="none" stroke="#2f3d78" stroke-width="0.6"/><ellipse cx="82.6" cy="491.9" rx="1.85" ry="3.7" fill="none" stroke="#2f3d78" stroke-width="0.6"/><ellipse cx="88.6" cy="483.6" rx="1.85" ry="3.7" fill="none" stroke="#2f3d78" stroke-width="0.6"/><ellipse cx="88.6" cy="491.9" rx="1.85" ry="3.7" fill="none" stroke="#2f3d78" stroke-width="0.6"/><circle cx="10.6" cy="476.8" r="3.4" fill="url(#khead)"/><circle cx="10.6" cy="498.7" r="3.4" fill="url(#khead)"/><circle cx="16.6" cy="476.8" r="3.4" fill="url(#khead)"/><circle cx="16.6" cy="498.7" r="3.4" fill="url(#khead)"/><circle cx="22.6" cy="476.8" r="3.4" fill="url(#khead)"/><circle cx="22.6" cy="498.7" r="3.4" fill="url(#khead)"/><circle cx="28.6" cy="476.8" r="3.4" fill="url(#khead)"/><circle cx="28.6" cy="498.7" r="3.4" fill="url(#khead)"/><circle cx="34.6" cy="476.8" r="3.4" fill="url(#khead)"/><circle cx="34.6" cy="498.7" r="3.4" fill="url(#khead)"/><circle cx="40.6" cy="476.8" r="3.4" fill="url(#khead)"/><circle cx="40.6" cy="498.7" r="3.4" fill="url(#khead)"/><circle cx="46.6" cy="476.8" r="3.4" fill="url(#khead)"/><circle cx="46.6" cy="498.7" r="3.4" fill="url(#khead)"/><circle cx="52.6" cy="476.8" r="3.4" fill="url(#khead)"/><circle cx="52.6" cy="498.7" r="3.4" fill="url(#khead)"/><circle cx="58.6" cy="476.8" r="3.4" fill="url(#khead)"/><circle cx="58.6" cy="498.7" r="3.4" fill="url(#khead)"/><circle cx="64.6" cy="476.8" r="3.4" fill="url(#khead)"/><circle cx="64.6" cy="498.7" r="3.4" fill="url(#khead)"/><circle cx="70.6" cy="476.8" r="3.4" fill="url(#khead)"/><circle cx="70.6" cy="498.7" r="3.4" fill="url(#khead)"/><circle cx="76.6" cy="476.8" r="3.4" fill="url(#khead)"/><circle cx="76.6" cy="498.7" r="3.4" fill="url(#khead)"/><circle cx="82.6" cy="476.8" r="3.4" fill="url(#khead)"/><circle cx="82.6" cy="498.7" r="3.4" fill="url(#khead)"/><circle cx="88.6" cy="476.8" r="3.4" fill="url(#khead)"/><circle cx="88.6" cy="498.7" r="3.4" fill="url(#khead)"/></g><g filter="url(#soft)"><ellipse cx="18.9" cy="461.3" rx="3.3" ry="6.6" transform="rotate(-22 18.9 461.3)" fill="#838792" stroke="#666a76" stroke-width="0.5"/><ellipse cx="28.1" cy="461.0" rx="3.3" ry="6.6" transform="rotate(22 28.1 461.0)" fill="#838792" stroke="#666a76" stroke-width="0.5"/><ellipse cx="20.6" cy="472.6" rx="2.5" ry="6.8" transform="rotate(-6 20.6 472.6)" fill="#838792" stroke="#666a76" stroke-width="0.5"/><ellipse cx="26.4" cy="472.6" rx="2.5" ry="6.8" transform="rotate(6 26.4 472.6)" fill="#838792" stroke="#666a76" stroke-width="0.5"/><rect x="20.2" y="476.5" width="3" height="25.8" fill="#838792" stroke="#666a76" stroke-width="0.5" rx="1.2"/><rect x="23.8" y="476.5" width="3" height="25.8" fill="#838792" stroke="#666a76" stroke-width="0.5" rx="1.2"/><ellipse cx="59" cy="461.3" rx="3.3" ry="6.6" transform="rotate(-22 59 461.3)" fill="#838792" stroke="#666a76" stroke-width="0.5"/><ellipse cx="68.2" cy="461.0" rx="3.3" ry="6.6" transform="rotate(22 68.2 461.0)" fill="#838792" stroke="#666a76" stroke-width="0.5"/><ellipse cx="60.7" cy="472.6" rx="2.5" ry="6.8" transform="rotate(-6 60.7 472.6)" fill="#838792" stroke="#666a76" stroke-width="0.5"/><ellipse cx="66.5" cy="472.6" rx="2.5" ry="6.8" transform="rotate(6 66.5 472.6)" fill="#838792" stroke="#666a76" stroke-width="0.5"/><rect x="60.3" y="476.5" width="3" height="25.8" fill="#838792" stroke="#666a76" stroke-width="0.5" rx="1.2"/><rect x="63.9" y="476.5" width="3" height="25.8" fill="#838792" stroke="#666a76" stroke-width="0.5" rx="1.2"/></g><text x="31.4" y="471.3" font-size="7.7" font-weight="bold" fill="#555" stroke="#555" stroke-width="0.14" letter-spacing="0.1">TNFR2</text><g clip-path="url(#kclip)"><ellipse cx="50.4" cy="598" rx="30.6" ry="20.2" fill="#ecedf6" stroke="#cdd5ec" stroke-width="1.1" stroke-dasharray="7 2.2"/></g><line x1="23.6" y1="502" x2="25.2" y2="505.5" stroke="#9aa0c0" stroke-width="0.7"/><line x1="63.7" y1="502" x2="65.4" y2="505.5" stroke="#9aa0c0" stroke-width="0.7"/><line x1="23.3" y1="530" x2="28.6" y2="536.4" stroke="#555" stroke-width="0.6"/><line x1="63.4" y1="530" x2="68.4" y2="536.4" stroke="#555" stroke-width="0.6"/><g filter="url(#soft)"><path d="M23.12 503.69 C24.76 503.59 27.33 503.59 29.28 503.9 C31.23 504.21 33.18 504.7 34.83 505.56 C36.47 506.43 38.37 507.71 39.14 509.09 C39.91 510.47 39.66 512.27 39.45 513.86 C39.25 515.46 38.65 517.08 37.91 518.64 C37.17 520.19 36.13 521.72 35.03 523.2 C33.94 524.69 32.64 526.25 31.34 527.56 C30.03 528.88 28.67 530.47 27.23 531.09 C25.79 531.72 24.15 531.82 22.71 531.3 C21.27 530.78 19.83 529.22 18.6 527.98 C17.37 526.73 16.27 525.21 15.31 523.83 C14.35 522.44 13.12 521.16 12.85 519.68 C12.57 518.19 13.33 516.46 13.67 514.9 C14.01 513.34 14.46 511.72 14.9 510.33 C15.35 508.95 15.59 507.57 16.34 506.6 C17.09 505.63 18.29 505.01 19.42 504.52 C20.55 504.04 21.47 503.8 23.12 503.69Z" fill="#b6ef9a" opacity="0.5"/><path d="M23.32 504.6 C24.86 504.51 27.26 504.51 29.08 504.8 C30.9 505.09 32.73 505.54 34.26 506.35 C35.8 507.16 37.58 508.35 38.3 509.65 C39.02 510.94 38.78 512.62 38.58 514.11 C38.39 515.6 37.83 517.12 37.14 518.57 C36.46 520.03 35.48 521.45 34.46 522.84 C33.43 524.23 32.22 525.68 31 526.91 C29.78 528.14 28.5 529.63 27.16 530.21 C25.82 530.79 24.28 530.89 22.94 530.4 C21.59 529.92 20.25 528.46 19.1 527.3 C17.94 526.14 16.92 524.71 16.02 523.42 C15.13 522.13 13.98 520.93 13.72 519.54 C13.46 518.15 14.17 516.53 14.49 515.08 C14.81 513.62 15.22 512.1 15.64 510.81 C16.06 509.52 16.28 508.22 16.98 507.32 C17.69 506.41 18.81 505.83 19.86 505.38 C20.92 504.93 21.78 504.7 23.32 504.6Z" fill="#5cb443"/><circle cx="24.0" cy="521.3" r="1.8" fill="url(#kg0)"/><circle cx="26.9" cy="521.9" r="1.8" fill="url(#kg2)"/><circle cx="20.8" cy="522.3" r="2.2" fill="url(#kg0)"/><circle cx="24.2" cy="511.3" r="2.0" fill="url(#kg1)"/><circle cx="28.1" cy="512.3" r="2.5" fill="url(#kg1)"/><circle cx="27.9" cy="518.5" r="2.7" fill="url(#kg0)"/><circle cx="23.3" cy="511.4" r="2.6" fill="url(#kg1)"/><circle cx="33.5" cy="520.6" r="1.9" fill="url(#kg1)"/><circle cx="30.7" cy="511.2" r="2.4" fill="url(#kg0)"/><circle cx="25.8" cy="512.6" r="2.0" fill="url(#kg2)"/><circle cx="24.1" cy="520.6" r="2.6" fill="url(#kg0)"/><circle cx="31.9" cy="513.5" r="1.8" fill="url(#kg2)"/><circle cx="22.1" cy="510.8" r="1.6" fill="url(#kg2)"/><circle cx="23.7" cy="527.0" r="2.4" fill="url(#kg1)"/><circle cx="25.3" cy="523.7" r="2.1" fill="url(#kg0)"/><circle cx="27.4" cy="509.6" r="1.7" fill="url(#kg2)"/><circle cx="18.6" cy="511.2" r="2.0" fill="url(#kg2)"/><circle cx="17.4" cy="519.8" r="2.2" fill="url(#kg1)"/><circle cx="28.0" cy="524.8" r="2.2" fill="url(#kg2)"/><circle cx="28.3" cy="517.5" r="2.6" fill="url(#kg0)"/><circle cx="21.3" cy="523.0" r="2.8" fill="url(#kg1)"/><circle cx="20.9" cy="509.2" r="2.3" fill="url(#kg1)"/><circle cx="17.2" cy="519.9" r="1.8" fill="url(#kg0)"/><circle cx="29.9" cy="518.6" r="2.3" fill="url(#kg2)"/><circle cx="26.6" cy="524.9" r="2.1" fill="url(#kg2)"/><circle cx="20.1" cy="519.9" r="2.0" fill="url(#kg1)"/><circle cx="22.7" cy="514.9" r="2.2" fill="url(#kg1)"/><circle cx="29.9" cy="519.2" r="1.8" fill="url(#kg2)"/><circle cx="18.6" cy="516.0" r="1.8" fill="url(#kg1)"/><circle cx="33.8" cy="511.4" r="2.7" fill="url(#kg1)"/><circle cx="27.0" cy="512.2" r="2.5" fill="url(#kg2)"/><circle cx="25.6" cy="524.3" r="1.9" fill="url(#kg2)"/><circle cx="20.2" cy="524.0" r="2.0" fill="url(#kg1)"/><circle cx="16.9" cy="516.4" r="2.4" fill="url(#kg0)"/><circle cx="20.5" cy="514.3" r="2.4" fill="url(#kg1)"/><circle cx="18.5" cy="511.7" r="2.8" fill="url(#kg2)"/><circle cx="25.2" cy="520.7" r="2.4" fill="url(#kg1)"/><circle cx="16.9" cy="517.2" r="2.0" fill="url(#kg1)"/><circle cx="21.7" cy="512.8" r="1.9" fill="url(#kg0)"/><circle cx="27.7" cy="515.5" r="2.5" fill="url(#kg0)"/><circle cx="21.0" cy="510.1" r="2.4" fill="url(#kg1)"/><circle cx="33.1" cy="521.0" r="2.4" fill="url(#kg0)"/><circle cx="23.6" cy="518.4" r="2.7" fill="url(#kg2)"/><circle cx="25.5" cy="526.6" r="1.9" fill="url(#kg1)"/><circle cx="24.1" cy="511.6" r="2.7" fill="url(#kg1)"/><circle cx="17.2" cy="519.0" r="2.8" fill="url(#kg0)"/><circle cx="29.8" cy="513.9" r="2.8" fill="url(#kg2)"/><circle cx="22.4" cy="508.1" r="2.1" fill="url(#kg2)"/><circle cx="33.4" cy="518.5" r="1.7" fill="url(#kg1)"/><circle cx="32.2" cy="516.3" r="2.2" fill="url(#kg1)"/><circle cx="29.1" cy="512.1" r="2.8" fill="url(#kg1)"/><circle cx="27.5" cy="526.0" r="2.0" fill="url(#kg1)"/><circle cx="20.2" cy="511.7" r="1.7" fill="url(#kg1)"/><circle cx="25.2" cy="515.5" r="2.6" fill="url(#kg2)"/><circle cx="26.5" cy="513.8" r="1.9" fill="url(#kg1)"/><circle cx="31.8" cy="516.6" r="1.8" fill="url(#kg2)"/><circle cx="22.3" cy="521.8" r="1.8" fill="url(#kg2)"/><circle cx="23.8" cy="511.9" r="2.0" fill="url(#kg1)"/><circle cx="28.1" cy="524.1" r="2.1" fill="url(#kg0)"/><circle cx="19.9" cy="511.9" r="1.9" fill="url(#kg0)"/><ellipse cx="26.2" cy="516" rx="6" ry="5" fill="url(#ggc)"/><path d="M23.6 513.4 L27.4 514 L27.8 519.2Z" fill="#eaffdf" opacity="0.9"/></g><g filter="url(#soft)"><path d="M63.62 503.69 C65.26 503.59 67.83 503.59 69.78 503.9 C71.73 504.21 73.68 504.7 75.33 505.56 C76.97 506.43 78.87 507.71 79.64 509.09 C80.41 510.47 80.16 512.27 79.95 513.86 C79.75 515.46 79.15 517.08 78.41 518.64 C77.67 520.19 76.63 521.72 75.53 523.2 C74.44 524.69 73.14 526.25 71.84 527.56 C70.53 528.88 69.17 530.47 67.73 531.09 C66.29 531.72 64.65 531.82 63.21 531.3 C61.77 530.78 60.33 529.22 59.1 527.98 C57.87 526.73 56.77 525.21 55.81 523.83 C54.85 522.44 53.62 521.16 53.35 519.68 C53.07 518.19 53.83 516.46 54.17 514.9 C54.51 513.34 54.96 511.72 55.4 510.33 C55.85 508.95 56.09 507.57 56.84 506.6 C57.59 505.63 58.79 505.01 59.92 504.52 C61.05 504.04 61.97 503.8 63.62 503.69Z" fill="#b6ef9a" opacity="0.5"/><path d="M63.82 504.6 C65.36 504.51 67.76 504.51 69.58 504.8 C71.4 505.09 73.23 505.54 74.76 506.35 C76.3 507.16 78.08 508.35 78.8 509.65 C79.52 510.94 79.28 512.62 79.08 514.11 C78.89 515.6 78.33 517.12 77.64 518.57 C76.96 520.03 75.98 521.45 74.96 522.84 C73.93 524.23 72.72 525.68 71.5 526.91 C70.28 528.14 69 529.63 67.66 530.21 C66.32 530.79 64.78 530.89 63.44 530.4 C62.09 529.92 60.75 528.46 59.6 527.3 C58.44 526.14 57.42 524.71 56.52 523.42 C55.63 522.13 54.48 520.93 54.22 519.54 C53.96 518.15 54.67 516.53 54.99 515.08 C55.31 513.62 55.72 512.1 56.14 510.81 C56.56 509.52 56.78 508.22 57.48 507.32 C58.19 506.41 59.31 505.83 60.36 505.38 C61.42 504.93 62.28 504.7 63.82 504.6Z" fill="#5cb443"/><circle cx="70.8" cy="513.6" r="2.4" fill="url(#kg1)"/><circle cx="65.3" cy="508.8" r="1.7" fill="url(#kg2)"/><circle cx="74.0" cy="517.0" r="1.8" fill="url(#kg1)"/><circle cx="66.3" cy="508.5" r="2.3" fill="url(#kg1)"/><circle cx="73.7" cy="513.6" r="1.7" fill="url(#kg1)"/><circle cx="59.1" cy="521.8" r="2.3" fill="url(#kg2)"/><circle cx="74.3" cy="518.6" r="2.3" fill="url(#kg0)"/><circle cx="62.0" cy="518.4" r="2.5" fill="url(#kg2)"/><circle cx="65.5" cy="513.8" r="2.3" fill="url(#kg2)"/><circle cx="61.9" cy="508.7" r="2.3" fill="url(#kg0)"/><circle cx="70.4" cy="510.2" r="2.8" fill="url(#kg2)"/><circle cx="59.5" cy="516.6" r="1.8" fill="url(#kg1)"/><circle cx="66.9" cy="521.3" r="2.3" fill="url(#kg1)"/><circle cx="66.4" cy="511.3" r="2.2" fill="url(#kg0)"/><circle cx="66.7" cy="520.9" r="1.8" fill="url(#kg0)"/><circle cx="66.3" cy="513.6" r="1.8" fill="url(#kg0)"/><circle cx="71.4" cy="519.4" r="2.0" fill="url(#kg0)"/><circle cx="72.4" cy="508.7" r="2.7" fill="url(#kg2)"/><circle cx="68.6" cy="524.0" r="1.7" fill="url(#kg0)"/><circle cx="63.6" cy="510.9" r="1.7" fill="url(#kg1)"/><circle cx="65.0" cy="517.8" r="2.8" fill="url(#kg1)"/><circle cx="64.8" cy="517.8" r="1.8" fill="url(#kg0)"/><circle cx="63.6" cy="518.4" r="2.1" fill="url(#kg1)"/><circle cx="74.6" cy="513.9" r="1.9" fill="url(#kg2)"/><circle cx="66.1" cy="523.2" r="2.2" fill="url(#kg1)"/><circle cx="60.0" cy="512.6" r="1.6" fill="url(#kg2)"/><circle cx="61.5" cy="511.6" r="1.6" fill="url(#kg2)"/><circle cx="70.5" cy="520.6" r="1.7" fill="url(#kg1)"/><circle cx="69.8" cy="517.3" r="2.0" fill="url(#kg0)"/><circle cx="62.5" cy="521.6" r="2.7" fill="url(#kg1)"/><circle cx="69.6" cy="520.9" r="2.7" fill="url(#kg1)"/><circle cx="63.5" cy="520.5" r="1.8" fill="url(#kg1)"/><circle cx="57.6" cy="516.8" r="2.0" fill="url(#kg2)"/><circle cx="75.6" cy="516.9" r="1.7" fill="url(#kg2)"/><circle cx="66.5" cy="518.0" r="2.3" fill="url(#kg0)"/><circle cx="61.5" cy="521.4" r="2.8" fill="url(#kg1)"/><circle cx="71.7" cy="515.4" r="1.7" fill="url(#kg0)"/><circle cx="59.9" cy="519.6" r="2.1" fill="url(#kg2)"/><circle cx="66.5" cy="512.0" r="2.3" fill="url(#kg2)"/><circle cx="68.7" cy="512.9" r="1.6" fill="url(#kg1)"/><circle cx="70.5" cy="520.1" r="1.7" fill="url(#kg1)"/><circle cx="64.7" cy="516.8" r="2.3" fill="url(#kg1)"/><circle cx="59.0" cy="517.7" r="2.4" fill="url(#kg1)"/><circle cx="60.1" cy="514.2" r="2.7" fill="url(#kg2)"/><circle cx="62.4" cy="512.8" r="1.8" fill="url(#kg0)"/><circle cx="61.8" cy="508.6" r="2.4" fill="url(#kg1)"/><circle cx="57.6" cy="518.5" r="1.9" fill="url(#kg0)"/><circle cx="70.8" cy="522.9" r="2.1" fill="url(#kg0)"/><circle cx="57.6" cy="518.9" r="1.8" fill="url(#kg0)"/><circle cx="65.6" cy="508.9" r="1.7" fill="url(#kg0)"/><circle cx="63.1" cy="523.3" r="2.8" fill="url(#kg1)"/><circle cx="65.3" cy="527.7" r="2.2" fill="url(#kg1)"/><circle cx="61.2" cy="516.9" r="2.4" fill="url(#kg0)"/><circle cx="67.9" cy="520.5" r="1.6" fill="url(#kg0)"/><circle cx="70.6" cy="524.3" r="2.8" fill="url(#kg2)"/><circle cx="67.0" cy="520.1" r="1.8" fill="url(#kg1)"/><circle cx="75.0" cy="519.0" r="2.3" fill="url(#kg0)"/><circle cx="70.5" cy="515.3" r="2.3" fill="url(#kg0)"/><circle cx="71.7" cy="517.1" r="2.2" fill="url(#kg1)"/><circle cx="69.9" cy="519.7" r="2.1" fill="url(#kg1)"/><ellipse cx="66.7" cy="516" rx="6" ry="5" fill="url(#ggc)"/><path d="M64.1 513.4 L67.9 514 L68.3 519.2Z" fill="#eaffdf" opacity="0.9"/></g><circle cx="46.7" cy="540.9" r="9" fill="url(#kglow)"/><path d="M51.6 541.89 L49.85 543.02 L49.46 545.07 L47.43 544.63 L45.71 545.8 L44.58 544.05 L42.53 543.66 L42.97 541.63 L41.8 539.91 L43.55 538.78 L43.94 536.73 L45.97 537.17 L47.69 536 L48.82 537.75 L50.87 538.14 L50.43 540.17Z" fill="#e8362c" filter="url(#soft)"/><circle cx="79.6" cy="558.3" r="9" fill="url(#kglow)"/><path d="M84.5 559.29 L82.75 560.42 L82.36 562.47 L80.33 562.03 L78.61 563.2 L77.48 561.45 L75.43 561.06 L75.87 559.03 L74.7 557.31 L76.45 556.18 L76.84 554.13 L78.87 554.57 L80.59 553.4 L81.72 555.15 L83.77 555.54 L83.33 557.57Z" fill="#e8362c" filter="url(#soft)"/><g filter="url(#soft)"><path d="M39.27 546.04 C39.05 547.1 39.3 548.4 38.78 549.25 C38.26 550.1 36.99 550.46 36.15 551.14 C35.3 551.81 34.66 552.97 33.71 553.28 C32.77 553.6 31.56 553.06 30.48 553.04 C29.4 553.01 28.16 553.48 27.23 553.12 C26.31 552.75 25.72 551.57 24.91 550.85 C24.1 550.13 22.85 549.7 22.38 548.83 C21.9 547.95 22.22 546.67 22.06 545.6 C21.9 544.53 21.21 543.39 21.41 542.42 C21.61 541.44 22.68 540.66 23.24 539.74 C23.81 538.82 24.02 537.51 24.8 536.89 C25.58 536.27 26.9 536.36 27.92 536.01 C28.95 535.67 29.95 534.8 30.94 534.83 C31.94 534.85 32.89 535.77 33.9 536.17 C34.9 536.56 36.23 536.54 36.97 537.2 C37.72 537.86 37.86 539.18 38.38 540.12 C38.89 541.07 39.92 541.91 40.07 542.89 C40.22 543.88 39.48 544.98 39.27 546.04Z" fill="#7588c6"/><g opacity="0.6"><circle cx="25.1" cy="545.0" r="1.9" fill="url(#kt0)"/><circle cx="27.2" cy="544.1" r="2.5" fill="url(#kt0)"/><circle cx="33.2" cy="548.8" r="2.6" fill="url(#kt1)"/><circle cx="33.1" cy="542.7" r="2.0" fill="url(#kt1)"/><circle cx="26.7" cy="541.6" r="1.8" fill="url(#kt1)"/><circle cx="31.8" cy="549.1" r="2.4" fill="url(#kt0)"/><circle cx="36.9" cy="546.3" r="2.6" fill="url(#kt0)"/><circle cx="31.6" cy="547.1" r="2.6" fill="url(#kt0)"/><circle cx="31.0" cy="549.0" r="2.5" fill="url(#kt1)"/><circle cx="32.1" cy="540.7" r="2.1" fill="url(#kt1)"/><circle cx="32.2" cy="548.4" r="2.8" fill="url(#kt1)"/><circle cx="36.7" cy="541.6" r="2.3" fill="url(#kt1)"/><circle cx="36.1" cy="541.7" r="2.1" fill="url(#kt0)"/><circle cx="33.8" cy="542.6" r="2.5" fill="url(#kt0)"/><circle cx="34.2" cy="540.2" r="2.2" fill="url(#kt1)"/><circle cx="29.8" cy="541.6" r="2.5" fill="url(#kt0)"/><circle cx="34.1" cy="540.3" r="1.8" fill="url(#kt0)"/><circle cx="29.1" cy="543.2" r="2.3" fill="url(#kt1)"/><circle cx="33.2" cy="544.6" r="2.5" fill="url(#kt0)"/><circle cx="31.4" cy="540.5" r="2.7" fill="url(#kt1)"/><circle cx="27.7" cy="548.9" r="2.7" fill="url(#kt1)"/><circle cx="31.8" cy="538.5" r="2.1" fill="url(#kt0)"/><circle cx="32.7" cy="542.2" r="1.9" fill="url(#kt1)"/><circle cx="32.7" cy="546.1" r="2.2" fill="url(#kt0)"/><circle cx="29.9" cy="547.3" r="2.3" fill="url(#kt1)"/><circle cx="35.2" cy="546.8" r="2.3" fill="url(#kt1)"/></g><circle cx="35" cy="544.6" r="3.5" fill="#a9c2de" stroke="#86a4cc" stroke-width="0.5"/><path d="M34.2 543.0 V546.0 H36.2" fill="none" stroke="#fff" stroke-width="1" stroke-linecap="round" stroke-linejoin="round"/></g><g filter="url(#soft)"><path d="M79.27 546.04 C79.05 547.1 79.3 548.4 78.78 549.25 C78.26 550.1 76.99 550.46 76.15 551.14 C75.3 551.81 74.66 552.97 73.71 553.28 C72.77 553.6 71.56 553.06 70.48 553.04 C69.4 553.01 68.16 553.48 67.23 553.12 C66.31 552.75 65.72 551.57 64.91 550.85 C64.1 550.13 62.85 549.7 62.38 548.83 C61.9 547.95 62.22 546.67 62.06 545.6 C61.9 544.53 61.21 543.39 61.41 542.42 C61.61 541.44 62.68 540.66 63.24 539.74 C63.81 538.82 64.02 537.51 64.8 536.89 C65.58 536.27 66.9 536.36 67.92 536.01 C68.95 535.67 69.95 534.8 70.94 534.83 C71.94 534.85 72.89 535.77 73.9 536.17 C74.9 536.56 76.23 536.54 76.97 537.2 C77.72 537.86 77.86 539.18 78.38 540.12 C78.89 541.07 79.92 541.91 80.07 542.89 C80.22 543.88 79.48 544.98 79.27 546.04Z" fill="#7588c6"/><g opacity="0.6"><circle cx="66.3" cy="547.3" r="2.3" fill="url(#kt0)"/><circle cx="75.2" cy="546.6" r="2.7" fill="url(#kt0)"/><circle cx="64.4" cy="544.0" r="2.8" fill="url(#kt1)"/><circle cx="67.7" cy="539.1" r="1.8" fill="url(#kt0)"/><circle cx="64.1" cy="543.7" r="2.7" fill="url(#kt0)"/><circle cx="72.9" cy="548.7" r="2.7" fill="url(#kt1)"/><circle cx="69.0" cy="539.2" r="2.0" fill="url(#kt1)"/><circle cx="65.6" cy="544.6" r="2.2" fill="url(#kt0)"/><circle cx="67.2" cy="547.1" r="2.5" fill="url(#kt1)"/><circle cx="74.9" cy="547.0" r="2.3" fill="url(#kt1)"/><circle cx="71.2" cy="537.9" r="2.0" fill="url(#kt0)"/><circle cx="72.1" cy="540.0" r="2.6" fill="url(#kt1)"/><circle cx="74.2" cy="538.7" r="2.5" fill="url(#kt0)"/><circle cx="69.8" cy="549.8" r="2.4" fill="url(#kt1)"/><circle cx="66.2" cy="543.5" r="2.0" fill="url(#kt1)"/><circle cx="72.0" cy="542.2" r="2.6" fill="url(#kt1)"/><circle cx="72.1" cy="539.1" r="1.8" fill="url(#kt0)"/><circle cx="67.5" cy="546.0" r="2.7" fill="url(#kt1)"/><circle cx="73.6" cy="549.7" r="2.2" fill="url(#kt0)"/><circle cx="76.9" cy="542.0" r="2.6" fill="url(#kt1)"/><circle cx="74.1" cy="543.5" r="1.8" fill="url(#kt0)"/><circle cx="69.4" cy="546.7" r="2.5" fill="url(#kt1)"/><circle cx="64.5" cy="546.4" r="2.6" fill="url(#kt0)"/><circle cx="72.7" cy="542.1" r="2.3" fill="url(#kt0)"/><circle cx="77.5" cy="543.0" r="1.9" fill="url(#kt0)"/><circle cx="70.3" cy="549.5" r="2.6" fill="url(#kt0)"/></g><circle cx="74.2" cy="547.2" r="3.5" fill="#a9c2de" stroke="#86a4cc" stroke-width="0.5"/><path d="M73.4 548.6 V546.2 H75.6" fill="none" stroke="#fff" stroke-width="1" stroke-linecap="round" stroke-linejoin="round"/></g><line x1="38.6" y1="545.4" x2="42.6" y2="542.4" stroke="#333" stroke-width="0.6"/><line x1="74.6" y1="551.6" x2="77.6" y2="554.4" stroke="#333" stroke-width="0.6"/><text x="55.4" y="550.4" font-size="13.5" stroke="#000" stroke-width="0.5">(</text><text x="79.4" y="550.4" font-size="13.5" stroke="#000" stroke-width="0.5">)</text><text x="84.4" y="551.8" font-size="8.2" font-weight="bold" stroke="#000" stroke-width="0.14">8</text>
</g>
<g id="panel-l">
<text x="98.8" y="460.6" font-size="13.7" font-weight="bold" stroke="#000" stroke-width="0.14">l</text><path d="M141.4 559.2H142.0M141.2 559.8H142.2M140.9 560.4H142.5M140.7 561.0H142.7M140.4 561.6H143.0M139.9 562.2H143.5M139.3 562.8H144.4M138.3 563.4H144.5M137.9 564.0H145.9M136.4 564.6H147.7M133.4 565.2H149.9M130.8 565.8H152.7M130.7 566.4H153.0M131.3 567.0H153.0M133.3 567.6H151.0M135.3 568.2H148.8M137.2 568.8H146.3M138.2 569.4H144.2M139.9 570.0H144.5M140.1 570.6H143.3M140.8 571.2H142.6" stroke="#858dd4" stroke-width="0.90" fill="none"/><path d="M177.1 496.5H177.9M177.1 498.6H177.9M177.1 499.3H177.9M177.1 500.0H177.9M177.1 500.7H177.9M177.1 502.1H177.9M177.1 503.5H177.9M177.1 504.2H177.9M177.1 505.6H177.9M177.1 506.3H177.9M177.1 508.4H177.9M177.1 509.1H177.9M177.1 512.6H177.9M177.1 513.3H177.9M177.0 515.4H178.0M177.0 516.1H178.0M177.0 516.8H178.0M176.9 517.5H178.1M176.9 518.2H178.1M176.8 518.9H178.2M176.8 519.6H178.2M176.7 520.3H178.3M176.7 521.0H178.3M176.6 521.7H178.4M176.6 522.4H178.4M176.5 523.1H178.5M176.4 523.8H178.6M176.3 524.5H178.7M176.1 525.2H178.9M176.0 525.9H179.0M175.8 526.6H179.2M175.7 527.3H179.3M175.6 528.0H179.4M175.8 528.7H179.4M174.6 529.4H180.6M173.2 530.1H181.2M174.4 530.8H182.0M173.5 531.5H181.7M173.6 532.2H181.7M173.1 532.9H182.6M173.2 533.6H182.6M172.3 534.3H183.7M171.7 535.0H183.7M170.4 535.7H185.1M170.2 536.4H185.5M169.3 537.1H185.9M168.1 537.8H187.8M167.4 538.5H188.4M167.3 539.2H189.1M166.8 539.9H187.9M165.9 540.6H189.3M167.1 541.3H188.3M165.6 542.0H188.6M166.4 542.7H188.2M166.7 543.4H189.4M165.3 544.1H189.8M166.4 544.8H187.7M167.0 545.5H188.8M166.4 546.2H188.3M167.8 546.9H187.7M167.8 547.6H187.5M168.6 548.3H187.6M167.9 549.0H185.8M169.4 549.7H186.7M169.8 550.4H186.4M169.6 551.1H185.7M169.5 551.8H184.6M170.6 552.5H184.4M170.1 553.2H184.9M171.7 553.9H184.7M171.7 554.6H183.0M172.3 555.3H183.7M172.6 556.0H182.5M172.5 556.7H182.5M173.4 557.4H181.0M174.2 558.1H181.4M174.4 558.8H180.3M175.7 559.5H179.3M175.9 560.2H179.1M176.0 560.9H179.0M176.2 561.6H178.8M176.4 562.3H178.6M176.6 563.0H178.4M176.8 563.7H178.2M176.9 564.4H178.1M177.0 565.1H178.0" stroke="#ef7482" stroke-width="1.00" fill="none"/><line x1="177.5" y1="535.3" x2="177.5" y2="552.5" stroke="#8a8a8a" stroke-width="0.7"/><line x1="175" y1="535.3" x2="180" y2="535.3" stroke="#8a8a8a" stroke-width="0.7"/><line x1="175" y1="552.5" x2="180" y2="552.5" stroke="#8a8a8a" stroke-width="0.7"/><line x1="172.2" y1="543.8" x2="182.8" y2="543.8" stroke="#8a8a8a" stroke-width="0.7"/><line x1="141.7" y1="564.2" x2="141.7" y2="568.7" stroke="#7a7aa8" stroke-width="0.6"/><line x1="139.6" y1="564.2" x2="143.8" y2="564.2" stroke="#7a7aa8" stroke-width="0.6"/><line x1="139.6" y1="568.7" x2="143.8" y2="568.7" stroke="#7a7aa8" stroke-width="0.6"/><line x1="137.7" y1="566.3" x2="145.7" y2="566.3" stroke="#7a7aa8" stroke-width="0.6"/><line x1="118" y1="461.7" x2="118" y2="574.3" stroke="#000" stroke-width="1"/><line x1="117.5" y1="573.8" x2="201.8" y2="573.8" stroke="#000" stroke-width="1"/><line x1="114.1" y1="571.2" x2="118" y2="571.2" stroke="#000" stroke-width="1"/><text x="112.1" y="574" font-size="8" text-anchor="end" font-weight="bold" stroke="#000" stroke-width="0.14">0</text><line x1="114.1" y1="543.95" x2="118" y2="543.95" stroke="#000" stroke-width="1"/><text x="112.1" y="546.75" font-size="8" text-anchor="end" font-weight="bold" stroke="#000" stroke-width="0.14">1</text><line x1="114.1" y1="516.7" x2="118" y2="516.7" stroke="#000" stroke-width="1"/><text x="112.1" y="519.5" font-size="8" text-anchor="end" font-weight="bold" stroke="#000" stroke-width="0.14">2</text><line x1="114.1" y1="489.45" x2="118" y2="489.45" stroke="#000" stroke-width="1"/><text x="112.1" y="492.25" font-size="8" text-anchor="end" font-weight="bold" stroke="#000" stroke-width="0.14">3</text><line x1="114.1" y1="462.2" x2="118" y2="462.2" stroke="#000" stroke-width="1"/><text x="112.1" y="465" font-size="8" text-anchor="end" font-weight="bold" stroke="#000" stroke-width="0.14">4</text><line x1="141.7" y1="573.8" x2="141.7" y2="578.1" stroke="#000" stroke-width="1"/><text x="141.7" y="587.3" font-size="8.4" text-anchor="middle" font-weight="bold" stroke="#000" stroke-width="0.14">HaloTag</text><text x="141.7" y="596.6" font-size="8.4" text-anchor="middle" font-weight="bold" stroke="#000" stroke-width="0.14">1 nM</text><line x1="177.5" y1="573.8" x2="177.5" y2="578.1" stroke="#000" stroke-width="1"/><text x="177.5" y="587.3" font-size="8.4" text-anchor="middle" font-weight="bold" stroke="#000" stroke-width="0.14">ReTag8</text><text x="177.5" y="596.6" font-size="8.4" text-anchor="middle" font-weight="bold" stroke="#000" stroke-width="0.14">200 nM</text><text x="101.8" y="517.2" font-size="9.3" text-anchor="middle" font-weight="bold" transform="rotate(-90 101.8 517.2)" stroke="#000" stroke-width="0.14">Nomalized Fluo.Int.</text><path d="M137.7 474.2 V468.6 H177.5 V474.2" fill="none" stroke="#000" stroke-width="0.8"/><text x="158.3" y="468.9" font-size="16.3" text-anchor="middle" stroke="#000" stroke-width="0.2">****</text><text x="176.5" y="484.4" font-size="8.35" text-anchor="middle" font-weight="bold" stroke="#000" stroke-width="0.14">5.5 X</text>
</g>
<g id="panel-m">
<text x="190.7" y="458.7" font-size="13.7" font-weight="bold" stroke="#000" stroke-width="0.14">m</text><text x="253.8" y="451.1" font-size="9.05" text-anchor="middle" font-weight="bold" fill="#4b5fa0" stroke="#4b5fa0" stroke-width="0.14">Halo-Tag</text><text x="327.6" y="451.3" font-size="9.05" text-anchor="middle" font-weight="bold" fill="#f0705e" stroke="#f0705e" stroke-width="0.14">ReTag8</text><text x="212" y="487.6" font-size="8.2" text-anchor="middle" font-weight="bold" transform="rotate(-90 212 487.6)" stroke="#000" stroke-width="0.14">1~200 frame</text><text x="212" y="562" font-size="8.3" text-anchor="middle" font-weight="bold" transform="rotate(-90 212 562)" stroke="#000" stroke-width="0.14">801~1000 frame</text><path d="M270.2 476.8l-.5 .1 .5 .4 .5 .3 .7 .4 -.5-.1 -.8-.3 -.3 .4 -.7-.1 -.5 0 .2-.4 .7 .5M228.1 518.4l-.3 .5 .2 .8 .4-.4 -.7 .5 -.1-.6 .4-.3 .4-.6 .5 .5 -.4-.6 -.5-.4 .2-.5 -.5-.7 .7 .3 -.5-.7 -.3-.4 .1-.8 -.2-.7 -.7 0 .2 .6 .7-.3 .6 .4 .5 .2M265.7 493.9l-.4-.7 .1-.4 .2-.6 -.6-.6 -.2-.4 -.4-.3 -.6-.5 -.8-.1 .3-.6 .4 .7 0-.5 -.5-.5 .6-.3 .4-.3 -.7-.1 -.5-.3 -.5 .5M226.6 458.4l.5-.3 -.1 .8 -.4 .2 -.2-.7 -.4 .4 -.5 .5 .6 .2 .2 .7 .3 .4 .3 .7 .6-.3 .8-.2 -.6-.4 -.7-.3 .7 0 .6 .4 -.6 .5 .4-.4M220.6 491.4l.8-.3 .4 .2 -.6-.4 -.4-.6 .3-.7 .5-.3 .6 .1 -.2-.5 .6-.1 .5-.6 .8-.3 .5-.2 -.5 0 -.6 .5M254.0 465.9l-.7-.2 -.7-.4 .1 .5 -.7-.5 .6 0 .5-.6 .6 .2 .7-.3 .7 .3 .4-.7 .3-.5 -.7 .3 -.3-.4 -.6 .3 .2-.5 .2 .6 -.1 .5 -.6-.2 .6-.5 -.4-.4M235.7 465.9l-.5-.3 .6-.1 .4-.7 .7 .4 0 .8 .2 .5 .5 .4 -.7 .3 .2 .6 .2 .8M282.9 519.3l0 .5 .5 .3 .5-.4 -.8 .2 -.5-.3 .4-.3 -.1-.7 .5 .5 .6-.1 -.5-.2 -.6 .5 -.1 .6 -.7-.4 -.1 .5 -.1 .5 -.3-.6 -.4-.7 .6 .6 .5 .3 .6-.5M224.6 499.5l.3 .8 .8-.1 .6-.2 -.8 0 .6 .5 -.2 .4 -.8-.4 -.8-.2 .5 .6 .3-.6 -.4 .7 -.6 .2 -.6 .6 -.2 .6 -.5 .2 -.3-.5 .1 .8 -.4 .3 .5-.2 -.1-.6 .5 .1 .2 .7 .6-.3 .5 .1 .2-.6 0-.8M219.8 519.2l.6-.4 -.6-.5 .3-.6 -.2-.6 -.3-.8 .8 0 .4-.3 -.5-.1 -.8 .1 .5-.3 -.1 .8 .7 .4 .6-.3 .5 0 0-.7 -.6-.2 -.3 .5 .3 .3 -.7-.4 -.3 .3 -.3 .5 .7 .4 .1 .5 .5 0M225.1 512.5l-.6-.1 -.4 .4 -.1 .6 .6-.4 -.8 .1 .7 .2 .4-.2 .2-.5M272.1 500.7l-.6-.4 .5-.2 .6 .2 .7 0 -.6 .5 .4 .5 .4-.4 .5-.5 .3 .7 -.3 .6 -.1 .7 .1-.6 .3-.3 -.7-.2 -.5 .1 -.3-.4M224.2 484.7l.5-.6 -.3-.7 .3-.3 .5-.1 .7 .3 -.5 .5 -.4 .4 -.7 .1 .1-.8 -.3 .8 -.5-.2 -.1-.4 -.1-.8 .7-.4 -.3 .5 -.6 .1 -.2-.4 .2-.5 .3 .4 .1 .8 .4 .7 -.3 .3 -.5-.1M217.5 486.6l-.8-.2 .1-.4 -.2-.8 -.1 .7 .2 .5 .3 .6 .7 .5 .1-.5 -.5-.4 -.2 .7 -.4 .4 .2 .5 -.1 .8 .1 .5 .4 .3 .4-.4 -.5 .2 .2-.5 .6-.2M248.2 471.2l.1 .5 .1 .8 -.5-.1 -.4 .3 -.5 .2 -.5 .5 0 .5 -.7 .1 .1-.5 -.3 .5 -.3 .8 .5 .2 .7 0 .5 .2 -.4 .7 -.6-.1 .6-.5 0-.5 .2 .7 .5 .7 .5 .5M281.1 489.1l-.7-.3 .4-.4 -.1-.7 -.3-.7 .5 .1 .6 .1 -.3 .4 -.5 .2 .3 .4 .8 0 .8 .2 .6 .2 .6-.5 -.1-.5 -.6 .1 -.4 .4 .5-.5 .1-.7 .4-.4 0-.6 .4 .2 -.6 .3M257.9 517.5l.5 .2 .5 .2 .4 .6 .6-.2 .1-.6 .5 .4 .4 .5 .4 .4 .7-.1 -.5-.3 .6 .5 .6-.4 .6 .3M227.3 504.9l.2-.4 -.6 .5 -.5 .6 .5-.2 .5 .1 .5 .4 .1-.6 .8 .2M254.6 499.1l-.4 .3 -.5 .5 .2 .7 .1 .6 .1 .8 -.4 .6 -.5 .4 -.5-.6 -.7-.5 -.6 .1 0 .5 .6 .3 .1 .8 -.4-.3 -.2 .7 .2 .5 -.2 .5 -.8 .2 .4 .4 .2-.5 .1-.5 .1-.5 .4-.3 .1-.4 -.4 .4 .6 .2M219.0 457.8l-.4 .4 -.7 .3 -.2-.7 .5 .3 -.5 .2 -.2-.4 .6 .5 .6-.1 -.1-.5 0-.5 .5 .5 -.5-.2 -.3 .7 0 .8 .5 .1 -.2-.8 .5-.1 .4 .2M254.3 487.8l.5 .1 .7-.1 .1 .7 .2-.4 .6 .4 .3-.6 -.3 .4 -.2-.6 .1-.7M219.6 518.3l.3 .7 -.6-.4 -.4-.6 -.5-.5 -.4-.2 -.6 .5 -.6 .2 -.2 .7M271.1 486.2l-.7-.2 .6-.4 -.4 .4 -.7-.3 .8-.3 .1-.6 .5 .3 -.6-.2 -.4-.6 0-.8 .6-.3 -.1 .8 -.5 .3 .4-.5 .4-.6 -.2-.5 0-.7 .7-.3 .3 .5 .7 0 -.6-.6 -.4 .7 -.5-.4 -.6 .6 .6 .5 -.4-.7M277.7 501.2l-.7-.1 -.4 .4 -.6-.3 .1 .5 0 .8 -.1-.8 .6 .2 .4 .4 .3 .5 -.7-.4 -.2-.6 .2-.5 .7-.3 .4-.5 .6-.4 .4 .6 .3 .8 -.4 .4 -.1-.6 .2 .6 -.6 .2 .2 .7M272.3 466.0l.1-.7 -.5 .2 -.6 .3 0-.5 .7 .5 .7-.4 -.3-.6 .6 .3 .6-.3 .1-.5 -.5-.1 -.5-.4 .3 .5M233.1 457.1l.2-.4 -.3 .7 -.8 .1 -.4-.5 .7-.1 .6-.2 .2-.6 0-.8 -.6-.2 -.6-.2 .6 0 .6 .4 .2-.5 -.1 .6 -.4-.4 .2 .7 -.5 .1 -.2 .5 .1 .7 .1 .7 .1-.7 -.5-.1 .2 .7 .5 .1 .4 .4 -.1 .6 .5 .1M279.0 460.0l-.4-.6 -.5-.6 .5 0 .3-.5 -.3-.8 -.2-.5 .2-.8 -.3 .6 -.4-.3 -.5 0 .5 .3 0-.6 .3 .7 .5 .1 0-.8 -.4-.4 -.5-.3M223.4 515.4l.4 .6 .7 0 .5-.2 .1 .8 .1 .8 0-.5 .1-.5 .6 .4 -.5 .4 .5 .6 -.6 .2 -.2 .5 .1 .7 .4-.7 -.5 .6 -.6 .1 -.5-.6 -.5-.1 -.8-.3 -.5-.2M238.7 504.1l-.8 0 .1 .4 -.4-.3 .2-.7 -.2-.6 .7-.3 -.5-.1 .7 .3 .3 .4M275.1 508.8l.7-.3 .4 .3 -.4 .5 -.6 0 .5-.7 .5-.6 .5 .2 -.5 .6 .4 .4 -.2 .5 .4-.3 .6 0 .6-.5M229.8 484.2l.4 .3 .4 .5 -.7 .1 -.6-.5 .1 .7 0 .6 0 .5 .1 .6 -.3 .3 -.7-.4 -.5 .4 -.2-.5 .7-.4 .1-.8 .8-.1 -.5-.3 -.5-.4 .4-.7M271.3 515.1l-.2-.6 -.7 .2 -.3-.5 0-.7 .2-.7 .8-.2 -.6-.1 .7-.5 .6-.3 -.3-.5 -.4-.4 -.4-.3 .7 .4 -.3-.3M228.6 509.5l.3 .5 .8 0 .3 .4 .2 .7 -.5 .1 .2-.8 .5-.5 .1 .5 0-.8 .4 .4 .5-.1 .4-.7 .5-.4 0-.6 -.7-.2 -.6-.4 .5 .1 .4 .3 .6-.3 -.3-.4 -.3-.5 .3 .3 -.4 .6 -.5-.5 -.4-.6 -.7-.5 -.5-.1 -.1 .8M278.5 470.2l-.4-.7 -.5 .3 .1 .5 .8 .1 .1-.5 -.6-.3 -.2 .8 -.4 .5 -.4 .1 .5 .5 .2 .6 .5 .6 -.7 .4 .4 .2 .8 .1 -.1-.5 0-.5 0-.5 .6 .2 .5-.2M228.5 457.5l0-.8 .4-.5 0-.7 .7-.3 .6 0 .6 0 .2-.6 .7 .1 .5 .1 .7 .1 -.7 .1 -.3-.4 -.8-.1 -.5 .1 -.5-.1 .5 .3 .4 .3M251.2 517.2l-.3 .4 .4 .6 .5-.2 .3-.4 .2-.5 -.4-.3 .5 .3 .7 .4 .4-.4 -.4-.3 .4 .7 .8 .1 -.7 .3 .6 .5 .5-.4 .2-.7 .5 .1 -.5-.6 .3-.5 -.5-.1 -.5 .1 -.1 .5 -.7 .3 .7 .5 -.3-.4 .3 .4 .5-.5M277.9 501.0l-.3-.8 .6-.2 .6-.2 .6 .1 -.4 .5 .7 .3 .3 .6 .4-.6M218.7 517.3l.6-.6 .4 .5 -.5 .1 .1 .7 -.4 .5 .3 .4 -.5 .7 -.5 .7 -.3-.5 -.8-.2 0 .6 -.6 .1 .3-.4 -.1-.7M221.6 499.1l-.3 .6 .5 .3 -.4 .4 .6 .4 .7-.1 -.5 .4 0-.7 -.3-.6 .7-.1 -.5 .7 -.8 0 -.6 .4 -.5 .1 -.5 .1 0-.8 .8 .3 .4-.2 -.2 .7 .5-.3 .5 .5 .2-.5 -.5-.6 .8-.1 .2-.6 -.6 0 -.6 .3 .4 .7M228.3 481.4l-.3 .4 .5 0 -.5 .2 -.5 .4 .3 .8 -.3-.7 .6 0 -.1-.8 -.6 .2 -.7-.2 -.1 .6 -.5 .3 .6 .6 .5-.1 0 .5 .2-.6 -.1 .5 -.6 0 -.5-.5 .3-.6 .4-.3 .2-.8 .3 .4 .1 .5 .7-.1 -.5 .2 .7-.5M246.6 494.4l.5-.4 .4-.3 .5-.6 -.1 .8 .4 .5 .1-.5 -.4-.4 -.7 .2 -.5 .1 .7 .1 0-.8 .4 .5 .3 .7 .2 .5 .2 .8 -.1-.7 -.7 .1 -.5 .1 -.5-.6 -.2-.7 .1-.6 .7 0 .5 .6 -.4 .6 .2-.6 -.1-.4M258.4 511.7l-.4 .6 .6-.3 -.7-.3 .6 .6 -.5 .4 -.2-.4 .5-.2 .3-.4 -.5-.3 .2-.6 .3-.7 .2 .6 .6 .1 .4-.8 -.5 0M247.6 510.6l0-.5 .6 0 .5-.1 -.2 .7 .5 .3 0 .5 -.1 .8 -.2-.5 -.3 .6M219.8 495.8l.4 .2 -.1 .8 .4 .3 -.5 .2 -.5-.6 .6-.4 .1-.5 -.5-.4 -.5-.2 .6-.4 .6 .1M262.5 464.6l.4-.6 .2 .5 .3 .6 .3-.7 .4-.3 .6 .5 .6-.3 .4 .3 .2 .6 -.3 .5 .3 .3 .6-.2M246.9 478.1l-.7 .1 -.3-.7 -.5 0 -.2-.5 .4-.2 -.5-.6 -.4 .6 .1 .5 .5 .2 .4 .2 -.5 .7 .4-.3 -.6-.5 -.4-.7 -.5-.3 .5-.3 .1-.6 .5-.1 -.5-.2 -.5 .2 -.2-.7 .3 .6 -.5 .1 -.6 .3 -.3 .4 .5 .3 .1-.7 -.8 .3M226.3 507.9l-.4-.2 .6-.2 -.3-.6 .5-.1 .4 .2 .5-.1 -.6 .1 .5 .3 .7-.3 .6 0 -.4 .2M265.1 499.7l.4 .6 .5-.5 .8-.1 -.6-.2 -.5-.1 0-.7 -.7-.1 .4-.1 -.3 .4 -.2 .8 0 .5 -.1 .6 .4-.7 .4-.4 .6-.3 -.6 .1 .6 .3 .3-.5 .7 .1 .8 .2 .6 0 .5-.2M239.5 513.3l-.4-.3 -.4-.3 -.5-.1 .5 .1 .4-.2 .5-.2 -.6 .4 .7 .4 -.1 .5" stroke="#5560c0" fill="none" stroke-width="0.55" stroke-opacity="0.85" stroke-linejoin="round"/><path d="M264.1 469.3l-.2-.6 .3 .6 -.4 .2 .6-.3 .4 .3 .2 .8 .4 .7 .3 .6 -.5 .2 .7-.2M219.7 479.0l-.4 .5 .7 .1 .6-.5 .2-.6 -.3-.4 -.5 .6 -.5 .4 .5-.2 .7-.3 -.2 .5 .7 .2M230.1 501.4l-.2-.7 -.8-.1 -.2 .6 .7 .1 .5 .1 .1 .6 -.5-.1 -.6 .1 .1 .6 .3 .6 .4 .2 .5-.6 -.5-.5 -.1 .6 -.6 .2 -.6 0 -.6 .6 .3 .5 -.5 .2 .4 .5 -.4 .4 -.4-.4 -.6-.3 .1 .7 -.4 .5 -.4-.3 -.8 .3M265.6 500.0l-.5-.1 -.2 .7 -.7 .1 -.3-.6 .6 0 .4-.3 .4-.2 .3-.5 .6-.3 -.2-.5 -.7-.3 -.1 .5 -.4-.3 -.6 0 -.3-.7 -.5-.6 .7 .4 .2-.4 -.6-.2 .2-.4 0-.6 .7 .3 .6 .4 .6 .6 -.4-.6 -.2-.7 -.1-.7M242.8 508.5l0-.8 .6-.3 .4-.7 -.4 .3 0 .7 -.3-.3 -.3-.5 .3-.4 .7 .1 -.8 0 -.6 .4 .5 .5 .5-.4 -.2-.4 .4-.4 -.3-.5 -.5 .1M275.2 508.3l-.8-.4 -.5 .4 -.5 .1 -.4-.2 -.3-.4 .4 .4 -.3 .8 .3 .7 .5-.3 .5 .3 .8-.2 -.5-.1 -.6 .5 -.1-.8 .2-.7 -.3-.5 -.4-.2 -.5-.4 .1-.4 -.5-.5 -.4-.3 -.2-.8 .6 0 .2-.7M226.3 462.5l.5-.2 .4 .3 .7 .5 -.8 .1 .5-.3 -.1 .4 .3 .6 -.5 .2 -.2-.6 -.3-.6 .2 .7M229.4 464.0l.8-.1 .4 .4 .7-.1 .6 .2 .7 .4 -.4-.5 .6 .3 .5 .6 -.1-.6 .3-.5 -.2 .6 -.6 .4 -.4 .7 -.2-.6M224.0 503.3l-.6-.4 0-.8 -.2 .5 -.2 .5 .2 .4 -.1 .6 .4 .4 .5 .4 0 .6 .3-.7 -.1-.7 -.6-.2 -.6 0 -.6 .2 -.2 .5 -.6 .2M236.2 481.5l-.6 .2 -.4-.3 -.3-.7 0 .6 -.3 .7 -.3-.5 .1-.5 -.5-.1 .3-.6 .5-.7 .2-.5 .2 .7 .6-.6 .4-.7 .2 .6 .1 .8 -.2-.4 .1-.5 -.5 .1 -.5 0 .3 .5M236.7 488.9l.4-.4 .7 0 .7 .2 .5 .6 0-.7 .1-.6 -.5-.6 -.2-.5 -.2-.5 -.7 .2 0-.5M229.5 482.5l-.1-.7 .7 .3 -.1-.6 -.2-.6 -.5-.6 .7 .1 .1 .6 .5 .3 -.1 .7 .4 .3 0-.6 .1-.6 .4-.3M258.2 472.6l-.1-.6 -.5-.5 -.7 .1 .5 .3 -.1 .5 -.2 .7 -.6 .1 -.7 0M260.4 473.6l-.5-.3 -.5 .1 -.4 .4 -.7-.3 -.5 .5 -.5 .1 -.6 .2 -.1 .6 .8-.3 0-.6 -.2 .5 -.4-.4 .5 .3 -.6-.1 .1 .6 .3 .4 .7 .4 -.2 .4 .4 .3 -.2 .5 -.5-.4 -.2 .7 -.4-.6 .2-.5 -.2-.6 -.2-.7M277.1 485.9l.1-.6 .5 .2 -.2-.8 .4-.6 .8-.2 .5-.3 -.5 .4 -.5-.1 0 .6 -.5 .1 -.4-.4 .2 .4 -.2-.5 .6 0 .1-.7 .7 .1M223.8 477.2l-.7 .1 .5 .1 .4-.2 .4-.5 -.8 .1 -.3-.4 .6-.3 0-.8 -.2-.5M236.5 506.2l.6-.5 .2-.5 0-.5 -.1-.7 .6 .1 .4-.6 0 .7 .5 .3 .7 .1 .5 .1 .2 .7 -.4 .7 .6 0 .4-.5 .5 .4 .5-.4 .4-.3 -.1-.8 -.6 .4 -.4-.4M253.6 492.9l.5-.3 .7-.4 -.6 .1 -.3-.5 .1-.8 .4 .1 .1 .5 .6 .3 -.5 .6 -.6-.1 -.1-.6 -.3-.7 .5-.4 -.4 .8 .1 .5 -.1 .7 -.6 .4 -.3 .6 -.5 .2 .3-.8 -.1 .8 -.3-.8M263.8 496.5l.1-.5 -.4-.3 0 .5 -.4-.6 .2 .7 -.6 .5 0-.5 -.4-.5 -.7 0 -.6 .2 .6 .3 .4-.3 .4 .2 .3-.4 -.5-.3 -.6 .3 -.1 .5 -.3 .5 -.6-.4M229.3 487.1l-.4-.2 -.4 .3 -.2 .7 -.1 .5 .5-.6 -.4-.6 -.6 0 -.6 0 -.3 .5 .3-.5 0-.6 -.5 .2 .1 .5 0 .7 .8-.3 .2 .6 -.5 .3 0 .7 -.5 .3 -.6 0 -.8 .1 -.1-.6 .5 0 -.6-.6 .3 .8 0-.5 .4-.1 .1 .5M223.7 483.1l-.6-.3 -.7 .1 -.2-.5 .7 0 -.3 .4 .3 .7 .5 .4 .3-.5 -.6 .1 .7 .1 .4 .4 -.1 .5 .1-.7 .6-.3 .4-.6 -.6-.4 .6-.3 -.2-.6 -.5-.1 .7 .4 .5-.2M231.0 501.6l-.8-.1 -.1-.4 -.4-.7 0-.5 -.6-.1 0 .5 .2 .8 .7 0 .6 .2 -.6 0 -.8-.2 .5 .1 -.3-.5 .6 0 .4-.4 .8-.3 .3-.4 .6-.1 -.4 .3 -.7-.5 .7-.4 .5 .1 .4 .3 -.5 0M231.1 491.2l.4 .3 .1 .8 .7 0 .7 0 -.5-.5 .2-.6 .5 .1 -.2-.7 .4 .4 .3-.6 .7-.1 .5 .4 .1 .8 -.3 .6 .2 .6 -.6 .4 .3-.6 -.1 .5 -.6-.3 -.6 0 -.3-.6 -.8-.1 0-.6 -.4-.6 -.6 .1 .6 .4M279.6 519.5l-.6-.4 0 .8 .3 .6 .6 .6 .8 .1 .8-.2 -.7-.4 -.7 .2M233.7 502.9l.5-.6 -.5 0 -.3-.4 -.4-.3 -.5 0 -.4-.6 -.3 .5 -.8 .2 .7 .2 .6-.1 .4 .5 -.4 .2 .1-.8 -.2 .7 .3 .4 -.3-.6 .6 .5 .2 .8 -.7 .2M248.3 489.6l-.5 .6 -.5 .5 .4-.6 -.5 .3 -.2-.4 -.6-.3 .3 .5 .8 .2 -.6-.3 .5 .6 .6 .4 -.7 .1 -.5 .3 -.4-.2 -.6 .1 -.6 .3 -.7-.3 -.5-.2 -.7-.4 -.4 .2 -.8-.2 .7 .5M271.8 498.7l-.6 .3 -.2 .6 -.6 .4 .6 .2 .4 .4 .7 .3 .5 0 -.7 .1 -.1-.8 .5-.2 .6-.6 .6-.3 .2 .7M228.2 494.3l.3-.6 .4 .4 .3-.5 .8 0 .7-.3 .4-.5 .2 .8 .4-.4 0-.7 .1-.5 .6-.1 .7 0 .7 .3 .4 .4 .4-.7 -.6-.1 .4-.3 -.3 .6 0 .6 -.5-.3 0-.5 -.2 .5 .1 .7 .5-.4 .7 .3M234.0 464.5l-.8-.1 -.4 .1 -.5 .5 -.6-.1 -.2-.6 -.5 .1 -.5 .1 -.2-.6 -.5-.2 -.1-.6 -.1 .6 -.1 .7 -.8 .2 -.3-.7 -.4 .4 .2 .5 -.6-.5 .5 0 .4 .3 .3-.4 0-.8 -.6 .2 -.4 .5 -.3 .8M233.7 503.2l.4 .6 -.1 .4 -.6-.1 .3 .6 .1-.7 0-.5 .4 .7 -.4 .6 .1-.6 .8-.1 .1-.6 .4-.4 .5 .3 .3 .8 -.7 .1 .6 0 -.7 0 .6 .2 .5-.2 .4 .6M241.6 482.6l-.6-.6 .2-.4 -.4 .6 -.7-.3 -.7-.5 -.6-.3 .1 .6 .5 .2 -.3 .4 -.4 .5 -.1-.6 -.7-.4 -.2-.5 -.8 0 -.5 .5 .3-.4M225.3 519.0l.4-.7 -.3-.5 -.3-.5 .5 0 .3 .4 .6 .3 .6-.4 -.3-.7 -.5-.1 -.4-.6 -.3-.7 .8 .2 .5 .2 -.2-.7 .4-.4 -.1 .8 -.3-.5 -.7 .3 -.1 .5M257.4 455.8l.5-.3 -.2 .7 .5 .5 .6 .2 .5-.2 .4 .2 .3-.3 .4 .2 .4 .3 -.4-.4 .5 0 -.4-.3 -.4 .5 .8 0 .5-.2 -.4 .5 .4-.1 -.1-.8 .1-.7 -.5-.2 -.6 .4M217.3 511.7l.5 .1 .6-.4 -.7 .3 .6-.5 .2-.5 -.3-.5 .1-.5 -.4-.3 -.6 .4 -.7-.4 .3-.4 .2-.7 .5-.5 .4-.3 -.4-.7M227.2 489.0l0-.5 -.7 .3 .7-.4 .8 0 .7 .2 .3 .4 .6 .2 .7 .2 -.2 .6 .4 .3 -.5 .2 .5 .3 -.3 .7 0 .6 -.5 .1 -.5-.1M222.0 480.9l.4-.7 .3-.6 .1 .7 -.8 .2 -.2-.5 -.5 0 -.6-.4 -.1-.7 .5 .3 .3 .7 .7 .1 .4-.5 -.1 .7 -.5-.3 .8 .3 .2-.4 -.3-.8 .5 .4 -.5 .1 -.7-.3 -.7 .1 -.6 .6 0 .6 -.3-.5M236.1 459.8l0 .5 .6-.1 -.4 .5 -.1 .5 -.4 .3 -.5-.3 -.6-.3 -.3-.7 .7-.5 .7 .4 -.2 .7 .2 .7 .4 .3 .4 .3M218.0 513.3l.1-.7 .5 .1 -.1-.7 -.5 0 .4 .6 .5-.2 -.4 .6 0 .7 -.6 .3 -.3 .6 -.3 .8 -.3 .7 -.5-.5 .1 .6 .4 .6 -.1 .7 .5 .5 .4-.7 -.7 .1 -.1-.6M250.3 456.1l.3 .5 -.1-.8 .2-.6 .7 0 .4 .3 -.5 .3 .1 .7 -.1-.4 .3-.4 .1-.8 -.4 .4 .4-.4M231.5 499.2l-.2-.6 .2 .5 -.4 .3 -.3 .6 -.4-.2 .6 .1 .6-.4 .1-.4 .5 .4 -.1 .8 -.3 .5 -.8 .1 .3 .4 .4-.4 -.2-.7 -.4 .4M277.6 521.3l-.4-.7 .4-.6 .6 .3 .1 .5 .5 .6 .4-.3 .1-.6 .5-.3 -.1 .5 0-.7 -.6-.3 .6 0 .8-.2 .4-.1 .7 .5 -.7-.2 -.3 .7 .7 .1 .6-.2 .4 .4 .4 .3 -.2 .4 .6-.5 .7 .2 -.5-.5M232.5 511.5l-.6-.6 .1 .6 .8-.1 .5-.2 0-.7 .4 .4 .6 .4 .7-.2 .8 0 .2 .6 -.7 .1 -.5-.1 -.1-.6 -.3 .6 .6 .2M254.2 499.5l-.7-.1 -.1-.8 -.6-.1 -.3 .3 -.8 .3 -.3-.8 .8 0 -.3 .5 -.3-.5 0 .8M255.9 461.4l-.4-.5 -.1-.5 -.5 .1 .5 .6 .7 0 .5-.2 -.2 .5 -.5 .3 .3 .3 .3 .5 -.1-.5 .6 .2 .1 .7 -.7-.4 -.6 .5 -.5 0 .5 .5 -.7-.2 .2 .6 .4-.4 -.5 .5M258.1 468.8l-.5 .7 .6-.5 .5-.4 -.5-.1 .4-.4 -.8-.1 .2 .6 .2 .5 .4 .3 -.3 .8 -.5 .1 0-.8 .5-.1 .7 0 .8 .2 -.1 .5 .5 .1 .5 .1 -.4 .2 .3 .5 0 .5 .1 .6 -.5 0 .1 .7 .1 .5 .6 .3 .5 .6 -.8-.1M271.4 474.0l-.4-.7 -.1-.8 .3 .6 .5-.6 -.3 .5 -.6 .5 .4-.4 .2-.4 .2 .6 -.2-.6 -.7-.3 -.5 .3 -.5-.4 -.2-.6 -.3 .7 .3 .8 .5 .3M234.6 492.9l.3-.7 -.2 .6 .3 .5 -.5 .6 .2 .4 -.3 .4 .5-.3 .8-.1 -.7-.3 .3-.5 .7-.5 .4 .4M237.9 469.0l-.4-.6 -.5-.1 .4-.6 -.1-.8 -.5 .2 -.1 .6 .6 .1 -.5 .2 .1 .7 -.5 .3 -.6-.3 .2 .4 .5 .5 .1 .6 .5-.5 -.1 .5 -.8 .1 .5 .5 -.3 .5 0 .8 -.4-.6 -.7-.5 -.1-.8 -.3-.5 .3-.4 .3 .6 -.6 .1 -.4 .3M234.4 460.7l.2-.4 .4-.3 -.5 .5 .8-.1 -.3 .8 .4 .5 .3-.3 .6 .4 .3-.7 .5-.1 .1 .8 -.1 .7 -.7 .1 -.4 .5 -.7 .1 .7 .3 .3 .5 -.6 0 -.3 .5 .8 0 -.2-.6 -.4-.6 .4-.5M220.3 470.7l-.2 .8 .7-.1 -.1-.8 -.5-.6 -.3 .4 -.5-.5 .3-.4 .5-.3 -.8 .2 -.5 .2 -.7-.1 -.7 .5 -.5 0 -.1-.8 .6 .3 .4 .2 .8 .1 .1 .7 .7 .1 -.4 .3 -.4 .3 .4-.6 -.4-.4 -.1-.5 .4 .3" stroke="#4348ae" fill="none" stroke-width="0.55" stroke-opacity="0.85" stroke-linejoin="round"/><path d="M274.5 519.9l-.4 .3 .5-.2 -.7-.1 -.2-.7 .6 .4 .6 .1 -.6-.5 -.5-.3 -.1 .6 -.8 .2 .2-.4 .4-.6M224.1 499.0l-.7 .5 -.7 .2 .5-.3 .8 .1 .5 0 .4-.2 -.5 .3 -.2-.5 -.3-.6 -.3-.8 -.2-.8 -.5 .6 .5 .3 -.1-.6 -.5-.3 .1 .6 .6 .3 -.4-.4 -.7-.1 -.7-.3 -.8 0 .6-.2 .6 .3" stroke="#58c8dc" fill="none" stroke-width="0.55" stroke-opacity="0.85" stroke-linejoin="round"/><path d="M276.8 465.7l.7 .1 -.8 0 -.5-.5 -.1 .5 -.2 .6 .4 .3 -.5 .5 -.1 .6 .2 .7 .6 .1 -.6-.4 .7 .2 -.3-.8 -.1-.6 .6-.1 .4 .1 -.3 .4 -.7-.4 .1-.5 .6-.2M248.1 471.5l.5-.1 .5-.3 -.6 .1 .5 .7 .7-.2 -.4 .4 0-.7 .2 .7 .2 .5 -.1 .5 -.7 0 .3 .4 .4-.6 -.2-.7" stroke="#78d8b8" fill="none" stroke-width="0.55" stroke-opacity="0.85" stroke-linejoin="round"/><path d="M260.9 514.6l.5 .2 .6 .3 .5 .1 .6-.4 .5 .3 .7 .2 -.4 .4 .7 0 -.6 0 .3 .4 .5 .6 .5-.4 0-.5 0-.5 0 .5 -.3 .8 -.4 .6 -.3 .8" stroke="#60a8e8" fill="none" stroke-width="0.55" stroke-opacity="0.85" stroke-linejoin="round"/><path d="M233.4 461.1l-.3-.4 .4-.3 -.2 .6 .8 0 .6 .2 -.5 .6 .4 .3 .3 .4 .6 0 -.5 .3 .2 .5 .2-.5 .2-.7" stroke="#b8e060" fill="none" stroke-width="0.55" stroke-opacity="0.85" stroke-linejoin="round"/><path d="M274.3 550.6l.4 .3 -.5 .1 -.7 .1 -.8 0 .5-.1 -.6-.3 -.4 .5 -.4 .4 -.3-.4 .6 .2 .2-.5 .6 0 -.7 .1 -.1 .7 -.8-.2 .6-.4 .8 0 .5 .5 .4 .6 .1 .8M228.7 554.0l-.1-.5 -.7-.2 0-.5 .3 .7 .5-.1 0-.6 .4 .2 .6 .5 -.7 .3 -.7 .1 -.7-.1 -.4 .5 -.6-.6 -.6 .1 .7-.4 -.7-.3 .4 .2 .5 .2 .4-.5 -.6 0 -.3-.6 -.4-.3 -.4-.4 -.5 .2 .6 0 -.3 .4M261.7 541.2l-.1 .5 -.3 .4 -.5-.2 -.1 .6 .3-.5 0 .7 -.5 0 .4-.7 .6 .2 -.4-.2 -.3 .5 -.2-.4 -.6-.3 -.4 .7 .7 .5 .6-.2 -.3 .5 -.7 0 -.1-.6 .2 .8 -.2 .6M236.4 552.6l-.6 .5 -.1-.7 .5-.3 .5-.4 .2 .5 -.8-.2 -.1-.5 .5 .1 .4 .5 -.5-.2 -.4-.7 .1-.7 -.7-.1 .4-.5 -.4-.5 -.1-.6 -.5-.2M246.0 528.8l-.5-.5 .6-.1 -.2-.6 -.4-.6 .7-.5 -.4 .7 .2 .7 .4 .2 -.8-.1 -.5 .1 .2-.5 .6-.3 0 .5 -.2 .7 .6-.2 .5 .1 .6-.1 -.4-.6 -.6-.2 .3-.7M267.1 530.9l-.3-.5 0-.6 -.5 .3 -.5 .4 -.5-.1 .8-.2 .1 .5 .3 .5 -.8 .3 -.3-.3 -.4 .3 -.8-.2 0-.5 -.6-.1 .1 .6 .5 .2 .7-.2 .6 .2 -.5 .3 .5-.1 -.6-.4 -.6 .1 .4 .3 -.4 .4 -.5 0 -.6-.4 -.4 .3 -.6-.6M242.6 538.6l0 .7 .8 .1 -.5 .3 -.5-.3 .7 .5 .2-.5 -.8-.1 -.7 .1 -.3 .5 .4-.4 .4-.4 .3-.7 -.6-.3 .2 .4 .1 .6 .7 0 .7-.3 .8-.1M245.4 532.5l.8-.1 -.5-.2 .6-.2 .8-.2 .4-.6 .4 .5 -.1 .5 .7-.2 .4 .3 -.3 .8 .3 .5M262.0 585.7l-.5-.2 -.6-.4 -.5-.4 .3 .5 -.5 .2 .6 .2 .7 0 -.3 .6 -.2-.8 -.6-.6 .5 .5 .6 .2 .2 .4 .2 .5 -.1-.6 .2 .6M271.6 584.3l.1 .8 -.8 .3 -.6 .6 -.5 .3 -.3-.6 .2-.5 -.3 .4 -.4 .3 -.2-.7 -.7 .4 .1 .6 -.6-.4 .5-.4 .3-.6 .3-.8 -.7 0 -.2 .5 .4 .5 -.5 .2 .1 .7 .2-.5 .6 .1 .1 .8 -.1 .6 .5 .6" stroke="#5560c0" fill="none" stroke-width="0.55" stroke-opacity="0.85" stroke-linejoin="round"/><path d="M219.7 543.0l.5 .3 -.2 .7 0 .7 -.7-.4 .4-.5 .2-.7 .6 .1 -.5 .5 -.4 .3 0-.8 .1-.5 .2 .6 .4 .4 -.4 .4 -.8 .2 -.2-.8 -.4-.5 -.1-.5 -.3-.4 .1 .6 -.6-.1 0 .5M251.3 527.6l.2 .5 -.5-.2 -.1-.6 .4-.2 .4-.5 .5 .5 -.4-.3 .3 .6 -.5-.3 -.8-.2 -.2-.5 .6 .4 -.5-.3 -.5 .2 .3 .4 -.6 .2 .4 .4 .8 .1 -.7-.2 -.4-.1 -.5-.6 -.1 .7M280.9 555.1l.4 .3 -.2 .5 -.4-.4 -.3-.8 .5-.5 .7-.1 -.5-.6 .4-.6 .3-.7 0-.5 -.1-.5 .4-.4 .4 .4 .8 .2 .1 .6 -.5 .5 -.5 .3 -.5 .2 .4-.2 -.4-.5 .6-.2 -.2 .5M269.7 583.0l-.6-.3 -.4 .5 .4 .3 -.2-.4 -.2-.8 .2-.6 .5 .3 .4 .5 .3-.6 .5-.5 -.4 .6 .3 .5 .6-.3 .3-.7 .5-.5 -.1 .8 .1 .5 -.5 .4 -.5-.2M281.7 570.1l-.3 .7 -.7-.5 -.6-.5 -.6 0 -.7-.3 -.3 .3 .2 .4 -.8-.3 -.1 .7 -.2-.6 -.3 .6 -.7-.3 .1-.5M243.6 532.8l.3 .4 -.3-.7 -.6-.3 .1 .5 -.6-.2 -.5-.4 -.4 .4 .5 .2 .6 .4 .2 .8 -.2 .4 -.1-.6 .6 .4 .7 .3 .5 .7 0 .7 0 .5 -.5 .5 -.3 .6 -.5-.1 0 .7 -.5 .1 .4 .3 -.5 .7M256.5 590.9l.4 .3 .6 .1 .6 .3 .5 .5 .1-.5 -.5-.5 -.7-.4 .1-.4 -.5 .4 .3-.6 -.8 0 .7 .3 .4-.7 .7 .3 -.5-.5 .4-.6 .5 .1 .4 .6 .2 .4 .5 0 .6-.1 -.1-.8 -.4-.1M223.2 554.3l-.5 .6 -.2-.4 .3 .3 -.3 .6 -.6 .3 .5 .3 -.4 .3 -.5 .6 -.7 .2 .3-.5 -.5-.2 -.8 0 .2 .6 .6 0 -.4 .3 .2 .7 -.3-.6 .7-.3 -.1 .5M235.0 563.7l-.5-.5 -.6 .6 -.5 .3 -.2-.7 -.4-.6 -.5 .2 -.6 .2 -.4-.6 .2-.8 -.3-.6 -.3 .7 .4 .3 .6 0 -.6-.2 .3 .6 .7-.3 .5-.3 .4 .2 .4 .3 .7 .2 .3 .7 .2-.6 .7 .1 .5-.2 .1-.5M232.6 583.5l-.1 .5 .7-.1 -.5-.1 -.5-.4 -.4 .2 -.8-.1 -.1-.7 .5-.4 .2-.6 .6 .4 -.5 .4 -.6-.1 -.3 .6 -.4 .6 -.2 .8 -.4-.5 -.3-.4 -.7 .1 -.2 .7 -.6-.4 .5 .1 .7 .3 .6-.2 .5 .6M254.5 580.9l.7 0 -.7-.3 0-.8 .2-.6 .5 0 -.1 .5 -.4 .3 -.6-.4 -.4-.2 -.1 .5 .2 .5 -.5 .6 -.7 .5 .2 .4 .4 .2 -.1-.8 .3-.4 -.2-.5M265.8 572.0l-.3-.3 -.5-.3 -.5 .4 .3 .4 .4 .6 .5 .5 -.1-.4 -.1-.7 .7 .2 .5-.2 -.5-.2M237.8 561.2l-.2 .5 .4-.4 -.2 .5 -.5-.6 .5 .1 .2-.4 .4 .3 .5 .6 .4 .4 .7-.5 .3-.8 -.4-.1 -.4-.4 -.8 .2 .1-.6 .5-.2 .7 0 -.7 0 -.6 .4 -.1 .8 -.7 .2 .5-.3 .4-.3 .2 .5 .3 .4" stroke="#4348ae" fill="none" stroke-width="0.55" stroke-opacity="0.85" stroke-linejoin="round"/><path d="M280.7 591.8l-.5 0 .7-.4 -.6 .2 .4 .2 -.1-.8 -.6 .5 .7 .1 .4-.4 .3-.6 .4-.4 -.2-.5 0-.7 .3-.6 .4 .6 -.3 .6 .3-.8 .5-.6 .6 0 .3 .6 .5 .6 -.3-.7 -.5-.3 -.6-.2 -.6-.5 .6-.5 .2 .4" stroke="#78d8b8" fill="none" stroke-width="0.55" stroke-opacity="0.85" stroke-linejoin="round"/><path d="M337.0 491.8l.3 .4 .5-.5 -.1-.7 .2-.4 .5 .5 -.3 .8 -.4-.3 -.5-.4M322.2 496.6l-.8 .2 -.5-.1 -.8-.1 -.6 .4 -.7-.3 -.6-.3 -.7 .2 .5 .7 .4 .5 .7 .2 .2 .5 .2 .7 -.2 .5 -.2 .4 .6 .1 .4-.2 .3-.4 .1 .7 .2 .6 -.1 .8 -.2-.4 -.4 .3 .7 0 -.3 .4M327.0 496.2l.8 .2 -.6 .4 .4 .7 -.7 .2 0-.5 -.8 .3 -.6-.6 -.4-.7 -.8-.3 .3-.7 -.6 .3 -.4 .4 -.5-.2 -.5-.4 0 .8 -.6 .5 -.6 .4 .4 .7 -.3 .5 .1 .6 -.6 .4 -.7 .4 .5 .2M337.8 479.6l-.2 .4 .3 .6 .4 .5 .2-.6 .3-.4 .8 .1 .2-.8 .3-.7 -.4-.3 -.3 .6 .5-.6 -.8 .1 -.5-.2 .3-.4 .1-.7 .8 0M319.3 457.9l-.3 .6 -.4-.7 .7 .1 -.1 .8 .3-.6 -.1 .5 -.1 .8 .1-.4M336.1 501.5l.7-.5 .6-.3 .4-.7 -.6 .1 -.8-.1 .5-.2 -.8 .1 .6-.1 -.7-.2 .6-.4 .7 0 -.3 .3 .3-.7 .1-.5 .5 .5 -.4 .4 -.5 .4 -.3 .6 .1 .6 .2-.6 -.6-.1 -.1-.7 -.4 .5 .2-.8 .1-.8 .5-.1M314.9 517.4l-.4-.4 -.4-.3 -.8 .2 -.7-.3 -.7 0 .6 .4 .5 .4 .2 .4 0 .5 .3 .4 .8 .2 .3-.3 .7-.4 -.6 .6 -.1-.7 -.5 .7 -.6 .4 .3-.5 -.4-.6 -.4 .5 .6 0 -.4 .2 .8 .2M357.0 497.3l-.3-.5 .3-.6 .1-.5 -.6-.1 0-.5 .6-.5 .4-.4 .3-.4 -.6-.6 .3 .5M349.3 481.4l-.5 0 .7 .1 .4 .3 .2 .6 .2 .6 0 .6 -.5 0 -.7 .3 -.4 .5M320.0 459.3l.2-.6 .5 0 -.4 .6 -.5 .7 -.6 .5 -.4 .7 .4 .3 .1 .5 -.3-.7 .5 .4 .7 .3 .6-.3 .4-.6 0-.5 0 .6M310.3 476.0l-.5-.3 .5-.6 .3 .5 -.5 .4 -.6-.5 -.7-.2 .3-.7 .3-.3 .5 0M327.3 506.6l-.8-.2 .3-.4 .5 .1 .5 .1 -.1 .5 -.8-.2 .8 .4 .3-.4 .3-.5M316.1 516.3l.4-.3 -.6-.4 .2-.6 -.5-.2 .6-.3 .3-.4 .1-.5 .6-.1 .1 .8 -.1 .5 -.5-.1 .5 0 -.5-.1 .7 .4 .7 .4 -.2-.5 .8 .1 0-.5 -.5 .1 .4-.2 .5 .3 .4-.7 -.2-.6 .2-.5 -.2-.7 -.4-.4 .3 .5 .7 .4M310.1 499.6l.6 0 .5 .5 .6 .3 -.3 .6 -.6 .4 .3 .6 -.6 .5 .1 .7 0-.8 -.8-.1 .5 .3 .5-.4 -.2-.8 .3-.4 -.2-.7 -.1-.8 -.4 .6 0 .7 -.3 .7 -.7-.3 0-.5 -.6 .5 .1 .5 .7 .2 .7-.1 .7-.2 .1 .8 -.8 .1M320.6 517.9l.6 .5 .1-.8 -.6-.2 -.8-.1 -.5-.3 -.4-.4 0-.6 -.2-.5 .6-.1 -.6-.1 -.1-.5 -.7-.5 -.5 .5 -.5 .4 .6 .1 .8-.3 -.3 .7 -.4-.3M347.3 490.1l0-.6 -.6-.1 .2-.6 .4-.7 .8 .2 .2-.5 -.2 .7 -.6 .1 -.3-.7 -.6-.3 -.7 .1 -.7 .1 -.5 .1 0 .5 .5 .2 .3-.8 .5-.3 -.2 .8 -.4 .4 -.1 .5 -.6 .3 -.6 0 .1 .5 .8 0M335.7 467.5l-.6 .4 0-.5 .2-.6 .5 0 .4-.3 -.5 .2 0-.5 -.5-.3 .1-.8 -.5-.2 0 .5M354.5 484.5l-.4-.6 .6 .6 .4-.7 0 .6 -.2 .7 -.7-.4 -.5 .2 -.5-.4 -.6-.2 -.1-.6 -.5 .5 -.6 .4 -.5 .1M345.6 496.7l-.7-.4 .3 .5 .4 .6 .5-.1 .6 .2 -.4 .4 -.3 .5 .8-.3 .4-.4 .2-.7 .5-.3 .3 .6 .2 .6 .7 .1 -.6-.5 .4 .7 -.2-.5 -.1-.6 .4-.5 -.7 .4 .2-.8 -.5-.1M318.9 487.6l.8-.1 0 .5 .8 .1 -.1 .6 .1 .5 .7-.4 -.1-.6 .4-.2 0-.5M325.3 492.9l.7 .3 -.3 .6 .6 .2 -.1 .8 .5 .6 0 .6 -.5 .2 -.6 0 .6 .5 .2 .5 .2-.7 .4 .5 .4-.6 -.8-.2 -.1-.6 -.1-.7 -.3-.6 -.5-.2 0 .6 .8-.3 -.5-.6 .7 .1M321.8 490.9l-.1-.8 .4 .2 -.7 .4 .3 .8 -.4-.5 .6 .1 -.7 .2 -.4-.4 .5 .3 .3-.7 0 .5 -.6-.4 -.7-.2 -.3-.4 .4-.8M302.3 457.1l.1 .5 .7-.2 .1-.6 .5-.6 .5-.1 .3-.4 0-.6 .4-.4 .4 .5 0 .6 -.4 .6 .6-.3 .5 0 .3-.5 .2 .6 -.4 .4 -.3 .7 .4 .3 0 .5M339.9 486.9l-.3-.7 .3-.4 .3 .7 .8-.1 .7 .1 -.6-.4 .5 0 .4-.5 -.7-.1 -.5-.1 -.2-.7 -.4-.6 -.6-.6 -.7 .1 .7 .2 -.3 .5 -.8-.2 -.5-.5 -.6 0 -.5 .3 .1-.7 .2-.8 .2 .6 0 .7M352.1 520.1l.4-.4 -.6 .2 -.1-.8 .2-.4 -.5-.1 .3-.4 -.1-.8 0-.6 -.8 0 0 .8 .6 .5 .5 .6 0 .6 0-.8 .6 .6 .5 .3 .1 .5 .2 .6 .5-.1 .6 .2 .5 0 .5 .7M303.9 479.3l.5 .2 .2 .5 .5-.2 .6 .1 -.5-.4 -.6-.1 -.5-.4 .6 0 .5 .6 -.7 .3 .7-.3 .3 .7 -.1-.6 .2-.5 -.7-.1 .3 .7 -.1-.6M320.0 498.3l-.4-.6 .4 .3 .2 .7 .5 .4 .8 .2 -.2-.4 .3-.5 .4 .5 .7 .2 -.6-.2 -.6-.2 -.4 .5 -.5 .6 -.3 .6 .4 .5 .8-.2 .2 .5 -.4 .5 .8 0 .5-.2 .8 .1 .1-.5 .1 .5 -.1 .7M308.5 470.1l-.7-.5 -.1 .6 .5-.4 .3 .3 -.4-.7 -.5 .1 .6-.5 -.6-.2 -.3-.4 .4-.3 .4 .5 .6 .1 .5 .4 -.4 .5 -.5-.6M332.8 477.5l.4-.2 .6 .5 -.6 .2 -.6 .1 .6-.6 .1 .7 -.5-.1 -.2 .5 .7 .2 -.2 .6 .2-.6 .1-.5 .4-.4 .7-.5 .6 .4 .5 .7 -.1 .7M358.5 474.4l.3-.4 .5-.3 -.6 .5 .4-.7 -.1 .6 .3-.4 -.7 .2 .2-.4 -.3-.5 .5-.3 .6 .3M348.5 478.9l.7 .2 .5 .3 -.5 .2 -.3 .7 .6 .4 .4-.5 .5 0 .3-.5 .2-.6M332.2 495.0l-.4 .5 .6 .1 .8-.1 .8 0 .3-.8 0-.6 -.3 .5 .4-.3 .7-.1 .4-.6 -.4-.6 .6 0 .4 .2 .3 .6 .2 .4 -.4 .7 -.3-.7 .4-.3 -.1 .5 -.8-.2 .7 .1 -.5 .3 -.5-.7 .1 .8M319.5 515.6l-.7 .1 -.5 .3 .8 .2 .5 .2 -.5-.3 .1-.7 .4-.5 -.2-.5 -.3-.4 0-.5 .5-.1 -.7-.3 -.8-.1 .6-.5 .4-.4 -.6-.6 .8 .2 .7-.4 .3 .3 .6-.6 -.5-.5M322.3 492.6l-.5 .2 -.3 .5 .6-.3 -.4 .4 -.1 .8 -.4 .6 .3-.4 -.3-.4 -.4-.5 -.5 .5 -.4 .6 -.1 .6 .6-.3 .6-.4 -.6-.4M301.2 475.2l.3-.5 -.6 .3 .2-.6 .5-.2 .1-.6 -.8 .3 -.1-.6 .1-.8 -.6-.3 -.5-.5 .5 0 .2 .4 .8 .1 -.1 .5 -.4 .6 .4 .5M323.5 468.5l.4 .5 .5-.3 .4 .5 -.5-.1 -.6 0 -.3-.4 -.5-.6 0-.6 .3-.3 .4-.5 0 .7 .3 .6 .5 .2 -.4 .4 .6 .4 -.8-.3 -.2 .4M331.0 484.9l-.7-.2 -.5-.2 .5 0 -.4-.3 -.2-.7 -.1-.7 -.7 .4 -.7 .2 -.1-.6 .1-.8 -.4 .2 -.5 .1 -.5-.6 .1-.8 .1-.5 -.3 .5 .4 .6 .4 .5 .4-.6 -.5 .3 -.6-.3 .6 .4 .4 .4 .8 .3 -.7-.5M330.7 462.3l.2 .8 -.1-.5 .1-.6 -.8 .2 -.3 .4 -.5-.2 -.5 0 -.3-.5 -.2-.6 -.4 .4 .4-.4 .6 0 -.5-.7 .5-.5 .1 .6 -.4 .3 .7-.5 -.1-.7 0 .6M300.3 466.4l.4-.2 .4 .6 .8 0 .8 .1 -.6-.2 .5 .3 -.4-.7 -.4-.7 .2-.6 -.2-.6 .8 0 -.2 .7 .5 .7 .3-.6 .6-.3M354.9 474.3l0 .6 -.4 .6 .3 .8 .6-.5 .3 .6 -.1 .5 -.7 0 -.5-.1 .7 .3 0-.5 .5-.1 .1-.6 -.1-.6 -.4-.3 .5 .3 .5-.2 .1 .5 .3 .5 .5 .3 .3-.7 -.3-.4 -.2-.4 .4 .5 -.5 .4 .1 .5 .4 .3 -.5 .3 -.4-.2M347.8 478.1l-.5-.4 0 .6 .4 .4 .3 .7 -.2 .6 -.5 .5 -.4 .3 .5 .4 .4 .6 -.2 .7 -.4 .6 0-.6 0 .5 .7 .2 -.2-.6 .2-.7 .4-.4 -.4-.4 .5-.4M314.2 473.6l.3 .6 -.4 .3 -.5-.4 -.5 .4 -.3 .3 -.7 .4 -.1-.7 -.4-.6 -.3-.7 -.7-.1 .5 .1 -.2-.7 -.4-.3 .4-.3 .3-.6 .6-.1 .6-.5 0-.6 -.1 .5 0 .7M328.4 513.6l.4 .4 -.6-.4 -.4 .4 .1-.8 .1-.8 .6 .1 .3-.3 -.1-.6 .5 .2 .2 .7 0 .7 0 .6 -.2 .6M303.5 496.2l-.5-.2 .5-.5 .4-.7 -.2 .7 .6 .3 -.4 .1 -.7 0 -.6-.2 .1-.5 .5 0 .6-.3 .5-.3 -.6 0 .5 .5 .5-.5 -.4 .4 .7-.1 .1 .7M342.4 514.6l-.5-.1 .1 .6 .5-.3 -.6 .1 -.6-.2 -.4-.1 -.4-.4 -.2-.5 -.4 .5 .2 .7 -.4 .5 -.3 .5 -.3 .5 -.4-.4 -.4 .6 -.5-.1 -.3 .5 .4 .8 -.2-.5 -.7-.3 -.8-.1 .2 .5 -.4 .4 .6 .5 -.5 .1 .3 .5 .4 .6 .2 .5M337.8 472.4l-.6-.4 -.2 .6 -.1-.4 -.1 .5 .4 .2 0 .6 .6 0 -.7 .4 -.5 0M319.6 504.6l.7-.2 .3 .8 -.6 0 -.7 .3 -.4 .3 -.7 .4 -.4-.3 -.2-.5 -.2-.8 -.4-.4 -.6 .4 -.1 .8 -.5 .6 -.7 .3 -.1 .6 -.5-.3 .1 .6 -.7 .1 .1-.7 .7-.3 -.2-.8 0 .8 -.7 .2 .1 .6M314.0 484.0l-.6 0 .1-.5 -.1 .8 -.3-.4 .6-.3 .1-.6 0-.5 -.8 .1 .8 0 -.5 .6 -.3 .4 -.6 .6 .8 .2 .6-.5M311.8 491.1l-.5 0 .3-.5 -.4-.6 .7-.1 -.6 .2 -.3-.4 -.4 .5 -.4-.4 -.4 .4 .1-.7 .1-.7 .1 .6M331.9 471.8l-.2 .6 -.5 .1 -.5-.2 .2-.7 .3-.3 -.6 0 -.8 .2 .5 .3 .1 .6 .6-.1 -.1 .5 .3-.7 -.6 .5 -.2 .8 .1 .7 .3 .7 -.6 .5 .5 0 .8 .1 0-.6 .3-.6 -.5-.1 -.5-.2M337.0 495.1l-.4-.5 0-.5 -.5 .5 -.7 .1 -.3 .4 .2-.8 .1-.5 .1-.8 0-.6 .5-.4 .7 .2 -.5 0 -.6-.4 -.8 .1 -.4-.7 -.5-.1 .1 .7M352.5 483.5l-.1-.6 .3 .5 -.7-.3 .6 .5 .3 .5 .6 .4 .5-.2 0-.6 -.3 .7 .7 .4 -.6 .1 .3 .4 .5 .5 -.4 .4 -.1 .7 .4 .6M332.5 518.7l.7-.2 .7 .4 -.3-.8 -.3-.4 .4-.3 .6-.4 .7-.4 -.2 .5 .2 .6 .4-.5 .3 .7 0 .7M311.6 458.5l.2-.4 .3 .7 0-.6 .6 .6 0-.5 .1-.8 -.4-.4 -.5 .1 .5 .1 -.5 0 .1 .7 .3 .4 -.4 .6 .1-.7 .6 .3 -.6 .4 .3 .4 -.5 .2 -.6-.2 -.3 .6 0 .5 -.6-.5 -.3 .4M343.2 491.4l.5 .5 -.3-.4 -.6 .4 -.7 .3 -.5 .1 -.3-.7 .2 .6 -.6 .1 0-.5 .3-.5 .8 .1 -.4 .5 -.1-.5 -.4-.6 -.1 .6 -.7 .1 -.2 .5 .6-.3 .7 0 .4-.5M346.3 520.0l.4 .3 -.1 .7 .5-.3 0 .7 0 .7 -.8-.1 -.1-.5 -.7-.4 -.3 .7 -.7-.2 .5-.2 .7-.3 .4 .4 .4 .3 -.3-.3 .7-.4 .6 .3 -.2-.5 .5-.2 .7 .3 .6 .3 .1 .7M339.4 489.5l.8 .3 -.6 .3 -.2 .6 .4 .2 .3-.8 0-.5 .2-.4 -.8-.3 -.4 .2M335.7 499.0l-.4 .5 .2 .6 -.6 .2 -.6 .2 .1-.8 .5 .4 -.6-.4 -.3 .5 -.2 .5 .6 0 .6 0 -.8-.3 -.1-.6 .1 .7 -.5 .6 -.6-.3 -.7-.4 -.7 .1 0-.8 .2 .4 -.4-.4 .4 .3 .2 .5 -.6 0 .7 .4 .1-.6 -.5 .4M322.6 508.1l.5-.1 .4-.4 -.3 .5 .4 .6 .3-.6 -.4-.6 -.2 .7 -.7-.5 .4-.3 -.4 .7 -.5 0 .7-.3 -.5 .3 .4-.5 .1-.5 -.7 .4 .6 0 .4 .2 -.1 .6 .6-.2 -.4-.2 -.6-.4 .3-.5 -.6 0 -.5 .2 .8 .3 -.5 .5M310.4 491.4l.6-.4 -.5 0 -.4 .7 -.6-.2 .4-.5 -.1 .7 -.1 .5 .2 .6 .4-.7 .3 .4 .3 .5 -.5 .5 -.5-.4 .4-.3 -.4-.5 .2 .5 -.2 .4 .2 .5 0 .7 .3 .5 -.3 .6 -.7-.3 .4 .7 -.2-.6 -.5-.2 -.6 .2M347.7 502.2l.2-.5 -.6 .5 .2-.8 -.1-.6 -.3-.5 .5-.2 -.1-.7 .3 .6 -.7-.1 -.6 .2 -.3-.8 .2 .8 .7-.1 .6-.1 .4-.6 .4 .3 .7 .3 .7 .1 .2-.4 .7-.4 .7-.1 .1-.7 .2 .4 -.6-.1 .4-.2 0-.5 -.4-.5 -.2-.6M343.5 477.3l-.6 .1 .5-.1 -.5 .1 -.2 .5 -.6 0 .4-.2 -.6-.4 .4 .3 -.3 .7 -.3 .6 .3-.4 .7 .1 .3 .3 .3 .7 .3 .8 .1-.6 .1-.6 .5-.1 -.2-.4 -.5-.2 .6 .1 .3 .7 -.6-.1 -.7 0 0 .8 .1 .5 .1-.8M334.2 484.7l-.2-.6 .7 .2 -.6-.1 .7 .2 .5-.4 .6 0 .2 .7 .5 .2 -.7 .4 .2 .5 .6 .5 -.2 .5 -.6 .2 .1 .5 .5 .2 .4 .3M302.0 517.4l0-.8 .3 .6 -.5 .1 -.5 .2 .3-.3 .1-.4 -.1 .7 -.5 .6 .5 .4 -.3 .5 .5 0 .1 .7 .3-.6 -.4 .4 .2-.7 -.3-.6 .8 .3 .5 0 .7 .2 -.1-.8M315.1 477.2l.8-.2 .4-.5 .3 .4 -.1 .8 -.6 0 -.3-.6 -.6-.2 -.1-.8 -.6 .4 0-.6 .5-.5 0-.6 -.6 .1 -.8 .2 .6 .6 -.1 .7 .1 .6 .2 .6 .7 0 -.2 .6 .2-.6 .3-.4 .5 .2 -.4 .5M319.1 476.6l-.1-.7 .5-.5 0-.6 .7 .1 -.5 .3 .6-.5 -.7-.2 -.3-.6 .5-.3 .5-.4 .4-.4 0-.6 -.7 0 -.2 .4 -.5-.1 .7 .2 .4 .5 -.3-.3M306.5 480.8l-.4-.6 -.3 .7 .4-.4 -.6 .4 -.7-.1 .4 .5 -.8 0 -.5 .6 .4 .6 -.5 0 -.2 .5M330.7 503.1l.7-.4 .2-.7 .7 .2 .4-.1 -.7 .2 -.8 .2 .5 .7 .6 .6 -.5-.7 .3-.4M346.9 521.4l-.6-.3 -.6-.6 -.6-.1 .7-.3 -.7-.5 -.2-.5 .5 .6 .3 .5 -.1 .7 0 .5 -.4 .4 -.5 .2 -.1-.6 -.2-.6 .7-.2 .4-.4 -.3 .6 .5-.5 .6-.3 .2-.5 -.6 0M343.2 484.2l.1-.6 -.6-.5 .5-.1 -.2-.6 .7-.2 .1-.5 -.3 .6 -.2 .6 .4 .6 .1 .5 -.3 .5 .7 0 -.4-.5 .1-.6 -.5 .6 -.8 0 .1 .6 .4 .1 .1 .7 0-.5 .4 .5 .5 0 -.5-.1M322.5 460.4l.3 .5 -.1 .7 -.4 .3 -.5 0 -.3-.6 .5-.4 -.8 .1 .4 .5 -.5 .2 .3-.8 .8 0 .7-.2 .3-.4 .3-.4 .3-.5 -.6-.5 .2-.5 -.3 .7 -.5 0 -.5 .3 -.3 .7 -.2-.4 -.4 .7 .6-.5 -.5-.1 0-.8 .7-.3M324.2 483.4l.8 .3 .7-.1 -.5 .5 -.6 .5 -.6 .2 -.5-.5 .6 0 -.7 .3 -.8 .2 -.7 .1 -.7 .1 -.2 .5M354.4 494.1l.6-.4 .4 .7 -.6 .2 .6 .5 .3 .5 -.4-.6 0-.8 -.1 .6 .7 .2 -.4-.2 0 .8 0 .7M323.8 459.9l.4 .2 .5-.5 -.5-.1 -.5 0 -.7 .2 -.5 .2 -.4 .3 .5-.2 -.5 .3 -.3 .4 -.8 .2 -.1 .5 .5-.6 .7 .4 -.7-.1 -.6 0M348.6 487.1l.4 .2 -.4-.4 -.2 .4 -.6-.6 -.4 .5 -.3 .8 .7-.1 -.3-.8 .6 .4 .3 .7 .3 .7 -.8-.1 .1 .8M343.9 488.7l-.5 .2 .1 .7 .1-.7 .6-.2 -.4-.4 .5 .1 -.7-.2 .6-.4 0 .5 .2-.8 .4 .2 .5 .1 .3-.6 .6 .5 .5 .4 -.4-.6 .7-.3 -.6-.5 .8-.1 .1 .6 -.6 .1 -.5 .7 .4 .3 .6 0 .6-.3 .1-.8M348.0 513.5l-.8-.1 -.2 .4 -.4-.4 -.5 0 .1 .6 -.7-.3 .7 .5 .7 .4 .6 .4 -.8 0 -.7-.2 .1-.7 -.5 .7 .5 0 .6 .1 0 .8 -.4 .6 .5-.2 -.1-.8 .5 .6 .6 .6 -.2-.8 -.3-.6 .3-.4 .3 .3 .4 .1 .7-.4 -.4-.3M355.0 492.7l0 .6 -.5-.2 0-.8 .4-.6 -.2 .8 0 .5 .3 .7 -.5-.4 -.3 .6 -.6 .5 -.6-.1 -.5-.2 -.7 .3 .2 .6 -.6-.3 0 .7 .1 .8 0-.8M355.6 513.9l.1-.5 .2-.5 -.4-.7 -.1-.5 -.6 .4 .6 .5 .3 .3 -.4-.6 .8-.2 .3-.7 0-.6 -.4-.5 -.6-.6 -.6-.4 -.8 0 -.5 .2 -.3-.7 -.7 .3 -.5-.3 -.4 .3M357.3 515.5l-.5 .2 .6 0 .3-.6 .3-.4 .7 .3 -.5 .2 .5-.2 .1 .8 .8 .1 -.7-.3 -.5-.5 .7-.4 .5 .2 -.5-.5M343.4 472.9l.7 0 .6 .2 .2-.7 .1 .5 .4 .2 -.1 .5 -.1-.6 .7-.4 -.3 .4 -.4 .4 .4 .2 -.3 .4 -.1-.7 -.6 .5 -.6-.5 -.1-.6 .4-.6M315.7 518.0l-.4-.3 .8 .1 .4 .4 -.1-.8 .2-.8 .5 .2 .6-.5 .6 0 .8 .2 .7-.3 -.5 .1 .3 .3 -.5 .1 .2 .5 .6 0 .6 .2 0 .5 .2-.6 .4-.2 .5 .2 -.3-.5 .3-.4 0 .5 -.3 .4 .7-.2M339.3 499.3l-.6-.3 -.8-.1 -.6 .4 -.8-.2 -.2 .6 .2 .4 .4-.3 -.6 .3 0-.8 -.7 .3 .3 .7 .5-.3 -.3-.6 -.1-.5 -.5-.5 -.2 .5 -.5 .4 .2-.5 .3 .5 -.3-.8 .2-.8 .2 .8 -.7 .3M316.2 498.2l-.6 .4 -.3 .6 .5-.2 .5 .3 .5 .5 .5-.1 -.7-.2 -.6-.4 -.1 .7 .6-.5 .1-.5 -.6-.2 -.4-.5 -.3 .5 -.7-.1 -.8-.1 -.4-.4 .1-.5M302.3 472.4l-.7 .1 .4 .3 .1 .5 -.8 0 -.2-.6 -.2-.5 -.3 .6 .6-.3 -.1 .8 -.3-.7 -.8 0 -.6 .6 -.2-.5 -.5 0 0-.7 -.8 0 .6 .3 .1-.7 .1-.5M317.3 473.8l.3-.4 .5-.2 .7 0 -.1 .5 -.7 .5 .5-.1 .7-.3 -.3 .4 .3-.5 -.1-.7 .6 0 -.4-.7 -.6-.4 -.8-.3 .5 .2 -.6 0 -.4 .2 0-.7 -.8-.1M342.8 516.8l-.2-.6 -.2 .5 .4-.6 .2-.7 .4-.4 -.4 .4 .2 .6 .4-.7 .3-.4 .7-.2 .2-.7 .4-.6 0 .6 -.6 .1 .4-.4 -.3-.5 -.3-.4 .6-.3 .6 .4 .7-.3 .2-.8 .5-.4 .5-.4 .5 0 -.4 .4 -.7 .1 -.7 .2 -.7-.2M341.1 507.3l.6-.5 -.6 .5 0 .5 .2-.5 .3-.6 -.2-.8 .6-.1 -.4-.3 0-.8 .4-.5 .8 .2 -.2 .6 .1 .6M350.2 513.8l.2 .5 .8-.4 .3 .5 0 .6 -.5-.1 .3-.6 .3-.7 -.7 .3 -.3 .6 .3-.7 .8 .1 .4 .6 .2 .5 .6-.1M303.3 519.1l-.7-.1 .7-.3 -.6-.2 .4 .4 .5 .6 .5 0 -.3-.8 -.3-.5 .3 .5 .4-.6 .4-.4 .7-.3 .4-.4 -.8-.2 -.5 .3 -.3 .7 -.7 .3 -.6-.3M312.5 474.4l.7 .1 -.2-.5 .4-.6 0-.7 -.1-.7 -.7-.2 -.5-.6 .1-.7 .2 .7M328.7 514.5l.6-.1 .3-.4 .5-.7 .2 .8 .1-.7 -.5-.2 .6-.5 .5-.5 .3-.6 -.2-.7 -.3-.4 .1 .7 -.6 .4 -.5 .1 -.4-.2 -.5-.1 -.6-.1 .5-.2 .2-.6 -.1-.5M347.4 475.9l.7 .2 -.7 .4 -.7-.3 -.6 .1 -.3 .4 .6-.2 -.4 .7 -.8 0 -.1-.7M311.1 501.2l.7 .3 .5 .6 .5-.3 .6 .5 .4-.7 .7 .2 .6 .2 .6-.5 .4-.3 .6 0 -.1-.5 -.5 .3 -.4 .4 .5-.5 -.4 .5 -.3 .7 0-.5 -.5-.2" stroke="#5560c0" fill="none" stroke-width="0.55" stroke-opacity="0.85" stroke-linejoin="round"/><path d="M310.0 505.3l.3-.5 .6 0 .5-.6 -.4 .4 -.5-.3 -.4-.3 -.3-.7 .1 .8 0 .8M316.8 485.3l0-.7 -.3 .5 .4-.2 -.4 .5 .5 .1 0 .7 -.3 .4 -.7-.1 -.5-.4 -.6 .5M313.0 512.1l-.7 0 -.4 .6 -.7-.2 -.6 .3 .7 .3 0-.8 -.4-.4 .1-.6 -.5 .3 .6-.6 -.1-.4 .2-.8 -.4-.8 .1-.7 -.5 .2 -.5-.5 -.7-.1 -.5 .1 0-.5 -.3-.4 -.5-.4M356.3 477.1l-.5 .6 .3 .4 -.4-.4 -.6 .5 -.5 .2 0-.5 .5-.2 -.7 .1 .2 .5 -.7-.3 -.5-.3 -.2 .4 .1 .7 .6 .3 -.4-.4 .4-.3 .3 .4 .4 .3 -.5-.3 -.4-.3 .7 .1 -.7 .2 -.4 .8 -.2 .6 .7-.1 .2-.6 -.2-.7M320.5 497.3l.5-.1 -.5-.1 .6 0 .5 .2 .2 .7 -.3-.4 -.4 .4 .1 .5 .4-.5 -.6 .3M322.4 484.6l.2 .6 .4 .4 0 .5 -.6 .3 .6 .5 0-.8 .6 0 -.5-.1 -.4-.7 -.3-.4 .2 .5 0-.7 -.8 .3 -.6 0 -.2-.5 .5 .6 -.4 .6 -.6 .6 -.4 .7 .8 .3 .4 .3 .6 .3 .4 .7 .7 .2 .7 .1 -.4 .4 .2 .5 .3 .5M306.8 501.7l-.5 .6 .5 .3 -.7 .1 .4-.5 .4 .6 -.6 .3 .6 .5 .5-.4 .7-.5 -.6 .1M325.2 510.1l-.3-.7 -.4-.5 .4-.6 -.5 .3 -.5-.6 -.3-.5 -.6-.6 -.4 .3 -.2 .6 -.3 .6 -.5-.5 -.4 .4 -.1-.5 -.1-.7 -.6 .1 -.2 .7 .6 .5 -.7-.1 -.4-.7M313.4 468.3l-.4-.6 -.5-.3 -.4-.4 -.2-.7 .2-.8 .5 0 .2-.5 .2 .5 -.7-.4 0-.5 -.3-.7 .3 .4 .2 .6 .5 .4 .5 .1 .2-.8M349.0 516.8l.3-.4 -.4 .3 .8 0 .5-.5 .1-.8 -.7 .1 .1 .7 .6-.2 -.5-.3 -.6 0 .1 .5 .2 .7 .1-.8M321.0 465.7l.6 .1 -.3-.6 -.1 .5 -.8 .2 -.7 .4 .4 .5 0-.5 .8-.2 .5-.3 0 .5 .5-.2 0-.5 -.2-.5 .6-.1 .4-.4 .1 .7 .6-.2 .7 .1M329.5 498.5l-.1 .8 .3 .4 -.5 0 .5 .2 -.5 .1 -.5 0 -.4-.5 -.2 .8 .2 .5 -.7 .4 .6-.5 .7 .4 .5-.5 .7-.4 -.5-.3 .3 .4 -.1 .8 .6-.4M305.1 501.2l-.5 .1 .6 .4 -.2 .4 -.1 .8 .5-.4 .5 .3 0 .7 .3-.8M307.2 458.6l.5 .1 -.2 .8 -.5 .6 .5 .3 .5-.2 -.5-.1 -.2 .6 -.3 .5 -.4-.3 .2-.4 -.6-.1 .5-.2 .5 .6 .4-.5 -.1-.5 -.2 .4M351.7 484.0l-.3 .6 -.5 0 -.2 .8 -.7-.3 -.5 .5 -.7 0 .2-.4 .1-.5 -.4-.7 -.4-.6 -.3 .6 -.4-.5 -.4 .4 -.4 .4 .4-.5 .3-.6 -.2-.5 -.5-.5 0-.7 -.2-.5 -.6 .2 -.5 .3 -.8 0 0 .6 -.4-.6 -.5 .3M308.2 467.0l0 .7 .4 .7 .7-.2 -.5 .2 -.1 .7 .1 .8 -.7-.5 -.4 .4 .8 .4 -.4-.2 -.7 .1 -.2 .7 -.1-.7 .6-.1 .6 .3M338.7 502.6l.8 .2 .3-.4 -.7 .3 .7-.5 .3 .3 .3-.8 .7-.3 -.6 0 -.6-.6 .7 .1 -.6 0 -.4-.5 .8-.3M326.6 483.1l0 .8 0-.5 -.3 .8 -.5-.3 .6 0 .4 .3 -.7 .3 -.7 0 -.4-.5 .1 .8 -.6-.5 0 .6 -.5 .1 -.4 .3 .3-.4 -.3-.4M351.8 509.9l-.6-.3 .1-.5 -.1 .6 -.5 .4 -.3-.5 .5-.6 .8 .1 .4 .5 -.2 .5 .5 .3 .4 .7 .8-.2 .4-.5M323.8 504.2l.4 .7 -.4 .4 -.1-.8 -.6-.4 -.2 .6 .8 .1 -.3-.7 .6-.4 .6 .4 .7 .2 -.1-.7 -.3-.8 .6-.2 .4 .2 -.4-.3 -.3-.4 -.3 .8 -.6-.1 .2-.7 .8-.3 .4-.3 -.8-.1M316.8 498.5l-.1 .5 -.7-.1 .5 .1 -.4-.5 -.6-.3 -.3-.8 .7 0 .1 .5 -.5 .7 0-.6 -.6-.1 -.7 .2 -.3 .6M329.7 473.2l-.4-.4 .6 .2 .3-.5 .6-.4 .5 .6 0 .5 -.3 .6 .5-.4 -.7-.4 -.5-.3 .2 .6 .4-.3 .3-.4 .4-.4M324.4 512.9l.2-.8 .3 .5 .6 0 -.6-.1 .1-.7 -.2-.4 -.6-.4 -.6 .5 .8-.1 .4-.2M327.7 495.7l.4-.3 .2-.8 .1-.6 -.2-.4 -.4-.5 -.6-.4 -.5-.2 .8 .1 .5-.5 -.5 .1 -.5-.2 -.4-.7 .2 .5 0 .5M356.3 511.4l.5-.2 -.8 0 .4 .4 .6-.4 -.1-.5 -.4-.3 .6 .3 .7 0 .3 .6 .5 .6 .7 0 -.4-.4 .1-.6 .2 .5 .5-.3 -.5-.2 -.3-.4 .2-.5 .3-.4 .1-.5 -.3-.7 -.6 .4M339.3 476.6l-.4 .7 .6 .2 -.1 .6 -.1 .5 .2-.7 -.2-.7 -.2-.8 .7-.4 .4 .4 -.5-.2 0 .6 -.6-.1 .1-.5 0-.7 .4 .3 -.6-.6 -.3-.6 -.6-.5 -.1 .5 .6 .2 .7 .3 .6-.2M352.1 496.5l.2-.8 -.4 .7 -.6 .3 -.6 .5 -.4-.5 -.2-.8 .3-.4 -.2-.6 -.2-.7 -.6 0 -.6 .1 -.6 0 .2-.5 -.4-.6 .6-.1M314.9 508.4l.5-.4 .8 .3 .7-.3 -.5-.6 -.3 .4 -.5 .1 -.5 0 -.5 .4 .5 0 -.6 .2 -.5-.5 -.7-.3 -.5-.6 0-.5 .5-.6M331.6 468.6l-.5 .6 -.1-.7 -.7 .1 .5-.1 .2 .4 -.1 .5 -.4-.3 .7-.3 .8-.2 -.5-.4 .4 .4 .4-.7 -.4-.1 0-.8M303.0 510.8l.6 .1 .7 0 .2 .5 .3 .4 .4-.5 -.7-.4 .6-.4 .5 .4 -.2 .6 -.2 .4 0 .8M328.4 475.5l.3 .4 .5 0 .6 .5 .3-.6 .2-.7 .8 .4 .8 0 -.1-.6 .7-.4 -.1-.6M336.1 492.5l-.4-.8 -.6-.5 .1-.5 -.6-.2 -.7-.1 .1-.6 .7 .4 .4 .2 0-.5 .5-.4 -.8 0 .6-.2 .4-.2 .6-.4 -.3-.5 .1-.8 .3 .4 .2 .6M326.5 497.7l.2 .6 -.5-.3 .5 0 .2 .5 .4 .6 .3-.6 .5 .3 -.5 .5 -.6 .4 -.6 .2 -.4 .5 -.1 .5 -.1 .7 .2 .6 -.4 .5 -.3 .8 -.2 .8 -.2 .6 -.2-.4M326.1 467.2l-.6-.3 -.3-.5 .7 .1 .8 0 .6 .1 -.2-.6 0 .8 -.6 .6 -.6 .4M339.7 516.8l-.6-.1 -.5-.1 .3-.3 .7-.3 .6 .1 .5 .4 -.7-.2 .5 .1 -.1 .5 0 .5 -.6 .3 -.5-.2 .7 .2 .4-.4 .4-.8 .2-.5 .3 .4 -.2 .4 .7 0M306.9 509.9l.6 .3 -.4-.3 .3 .5 .1 .5 .2 .5 .6-.3 -.7-.2 .3-.4 -.5-.3 -.1 .7 .7 0 .5 .1 .5 .1 .4 .7M301.9 462.3l-.1 .5 .4-.3 -.6 .2 -.7-.2 -.7-.4 .7 .1 .6 .1 .1 .8 -.4-.1 -.6 .6 -.6 0 .4 .6 0 .6 -.4-.6 .1 .8M354.4 495.8l.7 .3 -.5-.4 -.6 .1 -.4-.6 -.8-.1 -.5-.1 -.6-.4 -.4 .1 .6 .1 -.5 .4 -.4-.5 -.6 .3 .3 .5 .4-.6 -.1-.8 -.7-.2 .2 .7 .8-.1 .6-.5 .5 .1 -.6 .3 .5-.6 .5-.3 .4 .1 .3-.4 .5 .1M321.0 482.2l.7-.3 .1-.5 .5-.6 .2-.7 -.6 0 -.5-.3 0-.8 .2 .5 -.2-.5 -.6 .2 -.5-.4 -.4-.3 0-.7 -.3 .3 -.6 .6 -.2-.5 -.7-.1 -.4-.7M337.1 484.1l.5-.1 -.7-.2 -.6 .3 -.4 .3 -.6-.5 .4-.1 .6 .2 0 .7 -.7-.3 .2 .5 -.8 .1 -.1-.7 .7 .3M338.0 505.7l.4 .4 .5 .7 -.6 0 .4 .5 .5 .1 .7-.5 .5-.4 .6 .1 .7 .1 .7-.3 -.4-.6 -.6 .3 -.1 .8 -.7-.4 .4 .5 .3 .7 -.2-.5 .3-.5 .6 0 .8 .1 .3-.4 .5 .5 -.3 .7 -.4-.4 -.4 .3 -.6-.3M317.0 460.5l-.7 .1 .1 .8 -.4 .7 -.1-.5 -.7 .3 .1 .7 .4 .8 -.3-.8 .4 .6 -.5 .4 -.5 .2 -.1 .7 0 .5 .5 .4 -.6 .3 -.6 .1 -.4 .2M344.9 502.5l-.5-.5 -.5 .6 .2-.5 .5 .4 .5-.4 .6 .3 .2 .8 -.8 0M306.2 502.0l.7 .3 -.8 .1 -.2 .4 -.6 .1 .1-.8 .5-.7 0-.5 -.2-.5 -.2 .7 .2 .5 -.7-.3 .5-.2 .2 .6 .1-.5 .6-.3M307.2 514.3l.7-.3 -.8-.2 .4 .6 .5-.4 -.4 .6 -.4-.6 -.8-.1 -.5 0 -.5-.5 -.7-.2 -.3-.8 -.1 .5 .6 0 -.6-.2 -.4-.5 -.6-.4 .1-.8 -.5-.2 0-.8 -.2-.5M317.1 480.8l.7-.2 .6-.3 .5-.4 -.5 .5 -.5-.6 -.5 0 -.2 .4 .8 0 .2-.8 -.5-.1 .4-.5 -.6 .2 -.5-.6 .1 .7 .3 .3 .1 .6 -.5 .3 .7-.5 0 .5 -.2 .5 -.6 0M308.8 510.4l.4-.2 0-.6 -.3 .6 -.6 0 -.6-.2 .2-.5 .5-.2 .1-.7 -.7-.2 -.7 .4M303.4 491.3l-.1 .5 .3 .5 -.5 0 .2 .7 -.5 .5 -.6-.5 .4 .6 .8 .2 -.5 .7 0 .8 .2-.5 .5 .2 .4 .1 .1 .5 -.6 .3 -.6 .2 -.7-.3 -.6 .1M313.4 506.6l.1-.5 -.6-.5 -.7-.4 -.7-.4 -.1 .7 -.7 .4 .1 .7 -.5-.2 -.2-.6 .5-.1 .5 .1 0-.8 .5-.6 -.1-.5 -.8 .1 -.1 .8 -.4 .3 .7-.3 .5-.3 -.8-.1 -.1 .7M341.5 511.7l-.1-.7 .4 .3 .5 .3 .3-.6 -.4 .7 -.4 .4 -.5-.3 -.6-.1 -.5-.1 .7-.3 -.5-.4 -.7 .3 -.7 .4 0 .7 -.6 .3 .5 .4 -.2 .4 -.7-.2 .2 .6 .4 .3 .6 .2 .5-.1M345.0 512.6l-.6-.3 -.3-.6 .1-.5 .4-.3 -.5 .4 .7 0 .4 .3 .7-.2 -.2 .6 .3-.3 -.3 .4 -.4 .3 -.5 0M315.3 477.0l0-.5 .5-.1 .5 .3 -.1 .7 -.2 .7 .1 .5 .1-.8 -.8 .1 -.5-.1 .7 .5 .5-.1 .7 .2 -.8 .2 -.7 .2M337.2 480.5l.4-.4 -.3-.6 .1-.8 -.8-.1 -.6 .5 .6-.3 -.6 .4 .1 .8 .6 .6 .7-.1 -.1 .5 -.4-.6 .3-.4 -.4-.4 -.4-.5 -.6 .2 0 .5 -.2 .4 -.8 .2 -.4 .7 .8 .2 -.4-.5 -.8 .2M331.1 505.1l.6-.6 -.7 0 0-.7 .1-.5 -.2-.5 .5-.1 .6 .2 .3-.4 -.6 .1 -.6 .6 -.6 0 .4-.6 .4-.7 .7-.1 .2 .8 -.6 .1 -.5 .4 -.5-.6 -.4-.4 -.7 .2M302.7 520.7l.3-.4 0 .7 -.7 .1 .7 .2 -.6 .3 -.6 0 -.8 0 -.2 .5 .5-.4 .5-.6 -.6 .4 -.8 .2 .6-.2 -.7 0 -.5-.4 -.4-.3 -.6 .3M321.7 501.2l-.3-.4 -.5 .4 -.2 .7 -.6 .1 -.1-.4 .7 .5 .8 .1 .5 .2 .6-.1 .4-.3 .3-.6 -.2-.4 -.5 0 -.5-.3 .2-.6M350.3 518.8l.5 .3 -.5 .3 -.3-.8 -.2 .7 .8 .2 .6-.3 .4 .3 -.6 .4 -.7-.1 .5-.3 .2-.7 -.1 .8 .4-.5M352.3 498.8l.6 .2 -.3-.6 -.4-.4 .3-.5 .6 .1 -.3 .4 -.5 .3 -.4-.3 -.7-.5 .4 .5 .3 .5 -.8 .2 -.3 .5 -.5 0 .3 .4 -.7 0 .1 .5 -.4 .7 -.1 .8 .6-.3 0-.6 -.1-.7 .1 .7 .1 .6 -.3 .7 -.4 .6 -.5-.5M337.9 473.9l-.4 .1 -.5 .4 -.5 .3 .1-.5 -.4 .2 .3-.6 .1-.5 .8-.1 -.5 .4 -.1 .6 -.8 .1 -.1 .6 .5 .1 .5-.2 .6 .5 0-.6M301.3 460.8l-.3-.4 .3-.5 -.4 .6 -.4 .4 -.1-.7 .8 .3 -.4 .3 .3 .4 .1-.8 -.2-.6 -.3 .7 -.8 .2M358.2 492.8l-.5 .4 -.3-.5 -.4 .4 .5-.1 .5 .1 .1 .5 -.6-.2 .2-.4 -.3-.6 .6 .2 .6 0 .1-.7 .1-.8 .1-.5 .6 0M319.4 514.1l-.2-.5 -.5 .4 .8-.1 -.5 .2 -.2 .6 .5-.2 .3-.7 .8 .2 .6 .5 0 .6 .1-.8 -.8 .2 -.7-.3 .6-.4 .3-.6 .1 .7 -.2 .6 .8-.2 -.2-.8 .7 .1M331.4 474.9l.5 0 -.7 .1 0-.7 .6-.4 -.4-.5 .2-.7 .1 .5 -.6 .2M354.8 477.9l-.8-.1 -.4-.1 -.5-.1 -.7-.2 0-.5 -.2 .5 .7 .1 -.4-.6 -.4-.7 -.1 .6 -.2-.6 0-.8 -.1-.6 .5-.1 .3-.5 -.7 .1M310.8 498.9l.5 .2 .3 .6 .8-.2 .5 0 .7 .2 .5-.5 .5 .5 -.7 .1 .6 .6 .5-.1 -.5-.2 -.5 .5 -.6 .2 .4 .3 0 .5 .5-.5 .7-.2 .2 .7 -.5-.2 .4 .3 -.1 .5 -.5 .6 -.3 .8 .1-.7 -.6-.5 -.5-.2 -.4-.4M328.9 495.3l.2-.8 .3 .7 -.5 .2 .7-.2 .5-.4 -.5-.1 -.2 .8 .3 .4 .5 .3M343.3 480.8l.2 .7 0-.5 -.5-.5 -.5-.7 .2 .8 -.6 .3 .5 .2 .7 0 .6 .4 .8 .2 -.3-.6 -.5 .7 .1-.6 -.5 .1 -.5 .4 -.5-.1 .5 .5 -.5 .2 .6 .3 .3 .5 -.4 .4 -.5-.7M302.1 459.0l-.2-.5 -.6 0 .6 0 -.7-.3 -.5 .3 -.5-.3 -.5 0 -.5 0M322.3 509.3l-.6-.1 .5 0 .7 .1 .6 .4 0 .8 .7 .4 .6 .5 .5 .1 .6-.3 -.7-.2 .3-.6 -.2 .5M356.1 483.6l-.2 .6 -.8 .2 -.1-.5 -.5 .4 -.5-.5 .2 .6 .7 .2 0 .7 -.8 .2 -.1-.5 0-.6M318.6 517.6l-.8 .2 -.7 .2 -.7 .4 -.5 0 .7-.5 .4-.4 -.5-.6 -.3 .8 -.6 0 -.5-.4 -.3 .4 -.2-.4 .4 .5 .7-.2 .3-.5 .4-.3 -.8-.3 -.5-.4 -.8 .3 -.6-.2 .1-.8 .4 .3 .5-.2 .7 .1 -.7-.5 -.7-.4 0-.8M340.7 469.8l-.5 0 -.6 0 -.5 .2 .1-.5 0-.6 .5 .3 .5 .4 -.8 .1 -.2-.7 -.2-.5 -.3-.7 .6-.4 -.6-.1 .2 .4 .4-.3 -.5 .1 .6 .1 -.2-.5 0 .6 .4 .5 -.3 .5 .2-.8M353.3 488.3l.3-.5 -.6-.6 -.4 .3 -.3-.7 -.2-.5 .5 .6 -.3 .5 -.3-.5 -.5-.5 .2-.4 .2-.5 .3 .5 .7 .1 .5-.2 -.5-.2 .2-.7 .2-.6M314.9 460.4l-.5 0 -.7-.1 -.6-.5 -.2 .5 -.8 .3 .6 .4 -.5-.1 -.5-.6 -.6-.6 .6-.4 0 .8 0 .5 -.8 0 -.7-.4 -.6 .4 -.6 .2 0-.6 .6 .5 .1 .7 -.2 .4 -.6-.4 -.6 .2 -.4-.4 -.5-.3 .1-.5 -.5 .4 -.4 .3 -.4 .2" stroke="#4348ae" fill="none" stroke-width="0.55" stroke-opacity="0.85" stroke-linejoin="round"/><path d="M308.3 487.6l-.1-.5 -.4-.6 .7-.2 -.4-.5 0-.5 .5 .1 .7-.3 .6-.4 -.2-.7 .6 .3 .4-.5 -.5 .3 -.8 .2 -.2 .5" stroke="#78d8b8" fill="none" stroke-width="0.55" stroke-opacity="0.85" stroke-linejoin="round"/><path d="M335.7 470.0l.3 .6 .1 .7 -.7-.1 .4 .6 .1-.7 -.6-.2 .1 .8 0 .5 -.4 .2 -.6-.3 -.5 .4 .4-.1" stroke="#b8e060" fill="none" stroke-width="0.55" stroke-opacity="0.85" stroke-linejoin="round"/><path d="M317.1 581.9l.5 .4 -.7-.2 -.2-.7 .1-.6 .6-.1 -.7 0 .6 .5 .5 0 .4 .5 -.6 .1 .8 .2 -.1 .8 .4 .4 -.1 .6 -.5 0 .4 .7 -.4 .5 -.3-.7 .5 .5 -.2-.6M320.5 546.0l-.4-.2 -.1 .7 -.5-.3 -.3-.6 -.8 .1 .7-.5 .1-.6 -.6 .2 -.6-.2 .3 .7 .5 .4 -.5-.3 .4-.3 .7 .1 .4-.5 -.6-.1 -.2-.4 -.5 .3M317.8 589.8l-.3-.4 0-.5 -.3-.4 .1 .8 .5-.1 -.8 .2 -.2 .6 .8 .1 0 .7 .6 .1 .6-.4 -.6-.3 .5 .1 .6 .1 .6 .3 -.1 .6 -.4 .5 -.7-.3 -.4-.4 0 .7 .1 .6 .7 .4 .8 .1M349.9 552.4l.4 .5 -.5-.1 .4-.5 .6 .5 .4-.2 .5 .5 -.6 .4 .2 .8 -.4 .5 .2-.7 .1-.8 -.3 .6 -.1 .6 .4 .5 .4 .7 .2 .8 -.1-.6 -.1 .5 .3-.3 -.5-.1 -.1-.5 -.5 .6 .7 .2 .5-.5 -.2 .6 -.4 .6M320.0 577.9l.6 .3 -.3-.7 .1-.6 .3-.5 .4 .6 .3 .4 .1 .6 .8-.3 .7 .3 -.7-.4 -.8-.2 -.1-.8 -.4 .5 .5 .2 .5-.3 -.4-.6 -.1-.6 .1-.6 .7 .2 .4-.7M358.5 550.0l.2 .5 .2 .8 -.4 .4 -.8 .1 -.4-.1 -.3 .6 -.4 .2 -.8 0 -.6 .5 -.3 .4 .2 .7 -.5 .4M304.2 537.7l.6-.5 -.3-.4 -.4-.2 .3-.3 .4 .7 .6 .4 -.4 .4 -.8 0 0 .5 -.7 .2 0 .5 0 .7 -.5 .5 0 .6 .2-.8 .4 .5 -.6 .1 .6-.5 .3-.4 .4-.7 -.7-.3 -.7 0 .3-.5 .4-.3M304.3 551.6l.6-.2 -.5 0 -.5 .2 .1 .4 .2-.5 -.6 .5 -.5 .2 .1-.8 -.5-.6 .8 0 .3-.4 -.4-.5 .5-.1 .3-.5 .7-.4 .6-.1 .4-.2 -.4-.5 -.5-.3 -.5-.6 .5 .4 .1-.7 -.2-.5M336.7 581.1l.1 .8 .6-.4 -.6 .3 -.3-.5 -.3-.3 -.2-.4 -.2-.4 -.3 .7 -.4 .1 0-.7 -.3-.5 -.5-.6 -.4 .4 -.2-.7 .6-.4 -.1 .7 -.4 .4 .7 0 .4 .4 -.5-.2 .1-.5M314.6 535.4l.1 .6 -.3 .4 .6 .1 .6 .5 .8 .3 .6-.5 .2 .7 -.8 .2 .2 .8 0 .7 .3 .4 .6 .5 -.8-.1M317.2 582.2l.2-.6 -.1 .5 .5 .1 -.6 0 .2 .6 -.5 .7 .8-.1 -.6 .5 -.6-.6 -.1-.6 .6-.4 -.2-.6 -.4-.5 .7 .4M350.8 544.1l-.1-.8 .6 .3 .8 0 .6-.4 -.1 .7 -.2-.8 -.5 .3 -.7-.2M295.8 527.7l-.8 .1 -.4 .2 .8 .1 .2-.7 -.5 .2 .1-.7 .7-.1 .5-.4 .6-.2 .3 .4 -.2 .6 0 .8 -.4-.5 0-.8 -.1-.7 .7-.2 -.6 .5 .5 .5M348.0 576.0l-.7-.2 -.7-.5 -.6-.2 .2-.7 .5-.7 .3-.3 -.2-.6 0-.6 -.6 .3 .7-.1 .3 .5 .4 .3 .2-.8 .2-.5M317.8 555.5l.3 .4 .4 .6 .1 .6 -.4 .2 -.6 .3 -.6 .4 -.6-.2 -.5-.6 .6-.5 -.4-.3 -.5-.2M326.8 589.0l-.6-.4 .5 .4 .3-.5 .2 .5 .2 .8 .6 0 .2-.7 .3-.6 .1-.6 .4-.6 -.7 .2 -.6 .2 -.5 .3 -.5-.5 .1-.4 -.5 .1 0 .8 .4-.4 0-.8 .3-.6 -.1 .6 -.1 .7 -.3 .6 .5-.1 .4 .7 -.4 .5M350.5 543.7l.6-.1 .4 .7 -.5 .3 0-.5 -.7-.3 .5-.4 -.2-.7 -.4-.2 .3-.4 -.1 .6 0 .5 -.4-.5 .2 .4 -.4-.7 -.5-.2 -.3 .6 -.4 .4 -.5 0 .4 .5 .3 .5 .2 .7 .3 .6 .6 .5 .1 .8 0 .5 .6-.1 -.1 .4M319.9 566.5l-.5 .4 -.4-.7 -.4-.6 .1-.6 -.1 .6 -.7 .4 -.3-.5 -.5-.2 -.1-.7 .1-.5 -.1 .5 -.2-.5 -.6-.5 -.2 .4 -.1 .5 .8 .3 .7 .3 -.5 .1 .1-.5 -.4 .4 -.7 0 -.3-.8 -.1-.6 .7 .2 .7 .3 .2-.7M307.6 547.8l.6-.1 .2 .6 -.6 .1 .6-.2 -.7 .3 0-.8 .3-.3 -.4 .1 -.6 .1 .7 .3 -.1 .7 .7-.2 .6 .5 .2-.7 .7 .2 .6-.4 .4-.4M333.5 571.6l-.8-.3 -.2 .5 .6-.4 .5-.1 -.5-.2 -.6 .5 -.2 .7 .6 0 -.5 .1 -.1 .8M303.6 552.9l.1 .5 0-.6 .4-.1 -.2-.6 -.6 .1 -.2-.5 -.5-.2 -.4 .3 -.2 .4 -.5-.3 -.3 .4 -.1-.5 -.6-.5 .2-.5 .1-.5 .5-.5 .5 .1 -.5-.7 -.6 0 .3 .4 -.8-.2 -.2 .7 -.5-.4 .2-.6M324.0 590.6l-.6 .1 .4 .2 -.6 .1 .5-.1 .6-.2 .4 .2 -.6 .5 -.7 .4 .6 .4 .8-.1M330.4 577.7l-.7-.1 -.4 .6 -.2 .7 .7 .3 .8 0 -.7-.2 .2-.8 -.1 .6 -.1-.8 .6-.6 .2 .7 0 .7 -.7-.1 -.6-.1 0 .7 .7 .3 -.5 0 .4 .2 -.3-.5M336.9 565.0l.4-.3 -.1-.8 .2-.4 -.6-.4 .2-.7 .8 0 .3 .3 .3 .4 .5 .6 -.5 .5 .1-.5 0-.7 -.4-.5M319.2 589.1l-.8 .1 .5 .5 .1-.8 .5-.6 .3 .4 .4 .7 -.6 0 .5-.4 .7-.4 -.7-.1 -.6 .2M358.8 572.1l-.3-.5 -.7-.4 -.7 0 -.2-.8 .1-.5 .7-.4 -.2-.5 .3-.4 .5 0 .2-.5M304.4 560.8l-.5 .2 -.6 .1 -.5-.2 .3-.8 .7 .1 -.7 .3 .4 .1 -.7-.3 -.2-.7M350.3 548.0l-.2 .8 -.6 .4 -.5-.4 -.4-.4 -.2 .4 -.4-.7 -.4 .5 .6 .2 .6 .4 .5 .6 .7-.1 .1-.7 -.6-.3 .7-.3 .5 .2 -.3 .7 .4-.2 .1-.5 -.6 .3 -.4 .8 .6 .4 -.7 .4 0-.6M337.2 549.7l.4-.7 .4-.4 -.2-.5 0 .6 .5-.3 -.1-.7 -.4-.2 .6 .3 .5 0 .8-.2 .5-.5 .5 .1M332.7 567.8l-.5-.6 -.3-.6 0-.6 -.7 .3 .1-.8 0 .7 -.8 .3 .7 .3 -.2-.5 -.2-.6 .7-.3 -.3-.5 .3 .7 -.5 .1 -.6 .3 -.1-.4 0-.7 -.5-.6 .6 .2 .5-.2 -.4-.2M329.9 538.7l.1 .5 -.6 0 -.4 .4 -.2 .4 -.5 .4 .5-.1 .5-.2 -.1-.6 -.4-.5 .6-.6 .7 .1 .6 .1 .4-.6 .6-.5 -.6 .1 -.7 .3 .5-.1 0 .5 -.6-.5 .6-.1 .5-.6M330.3 545.3l-.1-.5 -.2-.6 -.5 0 -.6 .5 .2 .6 -.7 .4 .5 .2 .4-.3 -.3 .4 .5 .7 .5 .4 .2-.5 -.5 .5 .1 .8 -.2-.8 -.5-.1 -.1 .5 .2 .5M321.3 585.8l.1 .8 -.4 .6 -.3 .7 -.7-.3 .6-.4 .4-.4 -.3-.6 .1-.5 .5-.5 .6-.5 .2 .8 .7-.1 .6-.5 -.2 .7 .4 .6 -.5-.3 .1 .5 -.4 .4 -.3 .4 .5-.6 .5 .5M319.1 558.9l-.6 .5 .7 .4 .3-.5 -.5 .4 0-.7 .1 .6 .1 .7 0 .7 .1-.5 .6-.1 -.4 .4M358.5 592.5l.5 .3 -.4 .3 -.6 .1 -.8 .2 .3-.4 -.4 .2 .1-.8 .7-.2 .2 .4 -.7 .2 -.7 0 .6-.4 -.7 .1M304.9 578.8l.6-.4 .6 .5 .6 .3 -.6-.3 -.4 .5 -.6-.1 .2-.5 .2-.6 .6-.2 -.8-.1 -.5 .5M331.8 570.6l-.2-.6 -.1-.7 -.2 .7 -.7-.5 .5 0 -.5-.5 -.5-.5 -.2 .4 -.5-.7 .5-.2 -.3-.4 .5 .4 .1 .6 -.1 .6 -.8 0 .3 .5 0 .6 -.4-.3 .5-.6 .3-.4 .7 .1 .2 .6 -.7-.3 -.4 .5 0-.6 -.8 .3M339.7 581.1l.4-.7 -.7-.3 -.3-.4 -.6-.5 .6-.3 .1 .4 .5-.1 .7 .2 .5 .4 .4 .3 .3-.6 .2-.7 -.6 0 .3-.4 -.3-.5 .1-.8 .3 .4 -.4 .3 -.6-.2 .6 .2 .8 .1 .7 .4 .5-.5 -.4 .5 .2 .6 .3-.6 .3-.7M327.0 561.7l-.5 .5 -.7 .3 0 .8 -.1 .6 .5 .2 -.5 .2 -.6 .1 0 .5 -.2 .7 -.8 .1 .5 .1 0 .6 0-.5 .8 .1 .3 .5 .4 .5M338.8 579.2l-.5 .2 -.3 .5 .4-.2 .1 .4 .6 .5 -.1 .6 -.5-.3 .5 .1 .1 .8 -.8 0 -.6 .1 -.6 .1 -.4-.5 .6 .1 -.6 .6 -.7 .3 -.2-.4 .4-.6 .7-.2 .2-.8 -.1 .8 -.6 .2 -.3 .4 .8 0 .6 .5M314.0 583.1l-.2-.4 .1-.6 .5 .1 .3-.3 -.1-.8 .6 .3 .3-.3 .7-.3 .7-.5 -.5-.4 -.2-.5 -.1-.5 -.5 .2 -.6 .3 -.5-.1 -.4-.3 -.7 .2 -.3-.4 .7-.4 .6 0 .5 .4 -.4 .4 -.5-.3 .5 0 .1-.8 .3-.6M302.6 536.4l.3 .7 0 .5 -.2 .7 -.8-.3 -.4-.5 .5 .3 -.2 .8 -.8 .3 .2 .8 -.2-.5 -.6 .4 -.1-.5 -.7 .2 -.5-.2 -.3 .5 -.5 .4 -.8-.3 -.4-.4 .2-.6 -.2 .7 .5-.4 .1-.8M303.3 592.8l.7-.1 .7-.2 .5-.1 .5-.5 .4-.4 .6 .5 .4-.6 .1-.7 -.4-.2 -.2-.5 .1 .7 -.1-.5 .5-.1 0 .6 -.2 .6 -.4 .3 .8-.2 -.3-.5 -.5 .4M351.8 569.5l.8 0 -.6 .2 .1 .8 .6-.3 .1 .7 .6 .4 -.6 .2 -.4-.5 .5 .1 .7-.1 .6-.4 .5 0 -.2 .4 .7-.2 -.4 .3M322.4 538.3l.5-.3 .6-.2 -.6 .3 -.5 .7 .2 .7 -.4-.7 .1-.5 -.8 0 -.6 .5M343.0 565.9l-.4-.3 -.8-.1 -.6 .4 -.3 .4 -.7 .4 -.6 0 -.6-.3 -.1 .7 .2 .6 .8 .1 .1-.7 -.2 .4 -.7-.4 -.1-.7 -.2-.8 -.5-.3 .2-.6 -.4-.3 -.4-.4 .2 .5 .7 .2M327.9 566.4l-.4 .7 0 .5 -.3 .4 .4 .7 -.5 .3 -.3 .6 .3 .3 .1 .7 -.7-.3 -.6-.2 .5-.6M308.9 590.9l.4 .7 -.4-.6 .5 .4 0 .5 .8-.3 .1-.8 -.7-.4 0-.5 .1-.4 -.4-.4 .7-.2M332.6 590.3l-.4-.5 -.4-.2 .6 .5 -.7-.3 .6 .4 -.3 .6 -.7 .1 -.2-.6 -.2 .7 -.4 .6 .3 .5 .1 .7 -.4 .4 .1-.8 -.5-.1 .4-.4 .2 .5 -.1-.5 .8 .3 -.1 .5 -.1-.8 .8-.2 .1-.7M338.1 547.9l-.6-.5 -.5 0 -.2 .8 -.5 .5 -.4-.2 -.7 .4 -.4-.2 -.6 .3 -.5 .1 -.2-.8 .5 0 -.4 .4 .1-.6 .8 .1 -.4-.3 -.3-.6 -.7 .4M356.0 563.0l-.4 .1 .7 .3 .3 .4 .2 .8 -.3 .6 -.3 .5 -.3-.5 .4-.2 -.7-.3 .5-.3 .8 .1 .4-.4 -.6 0 -.3 .6 -.4 .4 .1-.5 -.5-.7 -.1-.6M326.5 570.6l.7-.5 .1 .5 .5 .4 -.2 .7 -.2 .6 -.5-.5 -.2-.7 -.3-.4M322.0 544.1l-.5-.5 .1 .6 -.4 .7 .3-.7 -.1-.7 .4 .5 -.4 .3 -.5-.5 -.5 .4 -.5 .1 0 .6 .7-.1 .5-.5 .6-.2 0-.5 -.1-.5 .1-.6 .6 .1 .2-.7 .5 0 .7 .3 -.4 .2 0 .5 .2 .8 -.5 .1 .2-.7 .5 0 -.6-.3M329.3 586.8l-.1 .7 .8 .3 -.6 .4 -.4 .7 .2 .6 .1-.6 -.6-.5 -.6 .1 .1 .7 -.5-.6 -.3-.6 .4 .6 .7 0M337.0 570.3l.5 0 -.1-.7 .4 .5 .3 .6 .5-.2 .4-.3 .4-.3 .6 0 -.2-.8 -.2-.7 .3 .5 .5 .4 -.8 .2 -.2-.5 -.6 .2 -.8 .2 -.1-.7 -.7 0 -.3-.4 -.5-.4 .4 .6 -.4-.7M350.0 562.6l.3 .6 .6 .2 .5-.3 .4-.6 -.3-.4 -.8 .2 -.6-.4 -.5 .7 -.6-.2M332.8 542.4l-.6-.1 .6 0 .2-.6 .3 .7 .8-.2 .7-.2 -.4 .6 .7 .1 -.5 .1 -.8-.2 .1-.4 -.5 .2 -.7-.2 -.6-.2 .7 .1 .6 .2M322.3 541.3l.2 .7 -.1 .8 .5-.4 -.1-.7 .7 .4 -.7 .4 .5 .2 .5 0 -.2-.6 .6 .2 -.3-.7 .1-.5 -.6 .2 -.2 .8 .7 .4 -.3 .5 .8 .2 .3 .6 .1 .8 .5 .5 .5 0 -.7 .3 -.7 0 .6 .4 .4-.3 -.4 .3M315.2 580.4l.6-.3 -.4 .6 -.4-.2 -.7 .2 -.5 .2 .2-.7 .4-.4 .5 .3 .5 0M306.7 539.3l.4 .1 .4-.4 0-.6 .3-.8 -.5 .2 .7 .3 -.7 .3 .7 .2 .3-.7 .6 .1 .4 .2 .4-.7 -.6 .1 -.6-.1 .6 .1M343.0 556.1l-.1-.4 .3-.6 .6-.2 0-.5 .2-.6 .6 .2 -.1 .7 .5-.1 -.8-.1 -.8-.1 -.3-.8 -.1 .6 .5 .3 .3-.5M351.4 552.5l-.1-.4 .1 .7 -.3 .7 -.3 .7 -.1-.5 -.6-.5 -.6 .2 -.7 .1 .1-.6 -.5-.2 .4 .5 -.1-.8 -.6-.3 .7-.5 -.7-.3 -.1-.8 -.6-.3 .4 .4 -.5 .5 -.6-.3 -.7 .3 -.1 .4 .1 .8 -.3 .4 -.4-.6 .5 .3M343.8 546.5l.5 0 0 .7 0-.6 .3-.4 .6-.2 .7 .3 .3 .6 .1-.7 .3 .5 -.6 0 .5 0 -.5-.2M341.6 539.8l-.3-.6 .5 .1 0-.5 .7 .3 -.1 .8 .7-.3 .5 .3 .7 .3 -.1 .6 -.1-.7 0 .7 .3-.3 .3-.5M338.8 548.5l.4 .6 -.6 .5 -.1-.8 -.5-.2 .1-.8 0 .7 .4 .4 .5 0 -.4 .7 .3-.3 -.3 .6 .5 0 -.3-.6 .5-.3 .1-.7M306.9 582.8l.1 .7 -.3 .7 .4-.4 .2-.6 .3 .6 0 .8 -.7 0 .2-.4 .3 .5 0-.7 -.5 .2 -.5-.3 -.2-.7 .6-.6 .1-.6 -.6-.1 -.7-.1 0-.7 -.3-.4 -.6 .2 .8 .1 .2 .7 -.8 0 -.1-.5 -.3-.7 .4-.5M314.0 554.4l.1 .7 -.5 .2 -.7 .5 .8 0 .3 .4 .5 .1 -.6 .2 -.2 .5 .5-.7 .3-.4 -.5-.2M328.0 531.7l0 .7 -.8 0 .3-.4 -.5-.2 -.6 .1 .4 .5 .7-.3 .6 .2 0 .8 -.2-.5 -.3-.7 -.1 .6 -.5-.2 -.7-.5 -.4-.4 -.3-.6 -.5-.7 0-.8 -.3-.6 .3-.8 .3 .3M306.2 552.5l-.7-.4 -.8 0 -.6 .5 -.5-.4 -.5-.1 .5 .4 -.2-.6 .2 .6 -.1-.6 -.6-.4 -.1-.8 .7-.3 -.1 .5 .3 .3 .3-.5 -.4 .3 .2-.7 -.7 .2 .5 .1 .4 .1 .8 .1 .4-.7 -.5-.2 -.4-.7M328.6 588.0l-.4 .7 0 .6 .5-.5 .4-.3 .6-.1 -.2 .5 -.5 .3 .1-.5 -.7 0 .1-.6 .6-.5 -.1 .8 -.3 .5 -.5-.3 0 .7 -.7 0 -.1-.6 .3 .6 .3 .5 .3 .5 -.7-.4 -.4 .5 .5-.3 .8-.4 -.4 .6 .2 .5 .1 .5M307.8 573.8l.2-.6 0 .5 -.1-.6 -.2-.5 -.3 .5 -.3 .5 -.6 .5 .4 .2 .8 0 .4-.7 .7-.2 .7 .1 .5-.6 .5-.3M334.3 586.7l.5 .4 .1 .7 .5 .2 -.7 .1 .4 .7 -.3-.7 -.6-.5 -.5 0 .2 .4 -.3 .6 .1 .8 -.7-.2M302.0 547.0l-.6 .2 -.2-.5 .5-.6 -.6 .6 0 .8 .4-.3 .1 .5 .2 .7 .3 .5 .6-.1 .8 0 .4 .3M339.6 541.5l-.4-.3 .2-.7 .7-.5 -.3-.6 -.4-.5 .6-.3 .1 .5 -.7 .3 -.3-.4 .7-.3 -.1 .6 -.7 .1 -.4 .4M328.1 574.0l.5 .3 .8 .3 .5-.5 -.5-.4 .6 .1 -.4 .6 0 .7 .2 .5 .6-.1 -.2-.5 .1-.6 -.8 0 -.8 0 -.4 .5 -.1-.8 .7 .3M337.0 574.8l.5 .2 -.4 .3 .3 .5 .1-.8 .5-.6 .2-.6 .7 .2 -.5 .1 -.1 .7 -.6 .4 -.4-.4 .3-.4 .4-.6 .4 .7 .8-.3 -.1 .5 .7-.1 -.7-.4 -.4 .6 .5-.3 .4 .4M315.3 590.9l0-.8 -.5 .4 -.4-.5 -.7-.2 -.3 .7 -.6 .6 -.2 .6 -.2 .4 -.4 .2M335.5 538.5l-.5 .5 -.3 .6 .3-.5 -.2-.5 .2 .7 -.3-.4 .6-.1 0 .8 -.7 .4 .3 .4 .6 .3 .6 .5 .5 .3 .6-.6 -.6 0 -.3 .5 0 .6 -.5-.7 .3-.4 -.6 .1 -.3 .7 -.7 0 0-.8 .2-.7 -.1 .5 .3 .7" stroke="#4348ae" fill="none" stroke-width="0.55" stroke-opacity="0.85" stroke-linejoin="round"/><path d="M309.7 551.1l-.6-.6 -.3-.6 -.2-.5 -.3 .5 -.3 .6 -.7 .1 -.6-.1 .3 .5 -.3 .3 .1 .7 -.5 0 -.4 .5 .1-.5 .8-.3 -.2 .5 -.4 .4 -.4 .2 -.8-.4 -.6-.1 -.5 .4 .5-.5 -.4-.1 -.2-.8 -.5-.4 .1-.6M354.2 555.1l-.2-.5 .5 .3 -.8 .1 .6 .2 -.7 .1 -.7-.1 -.5-.4 -.7 .1 -.6 0 -.6-.1 .3 .6 -.2-.5 .2 .5 -.4 .5 .1 .8 .7-.2M330.0 589.4l.3 .4 .6 .4 .1-.6 .5-.2 -.2-.6 .1-.7 .7 .1 -.4 .6 -.2 .7 -.5-.3 -.4 .6 -.5 .2 -.5 0 .6 0 -.7 .1 .6 .1 .6 0 -.5-.4 -.5-.2 -.5-.4 -.5 .4 .5 0 .2 .4 .2-.5 .4 .4 .5 .4M331.4 554.8l-.1 .8 .4 .4 .7 .2 -.5 .5 -.3 .8 -.5 .1 -.5-.3 -.8-.2 -.2-.6 -.1-.5 -.2-.8 -.7-.2 0-.6 -.4-.5 .6 .6 0 .5 .2-.6 -.8-.3 -.7-.2 0-.6 .7-.4 .5-.4M319.0 556.4l.6-.3 .2-.4 .7-.3 .6-.5 .2 .6 .4 .2 -.5 .3 .6-.5 -.2-.6 -.2-.7 -.5-.2 .6-.1 .2 .4 -.7 .2 -.3 .3 .1 .5 -.4-.5 .1 .4 -.5-.6 -.8 0 -.4-.3 .1 .8M340.8 591.7l-.3 .5 .2-.7 -.3 .7 -.5-.2 .6 .2 .6-.6 .1-.7 -.5-.4 -.7-.1 -.3-.6 -.1 .8 .5-.2 .2 .8 -.2-.8 -.8-.2 .4-.1 -.3-.3 -.4 .3 .5 .4 .4 .5M332.5 553.1l.5-.3 -.6-.5 -.5 .5 .4-.3 .6-.4 -.5-.6 .7-.1 .1 .6 .7-.2 -.5-.7 -.4-.3 .2 .8 .2-.8 .4 .6 .4 .4 .5 .7M355.1 591.2l0-.8 .1-.8 -.4-.6 .4-.5 -.3 .7 -.5-.2 -.4-.6 -.5 .5 0-.5M333.4 551.2l.1-.5 -.2-.8 -.7 .2 0-.5 .2-.7 .5-.6 .4-.7 .2-.6 .8 0 -.6-.4 -.3-.4M348.6 577.3l-.8 .1 .1 .8 -.3 .4 .8 .1 .4 .6 .6 .3 -.5-.4 0 .7 .5 .6 -.4 .5 -.5 .5M304.5 556.7l.5-.1 -.1 .5 -.4-.1 -.4-.6 .2-.8 .6-.3 .1-.6 .8 .2 .6 .1 .3 .4 -.3 .5 -.8 .1 .3 .5 .5-.1 .1 .7 -.4 .2 -.3 .4 -.2 .5 -.5 .6 .1 .6 .7 .3 0 .8 -.4-.1 .2 .4 .5 .1M341.2 541.5l-.6 .3 -.2 .5 .4 .2 .5 .3 -.4-.4 .6 .4 .7-.2 -.2 .4 -.3 .5 .8 .1 .6-.4 -.5-.2 -.4-.5 .8 .1 .7 .2 .2 .5M340.2 585.1l-.5 .5 -.3 .4 .4 .3 -.5-.2 -.5 .1 -.7-.2 -.6-.5 -.7 .1M341.7 569.7l-.8-.2 .4 .6 -.7 .3 -.2-.5 -.3-.6 -.4 .5 0-.5 .2-.5 .5-.1 .4-.4 .4 .5 .2 .5 .6 .1 .5 .2 -.3-.7 -.6-.2 -.2 .7 -.5 .1 -.5-.5M345.5 581.4l-.1-.8 .7 0 -.2 .4 -.2 .7 -.4 .3 -.4-.5 -.4-.5 -.4 .3 .5-.3 -.5-.2 .5 .3 -.6 .2 -.2 .6 -.4 .5 -.5 0 -.7 .1 -.5 .1 .1-.7 -.5-.6 .6 .3 .2 .5 .5 0 .3 .7 .5-.6 .4-.3 .1 .6 .8-.3 -.3-.7M309.2 548.8l.5 0 .7-.3 .1-.5 .6 .3 .4-.3 -.3-.3 .3 .5 .1 .6 -.4 .5 .5 .4 .3 .6 .5-.3 .1-.8M318.0 560.4l.7 .2 .5-.2 .3-.3 .5 0 .2-.5 0-.6 -.2 .7 .3 .5 .6-.1 .5-.5 .2-.6 .7 .5 0 .5 -.5 .6 -.4 .3 -.6 .1 -.3 .8 .5 .2 -.4-.6 0 .6 .4 .5 .1 .5 -.5 .4 .5 .6 -.4-.3 -.5 .4M309.9 529.8l.1-.5 0-.8 -.7-.5 .5-.2 -.7-.4 0 .8 .4-.4 .7 0 -.4 .5 -.5 0 -.7 .2 -.2 .5 .2 .7 0-.8 -.2-.5 -.6 .6M324.4 579.6l.3-.5 -.2-.6 .4-.4 0-.8 -.4-.5 -.4 .2 -.1-.7 .2-.6 -.4 .6 .4 .2 .6-.4 .7 .1 .4-.6 -.5-.2 .8 0M345.3 588.7l-.7-.3 -.8 .2 .7 .5 -.4 .2 -.1 .5 .5-.2 .6 .1 .5-.3 .1 .8 .2-.5 .1-.8 -.5 0 .7 .4 -.1-.7M336.1 562.9l.6-.3 .5 .3 .6 .1 .4-.2 0-.5 -.5 0 -.4-.3 -.4 .6 -.6 .2 .5 .2 .3 .5 .4 .4 -.6-.4 .1-.6 .5 .1 -.4-.2 -.7-.3 .3 .6 .3-.6 .1 .5 .2-.7 .4-.6 0-.5 .6 .4 -.2 .6M310.2 584.5l-.8-.3 .4 .1 0 .5 -.4-.5 -.5-.3 -.7 .4 -.7-.1 -.7 .2 -.5 .4 -.1 .5 .4-.4 .4-.4 -.2 .6 .3 .8 .6 .6 -.1-.5 -.6-.6 .7-.1 .4-.4 .8-.4 .5 .6 -.5 0 -.5 0M311.8 556.9l-.3 .8 -.7 0 .3-.5 -.8-.2 .4-.7 .4 .5 .7-.2 -.1-.5 -.7-.1 -.3 .5 .1-.5 .6 .2 -.8-.1 0-.6 -.5-.4 -.5 0 -.5 .3 -.2-.7 -.4-.3 -.1-.5 -.6 .2 -.5-.1 -.7-.1M326.6 547.7l-.6 .4 -.5 .6 .3 .4 -.4 .1 -.1-.7 .4 .5 0 .8 .5-.5 -.8-.1 -.7-.3 .2 .6 .8-.2 -.7-.3 -.4-.3 0 .8 .3 .5 .7-.1 -.2-.7 -.4-.8 .6 0 -.5-.5 .5 .2M343.1 563.6l-.4 .4 .3-.6 .3-.7 .1-.5 -.7-.4 -.6-.1 -.6-.1 0 .6 0 .7 -.3-.4 -.6 .1 0 .5 -.1 .6 .5-.1 .6-.2 -.1 .8 .6 .5 -.3-.3 .3-.3 -.5 .7 .8 .3 .4-.3 .6 .4 .5-.1M325.9 577.0l.7-.3 -.5 .3 -.6-.2 .3-.4 .3-.6 .7-.4 -.5-.6 -.4-.3 .2 .8 .3 .5 .5 .1 .5 .5 .2-.6 .6 .1 -.3-.5 -.6-.5 -.2-.4 .6-.4M295.4 530.9l-.5-.1 -.2 .6 -.4 .4 -.5 0 -.4-.2 -.3-.6 .2-.5 .4-.4 .3 .5 .2 .4 .1-.8 .6 .4 .5 .4 -.6 .6 -.2 .6 -.4-.2 -.5 0 -.5 0 .2-.7 .2 .5 .5 0 .3 .7 .6-.2 .5 .4 .4 .6 -.6 0 -.4 .3 -.3 .5M338.1 574.7l.5-.5 -.3-.5 .2-.4 -.7-.2 -.7-.3 .7-.5 -.5 .2 .1-.5 .7-.4 .2-.4 .6-.1 .6-.2 -.2 .7 -.2-.4 -.5-.2 -.7-.4 0-.5 -.8-.2 -.2-.5 .5-.5 -.5 .2M310.9 554.5l.5-.5 .6-.1 -.6 .3 -.7 .2 .5-.1 .5 .7 .6 .6 .3 .4 .6-.2 -.4-.6 .4 .3 .2-.6M318.1 537.1l.6 .2 -.5 0 .4-.6 .4 .3 .7 .1 .3 .6 .1-.8 .4 .3 .2 .5 .3 .4 .5-.1 .5 .1 -.1 .5 .4 .4 0 .7M340.4 567.4l-.4 .7 -.7 .1 -.7-.2 .7 0 .5 .5 -.2-.8 .5 .6 .4 .6 .5-.2 .1 .6 0 .7 -.3 .7M308.8 586.5l.6-.1 .6-.4 -.2 .8 .3-.5 .2 .5 .7 .1 -.5-.5 -.5-.2 -.5 .4 -.4-.6 -.5-.6 .3-.7 .7-.3 -.1 .7 -.7 0 -.4-.4 -.5-.1 -.2-.8 .2-.8 .5-.5 .3-.5 -.3 .6 -.4 .4M349.6 558.0l.6 .2 .8 .2 -.3-.5 .6 0 .2 .5 0 .6 0-.6 .6-.3 .4-.4 -.2 .7 -.4 .4 0-.6 .7-.2 -.2 .4 -.6 .3 -.3 .5M320.6 575.0l.4 .6 -.5 .1 .1-.5 0-.6 -.7-.4 -.5-.6 -.6-.2 -.2 .4 .3 .6 -.6-.1 -.3-.5 .3 .4 .8 .2M320.8 586.9l-.1 .4 .2 .6 -.5-.3 -.2 .4 -.2 .7 .5 0 .8 0 .5 .4 .8 .2 .6 .6 .5 .4 .6 .5 -.2 .5 -.5 .4 -.3 .4 .6-.4 0 .8 .3-.8 -.1-.7 .3 .8 .7-.1 .3-.6 -.7 .3M334.6 561.4l.5 .3 .6 .4 .1 .8 .8-.2 .6 .4 -.1-.7 .4-.5 .7-.2 -.2 .5 -.7-.5 -.4 .6 -.4 .3 .5 .3 -.3 .4 -.3-.5 -.7 .2 -.3-.4 -.5 .4 -.4 .4 -.6 .5 -.2 .7 -.5-.3M320.3 585.9l-.6-.1 .1 .7 .5-.4 .8 .2 .6 .2 0 .8 .8 0 .2 .4 -.8-.1 -.5-.1 -.1 .6 -.1-.8 .3-.5 -.3-.4 -.2 .5 -.1 .6 -.5 .6 .6-.1 -.5-.4 .6 .2 .1 .6 .4-.5 .3 .4 .4-.5 -.5 .2 .3 .7M347.9 552.3l-.3-.7 .2-.8 .1-.8 -.7-.2 -.5 .4 -.4-.5 -.5-.3 .2 .6M348.3 552.1l-.4 .6 -.4 .6 -.8 .2 -.3-.5 .4-.6 -.8 .2 .5 .3 -.5 .3 -.3 .5 .1 .6 .5 0 -.7 .3 -.5-.4 -.2-.6 .6 .5M357.3 547.1l-.6 .1 -.1-.4 -.1-.5 -.1-.5 .4-.4 -.6 0 -.7 .2 -.7 0 -.1-.5 -.3-.4 .3-.6M308.0 575.4l-.8 .1 .1 .8 -.7 0 0-.8 -.4 .5 -.6 0 -.3-.4 -.8-.1 -.7-.2 .1 .8 .4 .5 -.8-.2 -.7 .2 .1 .6 -.3 .3 .1 .7 -.6 .3 -.3-.5 .1 .6 .6 .5 -.3 .7 .6-.4 .4 .3 -.2 .7 -.3 .5 -.4 .4M318.9 573.1l-.7-.2 .3-.6 .1-.7 .5 .2 .3-.4 .4 .4 0 .8 .6-.5 .3-.5 .4 .3 .2-.4 -.1 .7 -.2 .4 -.2-.4 .6 .3 .6-.4 -.5-.5 .2 .5 .4 .5 -.5 .5 -.5 .4 -.3-.6 -.3 .7 -.5 .6 -.3 .7 -.5 .4 .1-.6M331.2 535.8l.2 .7 .4 .7 .4-.3 .1-.6 -.5-.4 -.5-.1 -.6 .2 -.1-.5M343.9 552.0l0 .6 -.2-.4 -.5-.4 .1 .6 .5 .1 -.1 .7 -.3 .5 -.5 .3 -.4-.5 -.4 .6 .7-.4 .3-.7 .5 .1 .6-.4 -.5-.4 .5-.3 .5 .6 -.3-.6 .2-.5M315.4 565.6l-.1 .5 -.1 .6 -.8 .3 -.1-.5 0 .8 .5-.2 -.5-.3 -.5 .1 -.2 .5 -.5 .7 .1 .5 -.8-.1 -.4-.5 -.2 .4 -.5-.4 .2-.7 -.3-.5 -.3-.6 -.5 0M302.8 540.3l.1 .6 -.4-.1 -.4 .6 .3 .4 .5 .2 -.2-.5 .1 .5 .4 .4 -.3 .4 .5-.2 .4 .8 .5 .5 0 .7 -.7 .3 .7 .3 .2 .7M316.0 535.4l-.7 0 -.3 .6 0-.8 -.7-.1 -.4-.3 -.5 .2 -.5-.5 -.6 .4 0 .5 -.1 .6 .3 .6 -.7-.1 -.6-.2 .3 .5 .7 .4 -.5 .5 -.4-.5 .4-.2 .5-.6 .8-.1 .8-.1 .7 .3 -.7-.5 .6 .3 -.4-.4 -.5-.1 0-.7 .4-.4M311.3 567.6l.2 .7 .4 .4 -.6-.3 -.2-.4 .2-.8 -.3-.4 .5-.3 -.2 .6 0-.6 -.3-.8 -.4-.7 -.2 .7 .6 .2 .6-.6 .5 .3 -.5-.6 .4 .2 -.4-.5M321.9 548.2l.2 .7 .3-.5 .6-.2 .5-.1 .7-.3 -.3-.7 0 .8 -.7-.5 .3-.7 .6 .3 .3 .4 .3 .8M305.6 586.2l-.2-.5 -.1 .5 -.8 .1 -.1 .5 -.6 .1 -.7 .2 .7 0 -.3 .5 .5 .4 -.1-.6 -.5-.2 -.8 0 -.6 .6 .3 .5 .4-.6 .4 .3 -.4 .4 -.8-.2 .4-.7 -.4 .6 -.2 .5 -.3-.6 -.6-.5 .2-.6 -.7-.2 -.7 0M315.0 536.6l.5 .1 -.6 .1 -.6 .6 -.5 .3 .6-.1 .8-.1 .1-.5 -.4 .2 -.6-.1 -.6 .5M318.6 565.1l.6 .4 -.4-.7 .7-.1 .2 .6 -.6 .2 -.6 .4 -.3-.5 -.5-.5 -.8 .3 -.2-.5M311.7 545.8l.7-.4 .7 .3 -.5 0 -.3 .5 -.5 .5 .5 .4 .5 .2 -.3 .5 -.5 .2 -.5-.4 -.1-.6 -.8-.1 -.5-.7 -.5 .2 0-.5 -.2 .5 -.6 .6 -.3-.5 -.5-.1 -.4-.3 -.1-.8 0-.6 -.4-.7M357.1 560.2l-.4 .3 .8-.1 -.1 .5 -.1 .8 -.6 .1 -.4 .4 .7 .2 .5-.2 .8 .3 -.5-.4 -.2-.6 .4-.7 .3-.3 -.2 .8 -.4 .4 -.5-.4 .3 .5 -.3-.5 -.2-.8 -.8 0 .5 .3 .8 .2 -.7-.3 -.4 .3M309.6 584.4l.4-.5 .8 0 .3 .6 -.6-.1 .4 .3 .3 .4 .6 .3 -.3 .5 -.3 .6 -.4-.3 .7 .2 -.7-.3 -.6-.1 -.6-.4 -.8-.2 .4-.4 .5 .1 .5 0 -.4 .4 -.6-.4 -.7-.1M338.2 571.8l-.2-.8 .5-.5 -.2-.4 -.3-.6 -.6 .2 .1-.5 -.4 .3 .2-.7 .5 0 -.6 .2M352.5 548.5l.2 .8 -.4 .3 .5 0 .5 .4 -.3 .8 -.7 .4 -.2 .8 -.4 .3 .5 .1 .5-.4 .6 .4 .5 .6 -.3 .7M312.6 540.0l.3-.4 0-.5 .7 .1 -.3 .4 -.8-.1 -.3-.4 .4-.4 -.3-.6 0-.5 -.6-.4 -.4-.5 .5-.6 .6-.4 -.4 .2 -.7-.3 .4 .7 .4 .3 -.7-.4 -.2 .5M356.7 557.4l.1 .7 -.5-.3 -.1 .6 -.6-.1 .5 0 -.4 .7 .5 .2 .7-.2 .5 .3 .5-.7 -.5 .6 .1-.5 .4 .3 -.1-.6 -.4-.6 0 .7 -.6 .1 -.7-.1 .3-.4 .3-.5 .4 .2 .4-.5 .7-.1 -.5 .1 -.8-.2 .7 .1 -.1 .7M312.4 575.2l-.4 .4 -.7 .4 .3-.7 .5-.6 .4 .5 -.4 .6 -.6-.2 -.3 .5 -.2-.7 .7-.4M303.1 554.0l.7 .2 -.6-.1 .2 .5 -.3-.4 -.4 .3 -.6 .5 -.1 .6 0-.5 .3-.4 .7-.3 -.6-.2 -.4 .3 .1-.8 -.4-.4 .6-.4 -.5 .5 -.6-.1 .7 .2 .2-.5 -.3 .4 .5 .4 -.2-.6 .8-.3 -.2 .7 .4 .7M322.8 579.1l.4-.4 -.1 .5 -.4-.3 -.3-.5 .4 .2 .4-.2 -.3-.6 .2-.4 -.3 .8 -.6 .3 -.5 .1 -.3 .5 -.4 .6 -.7-.1 -.5-.4 -.8-.1 -.5-.1 .7 .2 -.4-.4 -.1-.4 -.1-.5 .3 .3M345.5 578.0l-.6-.4 -.3 .7 .4-.7 .7-.3 .1 .7 -.6-.1 -.5 .2 -.2 .6 .7-.4 .6 .2 .4 .7 -.6-.1 .8 0 -.4 .3 .5 .5 -.4 .7 .4-.3 .2-.4 .4-.3 .8 0 .4 .3 .7-.1 .4-.2 -.2-.6 .4-.7 -.7-.2M311.9 572.2l-.4 .6 .4 .4 .6-.4 .5-.3 .4 .6 -.3 .5 -.5 .6 .5 .4 -.8 0 -.8 .1 -.7-.2 -.1 .8 .4-.5 0 .8 -.2 .6 .2 .8 .1 .7 .4 .4 -.7-.2 .2-.5 .1 .8 .4-.6M337.7 550.5l0-.6 -.2-.7 .3 .3 .4 .3 .4-.4 .7 .5 -.2 .5 -.1 .8 .3 .6 .4 .3 -.4-.6 -.4-.7 -.7 0 .6 .2 -.4 .6 -.4-.4 .5 .3 -.6 .4 -.2 .6 -.3 .7 -.5-.5 -.3-.7 .5-.2 -.5 .4M335.3 563.5l.1 .6 .8-.1 -.1-.7 .5-.5 .4-.2 .5-.1 .5-.4 .4 .2 -.2-.7 -.4 .7 .2 .4 -.3 .6 .5-.5 .2-.5 -.2-.5 -.2 .6 .4 .5M332.7 565.7l-.3 .6 .1 .6 -.4-.3 -.2 .7 -.7-.4 0-.5 .5-.4 -.1-.5 .8-.1 .2-.4 -.5-.1 0 .5 .4 .5 .5-.4 .7-.3M352.0 559.3l-.1-.6 .4 .4 .4 .3 .4 .7 -.7 .3 -.2-.4 .3-.5 -.2 .7 .4 .5 0 .6 -.4 .2 -.3 .4 .5-.7 -.5-.5 .5 .3 .4 .6 .5 .5 -.1 .7 -.8 .3 -.2-.7 -.6-.1 .1-.7 .1-.5 -.4-.7 -.7-.3M316.2 576.8l.8-.1 .2 .4 .1-.6 -.7 .2 -.3 .7 .2-.6 .6-.4 0 .6 .5 0 .2 .6 .4 .6 -.2 .5 .5 .4 -.6-.2 -.2 .5 .1-.8 -.2 .4 .5-.1 -.5-.6 -.6-.4 .8-.1 .7-.5 .5 0 .2-.6 -.2 .5M317.8 588.7l.4-.4 .2 .6 .8-.1 .7 .3 .3-.7 -.2-.6 .4-.3 .8 .1 0-.7 -.2-.5 .2-.5 .2 .6 -.3 .5 0-.7M342.5 590.2l.6 .3 .6 .6 0 .8 .1 .5 .4-.4 0 .7 .2-.7 .6-.5 -.8-.2 -.6-.2 .4-.3 .6-.3 .2-.6 -.3-.4 -.7-.4 .2-.8 -.3-.4 -.2 .5 .2-.8 -.6 0 -.6-.4 .7-.1M344.0 565.0l.3-.7 .7-.4 .2 .6 -.3 .4 -.6 .6 .5-.3 -.4-.5 .4-.7 -.3-.6 -.8-.1 .6 0 .7-.1 .6 .5 .7-.1 -.7-.4 -.2 .5 -.4-.2 -.2 .5 -.3 .6 .6 .2 -.5 .6" stroke="#5560c0" fill="none" stroke-width="0.55" stroke-opacity="0.85" stroke-linejoin="round"/><rect x="215.6" y="453.7" width="69.4" height="69.4" fill="none" stroke="#8e9fd2" stroke-width="1.8"/><rect x="215.6" y="524.5" width="69.4" height="69.7" fill="none" stroke="#8e9fd2" stroke-width="1.8"/><rect x="291.7" y="453.6" width="69" height="69.4" fill="none" stroke="#f0705e" stroke-width="1.5"/><rect x="291.7" y="524.4" width="69" height="69.9" fill="none" stroke="#f0705e" stroke-width="1.5"/><line x1="272.4" y1="517.9" x2="282" y2="517.9" stroke="#222" stroke-width="1.6"/><line x1="272.4" y1="589.9" x2="282" y2="589.9" stroke="#222" stroke-width="1.6"/><line x1="348.8" y1="516.2" x2="358.1" y2="516.2" stroke="#000" stroke-width="1.5"/><line x1="348.8" y1="589.1" x2="358.1" y2="589.1" stroke="#000" stroke-width="1.5"/><rect x="365.6" y="465.6" width="6.5" height="119.8" fill="url(#jet)"/><text x="363.2" y="459.4" font-size="8.3" font-weight="bold" stroke="#000" stroke-width="0.14">50 s</text><text x="364.3" y="595" font-size="8.3" font-weight="bold" stroke="#000" stroke-width="0.14">0 s</text>
</g>
<g id="panel-n">
<text x="388.4" y="458.1" font-size="13.7" font-weight="bold" stroke="#000" stroke-width="0.14">n</text><path d="M422.5 499.64 L437.9 533.65 L453.3 549.57 L468.7 556.08 L484.1 557.53" fill="none" stroke="#f08a3a" stroke-width="1.1" stroke-linejoin="round"/><path d="M422.5 497.74 L424.3 500.94 L420.7 500.94Z" fill="#f08a3a"/><line x1="437.9" y1="527.14" x2="437.9" y2="540.16" stroke="#f08a3a" stroke-width="0.9"/><line x1="436.3" y1="527.14" x2="439.5" y2="527.14" stroke="#f08a3a" stroke-width="0.9"/><line x1="436.3" y1="540.16" x2="439.5" y2="540.16" stroke="#f08a3a" stroke-width="0.9"/><path d="M437.9 531.75 L439.7 534.95 L436.1 534.95Z" fill="#f08a3a"/><line x1="453.3" y1="543.78" x2="453.3" y2="555.36" stroke="#f08a3a" stroke-width="0.9"/><line x1="451.7" y1="543.78" x2="454.9" y2="543.78" stroke="#f08a3a" stroke-width="0.9"/><line x1="451.7" y1="555.36" x2="454.9" y2="555.36" stroke="#f08a3a" stroke-width="0.9"/><path d="M453.3 547.67 L455.1 550.87 L451.5 550.87Z" fill="#f08a3a"/><line x1="468.7" y1="550.29" x2="468.7" y2="561.87" stroke="#f08a3a" stroke-width="0.9"/><line x1="467.1" y1="550.29" x2="470.3" y2="550.29" stroke="#f08a3a" stroke-width="0.9"/><line x1="467.1" y1="561.87" x2="470.3" y2="561.87" stroke="#f08a3a" stroke-width="0.9"/><path d="M468.7 554.18 L470.5 557.38 L466.9 557.38Z" fill="#f08a3a"/><line x1="484.1" y1="554.63" x2="484.1" y2="560.42" stroke="#f08a3a" stroke-width="0.9"/><line x1="482.5" y1="554.63" x2="485.7" y2="554.63" stroke="#f08a3a" stroke-width="0.9"/><line x1="482.5" y1="560.42" x2="485.7" y2="560.42" stroke="#f08a3a" stroke-width="0.9"/><path d="M484.1 555.63 L485.9 558.83 L482.3 558.83Z" fill="#f08a3a"/><path d="M422.5 499.64 L437.9 521.35 L453.3 535.1 L468.7 547.4 L484.1 555.36" fill="none" stroke="#3f57c4" stroke-width="1.1" stroke-linejoin="round"/><circle cx="422.5" cy="499.64" r="1.55" fill="#3f57c4"/><line x1="437.9" y1="517.73" x2="437.9" y2="524.97" stroke="#3f57c4" stroke-width="0.9"/><line x1="436.3" y1="517.73" x2="439.5" y2="517.73" stroke="#3f57c4" stroke-width="0.9"/><line x1="436.3" y1="524.97" x2="439.5" y2="524.97" stroke="#3f57c4" stroke-width="0.9"/><circle cx="437.9" cy="521.35" r="1.55" fill="#3f57c4"/><line x1="453.3" y1="532.2" x2="453.3" y2="537.99" stroke="#3f57c4" stroke-width="0.9"/><line x1="451.7" y1="532.2" x2="454.9" y2="532.2" stroke="#3f57c4" stroke-width="0.9"/><line x1="451.7" y1="537.99" x2="454.9" y2="537.99" stroke="#3f57c4" stroke-width="0.9"/><circle cx="453.3" cy="535.1" r="1.55" fill="#3f57c4"/><line x1="468.7" y1="544.5" x2="468.7" y2="550.29" stroke="#3f57c4" stroke-width="0.9"/><line x1="467.1" y1="544.5" x2="470.3" y2="544.5" stroke="#3f57c4" stroke-width="0.9"/><line x1="467.1" y1="550.29" x2="470.3" y2="550.29" stroke="#3f57c4" stroke-width="0.9"/><circle cx="468.7" cy="547.4" r="1.55" fill="#3f57c4"/><line x1="484.1" y1="550.29" x2="484.1" y2="560.42" stroke="#3f57c4" stroke-width="0.9"/><line x1="482.5" y1="550.29" x2="485.7" y2="550.29" stroke="#3f57c4" stroke-width="0.9"/><line x1="482.5" y1="560.42" x2="485.7" y2="560.42" stroke="#3f57c4" stroke-width="0.9"/><circle cx="484.1" cy="555.36" r="1.55" fill="#3f57c4"/><path d="M422.5 499.64 L437.9 515.56 L453.3 516.28 L468.7 519.9 L484.1 514.84" fill="none" stroke="#e9342a" stroke-width="1.1" stroke-linejoin="round"/><rect x="421.1" y="498.24" width="2.8" height="2.8" fill="#e9342a"/><line x1="437.9" y1="511.22" x2="437.9" y2="519.9" stroke="#e9342a" stroke-width="0.9"/><line x1="436.3" y1="511.22" x2="439.5" y2="511.22" stroke="#e9342a" stroke-width="0.9"/><line x1="436.3" y1="519.9" x2="439.5" y2="519.9" stroke="#e9342a" stroke-width="0.9"/><rect x="436.5" y="514.16" width="2.8" height="2.8" fill="#e9342a"/><line x1="453.3" y1="514.11" x2="453.3" y2="518.45" stroke="#e9342a" stroke-width="0.9"/><line x1="451.7" y1="514.11" x2="454.9" y2="514.11" stroke="#e9342a" stroke-width="0.9"/><line x1="451.7" y1="518.45" x2="454.9" y2="518.45" stroke="#e9342a" stroke-width="0.9"/><rect x="451.9" y="514.88" width="2.8" height="2.8" fill="#e9342a"/><line x1="468.7" y1="516.28" x2="468.7" y2="523.52" stroke="#e9342a" stroke-width="0.9"/><line x1="467.1" y1="516.28" x2="470.3" y2="516.28" stroke="#e9342a" stroke-width="0.9"/><line x1="467.1" y1="523.52" x2="470.3" y2="523.52" stroke="#e9342a" stroke-width="0.9"/><rect x="467.3" y="518.5" width="2.8" height="2.8" fill="#e9342a"/><line x1="484.1" y1="513.39" x2="484.1" y2="516.28" stroke="#e9342a" stroke-width="0.9"/><line x1="482.5" y1="513.39" x2="485.7" y2="513.39" stroke="#e9342a" stroke-width="0.9"/><line x1="482.5" y1="516.28" x2="485.7" y2="516.28" stroke="#e9342a" stroke-width="0.9"/><rect x="482.7" y="513.44" width="2.8" height="2.8" fill="#e9342a"/><line x1="412.7" y1="470.2" x2="412.7" y2="572.5" stroke="#000" stroke-width="1"/><line x1="412.2" y1="572" x2="495" y2="572" stroke="#000" stroke-width="1"/><line x1="408.8" y1="572" x2="412.7" y2="572" stroke="#000" stroke-width="1"/><text x="407.5" y="574.7" font-size="8" text-anchor="end" font-weight="bold" stroke="#000" stroke-width="0.14">0.0</text><line x1="408.8" y1="557.53" x2="412.7" y2="557.53" stroke="#000" stroke-width="1"/><text x="407.5" y="560.23" font-size="8" text-anchor="end" font-weight="bold" stroke="#000" stroke-width="0.14">0.2</text><line x1="408.8" y1="543.06" x2="412.7" y2="543.06" stroke="#000" stroke-width="1"/><text x="407.5" y="545.76" font-size="8" text-anchor="end" font-weight="bold" stroke="#000" stroke-width="0.14">0.4</text><line x1="408.8" y1="528.58" x2="412.7" y2="528.58" stroke="#000" stroke-width="1"/><text x="407.5" y="531.28" font-size="8" text-anchor="end" font-weight="bold" stroke="#000" stroke-width="0.14">0.6</text><line x1="408.8" y1="514.11" x2="412.7" y2="514.11" stroke="#000" stroke-width="1"/><text x="407.5" y="516.81" font-size="8" text-anchor="end" font-weight="bold" stroke="#000" stroke-width="0.14">0.8</text><line x1="408.8" y1="499.64" x2="412.7" y2="499.64" stroke="#000" stroke-width="1"/><text x="407.5" y="502.34" font-size="8" text-anchor="end" font-weight="bold" stroke="#000" stroke-width="0.14">1.0</text><line x1="408.8" y1="485.17" x2="412.7" y2="485.17" stroke="#000" stroke-width="1"/><text x="407.5" y="487.87" font-size="8" text-anchor="end" font-weight="bold" stroke="#000" stroke-width="0.14">1.2</text><line x1="408.8" y1="470.7" x2="412.7" y2="470.7" stroke="#000" stroke-width="1"/><text x="407.5" y="473.4" font-size="8" text-anchor="end" font-weight="bold" stroke="#000" stroke-width="0.14">1.4</text><line x1="422.5" y1="572" x2="422.5" y2="576.3" stroke="#000" stroke-width="1"/><text x="422.5" y="584.2" font-size="8" text-anchor="middle" font-weight="bold" stroke="#000" stroke-width="0.14">10</text><line x1="437.9" y1="572" x2="437.9" y2="576.3" stroke="#000" stroke-width="1"/><text x="437.9" y="584.2" font-size="8" text-anchor="middle" font-weight="bold" stroke="#000" stroke-width="0.14">20</text><line x1="453.3" y1="572" x2="453.3" y2="576.3" stroke="#000" stroke-width="1"/><text x="453.3" y="584.2" font-size="8" text-anchor="middle" font-weight="bold" stroke="#000" stroke-width="0.14">30</text><line x1="468.7" y1="572" x2="468.7" y2="576.3" stroke="#000" stroke-width="1"/><text x="468.7" y="584.2" font-size="8" text-anchor="middle" font-weight="bold" stroke="#000" stroke-width="0.14">40</text><line x1="484.1" y1="572" x2="484.1" y2="576.3" stroke="#000" stroke-width="1"/><text x="484.1" y="584.2" font-size="8" text-anchor="middle" font-weight="bold" stroke="#000" stroke-width="0.14">50</text><text x="453.3" y="597.2" font-size="8.6" text-anchor="middle" font-weight="bold" stroke="#000" stroke-width="0.14">Time (s)</text><text x="391.2" y="520.6" font-size="8.35" text-anchor="middle" font-weight="bold" transform="rotate(-90 391.2 520.6)" stroke="#000" stroke-width="0.14">Nomalized Traces Count</text><line x1="439.9" y1="471.4" x2="450.6" y2="471.4" stroke="#e9342a" stroke-width="1.1"/><rect x="443.8" y="470" width="2.8" height="2.8" fill="#e9342a"/><text x="455.9" y="474" font-size="7.3" font-weight="bold" stroke="#000" stroke-width="0.14">ReTag8</text><line x1="439.9" y1="479.6" x2="450.6" y2="479.6" stroke="#3f57c4" stroke-width="1.1"/><circle cx="445.2" cy="479.6" r="1.55" fill="#3f57c4"/><text x="455.9" y="482.2" font-size="7.3" font-weight="bold" stroke="#000" stroke-width="0.14">Halo-Tag</text><line x1="439.9" y1="488" x2="450.6" y2="488" stroke="#f08a3a" stroke-width="1.1"/><path d="M445.2 486.1 L447 489.3 L443.4 489.3Z" fill="#f08a3a"/><text x="455.9" y="490.6" font-size="7.3" font-weight="bold" stroke="#000" stroke-width="0.14">TMP-Tag8</text>
</g>
<g id="panel-o">
<text x="503.6" y="458.2" font-size="13.7" font-weight="bold" stroke="#000" stroke-width="0.14">o</text><g fill="#f4868e" stroke="#5e1a22" stroke-width="0.8"><rect x="525.80" y="508.17" width="3.09" height="64.53"/><rect x="528.89" y="507.09" width="3.09" height="65.61"/><rect x="531.98" y="507.58" width="3.09" height="65.12"/><rect x="535.07" y="509.79" width="3.09" height="62.91"/><rect x="538.16" y="511.58" width="3.09" height="61.12"/><rect x="541.25" y="513.58" width="3.09" height="59.12"/><rect x="544.34" y="518.63" width="3.09" height="54.07"/><rect x="547.43" y="521.18" width="3.09" height="51.52"/><rect x="550.52" y="523.85" width="3.09" height="48.85"/><rect x="553.61" y="526.19" width="3.09" height="46.51"/><rect x="556.70" y="529.63" width="3.09" height="43.07"/><rect x="559.79" y="533.14" width="3.09" height="39.56"/><rect x="562.88" y="532.61" width="3.09" height="40.09"/><rect x="565.97" y="538.81" width="3.09" height="33.89"/><rect x="569.06" y="542.21" width="3.09" height="30.49"/><rect x="572.15" y="543.86" width="3.09" height="28.84"/><rect x="575.24" y="549.61" width="3.09" height="23.09"/><rect x="578.33" y="549.61" width="3.09" height="23.09"/><rect x="581.42" y="548.23" width="3.09" height="24.47"/><rect x="584.51" y="549.61" width="3.09" height="23.09"/><rect x="587.60" y="552.62" width="3.09" height="20.08"/><rect x="590.69" y="547.23" width="3.09" height="25.47"/><rect x="593.78" y="560.27" width="3.09" height="12.43"/><rect x="596.87" y="557.02" width="3.09" height="15.68"/><rect x="599.96" y="564.86" width="3.09" height="7.84"/><rect x="603.05" y="557.02" width="3.09" height="15.68"/><rect x="606.14" y="557.02" width="3.09" height="15.68"/><rect x="612.32" y="564.86" width="3.09" height="7.84"/><rect x="652.49" y="564.86" width="3.09" height="7.84"/></g><g opacity="0.86"><g fill="#6e48d8" stroke="#1c1048" stroke-width="0.8"><rect x="525.80" y="496.58" width="3.09" height="76.12"/><rect x="528.89" y="500.56" width="3.09" height="72.14"/><rect x="531.98" y="508.55" width="3.09" height="64.15"/><rect x="535.07" y="513.16" width="3.09" height="59.54"/><rect x="538.16" y="521.18" width="3.09" height="51.52"/><rect x="541.25" y="526.57" width="3.09" height="46.13"/><rect x="544.34" y="531.85" width="3.09" height="40.85"/><rect x="547.43" y="537.23" width="3.09" height="35.47"/><rect x="550.52" y="538.81" width="3.09" height="33.89"/><rect x="553.61" y="548.23" width="3.09" height="24.47"/><rect x="556.70" y="545.88" width="3.09" height="26.82"/><rect x="559.79" y="557.60" width="3.09" height="15.10"/><rect x="562.88" y="550.21" width="3.09" height="22.49"/><rect x="565.97" y="545.88" width="3.09" height="26.82"/><rect x="569.06" y="552.62" width="3.09" height="20.08"/><rect x="572.15" y="552.62" width="3.09" height="20.08"/><rect x="575.24" y="557.60" width="3.09" height="15.10"/><rect x="581.42" y="564.86" width="3.09" height="7.84"/><rect x="584.51" y="564.86" width="3.09" height="7.84"/><rect x="627.77" y="560.27" width="3.09" height="12.43"/></g></g><line x1="525.5" y1="468" x2="525.5" y2="573.2" stroke="#000" stroke-width="1"/><line x1="525" y1="572.7" x2="678.4" y2="572.7" stroke="#000" stroke-width="1"/><line x1="521.6" y1="572.7" x2="525.5" y2="572.7" stroke="#000" stroke-width="1"/><text x="519.9" y="575.5" font-size="8" text-anchor="end" font-weight="bold" stroke="#000" stroke-width="0.14">1</text><line x1="521.6" y1="546.65" x2="525.5" y2="546.65" stroke="#000" stroke-width="1"/><text x="519.9" y="549.45" font-size="8" text-anchor="end" font-weight="bold" stroke="#000" stroke-width="0.14">10</text><line x1="521.6" y1="520.6" x2="525.5" y2="520.6" stroke="#000" stroke-width="1"/><text x="519.9" y="523.4" font-size="8" text-anchor="end" font-weight="bold" stroke="#000" stroke-width="0.14">100</text><line x1="521.6" y1="494.55" x2="525.5" y2="494.55" stroke="#000" stroke-width="1"/><text x="519.9" y="497.35" font-size="8" text-anchor="end" font-weight="bold" stroke="#000" stroke-width="0.14">1000</text><line x1="521.6" y1="468.5" x2="525.5" y2="468.5" stroke="#000" stroke-width="1"/><text x="519.9" y="471.3" font-size="8" text-anchor="end" font-weight="bold" stroke="#000" stroke-width="0.14">10000</text><line x1="554" y1="572.7" x2="554" y2="577" stroke="#000" stroke-width="1"/><text x="554" y="585.5" font-size="8" text-anchor="middle" font-weight="bold" stroke="#000" stroke-width="0.14">50</text><line x1="584.9" y1="572.7" x2="584.9" y2="577" stroke="#000" stroke-width="1"/><text x="584.9" y="585.5" font-size="8" text-anchor="middle" font-weight="bold" stroke="#000" stroke-width="0.14">100</text><line x1="615.8" y1="572.7" x2="615.8" y2="577" stroke="#000" stroke-width="1"/><text x="615.8" y="585.5" font-size="8" text-anchor="middle" font-weight="bold" stroke="#000" stroke-width="0.14">150</text><line x1="646.7" y1="572.7" x2="646.7" y2="577" stroke="#000" stroke-width="1"/><text x="646.7" y="585.5" font-size="8" text-anchor="middle" font-weight="bold" stroke="#000" stroke-width="0.14">200</text><line x1="677.6" y1="572.7" x2="677.6" y2="577" stroke="#000" stroke-width="1"/><text x="677.6" y="585.5" font-size="8" text-anchor="middle" font-weight="bold" stroke="#000" stroke-width="0.14">250</text><text x="603.9" y="596.1" font-size="8.8" text-anchor="middle" font-weight="bold" stroke="#000" stroke-width="0.14">Frame no.</text><text x="502.9" y="526.3" font-size="8.5" text-anchor="middle" font-weight="bold" transform="rotate(-90 502.9 526.3)" stroke="#000" stroke-width="0.14">Count</text><rect x="583.9" y="468.6" width="3.6" height="2" fill="#f2858e" stroke="#8e2630" stroke-width="0.6"/><rect x="583.9" y="476.9" width="3.6" height="2" fill="#6a70d8" stroke="#2c1c78" stroke-width="0.6"/><text x="596.8" y="471.6" font-size="5.75" font-weight="bold" stroke="#000" stroke-width="0.14">ReTag8 + 200nM MaP655-TMP</text><text x="596.8" y="479.9" font-size="5.75" font-weight="bold" stroke="#000" stroke-width="0.14">Halo-Tag + 1nM SiR-HTL</text>
</g>
</svg>
</body>
</html>
